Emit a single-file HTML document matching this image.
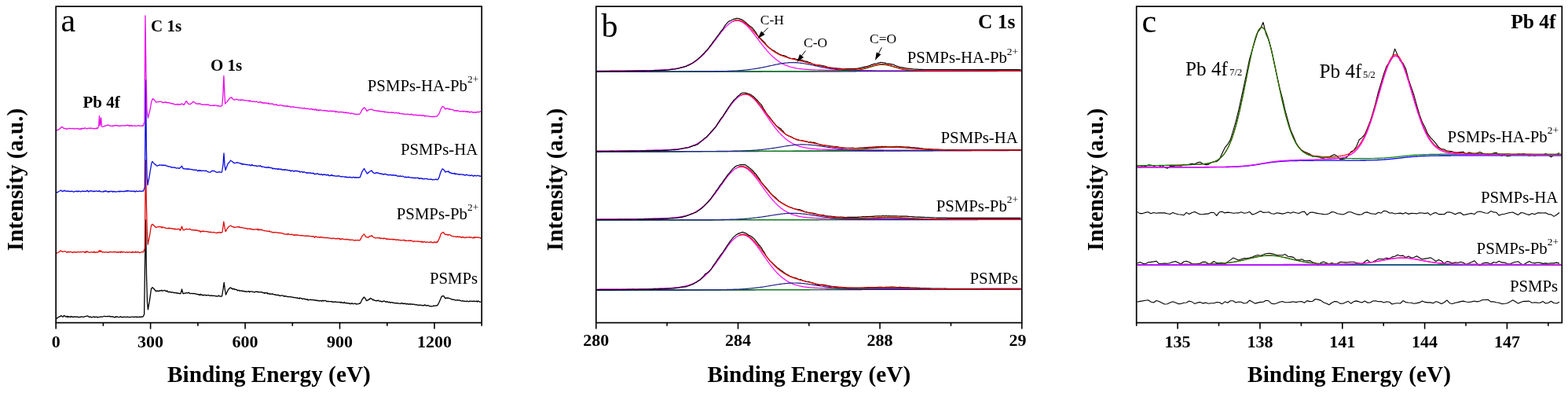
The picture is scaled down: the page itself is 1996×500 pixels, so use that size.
<!DOCTYPE html>
<html><head><meta charset="utf-8"><title>XPS spectra</title>
<style>
html,body{margin:0;padding:0;background:#fff;}
body{width:1996px;height:500px;overflow:hidden;}
svg{display:block;}
svg text{font-family:'Liberation Serif','Times New Roman',serif;fill:#000;}
</style></head><body>
<svg width="1996" height="500" viewBox="0 0 1996 500">
<rect width="1996" height="500" fill="#fff"/>
<g>
<path d="M71.8 404.8 L72.6 405 L73.5 403.9 L74.3 403.5 L75.2 403 L76 403 L76.9 402.2 L77.8 401.4 L78.8 402.4 L79.9 403.3 L81.4 401.4 L82.6 402.1 L83.8 402.9 L84.6 403.2 L85.5 402.1 L86.3 403.6 L87.2 402.7 L88 403.1 L88.9 403 L89.8 403.6 L90.6 402.4 L91.5 403 L92.3 403 L93.2 403.6 L94 403.2 L94.8 402.8 L95.6 403.2 L96.4 402.9 L97.2 403.2 L98 403.4 L98.8 402.9 L99.6 403.6 L100.4 403.6 L101.2 403.4 L102 403.6 L102.8 403 L103.6 403.2 L104.4 403 L105.2 403.2 L106 403.3 L106.9 403.3 L107.7 402.7 L108.6 402.6 L109.5 402.4 L110.4 402.1 L111.2 402 L112.1 402.1 L113.3 403.3 L114.1 403.3 L115 402.9 L115.8 403.4 L116.7 403.9 L117.5 403.5 L118.3 403.2 L119.2 403 L120 403 L120.9 403.8 L121.7 403.3 L122.5 403 L123.4 403.3 L124.2 404 L125.1 403.3 L125.9 403.4 L126.7 403.3 L127.6 403.1 L128.4 402.8 L129.3 403.1 L130.1 403.2 L130.9 402.9 L131.7 402.7 L132.5 402.4 L133.4 402.3 L134.2 402.6 L135.1 402.7 L136 402.7 L136.9 402.5 L137.7 402.7 L138.6 402.4 L139.5 402.2 L140.3 403 L141.2 402.8 L142.1 402.6 L143 403 L143.8 402.9 L144.7 403.4 L145.6 403.6 L146.5 403.9 L147.3 402.7 L148.2 403.3 L149 402.8 L149.8 403.1 L150.7 403.4 L151.5 403.6 L152.3 403.4 L153.1 402.6 L153.9 403.2 L154.7 403.6 L155.6 403.4 L156.4 403.6 L157.2 403.2 L158 403.2 L158.8 403.4 L159.7 403.4 L160.5 403.4 L161.3 403.3 L162.1 403.1 L162.9 403.4 L163.7 403.3 L164.6 403.7 L165.4 403.7 L166.2 403.3 L167 403.4 L167.8 403.2 L168.7 403.1 L169.5 403.4 L170.3 403.3 L171.1 403.1 L171.9 403.3 L172.8 403 L173.6 403.5 L174.4 403.1 L175.2 403.7 L176.1 403.4 L176.9 403.4 L177.7 402.8 L178.5 403.3 L179.3 403.5 L180.2 402.9 L181 403.1 L181.8 403.2 L182.7 401.6 L183.6 400 L184.6 330 L185.5 280 L186.5 350 L187.5 385 L188.4 393.8 L189.4 387.9 L190.5 382 L191.5 374.8 L192.5 367.5 L194 365.8 L195 366.6 L196 367.5 L196.8 368.5 L197.7 369.5 L198.5 370.5 L199.3 370.4 L200.1 369.9 L201 370.4 L201.8 370.5 L202.6 369.8 L203.4 370.2 L204.2 369.5 L205.1 369.9 L205.9 369.3 L206.7 370.2 L207.5 369.9 L208.4 369.6 L209.2 369.3 L210 369.5 L210.9 370.2 L211.7 370.8 L212.6 369.7 L213.4 371.1 L214.3 371.5 L215.1 371.3 L216 371.5 L216.8 371.2 L217.6 372 L218.5 371.8 L219.3 371.8 L220.1 371.7 L220.9 372.4 L221.8 372.6 L222.6 372.2 L223.4 372.7 L224.2 372.3 L225.1 373.1 L225.9 372.9 L226.7 373 L227.5 373.1 L228.4 373.6 L229.2 373.6 L230 373.5 L231.5 368 L233 373.5 L233.8 373.5 L234.7 373.2 L235.5 373 L236.3 373 L237.2 372.7 L238 372.5 L238.8 372.9 L239.6 372.6 L240.5 372 L241.3 373.3 L242.1 373.8 L242.9 373.3 L243.7 373.3 L244.5 373.4 L245.4 373.5 L246.2 373.6 L247 373.4 L247.8 373.7 L248.6 373.6 L249.5 374.2 L250.3 374.1 L251.1 374.5 L251.9 374.4 L252.7 374.9 L253.5 374.7 L254.4 375.5 L255.2 374.2 L256 375 L256.8 374.8 L257.7 375.4 L258.5 376.1 L259.3 375.2 L260.2 375.3 L261 375.3 L261.8 375.9 L262.7 375.4 L263.5 375.8 L264.3 375.6 L265.2 375.3 L266 375.9 L266.8 376 L267.7 376.4 L268.5 376 L269.3 375.9 L270.2 376.3 L271 376.2 L271.8 376.3 L272.6 376.4 L273.5 376.3 L274.3 376.8 L275.1 376.5 L275.9 377.1 L276.8 376.9 L277.6 376.8 L278.4 376 L279.2 376.8 L280 376.8 L280.9 377 L281.7 377.1 L282.5 376.8 L284 368 L285.2 359.5 L286.3 368 L287.5 375 L288.5 372.8 L289.5 370.7 L290.5 368.5 L291.3 367.7 L292.2 366.8 L293 366 L293.9 366.2 L294.7 367 L295.6 366.9 L296.4 368.1 L297.3 367.3 L298.1 367.5 L299 368.5 L299.9 368.1 L300.8 368.6 L301.6 368.7 L302.5 369.9 L303.4 369.3 L304.2 369.2 L305.1 370.2 L306 370 L306.8 369.9 L307.7 369.7 L308.5 370.5 L309.3 370.5 L310.2 370.2 L311 370.9 L311.8 370.5 L312.7 371.1 L313.5 370.8 L314.3 371.2 L315.2 370.8 L316 370.8 L316.8 370.4 L317.6 371.8 L318.4 370.8 L319.2 370.9 L320 370.8 L320.8 371 L321.6 371.2 L322.4 371.3 L323.2 371.5 L324 371.9 L324.8 371.3 L325.6 371 L326.4 371 L327.2 371.3 L328 371 L328.8 371.9 L329.6 371.5 L330.4 371.6 L331.2 371.7 L332 371.8 L332.8 371.4 L333.6 371.8 L334.4 372.4 L335.2 372.6 L336 372.3 L336.8 373.2 L337.6 372.3 L338.4 372.8 L339.2 372.9 L340 372.2 L340.8 374 L341.6 373.5 L342.4 373.2 L343.2 374.4 L344 374 L344.8 374.1 L345.6 373.9 L346.4 374.3 L347.2 373.8 L348 374.5 L348.8 374.9 L349.6 374.6 L350.4 374.9 L351.2 375.4 L352 375.2 L352.8 375.3 L353.6 375.5 L354.4 375.2 L355.2 375.9 L356 376.3 L356.8 376.1 L357.6 376.3 L358.4 375.8 L359.2 375.9 L360 375.9 L360.8 376.9 L361.6 376.5 L362.4 377.2 L363.2 376.6 L364 377 L364.8 377 L365.6 377.3 L366.4 377.7 L367.2 377.5 L368 377.6 L368.8 377.7 L369.6 377.9 L370.4 377.5 L371.2 378.1 L372 378.1 L372.8 378.2 L373.6 378.6 L374.4 378.3 L375.2 378.6 L376 378.6 L376.8 379 L377.6 379.2 L378.4 378.7 L379.2 379.4 L380 379.3 L380.8 380.1 L381.6 379 L382.4 379.3 L383.2 379.4 L384.1 379.8 L384.9 380.5 L385.7 380.1 L386.5 379.9 L387.3 380.5 L388.1 380.2 L388.9 380.9 L389.7 380.7 L390.5 381.2 L391.3 380.6 L392.1 382 L393 381.3 L393.8 381.4 L394.6 381.3 L395.4 381.1 L396.2 381.5 L397 381.3 L397.9 381.6 L398.7 381.5 L399.5 381.9 L400.4 381.6 L401.2 382.2 L402 382.4 L402.9 381.9 L403.7 382.6 L404.5 382.2 L405.3 382.8 L406.2 382.6 L407 382.9 L407.8 382.3 L408.7 382.6 L409.5 383.3 L410.3 382.6 L411.2 382.2 L412 383 L412.8 382.4 L413.6 382.3 L414.4 382.5 L415.3 383.1 L416.1 383.8 L416.9 383.2 L417.7 383.6 L418.5 383.5 L419.3 383.6 L420.1 383.6 L421 383.7 L421.8 383.9 L422.6 383.4 L423.4 384.3 L424.2 384.3 L425 384 L425.9 384.4 L426.7 383.9 L427.5 384 L428.3 384.3 L429.1 384.4 L430 384.4 L430.8 384.4 L431.6 384.4 L432.4 384.5 L433.3 385.1 L434.1 384.2 L434.9 385.1 L435.7 384.9 L436.6 385.3 L437.4 385.3 L438.2 384.3 L439 385.5 L439.9 385.5 L440.7 385.5 L441.5 385.4 L442.3 385.9 L443.2 385.6 L444 385.8 L444.8 386.5 L445.7 386.2 L446.5 386.8 L447.4 385.8 L448.2 385.6 L449.1 386.5 L449.9 386.6 L450.8 386.4 L451.6 386 L452.5 386.4 L453.3 386.9 L454.2 386.7 L455 386.8 L455.9 386.6 L456.8 386.3 L457.7 385.9 L458.6 386 L459.8 383.5 L461 381 L462.2 379.5 L463.4 378 L464.3 379 L465.2 379.8 L466.1 382.1 L467 382.6 L467.9 381.9 L468.7 381.8 L469.6 380.7 L470.5 380.9 L471.3 379.4 L472.2 379.6 L473.1 380.4 L474 380.6 L474.8 381.9 L475.7 381.2 L476.6 382.2 L477.4 382.3 L478.2 382.5 L479 382.9 L479.8 382.4 L480.6 382.7 L481.4 382 L482.3 382.6 L483.1 383.1 L483.9 383.4 L484.7 383 L485.5 383.9 L486.3 383.9 L487.1 383.4 L487.9 383.5 L488.7 382.8 L489.5 383.1 L490.3 383.5 L491.1 384.3 L491.9 384.1 L492.7 383.4 L493.5 384.1 L494.3 384.9 L495.1 384.3 L495.9 384.2 L496.7 385.3 L497.5 384.7 L498.3 384.6 L499.1 385 L499.9 385 L500.7 384.9 L501.5 385.6 L502.3 385.7 L503.1 385.4 L503.9 385.8 L504.7 385.5 L505.5 386 L506.3 385.6 L507.1 385.9 L507.9 386.1 L508.7 386.1 L509.5 386.5 L510.3 386.1 L511.1 385.4 L511.9 385.7 L512.7 386.6 L513.5 386.1 L514.3 386.4 L515.1 386 L515.9 386.7 L516.7 386.3 L517.5 387 L518.3 386.4 L519.1 386.6 L519.9 387.1 L520.7 387 L521.5 386.6 L522.3 387.3 L523.1 386.7 L523.9 386.8 L524.7 387.4 L525.5 387 L526.3 387.1 L527.2 387.3 L528 387.1 L528.8 387.9 L529.6 387.9 L530.4 387.7 L531.2 387.8 L532 388 L532.8 388.6 L533.6 388.3 L534.4 387.9 L535.2 388.2 L536 388.5 L536.8 388.3 L537.6 388.3 L538.4 389.1 L539.2 388.4 L540 388.4 L540.8 387.9 L541.6 388.2 L542.4 388.9 L543.2 388.6 L544 389 L544.8 388.5 L545.6 388.7 L546.4 389.3 L547.2 389.6 L548 389.4 L548.8 389.6 L549.6 389.9 L550.4 389.7 L551.2 389.4 L552.1 388.9 L553.1 389.1 L554 389.2 L554.9 388.7 L555.9 388.9 L556.8 388.6 L557.6 387.1 L558.4 385.7 L559.2 384.2 L560.1 381.9 L561.1 379.7 L562 377.4 L563 376.9 L564 376.4 L564.8 376.7 L565.6 377.8 L566.4 379.1 L567.2 379.8 L568 378.9 L568.8 379.2 L569.6 379.5 L570.4 378.8 L571.2 379.3 L572 379.7 L572.8 379.7 L573.6 380.2 L574.4 380.6 L575.2 381 L576 381.2 L576.8 381 L577.6 381.3 L578.4 381.2 L579.2 381.7 L580 382.2 L580.8 381.8 L581.6 381.9 L582.4 381.5 L583.2 382.2 L584.1 381.8 L584.9 381.9 L585.7 382.5 L586.5 382.5 L587.3 382.9 L588.1 383.1 L588.9 382.5 L589.7 382.8 L590.5 383.5 L591.3 383 L592.1 383.4 L592.9 383.3 L593.7 383.5 L594.5 382.9 L595.3 383.4 L596.1 383.7 L597 383.8 L597.8 383 L598.6 383.2 L599.4 383.4 L600.2 383.2 L601 383.2 L601.8 383.6 L602.6 383.3 L603.4 382.8 L604.2 383.6 L605 383.4 L605.8 383.3 L606.6 383 L607.5 384 L608.3 382.9 L609.1 383.1 L609.9 383.6 L610.7 384.2 L611.5 384.2 L612.3 383.8" fill="none" stroke="#000000" stroke-width="1.3" stroke-linejoin="round" />
<path d="M71.5 322.4 L72.5 321.9 L73.5 321.5 L74.5 321 L75.3 320.4 L76.1 320.1 L76.9 318.9 L77.7 319.2 L78.8 319.9 L80 320.5 L81 320 L82 319.5 L83 319.9 L84 320.4 L85 320.8 L85.8 321.4 L86.6 320.2 L87.4 320.5 L88.2 321 L89 320.4 L89.8 320.4 L90.6 320.5 L91.5 321 L92.3 321.6 L93.1 320.8 L93.9 320.4 L94.7 321 L95.5 320.6 L96.3 320.8 L97.1 321.2 L97.9 320.5 L98.7 320.8 L99.5 320.5 L100.3 320.7 L101.1 320.9 L101.9 320.5 L102.7 320.7 L103.5 320.7 L104.4 320.6 L105.2 320.4 L106 320.3 L106.8 320.7 L107.6 320.7 L108.4 321.6 L109.2 319.9 L110 320.8 L111 319.8 L112 320.8 L112.8 320.8 L113.6 320.9 L114.4 321.3 L115.2 321 L116.1 320.5 L116.9 320.8 L117.7 321 L118.5 320.7 L119.3 321.1 L120.1 320.1 L120.9 321.4 L121.8 321.3 L122.6 320.7 L123.4 321 L124.2 320.8 L125 320.8 L126.5 318.5 L127.3 320.5 L128.3 318.9 L129.5 320.5 L131 320.8 L131.8 320.5 L132.6 320.8 L133.4 321.2 L134.2 320.7 L135 320.7 L135.8 320.8 L136.6 321 L137.4 321.2 L138.2 320.6 L139 321 L139.9 320.9 L140.7 320.1 L141.5 320.7 L142.3 320.8 L143.1 320.8 L143.9 320.9 L144.7 320.1 L145.5 320.8 L146.3 320.6 L147.1 320.3 L147.9 321 L148.7 321.1 L149.5 320.6 L150.3 321.1 L151.1 320.7 L151.9 320.8 L152.7 320.4 L153.5 321.4 L154.3 319.9 L155.1 320.8 L155.9 321 L156.8 320.1 L157.6 320.7 L158.4 320.8 L159.2 321.1 L160 321.2 L160.8 320.7 L161.6 320.3 L162.4 321.3 L163.2 321.2 L164 320.6 L164.8 320.9 L165.6 320.9 L166.4 321 L167.2 320.9 L168 321.3 L168.8 320.2 L169.6 321.2 L170.4 320.9 L171.2 320.7 L172 321.2 L172.8 320 L173.6 321.2 L174.5 320.9 L175.3 320.4 L176.1 321 L176.9 320.7 L177.7 321.7 L178.5 321.4 L179.3 321 L180.1 320.5 L180.9 320.6 L181.7 320.7 L182.5 320.8 L183.4 318.4 L184.3 316 L185.4 204 L186.4 260 L187.3 295 L188.2 311 L189.3 305.5 L190.5 300 L191.5 293.5 L192.5 287 L194 285.2 L195 286.1 L196 287 L196.8 287.8 L197.7 288.7 L198.5 289.5 L199.3 289.1 L200.1 288.8 L200.9 288.7 L201.7 288.6 L202.5 288.5 L203.3 288.5 L204.2 288.6 L205.1 288.6 L205.9 290 L206.8 288.7 L207.6 289 L208.4 289.7 L209.3 289.6 L210.2 290 L211 290 L211.8 290.4 L212.7 290.6 L213.5 290.6 L214.3 290.1 L215.2 290.9 L216 290 L216.8 290.7 L217.7 290.6 L218.5 290.5 L219.3 291.2 L220.2 291 L221 291.2 L221.8 291.6 L222.6 290.9 L223.5 291.8 L224.3 291.7 L225.1 291.7 L225.9 291.2 L226.7 291.7 L227.5 291.4 L228.4 291.3 L229.2 293.3 L230 292.2 L231.5 288 L233 292.5 L233.9 292.6 L234.8 292.6 L235.7 291.6 L236.6 291.7 L237.5 291.2 L238.3 291.6 L239.2 291.7 L240.1 291.6 L240.9 291.6 L241.8 291.1 L242.6 292.2 L243.4 292.3 L244.3 292.6 L245.2 292.3 L246 292.5 L246.8 293.2 L247.7 292.6 L248.5 292.4 L249.3 293.3 L250.2 293 L251 292.8 L251.8 293.4 L252.7 293.8 L253.5 293.7 L254.3 293.9 L255.2 295.3 L256 294 L256.8 294.4 L257.7 294.7 L258.5 293.6 L259.3 294.5 L260.2 294.7 L261 294.4 L261.8 294.3 L262.7 294.8 L263.5 294.6 L264.3 294.6 L265.2 295.3 L266 295 L266.8 295.6 L267.7 295.3 L268.5 295.1 L269.3 295.6 L270.2 295.8 L271 295.8 L271.8 295.2 L272.7 295.7 L273.5 296 L274.3 296.2 L275.2 296.4 L276 296.2 L276.9 296.4 L277.8 295.6 L278.6 295.7 L279.5 295.4 L280.4 296.4 L281.2 295.7 L282.1 295.8 L283 295.5 L284 288 L284.8 282 L285.8 288 L287 294.5 L287.8 293.7 L288.6 292 L289.4 290.5 L290.2 289.6 L291 288.5 L291.8 288 L292.7 287.5 L293.5 287 L294.4 287.4 L295.3 288.4 L296.2 288.6 L297.2 288.3 L298.1 289.3 L299 289.5 L300 289.2 L301 288.8 L302 288.5 L302.8 289 L303.6 288.5 L304.4 289.1 L305.2 288.7 L306 289.5 L306.8 289.7 L307.7 289.6 L308.5 289.4 L309.3 289.8 L310.2 290.2 L311 290.1 L311.8 290.5 L312.7 290.7 L313.5 290.3 L314.3 290.6 L315.2 291.6 L316 291 L316.8 291.1 L317.6 290.9 L318.4 291.3 L319.2 290.9 L320 291.8 L320.8 291.6 L321.6 291.9 L322.4 292 L323.2 291.9 L324 292.1 L324.8 291.9 L325.6 291.7 L326.4 291.7 L327.2 292 L328 291.3 L328.8 292.9 L329.6 291.8 L330.4 292.4 L331.2 292.1 L332 292.6 L332.8 292 L333.6 292.9 L334.4 292.9 L335.2 293.1 L336 293.5 L336.8 293.3 L337.6 293.7 L338.4 293.9 L339.2 293.8 L340 294 L340.8 294.4 L341.6 294.4 L342.4 294.5 L343.2 293.8 L344 294.8 L344.8 295.1 L345.6 295 L346.4 295.3 L347.2 296 L348 295.5 L348.8 295.6 L349.6 296 L350.4 295.5 L351.2 295.7 L352 295.9 L352.8 295.8 L353.6 296.3 L354.4 296.1 L355.2 296.5 L356 296.1 L356.8 296.2 L357.6 296.6 L358.4 296.6 L359.2 296.9 L360 297 L360.8 297.2 L361.6 297.8 L362.4 298 L363.2 297.9 L364 297.8 L364.8 297.8 L365.6 298.5 L366.4 297.5 L367.2 297.4 L368 298.3 L368.8 298.3 L369.6 298.3 L370.4 298.5 L371.2 297.9 L372 298.2 L372.8 299.1 L373.6 299.1 L374.4 298.6 L375.2 299.6 L376 298.6 L376.8 298.9 L377.6 299.3 L378.4 298.8 L379.2 299.1 L380 299.4 L380.8 299.4 L381.6 299.4 L382.4 299.9 L383.2 299.9 L384.1 299.4 L384.9 299.6 L385.7 300 L386.5 299.9 L387.3 299.8 L388.1 300.2 L388.9 300.5 L389.7 300 L390.5 300.6 L391.3 299.8 L392.1 299.9 L393 300.7 L393.8 300.3 L394.6 300.3 L395.4 300.6 L396.2 300.8 L397 300.6 L397.9 301.1 L398.7 300.5 L399.5 301 L400.4 302.3 L401.2 301.3 L402 300.6 L402.9 301.6 L403.7 301.7 L404.5 302 L405.3 301.7 L406.2 301.5 L407 302.3 L407.8 302.1 L408.7 301.3 L409.5 302.2 L410.3 302 L411.2 302.5 L412 302.2 L412.8 302.1 L413.6 302.6 L414.4 302.5 L415.3 302.7 L416.1 302.5 L416.9 302.4 L417.7 302.7 L418.5 302.9 L419.3 302.9 L420.1 303.4 L421 303.1 L421.8 303.2 L422.6 303.8 L423.4 303.1 L424.2 303.4 L425 303 L425.9 303.3 L426.7 303.9 L427.5 303.5 L428.3 303.5 L429.1 304.1 L430 303.3 L430.8 303.2 L431.6 303.9 L432.4 303.4 L433.3 304.8 L434.1 304.4 L434.9 303.6 L435.7 304.1 L436.6 304 L437.4 304.4 L438.2 304.3 L439 304.7 L439.9 305 L440.7 304.4 L441.5 304.2 L442.3 304.9 L443.2 304.7 L444 304.8 L444.8 305.3 L445.7 304.9 L446.5 305.3 L447.4 305.2 L448.2 305.1 L449.1 305.1 L449.9 305.5 L450.8 306.2 L451.6 305.7 L452.5 305.4 L453.3 305.8 L454.2 305.7 L455 305.7 L456.1 305.3 L457.1 305.8 L458.2 305.7 L459 304.1 L459.8 302.6 L460.6 301 L461.5 299.9 L462.5 298.9 L463.4 297.8 L464.2 299 L465 300.2 L465.8 301.4 L467 301.7 L468.2 302 L469 302.1 L469.8 301.1 L470.6 300.4 L471.4 300.6 L472.2 300.6 L473 299.6 L474.2 300.7 L475.4 301.8 L476.2 302.2 L477.1 302.4 L477.9 302.9 L478.7 302.8 L479.6 302.6 L480.4 302.4 L481.2 302.6 L482.1 302.7 L482.9 303.1 L483.8 302.6 L484.6 303.6 L485.4 303.2 L486.3 303.1 L487.1 303.4 L487.9 303.8 L488.7 302.8 L489.5 303.3 L490.3 303.5 L491.1 304.1 L491.9 303.7 L492.7 304.5 L493.5 303.9 L494.3 304.3 L495.1 304 L495.9 304.7 L496.7 304.3 L497.5 304.6 L498.3 304.3 L499.1 304.2 L499.9 304.6 L500.7 305.1 L501.5 304.5 L502.3 304.4 L503.1 305 L503.9 305 L504.7 305.4 L505.5 304.8 L506.3 305 L507.1 305.4 L507.9 305.2 L508.7 305.5 L509.5 305.9 L510.3 305.5 L511.1 305.6 L511.9 305.9 L512.7 305.7 L513.5 305.4 L514.3 305.5 L515.1 305.5 L515.9 306.6 L516.7 306 L517.5 306.3 L518.3 306.4 L519.1 306.2 L519.9 305.9 L520.7 306.6 L521.5 306.2 L522.3 305.7 L523.1 306.5 L523.9 306.2 L524.7 306.6 L525.5 306.9 L526.3 307.6 L527.2 306.7 L528 306.9 L528.8 307.2 L529.6 307.2 L530.4 307.1 L531.2 306.9 L532 307 L532.8 307.3 L533.6 307.1 L534.4 307.3 L535.2 307.6 L536 307.2 L536.8 308.1 L537.6 307.2 L538.4 308.4 L539.2 307.6 L540 307.5 L540.8 307.5 L541.6 308.2 L542.4 308.4 L543.2 307.8 L544 308.2 L544.8 308.1 L545.6 308.1 L546.4 308.3 L547.2 308.5 L548 307.6 L548.8 307.6 L549.6 308.5 L550.4 308.4 L551.2 308.5 L552.1 308.7 L553.1 307.8 L554 308 L554.9 308.8 L555.9 307.8 L556.8 308.2 L557.6 306.6 L558.4 305 L559.2 303.4 L560.4 300.2 L561.6 297 L562.5 296.5 L563.5 295.9 L564.4 295.4 L565.4 296.8 L566.4 298.2 L567.2 298.5 L568 298.2 L568.8 298.5 L569.6 298.3 L570.4 299.3 L571.2 298.3 L572 298.7 L572.8 298.9 L573.6 299.4 L574.7 300.2 L575.7 300.3 L576.8 300.6 L577.6 300.9 L578.4 300.8 L579.2 300.9 L580 301.1 L580.8 301.6 L581.6 301.2 L582.4 300.7 L583.2 301.7 L584 301.4 L584.9 301.1 L585.7 301.5 L586.5 301.3 L587.3 302.5 L588.1 301.7 L588.9 301.2 L589.7 302.1 L590.5 301.8 L591.3 302.2 L592.1 302.7 L592.9 302.2 L593.7 301.6 L594.5 302 L595.3 301.8 L596.1 301.9 L597 302 L597.8 301.5 L598.6 302.3 L599.4 301.9 L600.2 301.9 L601 302.5 L601.8 302.9 L602.6 302 L603.4 302.8 L604.2 301.5 L605 302.4 L605.8 302 L606.6 302.2 L607.5 301.9 L608.3 302 L609.1 302.1 L609.9 302.1 L610.7 302.3 L611.5 303 L612.3 302.2" fill="none" stroke="#e00a0a" stroke-width="1.3" stroke-linejoin="round" />
<path d="M71.5 245.3 L72.5 244.8 L73.5 244.3 L74.5 243.8 L75.5 243.2 L76.4 242.7 L77.4 242.1 L78.6 242.9 L79.8 243.7 L80.8 242.9 L81.9 242.1 L82.8 243.1 L83.7 243 L84.5 243.2 L85.4 243.5 L86.2 242.9 L87 243.4 L87.8 243.4 L88.6 243.5 L89.5 243.3 L90.3 243.5 L91.1 243.4 L91.9 243.1 L92.7 243.9 L93.5 243.9 L94.3 244.2 L95.1 243.6 L95.9 243.4 L96.8 243.4 L97.6 243 L98.4 243.9 L99.2 243.2 L100 243.6 L100.8 243.2 L101.7 243.5 L102.5 244 L103.3 243.6 L104.2 243.1 L105 243.2 L105.8 243.6 L106.7 243.3 L107.5 243.1 L108.3 243.3 L109.2 243.6 L110 243.3 L111 242.2 L112 243.4 L112.8 244.1 L113.6 243 L114.4 243.2 L115.2 243.1 L116 242.6 L116.9 243.1 L117.7 243.1 L118.5 243.8 L119.3 243.4 L120.1 242.9 L120.9 243.7 L121.7 243.3 L122.5 242.8 L123.3 243.3 L124.1 243.3 L124.9 243.2 L125.7 243.5 L126.6 242.7 L127.4 243.4 L128.2 243.8 L129 243.8 L129.8 243.9 L130.6 243.9 L131.4 244 L132.2 243.1 L133 243.8 L133.8 242.9 L134.6 243.3 L135.4 242.9 L136.3 243.9 L137.1 244 L137.9 243.5 L138.7 244.2 L139.5 243.3 L140.3 243.6 L141.1 243.6 L141.9 243.2 L142.7 243.7 L143.5 244.2 L144.3 243.2 L145.1 243.9 L146 243.5 L146.8 244.2 L147.6 243.8 L148.4 243.8 L149.2 243.8 L150 243.6 L150.8 243.7 L151.7 243.1 L152.5 244 L153.3 243.1 L154.2 243.6 L155 243.7 L155.8 243.2 L156.7 243.5 L157.5 243.9 L158.3 243.4 L159.2 243.1 L160 243.4 L161 242.5 L162 243.4 L162.8 242.4 L163.6 243 L164.5 243.2 L165.3 243.2 L166.1 243 L166.9 243.5 L167.7 243.1 L168.6 243.3 L169.4 243.6 L170.2 243 L171 243.2 L171.8 244.1 L172.7 243.6 L173.5 242.8 L174.3 243.3 L175.1 243.5 L175.9 243.7 L176.8 243.3 L177.6 243.1 L178.4 243 L179.2 243.5 L180 243.3 L180.9 243 L181.7 243.1 L182.5 243.2 L183.4 240.6 L184.3 238 L185.5 102 L186.4 190 L187 222 L188 235.5 L188.8 231 L189.7 226.5 L190.5 222 L191.3 217 L192.2 212 L193 207 L194 205.5 L195 206.8 L196 208 L196.8 208.5 L197.6 209.5 L198.4 209.7 L199.2 210.7 L200 211.2 L201 210.7 L202 210.3 L203 209.8 L203.9 210.2 L204.8 210.1 L205.6 209.8 L206.5 210.6 L207.4 210 L208.2 210.5 L209.1 210.1 L210 210.5 L210.9 210.1 L211.7 211.1 L212.6 211.3 L213.4 211.4 L214.3 211.8 L215.1 211.7 L216 212.2 L216.8 212.1 L217.7 212.4 L218.5 213.3 L219.3 213 L220.2 212.7 L221 213 L221.9 213.4 L222.8 213.2 L223.6 213.4 L224.5 214.1 L225.4 213.8 L226.2 213.5 L227.1 214 L228 214.5 L228.9 213.7 L229.8 212.9 L230.6 212.5 L231.5 211.2 L233 214.5 L233.8 214.3 L234.6 214.9 L235.4 214.9 L236.2 214.7 L237 215.1 L237.8 215.1 L238.6 214.7 L239.4 215.4 L240.2 214.7 L241 215.2 L241.8 215.4 L242.7 215.5 L243.5 215.7 L244.3 215.5 L245.2 215.9 L246 216 L246.8 216.5 L247.7 216 L248.5 216.4 L249.3 216.4 L250.2 216.2 L251 216.8 L251.8 217.8 L252.7 216.9 L253.5 216.5 L254.3 217.5 L255.2 216.7 L256 217.3 L256.8 217.5 L257.7 217 L258.5 217.2 L259.3 217.2 L260.2 217.4 L261 217.5 L261.9 217.1 L262.8 217.4 L263.6 218 L264.5 218.6 L265.4 218.7 L266.2 219.2 L267.1 219.1 L268 219 L269 218.1 L270 217.2 L270.9 217.3 L271.7 217.7 L272.6 217.3 L273.4 218 L274.3 218.3 L275.1 219 L276 219.2 L276.8 219.4 L277.6 219 L278.4 218.9 L279.2 218.6 L280.1 219 L280.9 219.1 L281.7 219.2 L282.5 219 L283.9 210 L285 195 L286 210 L287 216.5 L288 213.8 L289 211.2 L290 208.5 L290.9 207.1 L291.8 206.9 L292.6 205.5 L293.5 204 L294.4 204.7 L295.3 205.2 L296.2 206 L297.1 206.9 L298 207.5 L298.8 207.3 L299.6 207.3 L300.4 207.2 L301.2 207.2 L302 206.5 L302.8 207.2 L303.6 207.1 L304.4 207.5 L305.2 207.6 L306 208 L306.8 207.9 L307.7 209 L308.5 208.3 L309.3 209.3 L310.2 208.6 L311 209 L311.8 209.4 L312.7 209.2 L313.5 209.5 L314.3 209.4 L315.2 209.5 L316 209.8 L316.8 209.8 L317.6 209.7 L318.4 210.6 L319.2 210.1 L320 210.8 L320.8 209.3 L321.6 210.4 L322.4 210.6 L323.2 210.4 L324 211 L324.8 210.9 L325.6 210.7 L326.4 211 L327.2 211.9 L328 211.1 L328.8 211.2 L329.6 211 L330.4 211.3 L331.2 210.9 L332 211.4 L332.8 211.5 L333.6 212.5 L334.4 212.2 L335.2 212.2 L336 212.5 L336.8 212.9 L337.6 212.6 L338.4 213.2 L339.2 213 L340 212.9 L340.8 213.5 L341.6 212.3 L342.4 213 L343.2 213.5 L344 213.2 L344.8 213.6 L345.6 213.6 L346.4 213.7 L347.2 215 L348 214.2 L348.8 214.5 L349.6 214.4 L350.4 215 L351.2 214.5 L352 215 L352.8 214.9 L353.6 215.5 L354.4 214.5 L355.2 215.4 L356 215.2 L356.8 214.9 L357.6 215.8 L358.4 215.2 L359.2 216.2 L360 215.9 L360.8 216 L361.6 215.9 L362.4 216.3 L363.2 215.4 L364 216.2 L364.8 216.3 L365.6 216.2 L366.4 216.6 L367.2 216.6 L368.1 216.9 L368.9 216.5 L369.7 217.5 L370.5 217.8 L371.3 217 L372.1 217.2 L372.9 217.4 L373.7 217.8 L374.5 218.2 L375.3 217.2 L376.1 217.5 L377 217.4 L377.8 217.5 L378.6 217.4 L379.4 218.2 L380.2 218.2 L381 217.9 L381.8 219 L382.6 218.9 L383.4 218.3 L384.2 218.4 L385 218.7 L385.8 219.5 L386.6 218.8 L387.4 218.7 L388.2 219.3 L389 219.6 L389.8 219.3 L390.6 220.3 L391.4 219.9 L392.2 220.1 L393 219.7 L393.8 220.1 L394.6 220.2 L395.4 219.6 L396.2 220.5 L397 220.7 L397.8 220.1 L398.6 220.8 L399.4 220.3 L400.2 221.7 L401 221.2 L401.8 221.4 L402.6 221.5 L403.4 220.8 L404.2 220.6 L405 221.4 L405.8 221.9 L406.6 221.7 L407.4 222 L408.2 222.2 L409 221.4 L409.8 222.1 L410.6 222.8 L411.4 222 L412.2 222.3 L413 221.7 L413.8 222.4 L414.6 222.4 L415.4 222.8 L416.2 222.4 L417 222.8 L417.8 222.1 L418.6 223.3 L419.4 223.6 L420.2 223.6 L421.1 222.7 L421.9 223.4 L422.7 222.4 L423.5 223.6 L424.3 223.6 L425.1 223.3 L425.9 223.9 L426.7 223.9 L427.5 224.2 L428.3 224 L429.1 224.1 L429.9 224.2 L430.7 223.5 L431.5 223.9 L432.3 224.2 L433.1 224.6 L433.9 224.5 L434.7 225.1 L435.5 224.4 L436.3 224.7 L437.1 224.9 L437.9 224.8 L438.7 225.1 L439.5 224.9 L440.3 225.6 L441.1 225.1 L441.9 225.7 L442.7 225.3 L443.5 225.9 L444.3 225.5 L445.1 225.1 L445.9 225.8 L446.8 225.5 L447.6 225.8 L448.4 226.2 L449.2 225.4 L450.1 225.4 L450.9 225.6 L451.7 226.1 L452.5 225.4 L453.4 226.1 L454.2 225.7 L455 226.2 L456.1 225.7 L457.1 225.8 L458.2 225.8 L459.1 223.3 L460.1 220.7 L461 218.2 L461.9 217 L462.8 215.7 L463.7 214.5 L464.5 216.2 L465.4 217.8 L466.4 219.4 L467.4 221 L468.2 220.5 L469 219.5 L469.8 218.9 L470.6 218.5 L471.4 217.7 L472.2 217.2 L473.1 217 L474 218.5 L474.9 219.5 L475.8 220.2 L476.9 220.4 L477.9 220.5 L479 219.6 L479.8 220 L480.6 220 L481.4 219.8 L482.2 220.4 L483.1 220.8 L483.9 221.1 L484.7 220.6 L485.5 221.1 L486.3 221.5 L487.1 221.4 L487.9 222.1 L488.7 221.7 L489.5 221.5 L490.3 221.5 L491.1 221.7 L491.9 221.7 L492.7 222.4 L493.5 222.5 L494.3 222.5 L495.1 222.8 L495.9 222.3 L496.7 222.7 L497.5 222.5 L498.3 222.7 L499.1 223.3 L499.9 222.9 L500.7 222.4 L501.5 223 L502.3 223 L503.1 223.3 L503.9 222.9 L504.7 223.2 L505.5 224 L506.3 224.3 L507.1 223.7 L507.9 224.3 L508.7 224.4 L509.5 223.7 L510.3 224.2 L511.1 224.3 L511.9 224.5 L512.7 224 L513.5 224.5 L514.3 225.1 L515.1 225.3 L515.9 225.6 L516.7 225 L517.5 225.8 L518.3 225.5 L519.1 225.4 L519.9 225 L520.7 225.8 L521.5 225.5 L522.3 225.9 L523.1 225.8 L523.9 226.3 L524.7 226 L525.5 225.9 L526.3 226.5 L527.2 226.3 L528 226.1 L528.8 226.8 L529.6 226.3 L530.4 226.3 L531.2 226.4 L532 226.2 L532.8 226.6 L533.6 227.5 L534.4 226.6 L535.2 227 L536 227.1 L536.8 226.8 L537.6 227 L538.4 227.9 L539.2 227.7 L540 227.3 L540.8 227.6 L541.6 227.4 L542.4 227.4 L543.2 227.5 L544 227.6 L544.8 228.1 L545.6 228.2 L546.4 228.3 L547.2 228.1 L548 227.8 L548.8 228.3 L549.6 228.1 L550.4 228.8 L551.2 228.6 L552.1 228.7 L553 228.7 L553.9 228.3 L554.9 227.7 L555.8 228.6 L556.7 228.7 L557.6 228.2 L558.4 226.6 L559.2 225 L560.8 219.4 L561.6 217.9 L562.4 216.3 L563.2 214.8 L564.8 215.8 L565.8 217.4 L566.8 219 L567.7 218.2 L568.6 218.4 L569.5 218.5 L570.4 217.8 L571.2 218 L572 219.6 L572.8 219.5 L573.6 220.2 L574.4 219.9 L575.2 220.9 L576 220.7 L576.8 220.5 L577.6 221.1 L578.5 220.3 L579.3 221.7 L580.1 220.9 L580.9 221.4 L581.7 221.3 L582.5 221.7 L583.3 221.7 L584.1 222.1 L584.9 221.6 L585.7 222.2 L586.5 221.9 L587.3 221.9 L588.1 222.1 L588.9 221.9 L589.7 222.1 L590.5 222.8 L591.3 222.5 L592.1 223 L592.9 222.9 L593.7 222.4 L594.5 222.2 L595.3 222.7 L596.1 223.2 L596.9 223.1 L597.7 222.9 L598.5 223.7 L599.3 223.4 L600.1 222.8 L600.9 223 L601.7 223.5 L602.5 224.2 L603.4 223.6 L604.2 223.1 L605 223.7 L605.8 223.7 L606.6 223.8 L607.4 223.4 L608.2 223.3 L609 223.6 L609.9 223.7 L610.7 224.1 L611.5 224.3 L612.3 223.6" fill="none" stroke="#0a0ae0" stroke-width="1.3" stroke-linejoin="round" />
<path d="M71.5 166.2 L72.5 165.7 L73.5 165.3 L74.5 164.8 L75.3 164.2 L76.2 163.8 L77 162.7 L77.8 162.5 L79 161.3 L80.5 162.8 L81.3 163.4 L82.2 163.4 L83 163.3 L83.8 164.2 L84.6 163.8 L85.5 164.1 L86.3 163.9 L87.2 163.2 L88 163.5 L88.8 163.7 L89.6 163.5 L90.4 163.7 L91.2 163.7 L92 163.2 L92.8 163.7 L93.6 163.4 L94.4 164.2 L95.2 163.9 L96 163.7 L96.8 163.4 L97.6 163.8 L98.4 163.8 L99.2 163.4 L100 163.8 L100.8 164.5 L101.6 163.9 L102.4 164.3 L103.2 163.3 L104 164.2 L104.8 163.1 L105.6 163.3 L106.4 163.7 L107.2 163.5 L108 162.6 L108.8 163 L109.6 163.6 L110.4 164 L111.2 163.6 L112 163.2 L112.8 163.1 L113.6 163.5 L114.4 162.9 L115.2 163.5 L116 162.8 L116.8 163.3 L117.6 163.3 L118.5 163.6 L119.3 163.3 L120.1 163.8 L120.9 163.4 L121.7 163.7 L122.5 163.7 L123.3 162.8 L124.1 163.5 L125.6 161 L126.5 147.5 L127.4 159.8 L128.6 149.9 L129.5 161 L130.4 161.3 L131.3 161 L132.2 160.7 L133.1 160.4 L133.9 160.2 L134.7 160 L135.6 159.5 L136.4 159.7 L137.2 158.9 L138 159.2 L138.9 159.6 L139.8 160.1 L140.6 160.3 L141.5 160.2 L142.3 160.1 L143.2 160.8 L144 160 L144.8 159.9 L145.7 159.6 L146.5 159.9 L147.4 159.4 L148.2 159.7 L149 160.2 L149.8 159.5 L150.6 159.8 L151.4 160.4 L152.2 160.1 L153 159.8 L153.8 160.2 L154.6 159.7 L155.4 160 L156.2 159.8 L157 159.5 L157.8 159.9 L158.6 160.1 L159.4 159.7 L160.2 159.8 L161 159.4 L161.8 159.7 L162.6 159 L163.4 159.7 L164.2 159.5 L165 160.6 L165.8 159.7 L166.6 159.4 L167.4 160.3 L168.2 159.9 L169 160 L169.8 160.1 L170.6 160.1 L171.4 159.9 L172.2 160.1 L173 160.4 L173.9 160.2 L174.8 159.9 L175.6 159.9 L176.4 159.6 L177.3 160 L178.2 160.2 L179 160.1 L179.8 160.1 L180.7 159.8 L181.6 160.4 L182.4 159.8 L184 155 L184.9 19.9 L185.9 90 L187 140 L188.4 150 L189.2 146.9 L190 143.7 L190.8 140.6 L191.8 135 L192.8 129.4 L194.4 125.4 L195.4 126.2 L196.4 127 L197.2 128.1 L198 129.1 L198.8 130.2 L199.9 129.9 L200.9 129.7 L202 129.4 L203.1 129.3 L204.1 129.4 L205.2 129.4 L206 129.6 L206.8 130.7 L207.6 130.4 L208.4 130.6 L209.2 129.9 L210 130.3 L210.8 129.9 L211.6 130.6 L212.4 130.2 L213.3 130.9 L214.3 130.4 L215.2 131 L216.1 130.9 L217.1 131.3 L218 131.4 L218.8 132.2 L219.6 131.7 L220.4 131.6 L221.2 132.5 L222 132.6 L222.8 132.8 L223.6 133.2 L224.4 133 L225.3 132.8 L226.3 132.3 L227.2 133.4 L228.1 132.9 L229.1 132.6 L230 133 L231.6 131.8 L232.4 132.4 L233.2 133 L234 133.6 L235 131.9 L236 130.3 L237 128.6 L237.8 129.2 L238.7 131 L239.6 131.7 L240.4 132.6 L241.5 132.4 L242.5 132.4 L243.6 131.8 L244.6 130.6 L245.6 129.4 L246.5 129.7 L247.4 130.1 L248.2 130.8 L249.1 131.3 L250 132.2 L250.8 132.1 L251.6 131.8 L252.4 132.1 L253.2 131.9 L254 132 L254.8 132 L255.9 132.6 L256.9 133.2 L258 133 L258.9 133.5 L259.8 133 L260.7 133.1 L261.6 132.8 L262.5 133.4 L263.4 133.5 L264.3 132.8 L265.2 133 L266 133.6 L266.8 134.2 L267.7 134.5 L268.6 134.1 L269.5 134.1 L270.4 134.3 L271.3 134.1 L272.2 134.5 L273.1 133.7 L274 134.2 L274.9 134.1 L275.8 134.5 L276.7 134.3 L277.7 135 L278.6 134.5 L279.5 135.2 L280.4 135.4 L281.2 135 L282 134.6 L282.8 134.2 L283.9 120 L284.9 96.4 L285.9 120 L286.6 132.2 L287.5 130.7 L288.3 130.1 L289.1 129.4 L290 128.2 L291.2 126.6 L292.4 125 L293.4 124.4 L294.4 123.8 L295.3 124.7 L296.3 125.7 L297.2 126.6 L298 127.3 L298.8 126.8 L299.6 126.9 L300.4 126.3 L301.2 126.2 L302 126.6 L302.8 127 L303.6 127.4 L304.8 127.1 L306 126.8 L306.8 127.7 L307.7 127 L308.5 127.1 L309.3 126.9 L310.2 127.5 L311 128 L311.8 127.5 L312.7 127.7 L313.5 127.8 L314.3 128 L315.2 128.1 L316 128.4 L316.8 128 L317.6 129.1 L318.4 128 L319.2 128.4 L320 129 L320.8 129.3 L321.6 129 L322.4 129 L323.2 129.2 L324 129.2 L324.8 129.7 L325.6 129.3 L326.4 129.2 L327.2 129.5 L328 129.8 L328.8 130.3 L329.6 130.5 L330.4 129.9 L331.2 129.6 L332 130.2 L332.8 129.8 L333.6 131.2 L334.4 130.4 L335.2 130.8 L336 131.5 L336.8 130.7 L337.6 131 L338.4 131 L339.2 130.9 L340 131.7 L340.8 131.9 L341.6 131 L342.4 132.1 L343.2 131.8 L344 132.1 L344.8 132.2 L345.6 131.8 L346.4 132.3 L347.2 132.1 L348 132.6 L348.8 133.4 L349.6 133.6 L350.4 133 L351.2 132.7 L352 133.6 L352.8 133.3 L353.6 134.1 L354.4 134.2 L355.2 134.3 L356 133.7 L356.8 133.6 L357.6 133.8 L358.4 134.1 L359.2 134 L360 134.8 L360.8 134.8 L361.6 134.6 L362.4 134.6 L363.2 135.1 L364 135 L364.8 135.6 L365.6 134.5 L366.4 135.4 L367.2 135.3 L368 135.2 L368.8 135.5 L369.6 135.7 L370.4 136.5 L371.2 135.9 L372 135.8 L372.8 135.7 L373.6 136.5 L374.4 136 L375.2 136.4 L376 136.7 L376.8 136.6 L377.6 136.6 L378.4 136.7 L379.2 137.2 L380 137 L380.8 137.1 L381.6 137.3 L382.4 137.4 L383.2 137.3 L384.1 137.6 L384.9 137.5 L385.7 138.1 L386.5 137.9 L387.3 137.2 L388.1 137.9 L388.9 138.4 L389.7 138.1 L390.5 138.1 L391.3 138.7 L392.1 138 L393 138.5 L393.8 138.8 L394.6 139 L395.4 138.4 L396.2 138.9 L397 138.5 L397.9 139.6 L398.7 138.9 L399.5 139.2 L400.4 140.1 L401.2 139.2 L402 138.7 L402.9 140.5 L403.7 140 L404.5 139.8 L405.3 140.7 L406.2 139.8 L407 140.4 L407.8 140 L408.7 140 L409.5 140.4 L410.3 140.6 L411.2 140.8 L412 140.4 L412.8 140.9 L413.6 140.4 L414.4 140.6 L415.3 141.4 L416.1 141 L416.9 140.9 L417.7 141.4 L418.5 141.5 L419.3 141.5 L420.1 141 L421 141.1 L421.8 141.6 L422.6 141.8 L423.4 141 L424.2 141.4 L425 141.5 L425.9 142 L426.7 141.4 L427.5 142.8 L428.3 141.9 L429.1 142 L430 142.3 L430.8 143 L431.6 142.5 L432.4 142.7 L433.3 142.4 L434.1 142.8 L434.9 142.3 L435.7 142.8 L436.6 142.9 L437.4 142.7 L438.2 143.5 L439 143.4 L439.9 142.7 L440.7 143.7 L441.5 143.2 L442.3 143.8 L443.2 143.4 L444 143.8 L444.8 143.8 L445.7 144.2 L446.5 144.9 L447.4 143.8 L448.2 144.3 L449.1 144.4 L449.9 145 L450.8 144.7 L451.6 145.1 L452.5 145.5 L453.3 145.4 L454.2 145.1 L455 145.4 L456.2 145.4 L457.4 145.4 L458.2 144.6 L459 143.8 L460 141.6 L461 139.4 L462.2 138.2 L463.4 136.9 L464.2 137.4 L465 137.8 L466 139.6 L467 141.4 L468 140.6 L469 139.8 L469.9 139.5 L470.8 139.3 L471.7 139.3 L472.6 139 L473.7 139.2 L474.7 139.9 L475.8 140.4 L476.6 140.7 L477.4 140.5 L478.2 140.6 L479 141 L479.8 141.3 L480.6 140.6 L481.5 140.9 L482.3 141.8 L483.1 141.4 L483.9 141.2 L484.7 141.7 L485.5 142.3 L486.3 141.7 L487.1 142 L487.9 141.8 L488.7 142.1 L489.5 142.8 L490.3 142.1 L491.1 142.6 L491.9 142.9 L492.7 142.8 L493.5 142.6 L494.3 143 L495.1 143 L495.9 143.3 L496.7 143.2 L497.5 143.2 L498.3 142.7 L499.1 143.6 L499.9 143.4 L500.7 142.8 L501.5 143.6 L502.3 143.8 L503.1 143.8 L503.9 143.8 L504.7 143.1 L505.5 143.8 L506.3 143.8 L507.1 144.1 L507.9 143.5 L508.7 144.5 L509.5 144.6 L510.3 144.7 L511.1 144.6 L511.9 144.6 L512.7 145.1 L513.5 145 L514.3 144.8 L515.1 145.1 L515.9 145.3 L516.7 145.6 L517.5 145.4 L518.3 145 L519.1 145.4 L519.9 145.3 L520.7 145.6 L521.5 145.7 L522.3 146 L523.1 145.1 L523.9 145.6 L524.7 145.5 L525.5 146.3 L526.3 146.3 L527.2 146.2 L528 146.5 L528.8 146 L529.6 146.5 L530.4 146.4 L531.2 146.5 L532 146.5 L532.8 146.9 L533.6 147 L534.4 146.2 L535.2 146.8 L536 146.7 L536.8 147 L537.6 147.3 L538.4 146.6 L539.2 146.9 L540 147.2 L540.8 148 L541.6 147.2 L542.4 147.4 L543.2 147.7 L544 147.7 L544.8 147.9 L545.6 147.9 L546.4 148 L547.2 148.1 L548.1 148.3 L549.1 148.4 L550 148.5 L550.9 148.6 L551.9 148.1 L552.8 148.6 L553.6 148.4 L554.4 148.2 L555.2 148.2 L556 147.9 L556.8 147.4 L557.6 146.3 L558.4 145.3 L559.2 144.2 L560.2 141.4 L561.2 138.6 L562.2 137 L563.2 135.4 L564.8 135.8 L565.8 137.4 L566.8 139 L567.8 138.4 L568.8 137.8 L569.6 138 L570.4 138.3 L571.2 138.5 L572 139.3 L572.8 138.6 L573.6 139.1 L574.4 139.4 L575.2 139.3 L576 139.7 L576.8 139.8 L577.6 140 L578.4 141.2 L579.2 140.6 L580 140.7 L580.8 141.3 L581.6 140.5 L582.4 141 L583.2 140.8 L584 141.2 L584.8 141.7 L585.7 141.9 L586.5 141.6 L587.3 141.6 L588.1 141.5 L588.9 141.7 L589.7 142.1 L590.5 141.2 L591.3 141.8 L592.1 141.8 L592.9 141.6 L593.7 142.4 L594.5 141.7 L595.3 142.5 L596.1 141.9 L596.9 142 L597.7 143 L598.5 142.9 L599.3 142.3 L600.1 142.1 L600.9 142.4 L601.7 143.1 L602.5 142.9 L603.3 143 L604.1 142.6 L604.9 143.1 L605.8 143.3 L606.6 142.3 L607.4 142.6 L608.2 142.3 L609 142.9 L609.8 142.5 L610.7 142.1 L611.5 141.7 L612.3 142.2" fill="none" stroke="#e80ae8" stroke-width="1.3" stroke-linejoin="round" />
</g>
<rect x="71.2" y="8.2" width="542" height="402.4" fill="none" stroke="#000" stroke-width="1.7"/>
<line x1="71.2" y1="410.6" x2="71.2" y2="418.6" stroke="#000" stroke-width="1.6"/>
<line x1="191.6" y1="410.6" x2="191.6" y2="418.6" stroke="#000" stroke-width="1.6"/>
<line x1="312.1" y1="410.6" x2="312.1" y2="418.6" stroke="#000" stroke-width="1.6"/>
<line x1="432.5" y1="410.6" x2="432.5" y2="418.6" stroke="#000" stroke-width="1.6"/>
<line x1="553" y1="410.6" x2="553" y2="418.6" stroke="#000" stroke-width="1.6"/>
<line x1="131.4" y1="410.6" x2="131.4" y2="414.8" stroke="#000" stroke-width="1.6"/>
<line x1="251.9" y1="410.6" x2="251.9" y2="414.8" stroke="#000" stroke-width="1.6"/>
<line x1="372.3" y1="410.6" x2="372.3" y2="414.8" stroke="#000" stroke-width="1.6"/>
<line x1="492.8" y1="410.6" x2="492.8" y2="414.8" stroke="#000" stroke-width="1.6"/>
<line x1="613.2" y1="410.6" x2="613.2" y2="414.8" stroke="#000" stroke-width="1.6"/>
<text x="71.2" y="441.6" font-size="22" font-weight="bold" text-anchor="middle" >0</text>
<text x="191.6" y="441.6" font-size="22" font-weight="bold" text-anchor="middle" >300</text>
<text x="312.1" y="441.6" font-size="22" font-weight="bold" text-anchor="middle" >600</text>
<text x="432.5" y="441.6" font-size="22" font-weight="bold" text-anchor="middle" >900</text>
<text x="553" y="441.6" font-size="22" font-weight="bold" text-anchor="middle" >1200</text>
<text x="77.5" y="40" font-size="42" font-weight="normal" text-anchor="start" >a</text>
<text x="192" y="39.7" font-size="21" font-weight="bold" text-anchor="start" >C 1s</text>
<text x="268" y="90.1" font-size="21" font-weight="bold" text-anchor="start" >O 1s</text>
<text x="105.5" y="136.9" font-size="21" font-weight="bold" text-anchor="start" >Pb 4f</text>
<text x="609.2" y="115.5" font-size="20.8" font-weight="normal" text-anchor="end" >PSMPs-HA-Pb<tspan font-size="13.4" dy="-10.3">2+</tspan></text>
<text x="608.2" y="196.5" font-size="20.8" font-weight="normal" text-anchor="end" >PSMPs-HA</text>
<text x="609.2" y="278.6" font-size="20.8" font-weight="normal" text-anchor="end" >PSMPs-Pb<tspan font-size="13.4" dy="-10.3">2+</tspan></text>
<text x="608.2" y="361.2" font-size="20.8" font-weight="normal" text-anchor="end" >PSMPs</text>
<text x="342.4" y="485.7" font-size="29.3" font-weight="bold" text-anchor="middle" >Binding Energy (eV)</text>
<text x="0" y="0" font-size="29" font-weight="bold" text-anchor="middle" transform="translate(28.5 228.5) rotate(-90)">Intensity (a.u.)</text>
<path d="M759.5 90.4 L760.5 90.4 L761.5 90.4 L762.5 90.3 L763.5 90.3 L764.5 90.3 L765.5 90.3 L766.5 90.3 L767.5 90.3 L768.5 90.3 L769.5 90.3 L770.5 90.3 L771.5 90.3 L772.5 90.3 L773.5 90.3 L774.5 90.3 L775.5 90.3 L776.5 90.2 L777.5 90.2 L778.5 90.2 L779.5 90.2 L780.5 90.2 L781.5 90.2 L782.5 90.2 L783.5 90.2 L784.5 90.2 L785.5 90.2 L786.5 90.2 L787.5 90.2 L788.5 90.1 L789.5 90.1 L790.5 90.1 L791.5 90.1 L792.5 90.1 L793.5 90.1 L794.5 90.1 L795.5 90.1 L796.5 90.1 L797.5 90.1 L798.5 90 L799.5 90 L800.5 90 L801.5 90 L802.5 90 L803.5 90 L804.5 90 L805.5 90 L806.5 89.9 L807.5 89.9 L808.5 89.9 L809.5 89.9 L810.5 89.9 L811.5 89.9 L812.5 89.9 L813.5 89.8 L814.5 89.8 L815.5 89.8 L816.5 89.8 L817.5 89.8 L818.5 89.8 L819.5 89.8 L820.5 89.7 L821.5 89.7 L822.5 89.7 L823.5 89.7 L824.5 89.7 L825.5 89.6 L826.5 89.6 L827.5 89.6 L828.5 89.6 L829.5 89.5 L830.5 89.5 L831.5 89.5 L832.5 89.5 L833.5 89.4 L834.5 89.4 L835.5 89.4 L836.5 89.3 L837.5 89.3 L838.5 89.3 L839.5 89.2 L840.5 89.2 L841.5 89.1 L842.5 89.1 L843.5 89 L844.5 89 L845.5 88.9 L846.5 88.9 L847.5 88.8 L848.5 88.7 L849.5 88.7 L850.5 88.6 L851.5 88.5 L852.5 88.4 L853.5 88.3 L854.5 88.2 L855.5 88.1 L856.5 88 L857.5 87.9 L858.5 87.7 L859.5 87.6 L860.5 87.4 L861.5 87.3 L862.5 87.1 L863.5 86.9 L864.5 86.7 L865.5 86.5 L866.5 86.2 L867.5 86 L868.5 85.7 L869.5 85.4 L870.5 85.1 L871.5 84.8 L872.5 84.4 L873.5 84.1 L874.5 83.7 L875.5 83.3 L876.5 82.9 L877.5 82.4 L878.5 81.9 L879.5 81.4 L880.5 80.9 L881.5 80.3 L882.5 79.7 L883.5 79.1 L884.5 78.4 L885.5 77.7 L886.5 77 L887.5 76.2 L888.5 75.5 L889.5 74.6 L890.5 73.8 L891.5 72.9 L892.5 72 L893.5 71 L894.5 70.1 L895.5 69 L896.5 68 L897.5 66.9 L898.5 65.8 L899.5 64.7 L900.5 63.5 L901.5 62.4 L902.5 61.1 L903.5 59.9 L904.5 58.7 L905.5 57.4 L906.5 56.1 L907.5 54.8 L908.5 53.5 L909.5 52.2 L910.5 50.8 L911.5 49.5 L912.5 48.2 L913.5 46.9 L914.5 45.5 L915.5 44.2 L916.5 42.9 L917.5 41.7 L918.5 40.4 L919.5 39.2 L920.5 38 L921.5 36.8 L922.5 35.7 L923.5 34.6 L924.5 33.6 L925.5 32.6 L926.5 31.7 L927.5 30.8 L928.5 30 L929.5 29.3 L930.5 28.6 L931.5 28 L932.5 27.5 L933.5 27.1 L934.5 26.7 L935.5 26.5 L936.5 26.3 L937.5 26.2 L938.5 26.2 L939.5 26.3 L940.5 26.5 L941.5 26.7 L942.5 27.1 L943.5 27.5 L944.5 28 L945.5 28.6 L946.5 29.2 L947.5 30 L948.5 30.8 L949.5 31.6 L950.5 32.6 L951.5 33.5 L952.5 34.6 L953.5 35.6 L954.5 36.8 L955.5 37.9 L956.5 39.1 L957.5 40.3 L958.5 41.6 L959.5 42.9 L960.5 44.1 L961.5 45.5 L962.5 46.8 L963.5 48.1 L964.5 49.4 L965.5 50.7 L966.5 52.1 L967.5 53.4 L968.5 54.7 L969.5 56 L970.5 57.3 L971.5 58.5 L972.5 59.8 L973.5 61 L974.5 62.2 L975.5 63.4 L976.5 64.6 L977.5 65.7 L978.5 66.8 L979.5 67.9 L980.5 68.9 L981.5 69.9 L982.5 70.9 L983.5 71.8 L984.5 72.8 L985.5 73.6 L986.5 74.5 L987.5 75.3 L988.5 76.1 L989.5 76.8 L990.5 77.5 L991.5 78.2 L992.5 78.9 L993.5 79.5 L994.5 80.1 L995.5 80.7 L996.5 81.2 L997.5 81.7 L998.5 82.2 L999.5 82.6 L1000.5 83.1 L1001.5 83.5 L1002.5 83.9 L1003.5 84.2 L1004.5 84.6 L1005.5 84.9 L1006.5 85.2 L1007.5 85.5 L1008.5 85.7 L1009.5 86 L1010.5 86.2 L1011.5 86.4 L1012.5 86.6 L1013.5 86.8 L1014.5 87 L1015.5 87.2 L1016.5 87.3 L1017.5 87.5 L1018.5 87.6 L1019.5 87.7 L1020.5 87.8 L1021.5 87.9 L1022.5 88 L1023.5 88.1 L1024.5 88.2 L1025.5 88.3 L1026.5 88.4 L1027.5 88.4 L1028.5 88.5 L1029.5 88.6 L1030.5 88.6 L1031.5 88.7 L1032.5 88.7 L1033.5 88.8 L1034.5 88.8 L1035.5 88.9 L1036.5 88.9 L1037.5 88.9 L1038.5 89 L1039.5 89 L1040.5 89 L1041.5 89.1 L1042.5 89.1 L1043.5 89.1 L1044.5 89.1 L1045.5 89.2 L1046.5 89.2 L1047.5 89.2 L1048.5 89.2 L1049.5 89.2 L1050.5 89.3 L1051.5 89.3 L1052.5 89.3 L1053.5 89.3 L1054.5 89.3 L1055.5 89.3 L1056.5 89.4 L1057.5 89.4 L1058.5 89.4 L1059.5 89.4 L1060.5 89.4 L1061.5 89.4 L1062.5 89.4 L1063.5 89.4 L1064.5 89.5 L1065.5 89.5 L1066.5 89.5 L1067.5 89.5 L1068.5 89.5 L1069.5 89.5 L1070.5 89.5 L1071.5 89.5 L1072.5 89.5 L1073.5 89.5 L1074.5 89.6 L1075.5 89.6 L1076.5 89.6 L1077.5 89.6 L1078.5 89.6 L1079.5 89.6 L1080.5 89.6 L1081.5 89.6 L1082.5 89.6 L1083.5 89.6 L1084.5 89.6 L1085.5 89.6 L1086.5 89.6 L1087.5 89.6 L1088.5 89.7 L1089.5 89.7 L1090.5 89.7 L1091.5 89.7 L1092.5 89.7 L1093.5 89.7 L1094.5 89.7 L1095.5 89.7 L1096.5 89.7 L1097.5 89.7 L1098.5 89.7 L1099.5 89.7 L1100.5 89.7 L1101.5 89.7 L1102.5 89.7 L1103.5 89.7 L1104.5 89.7 L1105.5 89.7 L1106.5 89.7 L1107.5 89.7 L1108.5 89.7 L1109.5 89.7 L1110.5 89.8 L1111.5 89.8 L1112.5 89.8 L1113.5 89.8 L1114.5 89.8 L1115.5 89.8 L1116.5 89.8 L1117.5 89.8 L1118.5 89.8 L1119.5 89.8 L1120.5 89.8 L1121.5 89.8 L1122.5 89.8 L1123.5 89.8 L1124.5 89.8 L1125.5 89.8 L1126.5 89.8 L1127.5 89.8 L1128.5 89.8 L1129.5 89.8 L1130.5 89.8 L1131.5 89.8 L1132.5 89.8 L1133.5 89.8 L1134.5 89.8 L1135.5 89.8 L1136.5 89.8 L1137.5 89.8 L1138.5 89.8 L1139.5 89.8 L1140.5 89.8 L1141.5 89.8 L1142.5 89.8 L1143.5 89.8 L1144.5 89.8 L1145.5 89.8 L1146.5 89.8 L1147.5 89.8 L1148.5 89.8 L1149.5 89.8 L1150.5 89.8 L1151.5 89.8 L1152.5 89.8 L1153.5 89.8 L1154.5 89.8 L1155.5 89.8 L1156.5 89.8 L1157.5 89.8 L1158.5 89.8 L1159.5 89.8 L1160.5 89.8 L1161.5 89.9 L1162.5 89.9 L1163.5 89.9 L1164.5 89.9 L1165.5 89.9 L1166.5 89.9 L1167.5 89.9 L1168.5 89.9 L1169.5 89.9 L1170.5 89.9 L1171.5 89.9 L1172.5 89.9 L1173.5 89.9 L1174.5 89.9 L1175.5 89.9 L1176.5 89.9 L1177.5 89.9 L1178.5 89.9 L1179.5 89.9 L1180.5 89.9 L1181.5 89.9 L1182.5 89.9 L1183.5 89.9 L1184.5 89.9 L1185.5 89.9 L1186.5 89.9 L1187.5 89.9 L1188.5 89.9 L1189.5 89.9 L1190.5 89.9 L1191.5 89.9 L1192.5 89.9 L1193.5 89.9 L1194.5 89.9 L1195.5 89.9 L1196.5 89.9 L1197.5 89.9 L1198.5 89.9 L1199.5 89.9 L1200.5 89.9 L1201.5 89.9 L1202.5 89.9 L1203.5 89.9 L1204.5 89.9 L1205.5 89.9 L1206.5 89.9 L1207.5 89.9 L1208.5 89.9 L1209.5 89.9 L1210.5 89.9 L1211.5 89.9 L1212.5 89.9 L1213.5 89.9 L1214.5 89.9 L1215.5 89.9 L1216.5 89.9 L1217.5 89.9 L1218.5 89.9 L1219.5 89.9 L1220.5 89.9 L1221.5 89.9 L1222.5 89.9 L1223.5 89.9 L1224.5 89.9 L1225.5 89.9 L1226.5 89.9 L1227.5 89.9 L1228.5 89.9 L1229.5 89.9 L1230.5 89.9 L1231.5 89.8 L1232.5 89.8 L1233.5 89.8 L1234.5 89.8 L1235.5 89.8 L1236.5 89.8 L1237.5 89.8 L1238.5 89.8 L1239.5 89.8 L1240.5 89.8 L1241.5 89.8 L1242.5 89.8 L1243.5 89.8 L1244.5 89.8 L1245.5 89.8 L1246.5 89.8 L1247.5 89.8 L1248.5 89.8 L1249.5 89.8 L1250.5 89.8 L1251.5 89.8 L1252.5 89.8 L1253.5 89.8 L1254.5 89.8 L1255.5 89.8 L1256.5 89.8 L1257.5 89.8 L1258.5 89.8 L1259.5 89.8 L1260.5 89.8 L1261.5 89.8 L1262.5 89.8 L1263.5 89.8 L1264.5 89.8 L1265.5 89.8 L1266.5 89.8 L1267.5 89.8 L1268.5 89.8 L1269.5 89.8 L1270.5 89.8 L1271.5 89.8 L1272.5 89.8 L1273.5 89.8 L1274.5 89.8 L1275.5 89.8 L1276.5 89.8 L1277.5 89.8 L1278.5 89.8 L1279.5 89.8 L1280.5 89.8 L1281.5 89.8 L1282.5 89.8 L1283.5 89.8 L1284.5 89.8 L1285.5 89.8 L1286.5 89.8 L1287.5 89.8 L1288.5 89.8 L1289.5 89.8 L1290.5 89.8 L1291.5 89.8 L1292.5 89.8 L1293.5 89.8 L1294.5 89.8 L1295.5 89.8 L1296.5 89.8 L1297.5 89.8 L1298.5 89.8 L1299.5 89.8" fill="none" stroke="#ff00ff" stroke-width="1.2" stroke-linejoin="round" />
<path d="M759.5 91.3 L760.5 91.3 L761.5 91.3 L762.5 91.3 L763.5 91.3 L764.5 91.3 L765.5 91.3 L766.5 91.3 L767.5 91.3 L768.5 91.3 L769.5 91.3 L770.5 91.3 L771.5 91.3 L772.5 91.3 L773.5 91.3 L774.5 91.3 L775.5 91.3 L776.5 91.3 L777.5 91.3 L778.5 91.3 L779.5 91.3 L780.5 91.3 L781.5 91.3 L782.5 91.3 L783.5 91.3 L784.5 91.3 L785.5 91.3 L786.5 91.3 L787.5 91.3 L788.5 91.3 L789.5 91.2 L790.5 91.2 L791.5 91.2 L792.5 91.2 L793.5 91.2 L794.5 91.2 L795.5 91.2 L796.5 91.2 L797.5 91.2 L798.5 91.2 L799.5 91.2 L800.5 91.2 L801.5 91.2 L802.5 91.2 L803.5 91.2 L804.5 91.2 L805.5 91.2 L806.5 91.2 L807.5 91.2 L808.5 91.2 L809.5 91.2 L810.5 91.2 L811.5 91.2 L812.5 91.2 L813.5 91.2 L814.5 91.2 L815.5 91.2 L816.5 91.2 L817.5 91.2 L818.5 91.2 L819.5 91.2 L820.5 91.2 L821.5 91.2 L822.5 91.2 L823.5 91.2 L824.5 91.2 L825.5 91.2 L826.5 91.2 L827.5 91.2 L828.5 91.2 L829.5 91.2 L830.5 91.2 L831.5 91.2 L832.5 91.2 L833.5 91.2 L834.5 91.2 L835.5 91.2 L836.5 91.2 L837.5 91.2 L838.5 91.2 L839.5 91.2 L840.5 91.2 L841.5 91.2 L842.5 91.2 L843.5 91.2 L844.5 91.2 L845.5 91.2 L846.5 91.2 L847.5 91.2 L848.5 91.2 L849.5 91.2 L850.5 91.1 L851.5 91.1 L852.5 91.1 L853.5 91.1 L854.5 91.1 L855.5 91.1 L856.5 91.1 L857.5 91.1 L858.5 91.1 L859.5 91.1 L860.5 91.1 L861.5 91.1 L862.5 91.1 L863.5 91.1 L864.5 91.1 L865.5 91.1 L866.5 91.1 L867.5 91.1 L868.5 91.1 L869.5 91.1 L870.5 91.1 L871.5 91.1 L872.5 91.1 L873.5 91.1 L874.5 91.1 L875.5 91.1 L876.5 91.1 L877.5 91.1 L878.5 91.1 L879.5 91.1 L880.5 91.1 L881.5 91.1 L882.5 91.1 L883.5 91.1 L884.5 91.1 L885.5 91.1 L886.5 91.1 L887.5 91.1 L888.5 91.1 L889.5 91.1 L890.5 91.1 L891.5 91.1 L892.5 91.1 L893.5 91.1 L894.5 91.1 L895.5 91.1 L896.5 91.1 L897.5 91.1 L898.5 91.1 L899.5 91.1 L900.5 91.1 L901.5 91.1 L902.5 91.1 L903.5 91.1 L904.5 91.1 L905.5 91.1 L906.5 91.1 L907.5 91.1 L908.5 91.1 L909.5 91 L910.5 91 L911.5 91 L912.5 91 L913.5 91 L914.5 91 L915.5 91 L916.5 91 L917.5 91 L918.5 91 L919.5 91 L920.5 91 L921.5 91 L922.5 91 L923.5 91 L924.5 91 L925.5 91 L926.5 91 L927.5 91 L928.5 91 L929.5 91 L930.5 91 L931.5 91 L932.5 91 L933.5 91 L934.5 91 L935.5 91 L936.5 91 L937.5 91 L938.5 91 L939.5 91 L940.5 91 L941.5 91 L942.5 91 L943.5 91 L944.5 91 L945.5 91 L946.5 91 L947.5 91 L948.5 91 L949.5 91 L950.5 91 L951.5 91 L952.5 91 L953.5 91 L954.5 91 L955.5 91 L956.5 91 L957.5 91 L958.5 91 L959.5 91 L960.5 91 L961.5 91 L962.5 91 L963.5 91 L964.5 91 L965.5 91 L966.5 91 L967.5 91 L968.5 91 L969.5 91 L970.5 90.9 L971.5 90.9 L972.5 90.9 L973.5 90.9 L974.5 90.9 L975.5 90.9 L976.5 90.9 L977.5 90.9 L978.5 90.9 L979.5 90.9 L980.5 90.9 L981.5 90.9 L982.5 90.9 L983.5 90.9 L984.5 90.9 L985.5 90.9 L986.5 90.9 L987.5 90.9 L988.5 90.9 L989.5 90.9 L990.5 90.9 L991.5 90.9 L992.5 90.9 L993.5 90.9 L994.5 90.9 L995.5 90.9 L996.5 90.9 L997.5 90.9 L998.5 90.9 L999.5 90.9 L1000.5 90.9 L1001.5 90.9 L1002.5 90.9 L1003.5 90.9 L1004.5 90.9 L1005.5 90.9 L1006.5 90.9 L1007.5 90.9 L1008.5 90.9 L1009.5 90.9 L1010.5 90.9 L1011.5 90.9 L1012.5 90.9 L1013.5 90.9 L1014.5 90.9 L1015.5 90.9 L1016.5 90.9 L1017.5 90.9 L1018.5 90.9 L1019.5 90.9 L1020.5 90.9 L1021.5 90.9 L1022.5 90.9 L1023.5 90.9 L1024.5 90.9 L1025.5 90.9 L1026.5 90.9 L1027.5 90.9 L1028.5 90.9 L1029.5 90.8 L1030.5 90.8 L1031.5 90.8 L1032.5 90.8 L1033.5 90.8 L1034.5 90.8 L1035.5 90.8 L1036.5 90.8 L1037.5 90.8 L1038.5 90.8 L1039.5 90.8 L1040.5 90.8 L1041.5 90.8 L1042.5 90.8 L1043.5 90.8 L1044.5 90.8 L1045.5 90.8 L1046.5 90.8 L1047.5 90.8 L1048.5 90.8 L1049.5 90.8 L1050.5 90.8 L1051.5 90.8 L1052.5 90.8 L1053.5 90.8 L1054.5 90.8 L1055.5 90.8 L1056.5 90.8 L1057.5 90.8 L1058.5 90.8 L1059.5 90.8 L1060.5 90.8 L1061.5 90.8 L1062.5 90.8 L1063.5 90.8 L1064.5 90.8 L1065.5 90.8 L1066.5 90.8 L1067.5 90.8 L1068.5 90.8 L1069.5 90.8 L1070.5 90.8 L1071.5 90.8 L1072.5 90.8 L1073.5 90.8 L1074.5 90.8 L1075.5 90.8 L1076.5 90.8 L1077.5 90.8 L1078.5 90.8 L1079.5 90.8 L1080.5 90.8 L1081.5 90.8 L1082.5 90.8 L1083.5 90.8 L1084.5 90.8 L1085.5 90.8 L1086.5 90.8 L1087.5 90.8 L1088.5 90.8 L1089.5 90.8 L1090.5 90.7 L1091.5 90.7 L1092.5 90.7 L1093.5 90.7 L1094.5 90.7 L1095.5 90.7 L1096.5 90.7 L1097.5 90.7 L1098.5 90.7 L1099.5 90.7 L1100.5 90.7 L1101.5 90.7 L1102.5 90.7 L1103.5 90.7 L1104.5 90.7 L1105.5 90.7 L1106.5 90.7 L1107.5 90.7 L1108.5 90.7 L1109.5 90.7 L1110.5 90.7 L1111.5 90.7 L1112.5 90.7 L1113.5 90.7 L1114.5 90.7 L1115.5 90.7 L1116.5 90.7 L1117.5 90.7 L1118.5 90.7 L1119.5 90.7 L1120.5 90.7 L1121.5 90.7 L1122.5 90.7 L1123.5 90.7 L1124.5 90.7 L1125.5 90.7 L1126.5 90.7 L1127.5 90.7 L1128.5 90.7 L1129.5 90.7 L1130.5 90.7 L1131.5 90.7 L1132.5 90.7 L1133.5 90.7 L1134.5 90.7 L1135.5 90.7 L1136.5 90.7 L1137.5 90.7 L1138.5 90.7 L1139.5 90.7 L1140.5 90.7 L1141.5 90.7 L1142.5 90.7 L1143.5 90.7 L1144.5 90.7 L1145.5 90.7 L1146.5 90.7 L1147.5 90.7 L1148.5 90.7 L1149.5 90.7 L1150.5 90.6 L1151.5 90.6 L1152.5 90.6 L1153.5 90.6 L1154.5 90.6 L1155.5 90.6 L1156.5 90.6 L1157.5 90.6 L1158.5 90.6 L1159.5 90.6 L1160.5 90.6 L1161.5 90.6 L1162.5 90.6 L1163.5 90.6 L1164.5 90.6 L1165.5 90.6 L1166.5 90.6 L1167.5 90.6 L1168.5 90.6 L1169.5 90.6 L1170.5 90.6 L1171.5 90.6 L1172.5 90.6 L1173.5 90.6 L1174.5 90.6 L1175.5 90.6 L1176.5 90.6 L1177.5 90.6 L1178.5 90.6 L1179.5 90.6 L1180.5 90.6 L1181.5 90.6 L1182.5 90.6 L1183.5 90.6 L1184.5 90.6 L1185.5 90.6 L1186.5 90.6 L1187.5 90.6 L1188.5 90.6 L1189.5 90.6 L1190.5 90.6 L1191.5 90.6 L1192.5 90.6 L1193.5 90.6 L1194.5 90.6 L1195.5 90.6 L1196.5 90.6 L1197.5 90.6 L1198.5 90.6 L1199.5 90.6 L1200.5 90.6 L1201.5 90.6 L1202.5 90.6 L1203.5 90.6 L1204.5 90.6 L1205.5 90.6 L1206.5 90.6 L1207.5 90.6 L1208.5 90.6 L1209.5 90.6 L1210.5 90.5 L1211.5 90.5 L1212.5 90.5 L1213.5 90.5 L1214.5 90.5 L1215.5 90.5 L1216.5 90.5 L1217.5 90.5 L1218.5 90.5 L1219.5 90.5 L1220.5 90.5 L1221.5 90.5 L1222.5 90.5 L1223.5 90.5 L1224.5 90.5 L1225.5 90.5 L1226.5 90.5 L1227.5 90.5 L1228.5 90.5 L1229.5 90.5 L1230.5 90.5 L1231.5 90.5 L1232.5 90.5 L1233.5 90.5 L1234.5 90.5 L1235.5 90.5 L1236.5 90.5 L1237.5 90.5 L1238.5 90.5 L1239.5 90.5 L1240.5 90.5 L1241.5 90.5 L1242.5 90.5 L1243.5 90.5 L1244.5 90.5 L1245.5 90.5 L1246.5 90.5 L1247.5 90.5 L1248.5 90.5 L1249.5 90.5 L1250.5 90.5 L1251.5 90.5 L1252.5 90.5 L1253.5 90.5 L1254.5 90.5 L1255.5 90.5 L1256.5 90.5 L1257.5 90.5 L1258.5 90.5 L1259.5 90.5 L1260.5 90.5 L1261.5 90.5 L1262.5 90.5 L1263.5 90.5 L1264.5 90.5 L1265.5 90.5 L1266.5 90.5 L1267.5 90.5 L1268.5 90.5 L1269.5 90.5 L1270.5 90.4 L1271.5 90.4 L1272.5 90.4 L1273.5 90.4 L1274.5 90.4 L1275.5 90.4 L1276.5 90.4 L1277.5 90.4 L1278.5 90.4 L1279.5 90.4 L1280.5 90.4 L1281.5 90.4 L1282.5 90.4 L1283.5 90.4 L1284.5 90.4 L1285.5 90.4 L1286.5 90.4 L1287.5 90.4 L1288.5 90.4 L1289.5 90.4 L1290.5 90.4 L1291.5 90.4 L1292.5 90.4 L1293.5 90.4 L1294.5 90.4 L1295.5 90.4 L1296.5 90.4 L1297.5 90.4 L1298.5 90.4 L1299.5 90.4" fill="none" stroke="#22228a" stroke-width="1.3" stroke-linejoin="round" />
<path d="M759.5 91.3 L760.5 91.3 L761.5 91.3 L762.5 91.3 L763.5 91.3 L764.5 91.3 L765.5 91.3 L766.5 91.3 L767.5 91.3 L768.5 91.3 L769.5 91.3 L770.5 91.3 L771.5 91.3 L772.5 91.3 L773.5 91.3 L774.5 91.3 L775.5 91.3 L776.5 91.3 L777.5 91.3 L778.5 91.3 L779.5 91.3 L780.5 91.3 L781.5 91.3 L782.5 91.3 L783.5 91.3 L784.5 91.3 L785.5 91.3 L786.5 91.2 L787.5 91.2 L788.5 91.2 L789.5 91.2 L790.5 91.2 L791.5 91.2 L792.5 91.2 L793.5 91.2 L794.5 91.2 L795.5 91.2 L796.5 91.2 L797.5 91.2 L798.5 91.2 L799.5 91.2 L800.5 91.2 L801.5 91.2 L802.5 91.2 L803.5 91.2 L804.5 91.2 L805.5 91.2 L806.5 91.2 L807.5 91.2 L808.5 91.2 L809.5 91.2 L810.5 91.2 L811.5 91.2 L812.5 91.2 L813.5 91.2 L814.5 91.2 L815.5 91.2 L816.5 91.2 L817.5 91.2 L818.5 91.2 L819.5 91.2 L820.5 91.2 L821.5 91.2 L822.5 91.2 L823.5 91.2 L824.5 91.2 L825.5 91.2 L826.5 91.2 L827.5 91.2 L828.5 91.2 L829.5 91.2 L830.5 91.2 L831.5 91.2 L832.5 91.2 L833.5 91.2 L834.5 91.2 L835.5 91.2 L836.5 91.2 L837.5 91.2 L838.5 91.2 L839.5 91.2 L840.5 91.2 L841.5 91.2 L842.5 91.2 L843.5 91.2 L844.5 91.2 L845.5 91.1 L846.5 91.1 L847.5 91.1 L848.5 91.1 L849.5 91.1 L850.5 91.1 L851.5 91.1 L852.5 91.1 L853.5 91.1 L854.5 91.1 L855.5 91.1 L856.5 91.1 L857.5 91.1 L858.5 91.1 L859.5 91.1 L860.5 91.1 L861.5 91.1 L862.5 91.1 L863.5 91.1 L864.5 91.1 L865.5 91.1 L866.5 91.1 L867.5 91.1 L868.5 91.1 L869.5 91.1 L870.5 91.1 L871.5 91.1 L872.5 91.1 L873.5 91.1 L874.5 91.1 L875.5 91.1 L876.5 91.1 L877.5 91.1 L878.5 91.1 L879.5 91.1 L880.5 91.1 L881.5 91.1 L882.5 91.1 L883.5 91.1 L884.5 91.1 L885.5 91.1 L886.5 91.1 L887.5 91.1 L888.5 91.1 L889.5 91.1 L890.5 91.1 L891.5 91.1 L892.5 91.1 L893.5 91.1 L894.5 91.1 L895.5 91.1 L896.5 91.1 L897.5 91.1 L898.5 91.1 L899.5 91.1 L900.5 91.1 L901.5 91.1 L902.5 91 L903.5 91 L904.5 91 L905.5 91 L906.5 91 L907.5 91 L908.5 91 L909.5 91 L910.5 91 L911.5 91 L912.5 91 L913.5 91 L914.5 91 L915.5 91 L916.5 91 L917.5 91 L918.5 91 L919.5 91 L920.5 91 L921.5 91 L922.5 91 L923.5 91 L924.5 91 L925.5 91 L926.5 91 L927.5 91 L928.5 91 L929.5 91 L930.5 91 L931.5 91 L932.5 91 L933.5 91 L934.5 91 L935.5 91 L936.5 91 L937.5 91 L938.5 91 L939.5 91 L940.5 91 L941.5 91 L942.5 91 L943.5 91 L944.5 91 L945.5 91 L946.5 91 L947.5 91 L948.5 91 L949.5 91 L950.5 91 L951.5 91 L952.5 91 L953.5 91 L954.5 91 L955.5 91 L956.5 91 L957.5 90.9 L958.5 90.9 L959.5 90.9 L960.5 90.9 L961.5 90.9 L962.5 90.9 L963.5 90.9 L964.5 90.9 L965.5 90.9 L966.5 90.9 L967.5 90.9 L968.5 90.9 L969.5 90.9 L970.5 90.9 L971.5 90.9 L972.5 90.9 L973.5 90.9 L974.5 90.9 L975.5 90.9 L976.5 90.9 L977.5 90.9 L978.5 90.9 L979.5 90.9 L980.5 90.9 L981.5 90.9 L982.5 90.9 L983.5 90.9 L984.5 90.9 L985.5 90.9 L986.5 90.9 L987.5 90.9 L988.5 90.9 L989.5 90.9 L990.5 90.9 L991.5 90.9 L992.5 90.9 L993.5 90.9 L994.5 90.9 L995.5 90.9 L996.5 90.9 L997.5 90.9 L998.5 90.9 L999.5 90.9 L1000.5 90.9 L1001.5 90.9 L1002.5 90.9 L1003.5 90.9 L1004.5 90.8 L1005.5 90.8 L1006.5 90.8 L1007.5 90.8 L1008.5 90.8 L1009.5 90.8 L1010.5 90.8 L1011.5 90.8 L1012.5 90.8 L1013.5 90.8 L1014.5 90.8 L1015.5 90.8 L1016.5 90.8 L1017.5 90.8 L1018.5 90.8 L1019.5 90.8 L1020.5 90.8 L1021.5 90.8 L1022.5 90.8 L1023.5 90.8 L1024.5 90.8 L1025.5 90.8 L1026.5 90.8 L1027.5 90.8 L1028.5 90.8 L1029.5 90.8 L1030.5 90.8 L1031.5 90.8 L1032.5 90.8 L1033.5 90.8 L1034.5 90.8 L1035.5 90.8 L1036.5 90.8 L1037.5 90.8 L1038.5 90.8 L1039.5 90.8 L1040.5 90.7 L1041.5 90.7 L1042.5 90.7 L1043.5 90.7 L1044.5 90.7 L1045.5 90.7 L1046.5 90.7 L1047.5 90.7 L1048.5 90.7 L1049.5 90.7 L1050.5 90.7 L1051.5 90.7 L1052.5 90.7 L1053.5 90.7 L1054.5 90.7 L1055.5 90.7 L1056.5 90.7 L1057.5 90.7 L1058.5 90.7 L1059.5 90.7 L1060.5 90.7 L1061.5 90.6 L1062.5 90.6 L1063.5 90.6 L1064.5 90.6 L1065.5 90.6 L1066.5 90.6 L1067.5 90.6 L1068.5 90.6 L1069.5 90.6 L1070.5 90.6 L1071.5 90.5 L1072.5 90.5 L1073.5 90.5 L1074.5 90.5 L1075.5 90.5 L1076.5 90.4 L1077.5 90.4 L1078.5 90.4 L1079.5 90.3 L1080.5 90.3 L1081.5 90.2 L1082.5 90.2 L1083.5 90.1 L1084.5 90.1 L1085.5 90 L1086.5 89.9 L1087.5 89.8 L1088.5 89.7 L1089.5 89.6 L1090.5 89.5 L1091.5 89.3 L1092.5 89.2 L1093.5 89 L1094.5 88.8 L1095.5 88.7 L1096.5 88.5 L1097.5 88.3 L1098.5 88 L1099.5 87.8 L1100.5 87.5 L1101.5 87.3 L1102.5 87 L1103.5 86.7 L1104.5 86.4 L1105.5 86.1 L1106.5 85.8 L1107.5 85.5 L1108.5 85.2 L1109.5 84.9 L1110.5 84.6 L1111.5 84.3 L1112.5 84 L1113.5 83.8 L1114.5 83.5 L1115.5 83.3 L1116.5 83 L1117.5 82.8 L1118.5 82.7 L1119.5 82.5 L1120.5 82.4 L1121.5 82.3 L1122.5 82.3 L1123.5 82.3 L1124.5 82.3 L1125.5 82.4 L1126.5 82.5 L1127.5 82.6 L1128.5 82.8 L1129.5 82.9 L1130.5 83.2 L1131.5 83.4 L1132.5 83.6 L1133.5 83.9 L1134.5 84.2 L1135.5 84.5 L1136.5 84.8 L1137.5 85.1 L1138.5 85.4 L1139.5 85.7 L1140.5 86 L1141.5 86.3 L1142.5 86.5 L1143.5 86.8 L1144.5 87.1 L1145.5 87.4 L1146.5 87.6 L1147.5 87.9 L1148.5 88.1 L1149.5 88.3 L1150.5 88.5 L1151.5 88.7 L1152.5 88.9 L1153.5 89 L1154.5 89.2 L1155.5 89.3 L1156.5 89.4 L1157.5 89.5 L1158.5 89.6 L1159.5 89.7 L1160.5 89.8 L1161.5 89.9 L1162.5 90 L1163.5 90 L1164.5 90.1 L1165.5 90.1 L1166.5 90.2 L1167.5 90.2 L1168.5 90.2 L1169.5 90.3 L1170.5 90.3 L1171.5 90.3 L1172.5 90.3 L1173.5 90.3 L1174.5 90.4 L1175.5 90.4 L1176.5 90.4 L1177.5 90.4 L1178.5 90.4 L1179.5 90.4 L1180.5 90.4 L1181.5 90.4 L1182.5 90.4 L1183.5 90.4 L1184.5 90.4 L1185.5 90.4 L1186.5 90.4 L1187.5 90.4 L1188.5 90.5 L1189.5 90.5 L1190.5 90.5 L1191.5 90.5 L1192.5 90.5 L1193.5 90.5 L1194.5 90.5 L1195.5 90.5 L1196.5 90.5 L1197.5 90.5 L1198.5 90.5 L1199.5 90.5 L1200.5 90.5 L1201.5 90.5 L1202.5 90.5 L1203.5 90.5 L1204.5 90.5 L1205.5 90.5 L1206.5 90.5 L1207.5 90.5 L1208.5 90.5 L1209.5 90.5 L1210.5 90.5 L1211.5 90.5 L1212.5 90.5 L1213.5 90.5 L1214.5 90.5 L1215.5 90.5 L1216.5 90.5 L1217.5 90.5 L1218.5 90.5 L1219.5 90.5 L1220.5 90.5 L1221.5 90.5 L1222.5 90.5 L1223.5 90.5 L1224.5 90.5 L1225.5 90.5 L1226.5 90.5 L1227.5 90.5 L1228.5 90.5 L1229.5 90.5 L1230.5 90.5 L1231.5 90.5 L1232.5 90.5 L1233.5 90.5 L1234.5 90.5 L1235.5 90.5 L1236.5 90.5 L1237.5 90.5 L1238.5 90.5 L1239.5 90.5 L1240.5 90.5 L1241.5 90.5 L1242.5 90.5 L1243.5 90.5 L1244.5 90.5 L1245.5 90.5 L1246.5 90.4 L1247.5 90.4 L1248.5 90.4 L1249.5 90.4 L1250.5 90.4 L1251.5 90.4 L1252.5 90.4 L1253.5 90.4 L1254.5 90.4 L1255.5 90.4 L1256.5 90.4 L1257.5 90.4 L1258.5 90.4 L1259.5 90.4 L1260.5 90.4 L1261.5 90.4 L1262.5 90.4 L1263.5 90.4 L1264.5 90.4 L1265.5 90.4 L1266.5 90.4 L1267.5 90.4 L1268.5 90.4 L1269.5 90.4 L1270.5 90.4 L1271.5 90.4 L1272.5 90.4 L1273.5 90.4 L1274.5 90.4 L1275.5 90.4 L1276.5 90.4 L1277.5 90.4 L1278.5 90.4 L1279.5 90.4 L1280.5 90.4 L1281.5 90.4 L1282.5 90.4 L1283.5 90.4 L1284.5 90.4 L1285.5 90.4 L1286.5 90.4 L1287.5 90.4 L1288.5 90.4 L1289.5 90.4 L1290.5 90.4 L1291.5 90.4 L1292.5 90.4 L1293.5 90.4 L1294.5 90.4 L1295.5 90.4 L1296.5 90.4 L1297.5 90.4 L1298.5 90.4 L1299.5 90.4" fill="none" stroke="#008000" stroke-width="1.2" stroke-linejoin="round" />
<path d="M759.5 91.3 L760.5 91.3 L761.5 91.2 L762.5 91.2 L763.5 91.2 L764.5 91.2 L765.5 91.2 L766.5 91.2 L767.5 91.2 L768.5 91.2 L769.5 91.2 L770.5 91.2 L771.5 91.2 L772.5 91.2 L773.5 91.2 L774.5 91.2 L775.5 91.2 L776.5 91.2 L777.5 91.2 L778.5 91.2 L779.5 91.2 L780.5 91.2 L781.5 91.2 L782.5 91.2 L783.5 91.2 L784.5 91.2 L785.5 91.2 L786.5 91.2 L787.5 91.2 L788.5 91.2 L789.5 91.2 L790.5 91.2 L791.5 91.2 L792.5 91.2 L793.5 91.2 L794.5 91.2 L795.5 91.2 L796.5 91.2 L797.5 91.2 L798.5 91.2 L799.5 91.2 L800.5 91.2 L801.5 91.2 L802.5 91.2 L803.5 91.2 L804.5 91.2 L805.5 91.2 L806.5 91.2 L807.5 91.2 L808.5 91.1 L809.5 91.1 L810.5 91.1 L811.5 91.1 L812.5 91.1 L813.5 91.1 L814.5 91.1 L815.5 91.1 L816.5 91.1 L817.5 91.1 L818.5 91.1 L819.5 91.1 L820.5 91.1 L821.5 91.1 L822.5 91.1 L823.5 91.1 L824.5 91.1 L825.5 91.1 L826.5 91.1 L827.5 91.1 L828.5 91.1 L829.5 91.1 L830.5 91.1 L831.5 91.1 L832.5 91.1 L833.5 91.1 L834.5 91.1 L835.5 91.1 L836.5 91.1 L837.5 91.1 L838.5 91.1 L839.5 91.1 L840.5 91.1 L841.5 91.1 L842.5 91.1 L843.5 91.1 L844.5 91.1 L845.5 91.1 L846.5 91 L847.5 91 L848.5 91 L849.5 91 L850.5 91 L851.5 91 L852.5 91 L853.5 91 L854.5 91 L855.5 91 L856.5 91 L857.5 91 L858.5 91 L859.5 91 L860.5 91 L861.5 91 L862.5 91 L863.5 91 L864.5 91 L865.5 91 L866.5 91 L867.5 91 L868.5 91 L869.5 91 L870.5 91 L871.5 91 L872.5 91 L873.5 91 L874.5 91 L875.5 91 L876.5 90.9 L877.5 90.9 L878.5 90.9 L879.5 90.9 L880.5 90.9 L881.5 90.9 L882.5 90.9 L883.5 90.9 L884.5 90.9 L885.5 90.9 L886.5 90.9 L887.5 90.9 L888.5 90.9 L889.5 90.9 L890.5 90.9 L891.5 90.9 L892.5 90.9 L893.5 90.9 L894.5 90.9 L895.5 90.9 L896.5 90.9 L897.5 90.8 L898.5 90.8 L899.5 90.8 L900.5 90.8 L901.5 90.8 L902.5 90.8 L903.5 90.8 L904.5 90.8 L905.5 90.8 L906.5 90.8 L907.5 90.8 L908.5 90.8 L909.5 90.7 L910.5 90.7 L911.5 90.7 L912.5 90.7 L913.5 90.7 L914.5 90.7 L915.5 90.7 L916.5 90.6 L917.5 90.6 L918.5 90.6 L919.5 90.6 L920.5 90.6 L921.5 90.6 L922.5 90.5 L923.5 90.5 L924.5 90.5 L925.5 90.5 L926.5 90.4 L927.5 90.4 L928.5 90.4 L929.5 90.3 L930.5 90.3 L931.5 90.2 L932.5 90.2 L933.5 90.2 L934.5 90.1 L935.5 90.1 L936.5 90 L937.5 90 L938.5 89.9 L939.5 89.8 L940.5 89.8 L941.5 89.7 L942.5 89.6 L943.5 89.6 L944.5 89.5 L945.5 89.4 L946.5 89.3 L947.5 89.2 L948.5 89.1 L949.5 89 L950.5 88.9 L951.5 88.8 L952.5 88.7 L953.5 88.6 L954.5 88.4 L955.5 88.3 L956.5 88.2 L957.5 88 L958.5 87.9 L959.5 87.7 L960.5 87.6 L961.5 87.4 L962.5 87.3 L963.5 87.1 L964.5 86.9 L965.5 86.8 L966.5 86.6 L967.5 86.4 L968.5 86.2 L969.5 86 L970.5 85.8 L971.5 85.6 L972.5 85.4 L973.5 85.2 L974.5 85 L975.5 84.8 L976.5 84.6 L977.5 84.3 L978.5 84.1 L979.5 83.9 L980.5 83.7 L981.5 83.5 L982.5 83.3 L983.5 83 L984.5 82.8 L985.5 82.6 L986.5 82.4 L987.5 82.2 L988.5 82 L989.5 81.8 L990.5 81.6 L991.5 81.4 L992.5 81.2 L993.5 81.1 L994.5 80.9 L995.5 80.7 L996.5 80.6 L997.5 80.4 L998.5 80.3 L999.5 80.2 L1000.5 80.1 L1001.5 80 L1002.5 79.9 L1003.5 79.8 L1004.5 79.7 L1005.5 79.7 L1006.5 79.6 L1007.5 79.6 L1008.5 79.6 L1009.5 79.6 L1010.5 79.6 L1011.5 79.6 L1012.5 79.7 L1013.5 79.7 L1014.5 79.8 L1015.5 79.8 L1016.5 79.9 L1017.5 80 L1018.5 80.1 L1019.5 80.3 L1020.5 80.4 L1021.5 80.5 L1022.5 80.7 L1023.5 80.8 L1024.5 81 L1025.5 81.2 L1026.5 81.4 L1027.5 81.5 L1028.5 81.7 L1029.5 81.9 L1030.5 82.1 L1031.5 82.3 L1032.5 82.5 L1033.5 82.7 L1034.5 83 L1035.5 83.2 L1036.5 83.4 L1037.5 83.6 L1038.5 83.8 L1039.5 84 L1040.5 84.2 L1041.5 84.4 L1042.5 84.7 L1043.5 84.9 L1044.5 85.1 L1045.5 85.3 L1046.5 85.5 L1047.5 85.7 L1048.5 85.9 L1049.5 86.1 L1050.5 86.2 L1051.5 86.4 L1052.5 86.6 L1053.5 86.8 L1054.5 87 L1055.5 87.1 L1056.5 87.3 L1057.5 87.4 L1058.5 87.6 L1059.5 87.7 L1060.5 87.9 L1061.5 88 L1062.5 88.1 L1063.5 88.3 L1064.5 88.4 L1065.5 88.5 L1066.5 88.6 L1067.5 88.7 L1068.5 88.8 L1069.5 88.9 L1070.5 89 L1071.5 89.1 L1072.5 89.2 L1073.5 89.3 L1074.5 89.3 L1075.5 89.4 L1076.5 89.5 L1077.5 89.5 L1078.5 89.6 L1079.5 89.7 L1080.5 89.7 L1081.5 89.8 L1082.5 89.8 L1083.5 89.9 L1084.5 89.9 L1085.5 90 L1086.5 90 L1087.5 90 L1088.5 90.1 L1089.5 90.1 L1090.5 90.1 L1091.5 90.1 L1092.5 90.2 L1093.5 90.2 L1094.5 90.2 L1095.5 90.2 L1096.5 90.3 L1097.5 90.3 L1098.5 90.3 L1099.5 90.3 L1100.5 90.3 L1101.5 90.3 L1102.5 90.4 L1103.5 90.4 L1104.5 90.4 L1105.5 90.4 L1106.5 90.4 L1107.5 90.4 L1108.5 90.4 L1109.5 90.4 L1110.5 90.4 L1111.5 90.4 L1112.5 90.4 L1113.5 90.4 L1114.5 90.4 L1115.5 90.5 L1116.5 90.5 L1117.5 90.5 L1118.5 90.5 L1119.5 90.5 L1120.5 90.5 L1121.5 90.5 L1122.5 90.5 L1123.5 90.5 L1124.5 90.5 L1125.5 90.5 L1126.5 90.5 L1127.5 90.5 L1128.5 90.5 L1129.5 90.5 L1130.5 90.5 L1131.5 90.5 L1132.5 90.5 L1133.5 90.5 L1134.5 90.5 L1135.5 90.5 L1136.5 90.5 L1137.5 90.5 L1138.5 90.5 L1139.5 90.5 L1140.5 90.5 L1141.5 90.5 L1142.5 90.5 L1143.5 90.5 L1144.5 90.5 L1145.5 90.5 L1146.5 90.5 L1147.5 90.5 L1148.5 90.5 L1149.5 90.5 L1150.5 90.5 L1151.5 90.5 L1152.5 90.5 L1153.5 90.5 L1154.5 90.5 L1155.5 90.5 L1156.5 90.5 L1157.5 90.5 L1158.5 90.5 L1159.5 90.5 L1160.5 90.5 L1161.5 90.5 L1162.5 90.5 L1163.5 90.5 L1164.5 90.5 L1165.5 90.5 L1166.5 90.5 L1167.5 90.5 L1168.5 90.5 L1169.5 90.5 L1170.5 90.5 L1171.5 90.5 L1172.5 90.5 L1173.5 90.5 L1174.5 90.5 L1175.5 90.5 L1176.5 90.5 L1177.5 90.5 L1178.5 90.5 L1179.5 90.5 L1180.5 90.5 L1181.5 90.5 L1182.5 90.5 L1183.5 90.5 L1184.5 90.5 L1185.5 90.5 L1186.5 90.5 L1187.5 90.5 L1188.5 90.5 L1189.5 90.5 L1190.5 90.5 L1191.5 90.5 L1192.5 90.5 L1193.5 90.5 L1194.5 90.5 L1195.5 90.5 L1196.5 90.5 L1197.5 90.5 L1198.5 90.5 L1199.5 90.5 L1200.5 90.5 L1201.5 90.5 L1202.5 90.5 L1203.5 90.5 L1204.5 90.5 L1205.5 90.5 L1206.5 90.5 L1207.5 90.5 L1208.5 90.5 L1209.5 90.5 L1210.5 90.5 L1211.5 90.5 L1212.5 90.5 L1213.5 90.5 L1214.5 90.5 L1215.5 90.5 L1216.5 90.5 L1217.5 90.5 L1218.5 90.5 L1219.5 90.5 L1220.5 90.5 L1221.5 90.5 L1222.5 90.5 L1223.5 90.5 L1224.5 90.5 L1225.5 90.5 L1226.5 90.5 L1227.5 90.5 L1228.5 90.5 L1229.5 90.5 L1230.5 90.5 L1231.5 90.5 L1232.5 90.5 L1233.5 90.5 L1234.5 90.5 L1235.5 90.5 L1236.5 90.4 L1237.5 90.4 L1238.5 90.4 L1239.5 90.4 L1240.5 90.4 L1241.5 90.4 L1242.5 90.4 L1243.5 90.4 L1244.5 90.4 L1245.5 90.4 L1246.5 90.4 L1247.5 90.4 L1248.5 90.4 L1249.5 90.4 L1250.5 90.4 L1251.5 90.4 L1252.5 90.4 L1253.5 90.4 L1254.5 90.4 L1255.5 90.4 L1256.5 90.4 L1257.5 90.4 L1258.5 90.4 L1259.5 90.4 L1260.5 90.4 L1261.5 90.4 L1262.5 90.4 L1263.5 90.4 L1264.5 90.4 L1265.5 90.4 L1266.5 90.4 L1267.5 90.4 L1268.5 90.4 L1269.5 90.4 L1270.5 90.4 L1271.5 90.4 L1272.5 90.4 L1273.5 90.4 L1274.5 90.4 L1275.5 90.4 L1276.5 90.4 L1277.5 90.4 L1278.5 90.4 L1279.5 90.4 L1280.5 90.4 L1281.5 90.4 L1282.5 90.4 L1283.5 90.4 L1284.5 90.4 L1285.5 90.4 L1286.5 90.4 L1287.5 90.4 L1288.5 90.4 L1289.5 90.4 L1290.5 90.4 L1291.5 90.4 L1292.5 90.4 L1293.5 90.4 L1294.5 90.4 L1295.5 90.4 L1296.5 90.4 L1297.5 90.4 L1298.5 90.4 L1299.5 90.4" fill="none" stroke="#22228a" stroke-width="1.2" stroke-linejoin="round" />
<path d="M759.5 90.4 L760.5 90.4 L761.5 90.4 L762.5 90.3 L763.5 90.3 L764.5 90.3 L765.5 90.3 L766.5 90.3 L767.5 90.3 L768.5 90.3 L769.5 90.3 L770.5 90.3 L771.5 90.3 L772.5 90.3 L773.5 90.3 L774.5 90.3 L775.5 90.3 L776.5 90.2 L777.5 90.2 L778.5 90.2 L779.5 90.2 L780.5 90.2 L781.5 90.2 L782.5 90.2 L783.5 90.2 L784.5 90.2 L785.5 90.2 L786.5 90.2 L787.5 90.2 L788.5 90.1 L789.5 90.1 L790.5 90.1 L791.5 90.1 L792.5 90.1 L793.5 90.1 L794.5 90.1 L795.5 90.1 L796.5 90.1 L797.5 90.1 L798.5 90 L799.5 90 L800.5 90 L801.5 90 L802.5 90 L803.5 90 L804.5 90 L805.5 90 L806.5 89.9 L807.5 89.9 L808.5 89.9 L809.5 89.9 L810.5 89.9 L811.5 89.9 L812.5 89.9 L813.5 89.8 L814.5 89.8 L815.5 89.8 L816.5 89.8 L817.5 89.8 L818.5 89.8 L819.5 89.8 L820.5 89.7 L821.5 89.7 L822.5 89.7 L823.5 89.7 L824.5 89.7 L825.5 89.6 L826.5 89.6 L827.5 89.6 L828.5 89.6 L829.5 89.5 L830.5 89.5 L831.5 89.5 L832.5 89.5 L833.5 89.4 L834.5 89.4 L835.5 89.4 L836.5 89.3 L837.5 89.3 L838.5 89.3 L839.5 89.2 L840.5 89.2 L841.5 89.1 L842.5 89.1 L843.5 89 L844.5 89 L845.5 88.9 L846.5 88.9 L847.5 88.8 L848.5 88.7 L849.5 88.7 L850.5 88.6 L851.5 88.5 L852.5 88.4 L853.5 88.3 L854.5 88.2 L855.5 88.1 L856.5 88 L857.5 87.9 L858.5 87.7 L859.5 87.6 L860.5 87.4 L861.5 87.3 L862.5 87.1 L863.5 86.9 L864.5 86.7 L865.5 86.5 L866.5 86.2 L867.5 86 L868.5 85.7 L869.5 85.4 L870.5 85.1 L871.5 84.8 L872.5 84.4 L873.5 84.1 L874.5 83.7 L875.5 83.3 L876.5 82.9 L877.5 82.4 L878.5 81.9 L879.5 81.4 L880.5 80.9 L881.5 80.3 L882.5 79.7 L883.5 79.1 L884.5 78.4 L885.5 77.7 L886.5 77 L887.5 76.2 L888.5 75.5 L889.5 74.6 L890.5 73.8 L891.5 72.9 L892.5 72 L893.5 71 L894.5 70.1 L895.5 69 L896.5 68 L897.5 66.9 L898.5 65.8 L899.5 64.7 L900.5 63.5 L901.5 62.4 L902.5 61.1 L903.5 59.9 L904.5 58.7 L905.5 57.4 L906.5 56.1 L907.5 54.8 L908.5 53.5 L909.5 52.2 L910.5 50.8 L911.5 49.5 L912.5 48.2 L913.5 46.9 L914.5 45.5 L915.5 44.2 L916.5 42.9 L917.5 41.7" fill="none" stroke="#ff00ff" stroke-width="1.2" stroke-linejoin="round" />
<path d="M759.5 90.8 L760.5 90.8 L761.5 90.8 L762.5 90.8 L763.5 90.8 L764.5 90.8 L765.5 90.8 L766.5 90.8 L767.5 90.8 L768.5 90.7 L769.5 90.7 L770.5 90.7 L771.5 90.7 L772.5 90.7 L773.5 90.7 L774.5 90.7 L775.5 90.7 L776.5 90.7 L777.5 90.6 L778.5 90.6 L779.5 90.6 L780.5 90.6 L781.5 90.6 L782.5 90.6 L783.5 90.6 L784.5 90.6 L785.5 90.6 L786.5 90.6 L787.5 90.6 L788.5 90.6 L789.5 90.6 L790.5 90.6 L791.5 90.5 L792.5 90.5 L793.5 90.5 L794.5 90.5 L795.5 90.5 L796.5 90.4 L797.5 90.5 L798.5 90.4 L799.5 90.4 L800.5 90.4 L801.5 90.4 L802.5 90.4 L803.5 90.4 L804.5 90.4 L805.5 90.4 L806.5 90.4 L807.5 90.4 L808.5 90.3 L809.5 90.3 L810.5 90.3 L811.5 90.2 L812.5 90.2 L813.5 90.2 L814.5 90.2 L815.5 90.2 L816.5 90.2 L817.5 90.2 L818.5 90.2 L819.5 90.2 L820.5 90.1 L821.5 90.1 L822.5 90.1 L823.5 90 L824.5 90 L825.5 90 L826.5 90 L827.5 90 L828.5 89.9 L829.5 89.9 L830.5 89.8 L831.5 89.8 L832.5 89.7 L833.5 89.7 L834.5 89.7 L835.5 89.7 L836.5 89.7 L837.5 89.7 L838.5 89.7 L839.5 89.6 L840.5 89.6 L841.5 89.5 L842.5 89.4 L843.5 89.4 L844.5 89.3 L845.5 89.3 L846.5 89.3 L847.5 89.2 L848.5 89.1 L849.5 89 L850.5 89 L851.5 88.8 L852.5 88.7 L853.5 88.6 L854.5 88.4 L855.5 88.4 L856.5 88.1 L857.5 88 L858.5 88 L859.5 87.9 L860.5 87.6 L861.5 87.5 L862.5 87.3 L863.5 87.1 L864.5 86.7 L865.5 86.3 L866.5 85.9 L867.5 85.8 L868.5 85.7 L869.5 85.3 L870.5 85.2 L871.5 85 L872.5 84.6 L873.5 84.5 L874.5 83.8 L875.5 83 L876.5 82.9 L877.5 82.3 L878.5 81.9 L879.5 81.1 L880.5 80.8 L881.5 80.3 L882.5 79.8 L883.5 78.9 L884.5 77.9 L885.5 77.2 L886.5 76.8 L887.5 75.8 L888.5 74.9 L889.5 74.1 L890.5 73.3 L891.5 72.4 L892.5 71.3 L893.5 70.3 L894.5 69.4 L895.5 68.5 L896.5 67.5 L897.5 66.2 L898.5 65.2 L899.5 64.2 L900.5 63.2 L901.5 62 L902.5 60.6 L903.5 59 L904.5 58 L905.5 56.6 L906.5 55.1 L907.5 53.7 L908.5 52.3 L909.5 51.2 L910.5 50 L911.5 48.4 L912.5 47 L913.5 45.7 L914.5 44.5 L915.5 43.2 L916.5 41.7 L917.5 40.2 L918.5 39 L919.5 38 L920.5 36.6 L921.5 34.9 L922.5 33.2 L923.5 31.7 L924.5 30.6 L925.5 29.4 L926.5 28.3 L927.5 27.3 L928.5 26.9 L929.5 26.5 L930.5 26.2 L931.5 25.4 L932.5 25 L933.5 24.4 L934.5 24.3 L935.5 23.9 L936.5 23.9 L937.5 23.3 L938.5 23.4 L939.5 23.5 L940.5 23.6 L941.5 23.9 L942.5 24.5 L943.5 24.6 L944.5 25 L945.5 25.7 L946.5 26.5 L947.5 27.1 L948.5 27.9 L949.5 28.7 L950.5 29.6 L951.5 30.8 L952.5 31.6 L953.5 32.2 L954.5 33.3 L955.5 34 L956.5 34.4 L957.5 35.2 L958.5 36.6 L959.5 37.8 L960.5 39 L961.5 40.4 L962.5 41.9 L963.5 43.6 L964.5 45.4 L965.5 46.5 L966.5 47.5 L967.5 48.7 L968.5 49.3 L969.5 50.3 L970.5 51.5 L971.5 52.4 L972.5 53.3 L973.5 54.4 L974.5 55.7 L975.5 57.3 L976.5 58.2 L977.5 59.1 L978.5 60.2 L979.5 60.9 L980.5 61.8 L981.5 62.3 L982.5 63.2 L983.5 64 L984.5 64.2 L985.5 64.8 L986.5 65.4 L987.5 66.3 L988.5 67.1 L989.5 67.1 L990.5 67.9 L991.5 68.7 L992.5 69.1 L993.5 69.8 L994.5 69.9 L995.5 70.4 L996.5 70.6 L997.5 70.6 L998.5 70.8 L999.5 71.2 L1000.5 71.6 L1001.5 72.2 L1002.5 72.7 L1003.5 73.2 L1004.5 73.9 L1005.5 74.1 L1006.5 74.3 L1007.5 74.5 L1008.5 74.6 L1009.5 74.5 L1010.5 74.5 L1011.5 74.7 L1012.5 75 L1013.5 75.4 L1014.5 75.6 L1015.5 75.5 L1016.5 75.9 L1017.5 76.2 L1018.5 76 L1019.5 76.3 L1020.5 76.5 L1021.5 76.7 L1022.5 77.1 L1023.5 77.5 L1024.5 77.8 L1025.5 78.2 L1026.5 78.2 L1027.5 78.3 L1028.5 78.7 L1029.5 79.5 L1030.5 79.5 L1031.5 79.8 L1032.5 80.4 L1033.5 81 L1034.5 81.4 L1035.5 81.8 L1036.5 81.8 L1037.5 82.3 L1038.5 82.7 L1039.5 82.6 L1040.5 82.8 L1041.5 82.9 L1042.5 82.8 L1043.5 83.1 L1044.5 83.2 L1045.5 83.2 L1046.5 83.5 L1047.5 83.6 L1048.5 83.9 L1049.5 84.1 L1050.5 84.3 L1051.5 84.6 L1052.5 85.3 L1053.5 85.3 L1054.5 85.7 L1055.5 85.9 L1056.5 86.1 L1057.5 86.2 L1058.5 86.3 L1059.5 86.2 L1060.5 86.6 L1061.5 86.6 L1062.5 86.7 L1063.5 86.8 L1064.5 86.9 L1065.5 86.9 L1066.5 87 L1067.5 87.1 L1068.5 87.2 L1069.5 87.3 L1070.5 87.4 L1071.5 87.6 L1072.5 87.8 L1073.5 87.8 L1074.5 87.8 L1075.5 87.8 L1076.5 87.6 L1077.5 87.7 L1078.5 87.7 L1079.5 87.7 L1080.5 87.7 L1081.5 87.6 L1082.5 87.6 L1083.5 87.7 L1084.5 87.5 L1085.5 87.5 L1086.5 87.5 L1087.5 87.5 L1088.5 87.4 L1089.5 87.4 L1090.5 87.4 L1091.5 87.2 L1092.5 87.1 L1093.5 86.7 L1094.5 86.5 L1095.5 86.2 L1096.5 86 L1097.5 85.7 L1098.5 85.7 L1099.5 85.4 L1100.5 85.1 L1101.5 84.9 L1102.5 84.9 L1103.5 84.5 L1104.5 84.2 L1105.5 84 L1106.5 83.6 L1107.5 83.4 L1108.5 82.8 L1109.5 82.3 L1110.5 82.2 L1111.5 81.9 L1112.5 81.3 L1113.5 81.3 L1114.5 81.1 L1115.5 81 L1116.5 80.7 L1117.5 80.2 L1118.5 80.1 L1119.5 79.9 L1120.5 79.6 L1121.5 79.4 L1122.5 79.5 L1123.5 79.7 L1124.5 80 L1125.5 79.9 L1126.5 80.1 L1127.5 80.4 L1128.5 81 L1129.5 81.1 L1130.5 81.2 L1131.5 81.2 L1132.5 81.1 L1133.5 81.7 L1134.5 81.8 L1135.5 81.7 L1136.5 82 L1137.5 82.2 L1138.5 82.7 L1139.5 83.4 L1140.5 83.7 L1141.5 84.1 L1142.5 84.4 L1143.5 84.8 L1144.5 85.2 L1145.5 85.4 L1146.5 85.5 L1147.5 85.7 L1148.5 85.9 L1149.5 86.1 L1150.5 86.3 L1151.5 86.5 L1152.5 86.6 L1153.5 86.8 L1154.5 87 L1155.5 87.1 L1156.5 87.2 L1157.5 87.4 L1158.5 87.5 L1159.5 87.6 L1160.5 87.7 L1161.5 87.8 L1162.5 87.9 L1163.5 88 L1164.5 88.1 L1165.5 88.1 L1166.5 88.2 L1167.5 88.2 L1168.5 88.2 L1169.5 88.3 L1170.5 88.3 L1171.5 88.4 L1172.5 88.4 L1173.5 88.4 L1174.5 88.4 L1175.5 88.5 L1176.5 88.5 L1177.5 88.5 L1178.5 88.5 L1179.5 88.5 L1180.5 88.5 L1181.5 88.5 L1182.5 88.5 L1183.5 88.5 L1184.5 88.5 L1185.5 88.5 L1186.5 88.5 L1187.5 88.5 L1188.5 88.6 L1189.5 88.6 L1190.5 88.6 L1191.5 88.6 L1192.5 88.6 L1193.5 88.6 L1194.5 88.6 L1195.5 88.6 L1196.5 88.6 L1197.5 88.6 L1198.5 88.6 L1199.5 88.6 L1200.5 88.6 L1201.5 88.6 L1202.5 88.6 L1203.5 88.6 L1204.5 88.6 L1205.5 88.6 L1206.5 88.6 L1207.5 88.6 L1208.5 88.6 L1209.5 88.6 L1210.5 88.6 L1211.5 88.6 L1212.5 88.6 L1213.5 88.6 L1214.5 88.6 L1215.5 88.6 L1216.5 88.6 L1217.5 88.6 L1218.5 88.6 L1219.5 88.6 L1220.5 88.6 L1221.5 88.6 L1222.5 88.6 L1223.5 88.6 L1224.5 88.6 L1225.5 88.6 L1226.5 88.6 L1227.5 88.6 L1228.5 88.6 L1229.5 88.6 L1230.5 88.6 L1231.5 88.6 L1232.5 88.6 L1233.5 88.6 L1234.5 88.6 L1235.5 88.6 L1236.5 88.6 L1237.5 88.6 L1238.5 88.6 L1239.5 88.6 L1240.5 88.6 L1241.5 88.6 L1242.5 88.6 L1243.5 88.6 L1244.5 88.6 L1245.5 88.6 L1246.5 88.6 L1247.5 88.6 L1248.5 88.6 L1249.5 88.6 L1250.5 88.6 L1251.5 88.6 L1252.5 88.6 L1253.5 88.6 L1254.5 88.6 L1255.5 88.6 L1256.5 88.6 L1257.5 88.6 L1258.5 88.6 L1259.5 88.6 L1260.5 88.6 L1261.5 88.6 L1262.5 88.6 L1263.5 88.6 L1264.5 88.6 L1265.5 88.7 L1266.5 88.6 L1267.5 88.6 L1268.5 88.7 L1269.5 88.7 L1270.5 88.7 L1271.5 88.7 L1272.5 88.7 L1273.5 88.6 L1274.5 88.6 L1275.5 88.6 L1276.5 88.6 L1277.5 88.6 L1278.5 88.6 L1279.5 88.6 L1280.5 88.6 L1281.5 88.6 L1282.5 88.6 L1283.5 88.6 L1284.5 88.6 L1285.5 88.6 L1286.5 88.6 L1287.5 88.6 L1288.5 88.6 L1289.5 88.6 L1290.5 88.6 L1291.5 88.6 L1292.5 88.6 L1293.5 88.6 L1294.5 88.6 L1295.5 88.6 L1296.5 88.6 L1297.5 88.6 L1298.5 88.6 L1299.5 88.6" fill="none" stroke="#000000" stroke-width="1.2" stroke-linejoin="round" />
<path d="M933.5 26.7 L934.5 26.3 L935.5 26 L936.5 25.8 L937.5 25.7 L938.5 25.6 L939.5 25.6 L940.5 25.7 L941.5 25.9 L942.5 26.2 L943.5 26.5 L944.5 27 L945.5 27.5 L946.5 28 L947.5 28.7 L948.5 29.4 L949.5 30.1 L950.5 31 L951.5 31.8 L952.5 32.8 L953.5 33.7 L954.5 34.7 L955.5 35.7 L956.5 36.8 L957.5 37.9 L958.5 39 L959.5 40.1 L960.5 41.3 L961.5 42.4 L962.5 43.6 L963.5 44.7 L964.5 45.9 L965.5 47 L966.5 48.2 L967.5 49.3 L968.5 50.4 L969.5 51.5 L970.5 52.6 L971.5 53.7 L972.5 54.7 L973.5 55.7 L974.5 56.7 L975.5 57.7 L976.5 58.7 L977.5 59.6 L978.5 60.5 L979.5 61.3 L980.5 62.1 L981.5 62.9 L982.5 63.7 L983.5 64.4 L984.5 65.1 L985.5 65.8 L986.5 66.4 L987.5 67 L988.5 67.6 L989.5 68.2 L990.5 68.7 L991.5 69.2 L992.5 69.7 L993.5 70.1 L994.5 70.5 L995.5 70.9 L996.5 71.3 L997.5 71.7 L998.5 72 L999.5 72.4 L1000.5 72.7 L1001.5 73 L1002.5 73.3 L1003.5 73.6 L1004.5 73.9 L1005.5 74.1 L1006.5 74.4 L1007.5 74.6 L1008.5 74.9 L1009.5 75.1 L1010.5 75.4 L1011.5 75.6 L1012.5 75.9 L1013.5 76.1 L1014.5 76.3 L1015.5 76.6 L1016.5 76.8 L1017.5 77.1 L1018.5 77.3 L1019.5 77.6 L1020.5 77.8 L1021.5 78.1 L1022.5 78.3 L1023.5 78.6 L1024.5 78.8 L1025.5 79.1 L1026.5 79.3 L1027.5 79.6 L1028.5 79.8 L1029.5 80.1 L1030.5 80.3 L1031.5 80.6 L1032.5 80.8 L1033.5 81.1 L1034.5 81.4 L1035.5 81.6 L1036.5 81.9 L1037.5 82.1 L1038.5 82.4 L1039.5 82.6 L1040.5 82.9 L1041.5 83.1 L1042.5 83.3 L1043.5 83.6 L1044.5 83.8 L1045.5 84 L1046.5 84.2 L1047.5 84.5 L1048.5 84.7 L1049.5 84.9 L1050.5 85.1 L1051.5 85.3 L1052.5 85.5 L1053.5 85.7 L1054.5 85.8 L1055.5 86 L1056.5 86.2 L1057.5 86.4 L1058.5 86.5 L1059.5 86.7 L1060.5 86.8 L1061.5 87 L1062.5 87.1 L1063.5 87.3 L1064.5 87.4 L1065.5 87.5 L1066.5 87.6 L1067.5 87.7 L1068.5 87.8 L1069.5 87.9 L1070.5 88 L1071.5 88.1 L1072.5 88.2 L1073.5 88.3 L1074.5 88.3 L1075.5 88.4 L1076.5 88.4 L1077.5 88.5 L1078.5 88.5 L1079.5 88.6 L1080.5 88.6 L1081.5 88.6 L1082.5 88.6 L1083.5 88.6 L1084.5 88.6 L1085.5 88.5 L1086.5 88.5 L1087.5 88.5 L1088.5 88.4 L1089.5 88.3 L1090.5 88.2 L1091.5 88.1 L1092.5 88 L1093.5 87.9 L1094.5 87.8 L1095.5 87.6 L1096.5 87.4 L1097.5 87.3 L1098.5 87.1 L1099.5 86.8 L1100.5 86.6 L1101.5 86.4 L1102.5 86.1 L1103.5 85.9 L1104.5 85.6 L1105.5 85.3 L1106.5 85 L1107.5 84.7 L1108.5 84.5 L1109.5 84.2 L1110.5 83.9 L1111.5 83.6 L1112.5 83.3 L1113.5 83.1 L1114.5 82.8 L1115.5 82.6 L1116.5 82.4 L1117.5 82.2 L1118.5 82 L1119.5 81.9 L1120.5 81.8 L1121.5 81.7 L1122.5 81.7 L1123.5 81.7 L1124.5 81.7 L1125.5 81.8 L1126.5 81.9 L1127.5 82 L1128.5 82.2 L1129.5 82.4 L1130.5 82.6 L1131.5 82.8 L1132.5 83.1 L1133.5 83.4 L1134.5 83.6 L1135.5 83.9 L1136.5 84.2 L1137.5 84.5 L1138.5 84.9 L1139.5 85.2 L1140.5 85.5 L1141.5 85.8 L1142.5 86.1 L1143.5 86.3 L1144.5 86.6 L1145.5 86.9 L1146.5 87.1 L1147.5 87.4 L1148.5 87.6 L1149.5 87.8 L1150.5 88 L1151.5 88.2 L1152.5 88.4 L1153.5 88.6 L1154.5 88.7 L1155.5 88.9 L1156.5 89 L1157.5 89.1 L1158.5 89.2 L1159.5 89.3 L1160.5 89.4 L1161.5 89.5 L1162.5 89.6 L1163.5 89.6 L1164.5 89.7 L1165.5 89.7 L1166.5 89.8 L1167.5 89.8 L1168.5 89.9 L1169.5 89.9 L1170.5 89.9 L1171.5 89.9 L1172.5 90 L1173.5 90 L1174.5 90 L1175.5 90 L1176.5 90 L1177.5 90.1 L1178.5 90.1 L1179.5 90.1 L1180.5 90.1 L1181.5 90.1 L1182.5 90.1 L1183.5 90.1 L1184.5 90.1 L1185.5 90.1 L1186.5 90.1 L1187.5 90.1 L1188.5 90.1 L1189.5 90.1 L1190.5 90.2 L1191.5 90.2 L1192.5 90.2 L1193.5 90.2 L1194.5 90.2 L1195.5 90.2 L1196.5 90.2 L1197.5 90.2 L1198.5 90.2 L1199.5 90.2 L1200.5 90.2 L1201.5 90.2 L1202.5 90.2 L1203.5 90.2 L1204.5 90.2 L1205.5 90.2 L1206.5 90.2 L1207.5 90.2 L1208.5 90.2 L1209.5 90.2 L1210.5 90.2 L1211.5 90.2 L1212.5 90.2 L1213.5 90.2 L1214.5 90.2 L1215.5 90.2 L1216.5 90.2 L1217.5 90.2 L1218.5 90.2 L1219.5 90.2 L1220.5 90.2 L1221.5 90.2 L1222.5 90.2 L1223.5 90.2 L1224.5 90.2 L1225.5 90.2 L1226.5 90.2 L1227.5 90.2 L1228.5 90.2 L1229.5 90.2 L1230.5 90.2 L1231.5 90.2 L1232.5 90.2 L1233.5 90.2 L1234.5 90.2 L1235.5 90.2 L1236.5 90.2 L1237.5 90.2 L1238.5 90.2 L1239.5 90.2 L1240.5 90.2 L1241.5 90.2 L1242.5 90.2 L1243.5 90.2 L1244.5 90.2 L1245.5 90.3 L1246.5 90.3 L1247.5 90.3 L1248.5 90.3 L1249.5 90.3 L1250.5 90.3 L1251.5 90.3 L1252.5 90.3 L1253.5 90.3 L1254.5 90.3 L1255.5 90.3 L1256.5 90.3 L1257.5 90.3 L1258.5 90.3 L1259.5 90.3 L1260.5 90.3 L1261.5 90.3 L1262.5 90.3 L1263.5 90.3 L1264.5 90.3 L1265.5 90.3 L1266.5 90.3 L1267.5 90.3 L1268.5 90.3 L1269.5 90.3 L1270.5 90.3 L1271.5 90.3 L1272.5 90.3 L1273.5 90.3 L1274.5 90.3 L1275.5 90.2 L1276.5 90.2 L1277.5 90.2 L1278.5 90.2 L1279.5 90.2 L1280.5 90.2 L1281.5 90.2 L1282.5 90.2 L1283.5 90.2 L1284.5 90.2 L1285.5 90.2 L1286.5 90.2 L1287.5 90.2 L1288.5 90.2 L1289.5 90.2 L1290.5 90.2 L1291.5 90.2 L1292.5 90.2 L1293.5 90.2 L1294.5 90.2 L1295.5 90.2 L1296.5 90.2 L1297.5 90.2 L1298.5 90.2 L1299.5 90.2" fill="none" stroke="#ff0000" stroke-width="1.2" stroke-linejoin="round" />
<path d="M759.5 192.2 L760.5 192.2 L761.5 192.1 L762.5 192.1 L763.5 192.1 L764.5 192.1 L765.5 192.1 L766.5 192.1 L767.5 192.1 L768.5 192.1 L769.5 192.1 L770.5 192.1 L771.5 192.1 L772.5 192.1 L773.5 192 L774.5 192 L775.5 192 L776.5 192 L777.5 192 L778.5 192 L779.5 192 L780.5 192 L781.5 192 L782.5 192 L783.5 192 L784.5 191.9 L785.5 191.9 L786.5 191.9 L787.5 191.9 L788.5 191.9 L789.5 191.9 L790.5 191.9 L791.5 191.9 L792.5 191.9 L793.5 191.8 L794.5 191.8 L795.5 191.8 L796.5 191.8 L797.5 191.8 L798.5 191.8 L799.5 191.8 L800.5 191.8 L801.5 191.8 L802.5 191.7 L803.5 191.7 L804.5 191.7 L805.5 191.7 L806.5 191.7 L807.5 191.7 L808.5 191.7 L809.5 191.6 L810.5 191.6 L811.5 191.6 L812.5 191.6 L813.5 191.6 L814.5 191.6 L815.5 191.6 L816.5 191.5 L817.5 191.5 L818.5 191.5 L819.5 191.5 L820.5 191.5 L821.5 191.5 L822.5 191.4 L823.5 191.4 L824.5 191.4 L825.5 191.4 L826.5 191.4 L827.5 191.4 L828.5 191.3 L829.5 191.3 L830.5 191.3 L831.5 191.3 L832.5 191.2 L833.5 191.2 L834.5 191.2 L835.5 191.2 L836.5 191.1 L837.5 191.1 L838.5 191.1 L839.5 191.1 L840.5 191 L841.5 191 L842.5 191 L843.5 190.9 L844.5 190.9 L845.5 190.9 L846.5 190.8 L847.5 190.8 L848.5 190.7 L849.5 190.7 L850.5 190.6 L851.5 190.6 L852.5 190.5 L853.5 190.5 L854.5 190.4 L855.5 190.4 L856.5 190.3 L857.5 190.2 L858.5 190.1 L859.5 190 L860.5 190 L861.5 189.9 L862.5 189.8 L863.5 189.7 L864.5 189.5 L865.5 189.4 L866.5 189.3 L867.5 189.1 L868.5 189 L869.5 188.8 L870.5 188.6 L871.5 188.4 L872.5 188.2 L873.5 188 L874.5 187.8 L875.5 187.5 L876.5 187.3 L877.5 187 L878.5 186.7 L879.5 186.4 L880.5 186 L881.5 185.7 L882.5 185.3 L883.5 184.9 L884.5 184.4 L885.5 184 L886.5 183.5 L887.5 183 L888.5 182.4 L889.5 181.9 L890.5 181.3 L891.5 180.6 L892.5 179.9 L893.5 179.2 L894.5 178.5 L895.5 177.7 L896.5 176.9 L897.5 176.1 L898.5 175.2 L899.5 174.3 L900.5 173.4 L901.5 172.4 L902.5 171.4 L903.5 170.3 L904.5 169.2 L905.5 168.1 L906.5 166.9 L907.5 165.7 L908.5 164.5 L909.5 163.2 L910.5 162 L911.5 160.6 L912.5 159.3 L913.5 157.9 L914.5 156.5 L915.5 155.1 L916.5 153.7 L917.5 152.2 L918.5 150.8 L919.5 149.3 L920.5 147.8 L921.5 146.3 L922.5 144.9 L923.5 143.4 L924.5 141.9 L925.5 140.5 L926.5 139 L927.5 137.6 L928.5 136.2 L929.5 134.8 L930.5 133.5 L931.5 132.2 L932.5 130.9 L933.5 129.7 L934.5 128.5 L935.5 127.4 L936.5 126.4 L937.5 125.4 L938.5 124.5 L939.5 123.7 L940.5 122.9 L941.5 122.2 L942.5 121.6 L943.5 121.1 L944.5 120.7 L945.5 120.4 L946.5 120.2 L947.5 120 L948.5 120 L949.5 120.1 L950.5 120.2 L951.5 120.5 L952.5 120.8 L953.5 121.3 L954.5 121.8 L955.5 122.4 L956.5 123.1 L957.5 123.9 L958.5 124.8 L959.5 125.7 L960.5 126.7 L961.5 127.8 L962.5 128.9 L963.5 130.1 L964.5 131.3 L965.5 132.6 L966.5 133.9 L967.5 135.2 L968.5 136.6 L969.5 138 L970.5 139.4 L971.5 140.9 L972.5 142.3 L973.5 143.8 L974.5 145.3 L975.5 146.8 L976.5 148.2 L977.5 149.7 L978.5 151.2 L979.5 152.6 L980.5 154.1 L981.5 155.5 L982.5 156.9 L983.5 158.3 L984.5 159.6 L985.5 160.9 L986.5 162.2 L987.5 163.5 L988.5 164.7 L989.5 166 L990.5 167.1 L991.5 168.3 L992.5 169.4 L993.5 170.4 L994.5 171.5 L995.5 172.5 L996.5 173.4 L997.5 174.4 L998.5 175.3 L999.5 176.1 L1000.5 176.9 L1001.5 177.7 L1002.5 178.5 L1003.5 179.2 L1004.5 179.9 L1005.5 180.5 L1006.5 181.1 L1007.5 181.7 L1008.5 182.3 L1009.5 182.8 L1010.5 183.3 L1011.5 183.8 L1012.5 184.2 L1013.5 184.6 L1014.5 185 L1015.5 185.4 L1016.5 185.7 L1017.5 186.1 L1018.5 186.4 L1019.5 186.7 L1020.5 186.9 L1021.5 187.2 L1022.5 187.4 L1023.5 187.6 L1024.5 187.8 L1025.5 188 L1026.5 188.2 L1027.5 188.4 L1028.5 188.5 L1029.5 188.7 L1030.5 188.8 L1031.5 188.9 L1032.5 189.1 L1033.5 189.2 L1034.5 189.3 L1035.5 189.4 L1036.5 189.4 L1037.5 189.5 L1038.5 189.6 L1039.5 189.7 L1040.5 189.7 L1041.5 189.8 L1042.5 189.9 L1043.5 189.9 L1044.5 190 L1045.5 190 L1046.5 190 L1047.5 190.1 L1048.5 190.1 L1049.5 190.2 L1050.5 190.2 L1051.5 190.2 L1052.5 190.3 L1053.5 190.3 L1054.5 190.3 L1055.5 190.3 L1056.5 190.4 L1057.5 190.4 L1058.5 190.4 L1059.5 190.4 L1060.5 190.4 L1061.5 190.5 L1062.5 190.5 L1063.5 190.5 L1064.5 190.5 L1065.5 190.5 L1066.5 190.6 L1067.5 190.6 L1068.5 190.6 L1069.5 190.6 L1070.5 190.6 L1071.5 190.6 L1072.5 190.6 L1073.5 190.6 L1074.5 190.7 L1075.5 190.7 L1076.5 190.7 L1077.5 190.7 L1078.5 190.7 L1079.5 190.7 L1080.5 190.7 L1081.5 190.7 L1082.5 190.7 L1083.5 190.7 L1084.5 190.8 L1085.5 190.8 L1086.5 190.8 L1087.5 190.8 L1088.5 190.8 L1089.5 190.8 L1090.5 190.8 L1091.5 190.8 L1092.5 190.8 L1093.5 190.8 L1094.5 190.8 L1095.5 190.8 L1096.5 190.8 L1097.5 190.8 L1098.5 190.9 L1099.5 190.9 L1100.5 190.9 L1101.5 190.9 L1102.5 190.9 L1103.5 190.9 L1104.5 190.9 L1105.5 190.9 L1106.5 190.9 L1107.5 190.9 L1108.5 190.9 L1109.5 190.9 L1110.5 190.9 L1111.5 190.9 L1112.5 190.9 L1113.5 190.9 L1114.5 190.9 L1115.5 190.9 L1116.5 190.9 L1117.5 190.9 L1118.5 190.9 L1119.5 190.9 L1120.5 190.9 L1121.5 190.9 L1122.5 190.9 L1123.5 190.9 L1124.5 190.9 L1125.5 191 L1126.5 191 L1127.5 191 L1128.5 191 L1129.5 191 L1130.5 191 L1131.5 191 L1132.5 191 L1133.5 191 L1134.5 191 L1135.5 191 L1136.5 191 L1137.5 191 L1138.5 191 L1139.5 191 L1140.5 191 L1141.5 191 L1142.5 191 L1143.5 191 L1144.5 191 L1145.5 191 L1146.5 191 L1147.5 191 L1148.5 191 L1149.5 191 L1150.5 191 L1151.5 191 L1152.5 191 L1153.5 191 L1154.5 191 L1155.5 191 L1156.5 191 L1157.5 191 L1158.5 191 L1159.5 191 L1160.5 191 L1161.5 191 L1162.5 191 L1163.5 191 L1164.5 191 L1165.5 191 L1166.5 191 L1167.5 191 L1168.5 191 L1169.5 191 L1170.5 191 L1171.5 191 L1172.5 191 L1173.5 191 L1174.5 191 L1175.5 191 L1176.5 191 L1177.5 191 L1178.5 191 L1179.5 191 L1180.5 191 L1181.5 191 L1182.5 191 L1183.5 191 L1184.5 191 L1185.5 191 L1186.5 191 L1187.5 191 L1188.5 191 L1189.5 191 L1190.5 191 L1191.5 191 L1192.5 191 L1193.5 191 L1194.5 191 L1195.5 191 L1196.5 191 L1197.5 191 L1198.5 191 L1199.5 191 L1200.5 191 L1201.5 191 L1202.5 191 L1203.5 191 L1204.5 191 L1205.5 191 L1206.5 191 L1207.5 191 L1208.5 191 L1209.5 191 L1210.5 190.9 L1211.5 190.9 L1212.5 190.9 L1213.5 190.9 L1214.5 190.9 L1215.5 190.9 L1216.5 190.9 L1217.5 190.9 L1218.5 190.9 L1219.5 190.9 L1220.5 190.9 L1221.5 190.9 L1222.5 190.9 L1223.5 190.9 L1224.5 190.9 L1225.5 190.9 L1226.5 190.9 L1227.5 190.9 L1228.5 190.9 L1229.5 190.9 L1230.5 190.9 L1231.5 190.9 L1232.5 190.9 L1233.5 190.9 L1234.5 190.9 L1235.5 190.9 L1236.5 190.9 L1237.5 190.9 L1238.5 190.9 L1239.5 190.9 L1240.5 190.9 L1241.5 190.9 L1242.5 190.9 L1243.5 190.9 L1244.5 190.9 L1245.5 190.9 L1246.5 190.9 L1247.5 190.9 L1248.5 190.9 L1249.5 190.9 L1250.5 190.9 L1251.5 190.9 L1252.5 190.9 L1253.5 190.9 L1254.5 190.9 L1255.5 190.9 L1256.5 190.9 L1257.5 190.9 L1258.5 190.9 L1259.5 190.9 L1260.5 190.9 L1261.5 190.9 L1262.5 190.9 L1263.5 190.9 L1264.5 190.9 L1265.5 190.8 L1266.5 190.8 L1267.5 190.8 L1268.5 190.8 L1269.5 190.8 L1270.5 190.8 L1271.5 190.8 L1272.5 190.8 L1273.5 190.8 L1274.5 190.8 L1275.5 190.8 L1276.5 190.8 L1277.5 190.8 L1278.5 190.8 L1279.5 190.8 L1280.5 190.8 L1281.5 190.8 L1282.5 190.8 L1283.5 190.8 L1284.5 190.8 L1285.5 190.8 L1286.5 190.8 L1287.5 190.8 L1288.5 190.8 L1289.5 190.8 L1290.5 190.8 L1291.5 190.8 L1292.5 190.8 L1293.5 190.8 L1294.5 190.8 L1295.5 190.8 L1296.5 190.8 L1297.5 190.8 L1298.5 190.8 L1299.5 190.8" fill="none" stroke="#ff00ff" stroke-width="1.2" stroke-linejoin="round" />
<path d="M759.5 193.1 L760.5 193.1 L761.5 193.1 L762.5 193.1 L763.5 193.1 L764.5 193.1 L765.5 193.1 L766.5 193.1 L767.5 193.1 L768.5 193.1 L769.5 193.1 L770.5 193.1 L771.5 193.1 L772.5 193.1 L773.5 193.1 L774.5 193.1 L775.5 193 L776.5 193 L777.5 193 L778.5 193 L779.5 193 L780.5 193 L781.5 193 L782.5 193 L783.5 193 L784.5 193 L785.5 193 L786.5 193 L787.5 193 L788.5 193 L789.5 193 L790.5 193 L791.5 193 L792.5 193 L793.5 193 L794.5 193 L795.5 193 L796.5 193 L797.5 193 L798.5 193 L799.5 193 L800.5 193 L801.5 193 L802.5 193 L803.5 193 L804.5 193 L805.5 193 L806.5 193 L807.5 192.9 L808.5 192.9 L809.5 192.9 L810.5 192.9 L811.5 192.9 L812.5 192.9 L813.5 192.9 L814.5 192.9 L815.5 192.9 L816.5 192.9 L817.5 192.9 L818.5 192.9 L819.5 192.9 L820.5 192.9 L821.5 192.9 L822.5 192.9 L823.5 192.9 L824.5 192.9 L825.5 192.9 L826.5 192.9 L827.5 192.9 L828.5 192.9 L829.5 192.9 L830.5 192.9 L831.5 192.9 L832.5 192.9 L833.5 192.9 L834.5 192.9 L835.5 192.9 L836.5 192.9 L837.5 192.9 L838.5 192.9 L839.5 192.8 L840.5 192.8 L841.5 192.8 L842.5 192.8 L843.5 192.8 L844.5 192.8 L845.5 192.8 L846.5 192.8 L847.5 192.8 L848.5 192.8 L849.5 192.8 L850.5 192.8 L851.5 192.8 L852.5 192.8 L853.5 192.8 L854.5 192.8 L855.5 192.8 L856.5 192.8 L857.5 192.8 L858.5 192.8 L859.5 192.8 L860.5 192.8 L861.5 192.8 L862.5 192.8 L863.5 192.8 L864.5 192.8 L865.5 192.8 L866.5 192.8 L867.5 192.8 L868.5 192.8 L869.5 192.8 L870.5 192.8 L871.5 192.7 L872.5 192.7 L873.5 192.7 L874.5 192.7 L875.5 192.7 L876.5 192.7 L877.5 192.7 L878.5 192.7 L879.5 192.7 L880.5 192.7 L881.5 192.7 L882.5 192.7 L883.5 192.7 L884.5 192.7 L885.5 192.7 L886.5 192.7 L887.5 192.7 L888.5 192.7 L889.5 192.7 L890.5 192.7 L891.5 192.7 L892.5 192.7 L893.5 192.7 L894.5 192.7 L895.5 192.7 L896.5 192.7 L897.5 192.7 L898.5 192.7 L899.5 192.7 L900.5 192.7 L901.5 192.7 L902.5 192.6 L903.5 192.6 L904.5 192.6 L905.5 192.6 L906.5 192.6 L907.5 192.6 L908.5 192.6 L909.5 192.6 L910.5 192.6 L911.5 192.6 L912.5 192.6 L913.5 192.6 L914.5 192.6 L915.5 192.6 L916.5 192.6 L917.5 192.6 L918.5 192.6 L919.5 192.6 L920.5 192.6 L921.5 192.6 L922.5 192.6 L923.5 192.6 L924.5 192.6 L925.5 192.6 L926.5 192.6 L927.5 192.6 L928.5 192.6 L929.5 192.6 L930.5 192.6 L931.5 192.6 L932.5 192.6 L933.5 192.6 L934.5 192.5 L935.5 192.5 L936.5 192.5 L937.5 192.5 L938.5 192.5 L939.5 192.5 L940.5 192.5 L941.5 192.5 L942.5 192.5 L943.5 192.5 L944.5 192.5 L945.5 192.5 L946.5 192.5 L947.5 192.5 L948.5 192.5 L949.5 192.5 L950.5 192.5 L951.5 192.5 L952.5 192.5 L953.5 192.5 L954.5 192.5 L955.5 192.5 L956.5 192.5 L957.5 192.5 L958.5 192.5 L959.5 192.5 L960.5 192.5 L961.5 192.5 L962.5 192.5 L963.5 192.5 L964.5 192.5 L965.5 192.5 L966.5 192.4 L967.5 192.4 L968.5 192.4 L969.5 192.4 L970.5 192.4 L971.5 192.4 L972.5 192.4 L973.5 192.4 L974.5 192.4 L975.5 192.4 L976.5 192.4 L977.5 192.4 L978.5 192.4 L979.5 192.4 L980.5 192.4 L981.5 192.4 L982.5 192.4 L983.5 192.4 L984.5 192.4 L985.5 192.4 L986.5 192.4 L987.5 192.4 L988.5 192.4 L989.5 192.4 L990.5 192.4 L991.5 192.4 L992.5 192.4 L993.5 192.4 L994.5 192.4 L995.5 192.4 L996.5 192.4 L997.5 192.4 L998.5 192.3 L999.5 192.3 L1000.5 192.3 L1001.5 192.3 L1002.5 192.3 L1003.5 192.3 L1004.5 192.3 L1005.5 192.3 L1006.5 192.3 L1007.5 192.3 L1008.5 192.3 L1009.5 192.3 L1010.5 192.3 L1011.5 192.3 L1012.5 192.3 L1013.5 192.3 L1014.5 192.3 L1015.5 192.3 L1016.5 192.3 L1017.5 192.3 L1018.5 192.3 L1019.5 192.3 L1020.5 192.3 L1021.5 192.3 L1022.5 192.3 L1023.5 192.3 L1024.5 192.3 L1025.5 192.3 L1026.5 192.3 L1027.5 192.3 L1028.5 192.3 L1029.5 192.2 L1030.5 192.2 L1031.5 192.2 L1032.5 192.2 L1033.5 192.2 L1034.5 192.2 L1035.5 192.2 L1036.5 192.2 L1037.5 192.2 L1038.5 192.2 L1039.5 192.2 L1040.5 192.2 L1041.5 192.2 L1042.5 192.2 L1043.5 192.2 L1044.5 192.2 L1045.5 192.2 L1046.5 192.2 L1047.5 192.2 L1048.5 192.2 L1049.5 192.2 L1050.5 192.2 L1051.5 192.2 L1052.5 192.2 L1053.5 192.2 L1054.5 192.2 L1055.5 192.2 L1056.5 192.2 L1057.5 192.2 L1058.5 192.2 L1059.5 192.2 L1060.5 192.2 L1061.5 192.1 L1062.5 192.1 L1063.5 192.1 L1064.5 192.1 L1065.5 192.1 L1066.5 192.1 L1067.5 192.1 L1068.5 192.1 L1069.5 192.1 L1070.5 192.1 L1071.5 192.1 L1072.5 192.1 L1073.5 192.1 L1074.5 192.1 L1075.5 192.1 L1076.5 192.1 L1077.5 192.1 L1078.5 192.1 L1079.5 192.1 L1080.5 192.1 L1081.5 192.1 L1082.5 192.1 L1083.5 192.1 L1084.5 192.1 L1085.5 192.1 L1086.5 192.1 L1087.5 192.1 L1088.5 192.1 L1089.5 192.1 L1090.5 192.1 L1091.5 192.1 L1092.5 192.1 L1093.5 192 L1094.5 192 L1095.5 192 L1096.5 192 L1097.5 192 L1098.5 192 L1099.5 192 L1100.5 192 L1101.5 192 L1102.5 192 L1103.5 192 L1104.5 192 L1105.5 192 L1106.5 192 L1107.5 192 L1108.5 192 L1109.5 192 L1110.5 192 L1111.5 192 L1112.5 192 L1113.5 192 L1114.5 192 L1115.5 192 L1116.5 192 L1117.5 192 L1118.5 192 L1119.5 192 L1120.5 192 L1121.5 192 L1122.5 192 L1123.5 192 L1124.5 192 L1125.5 191.9 L1126.5 191.9 L1127.5 191.9 L1128.5 191.9 L1129.5 191.9 L1130.5 191.9 L1131.5 191.9 L1132.5 191.9 L1133.5 191.9 L1134.5 191.9 L1135.5 191.9 L1136.5 191.9 L1137.5 191.9 L1138.5 191.9 L1139.5 191.9 L1140.5 191.9 L1141.5 191.9 L1142.5 191.9 L1143.5 191.9 L1144.5 191.9 L1145.5 191.9 L1146.5 191.9 L1147.5 191.9 L1148.5 191.9 L1149.5 191.9 L1150.5 191.9 L1151.5 191.9 L1152.5 191.9 L1153.5 191.9 L1154.5 191.9 L1155.5 191.9 L1156.5 191.9 L1157.5 191.8 L1158.5 191.8 L1159.5 191.8 L1160.5 191.8 L1161.5 191.8 L1162.5 191.8 L1163.5 191.8 L1164.5 191.8 L1165.5 191.8 L1166.5 191.8 L1167.5 191.8 L1168.5 191.8 L1169.5 191.8 L1170.5 191.8 L1171.5 191.8 L1172.5 191.8 L1173.5 191.8 L1174.5 191.8 L1175.5 191.8 L1176.5 191.8 L1177.5 191.8 L1178.5 191.8 L1179.5 191.8 L1180.5 191.8 L1181.5 191.8 L1182.5 191.8 L1183.5 191.8 L1184.5 191.8 L1185.5 191.8 L1186.5 191.8 L1187.5 191.8 L1188.5 191.7 L1189.5 191.7 L1190.5 191.7 L1191.5 191.7 L1192.5 191.7 L1193.5 191.7 L1194.5 191.7 L1195.5 191.7 L1196.5 191.7 L1197.5 191.7 L1198.5 191.7 L1199.5 191.7 L1200.5 191.7 L1201.5 191.7 L1202.5 191.7 L1203.5 191.7 L1204.5 191.7 L1205.5 191.7 L1206.5 191.7 L1207.5 191.7 L1208.5 191.7 L1209.5 191.7 L1210.5 191.7 L1211.5 191.7 L1212.5 191.7 L1213.5 191.7 L1214.5 191.7 L1215.5 191.7 L1216.5 191.7 L1217.5 191.7 L1218.5 191.7 L1219.5 191.7 L1220.5 191.6 L1221.5 191.6 L1222.5 191.6 L1223.5 191.6 L1224.5 191.6 L1225.5 191.6 L1226.5 191.6 L1227.5 191.6 L1228.5 191.6 L1229.5 191.6 L1230.5 191.6 L1231.5 191.6 L1232.5 191.6 L1233.5 191.6 L1234.5 191.6 L1235.5 191.6 L1236.5 191.6 L1237.5 191.6 L1238.5 191.6 L1239.5 191.6 L1240.5 191.6 L1241.5 191.6 L1242.5 191.6 L1243.5 191.6 L1244.5 191.6 L1245.5 191.6 L1246.5 191.6 L1247.5 191.6 L1248.5 191.6 L1249.5 191.6 L1250.5 191.6 L1251.5 191.6 L1252.5 191.5 L1253.5 191.5 L1254.5 191.5 L1255.5 191.5 L1256.5 191.5 L1257.5 191.5 L1258.5 191.5 L1259.5 191.5 L1260.5 191.5 L1261.5 191.5 L1262.5 191.5 L1263.5 191.5 L1264.5 191.5 L1265.5 191.5 L1266.5 191.5 L1267.5 191.5 L1268.5 191.5 L1269.5 191.5 L1270.5 191.5 L1271.5 191.5 L1272.5 191.5 L1273.5 191.5 L1274.5 191.5 L1275.5 191.5 L1276.5 191.5 L1277.5 191.5 L1278.5 191.5 L1279.5 191.5 L1280.5 191.5 L1281.5 191.5 L1282.5 191.5 L1283.5 191.5 L1284.5 191.4 L1285.5 191.4 L1286.5 191.4 L1287.5 191.4 L1288.5 191.4 L1289.5 191.4 L1290.5 191.4 L1291.5 191.4 L1292.5 191.4 L1293.5 191.4 L1294.5 191.4 L1295.5 191.4 L1296.5 191.4 L1297.5 191.4 L1298.5 191.4 L1299.5 191.4" fill="none" stroke="#22228a" stroke-width="1.3" stroke-linejoin="round" />
<path d="M759.5 193.1 L760.5 193.1 L761.5 193.1 L762.5 193.1 L763.5 193.1 L764.5 193.1 L765.5 193.1 L766.5 193.1 L767.5 193.1 L768.5 193.1 L769.5 193.1 L770.5 193.1 L771.5 193.1 L772.5 193.1 L773.5 193 L774.5 193 L775.5 193 L776.5 193 L777.5 193 L778.5 193 L779.5 193 L780.5 193 L781.5 193 L782.5 193 L783.5 193 L784.5 193 L785.5 193 L786.5 193 L787.5 193 L788.5 193 L789.5 193 L790.5 193 L791.5 193 L792.5 193 L793.5 193 L794.5 193 L795.5 193 L796.5 193 L797.5 193 L798.5 193 L799.5 193 L800.5 193 L801.5 193 L802.5 193 L803.5 193 L804.5 192.9 L805.5 192.9 L806.5 192.9 L807.5 192.9 L808.5 192.9 L809.5 192.9 L810.5 192.9 L811.5 192.9 L812.5 192.9 L813.5 192.9 L814.5 192.9 L815.5 192.9 L816.5 192.9 L817.5 192.9 L818.5 192.9 L819.5 192.9 L820.5 192.9 L821.5 192.9 L822.5 192.9 L823.5 192.9 L824.5 192.9 L825.5 192.9 L826.5 192.9 L827.5 192.9 L828.5 192.9 L829.5 192.9 L830.5 192.9 L831.5 192.9 L832.5 192.9 L833.5 192.9 L834.5 192.9 L835.5 192.8 L836.5 192.8 L837.5 192.8 L838.5 192.8 L839.5 192.8 L840.5 192.8 L841.5 192.8 L842.5 192.8 L843.5 192.8 L844.5 192.8 L845.5 192.8 L846.5 192.8 L847.5 192.8 L848.5 192.8 L849.5 192.8 L850.5 192.8 L851.5 192.8 L852.5 192.8 L853.5 192.8 L854.5 192.8 L855.5 192.8 L856.5 192.8 L857.5 192.8 L858.5 192.8 L859.5 192.8 L860.5 192.8 L861.5 192.8 L862.5 192.8 L863.5 192.8 L864.5 192.8 L865.5 192.8 L866.5 192.7 L867.5 192.7 L868.5 192.7 L869.5 192.7 L870.5 192.7 L871.5 192.7 L872.5 192.7 L873.5 192.7 L874.5 192.7 L875.5 192.7 L876.5 192.7 L877.5 192.7 L878.5 192.7 L879.5 192.7 L880.5 192.7 L881.5 192.7 L882.5 192.7 L883.5 192.7 L884.5 192.7 L885.5 192.7 L886.5 192.7 L887.5 192.7 L888.5 192.7 L889.5 192.7 L890.5 192.7 L891.5 192.7 L892.5 192.7 L893.5 192.7 L894.5 192.7 L895.5 192.7 L896.5 192.6 L897.5 192.6 L898.5 192.6 L899.5 192.6 L900.5 192.6 L901.5 192.6 L902.5 192.6 L903.5 192.6 L904.5 192.6 L905.5 192.6 L906.5 192.6 L907.5 192.6 L908.5 192.6 L909.5 192.6 L910.5 192.6 L911.5 192.6 L912.5 192.6 L913.5 192.6 L914.5 192.6 L915.5 192.6 L916.5 192.6 L917.5 192.6 L918.5 192.6 L919.5 192.6 L920.5 192.6 L921.5 192.6 L922.5 192.6 L923.5 192.6 L924.5 192.6 L925.5 192.6 L926.5 192.5 L927.5 192.5 L928.5 192.5 L929.5 192.5 L930.5 192.5 L931.5 192.5 L932.5 192.5 L933.5 192.5 L934.5 192.5 L935.5 192.5 L936.5 192.5 L937.5 192.5 L938.5 192.5 L939.5 192.5 L940.5 192.5 L941.5 192.5 L942.5 192.5 L943.5 192.5 L944.5 192.5 L945.5 192.5 L946.5 192.5 L947.5 192.5 L948.5 192.5 L949.5 192.5 L950.5 192.5 L951.5 192.5 L952.5 192.5 L953.5 192.5 L954.5 192.5 L955.5 192.4 L956.5 192.4 L957.5 192.4 L958.5 192.4 L959.5 192.4 L960.5 192.4 L961.5 192.4 L962.5 192.4 L963.5 192.4 L964.5 192.4 L965.5 192.4 L966.5 192.4 L967.5 192.4 L968.5 192.4 L969.5 192.4 L970.5 192.4 L971.5 192.4 L972.5 192.4 L973.5 192.4 L974.5 192.4 L975.5 192.4 L976.5 192.4 L977.5 192.4 L978.5 192.4 L979.5 192.4 L980.5 192.4 L981.5 192.4 L982.5 192.4 L983.5 192.3 L984.5 192.3 L985.5 192.3 L986.5 192.3 L987.5 192.3 L988.5 192.3 L989.5 192.3 L990.5 192.3 L991.5 192.3 L992.5 192.3 L993.5 192.3 L994.5 192.3 L995.5 192.3 L996.5 192.3 L997.5 192.3 L998.5 192.3 L999.5 192.3 L1000.5 192.3 L1001.5 192.3 L1002.5 192.3 L1003.5 192.3 L1004.5 192.3 L1005.5 192.3 L1006.5 192.3 L1007.5 192.3 L1008.5 192.3 L1009.5 192.2 L1010.5 192.2 L1011.5 192.2 L1012.5 192.2 L1013.5 192.2 L1014.5 192.2 L1015.5 192.2 L1016.5 192.2 L1017.5 192.2 L1018.5 192.2 L1019.5 192.2 L1020.5 192.2 L1021.5 192.2 L1022.5 192.2 L1023.5 192.2 L1024.5 192.2 L1025.5 192.2 L1026.5 192.2 L1027.5 192.2 L1028.5 192.2 L1029.5 192.2 L1030.5 192.1 L1031.5 192.1 L1032.5 192.1 L1033.5 192.1 L1034.5 192.1 L1035.5 192.1 L1036.5 192.1 L1037.5 192.1 L1038.5 192.1 L1039.5 192.1 L1040.5 192.1 L1041.5 192.1 L1042.5 192.1 L1043.5 192.1 L1044.5 192 L1045.5 192 L1046.5 192 L1047.5 192 L1048.5 192 L1049.5 192 L1050.5 192 L1051.5 192 L1052.5 192 L1053.5 191.9 L1054.5 191.9 L1055.5 191.9 L1056.5 191.9 L1057.5 191.9 L1058.5 191.9 L1059.5 191.8 L1060.5 191.8 L1061.5 191.8 L1062.5 191.8 L1063.5 191.8 L1064.5 191.7 L1065.5 191.7 L1066.5 191.7 L1067.5 191.7 L1068.5 191.6 L1069.5 191.6 L1070.5 191.6 L1071.5 191.5 L1072.5 191.5 L1073.5 191.5 L1074.5 191.4 L1075.5 191.4 L1076.5 191.3 L1077.5 191.3 L1078.5 191.2 L1079.5 191.2 L1080.5 191.1 L1081.5 191.1 L1082.5 191 L1083.5 191 L1084.5 190.9 L1085.5 190.8 L1086.5 190.8 L1087.5 190.7 L1088.5 190.6 L1089.5 190.6 L1090.5 190.5 L1091.5 190.4 L1092.5 190.4 L1093.5 190.3 L1094.5 190.2 L1095.5 190.1 L1096.5 190 L1097.5 189.9 L1098.5 189.9 L1099.5 189.8 L1100.5 189.7 L1101.5 189.6 L1102.5 189.5 L1103.5 189.4 L1104.5 189.3 L1105.5 189.2 L1106.5 189.1 L1107.5 189 L1108.5 188.9 L1109.5 188.8 L1110.5 188.8 L1111.5 188.7 L1112.5 188.6 L1113.5 188.5 L1114.5 188.4 L1115.5 188.3 L1116.5 188.2 L1117.5 188.1 L1118.5 188.1 L1119.5 188 L1120.5 187.9 L1121.5 187.8 L1122.5 187.8 L1123.5 187.7 L1124.5 187.6 L1125.5 187.6 L1126.5 187.5 L1127.5 187.5 L1128.5 187.5 L1129.5 187.4 L1130.5 187.4 L1131.5 187.4 L1132.5 187.3 L1133.5 187.3 L1134.5 187.3 L1135.5 187.3 L1136.5 187.3 L1137.5 187.3 L1138.5 187.3 L1139.5 187.4 L1140.5 187.4 L1141.5 187.4 L1142.5 187.4 L1143.5 187.5 L1144.5 187.5 L1145.5 187.6 L1146.5 187.6 L1147.5 187.7 L1148.5 187.8 L1149.5 187.8 L1150.5 187.9 L1151.5 188 L1152.5 188 L1153.5 188.1 L1154.5 188.2 L1155.5 188.3 L1156.5 188.3 L1157.5 188.4 L1158.5 188.5 L1159.5 188.6 L1160.5 188.7 L1161.5 188.8 L1162.5 188.9 L1163.5 189 L1164.5 189 L1165.5 189.1 L1166.5 189.2 L1167.5 189.3 L1168.5 189.4 L1169.5 189.5 L1170.5 189.5 L1171.5 189.6 L1172.5 189.7 L1173.5 189.8 L1174.5 189.9 L1175.5 189.9 L1176.5 190 L1177.5 190.1 L1178.5 190.2 L1179.5 190.2 L1180.5 190.3 L1181.5 190.4 L1182.5 190.4 L1183.5 190.5 L1184.5 190.5 L1185.5 190.6 L1186.5 190.6 L1187.5 190.7 L1188.5 190.7 L1189.5 190.8 L1190.5 190.8 L1191.5 190.9 L1192.5 190.9 L1193.5 191 L1194.5 191 L1195.5 191 L1196.5 191.1 L1197.5 191.1 L1198.5 191.1 L1199.5 191.2 L1200.5 191.2 L1201.5 191.2 L1202.5 191.2 L1203.5 191.3 L1204.5 191.3 L1205.5 191.3 L1206.5 191.3 L1207.5 191.3 L1208.5 191.3 L1209.5 191.4 L1210.5 191.4 L1211.5 191.4 L1212.5 191.4 L1213.5 191.4 L1214.5 191.4 L1215.5 191.4 L1216.5 191.4 L1217.5 191.4 L1218.5 191.4 L1219.5 191.5 L1220.5 191.5 L1221.5 191.5 L1222.5 191.5 L1223.5 191.5 L1224.5 191.5 L1225.5 191.5 L1226.5 191.5 L1227.5 191.5 L1228.5 191.5 L1229.5 191.5 L1230.5 191.5 L1231.5 191.5 L1232.5 191.5 L1233.5 191.5 L1234.5 191.5 L1235.5 191.5 L1236.5 191.5 L1237.5 191.5 L1238.5 191.5 L1239.5 191.5 L1240.5 191.5 L1241.5 191.5 L1242.5 191.5 L1243.5 191.5 L1244.5 191.5 L1245.5 191.5 L1246.5 191.5 L1247.5 191.5 L1248.5 191.5 L1249.5 191.5 L1250.5 191.5 L1251.5 191.5 L1252.5 191.5 L1253.5 191.5 L1254.5 191.5 L1255.5 191.5 L1256.5 191.5 L1257.5 191.5 L1258.5 191.5 L1259.5 191.5 L1260.5 191.5 L1261.5 191.5 L1262.5 191.5 L1263.5 191.4 L1264.5 191.4 L1265.5 191.4 L1266.5 191.4 L1267.5 191.4 L1268.5 191.4 L1269.5 191.4 L1270.5 191.4 L1271.5 191.4 L1272.5 191.4 L1273.5 191.4 L1274.5 191.4 L1275.5 191.4 L1276.5 191.4 L1277.5 191.4 L1278.5 191.4 L1279.5 191.4 L1280.5 191.4 L1281.5 191.4 L1282.5 191.4 L1283.5 191.4 L1284.5 191.4 L1285.5 191.4 L1286.5 191.4 L1287.5 191.4 L1288.5 191.4 L1289.5 191.4 L1290.5 191.4 L1291.5 191.4 L1292.5 191.4 L1293.5 191.4 L1294.5 191.4 L1295.5 191.4 L1296.5 191.4 L1297.5 191.4 L1298.5 191.4 L1299.5 191.4" fill="none" stroke="#008000" stroke-width="1.2" stroke-linejoin="round" />
<path d="M759.5 193.1 L760.5 193.1 L761.5 193.1 L762.5 193.1 L763.5 193.1 L764.5 193.1 L765.5 193 L766.5 193 L767.5 193 L768.5 193 L769.5 193 L770.5 193 L771.5 193 L772.5 193 L773.5 193 L774.5 193 L775.5 193 L776.5 193 L777.5 193 L778.5 193 L779.5 193 L780.5 193 L781.5 193 L782.5 193 L783.5 193 L784.5 193 L785.5 193 L786.5 193 L787.5 193 L788.5 193 L789.5 193 L790.5 193 L791.5 193 L792.5 193 L793.5 193 L794.5 192.9 L795.5 192.9 L796.5 192.9 L797.5 192.9 L798.5 192.9 L799.5 192.9 L800.5 192.9 L801.5 192.9 L802.5 192.9 L803.5 192.9 L804.5 192.9 L805.5 192.9 L806.5 192.9 L807.5 192.9 L808.5 192.9 L809.5 192.9 L810.5 192.9 L811.5 192.9 L812.5 192.9 L813.5 192.9 L814.5 192.9 L815.5 192.9 L816.5 192.9 L817.5 192.9 L818.5 192.9 L819.5 192.9 L820.5 192.9 L821.5 192.9 L822.5 192.8 L823.5 192.8 L824.5 192.8 L825.5 192.8 L826.5 192.8 L827.5 192.8 L828.5 192.8 L829.5 192.8 L830.5 192.8 L831.5 192.8 L832.5 192.8 L833.5 192.8 L834.5 192.8 L835.5 192.8 L836.5 192.8 L837.5 192.8 L838.5 192.8 L839.5 192.8 L840.5 192.8 L841.5 192.8 L842.5 192.8 L843.5 192.8 L844.5 192.8 L845.5 192.8 L846.5 192.8 L847.5 192.8 L848.5 192.8 L849.5 192.7 L850.5 192.7 L851.5 192.7 L852.5 192.7 L853.5 192.7 L854.5 192.7 L855.5 192.7 L856.5 192.7 L857.5 192.7 L858.5 192.7 L859.5 192.7 L860.5 192.7 L861.5 192.7 L862.5 192.7 L863.5 192.7 L864.5 192.7 L865.5 192.7 L866.5 192.7 L867.5 192.7 L868.5 192.7 L869.5 192.7 L870.5 192.7 L871.5 192.7 L872.5 192.7 L873.5 192.6 L874.5 192.6 L875.5 192.6 L876.5 192.6 L877.5 192.6 L878.5 192.6 L879.5 192.6 L880.5 192.6 L881.5 192.6 L882.5 192.6 L883.5 192.6 L884.5 192.6 L885.5 192.6 L886.5 192.6 L887.5 192.6 L888.5 192.6 L889.5 192.6 L890.5 192.6 L891.5 192.6 L892.5 192.6 L893.5 192.6 L894.5 192.5 L895.5 192.5 L896.5 192.5 L897.5 192.5 L898.5 192.5 L899.5 192.5 L900.5 192.5 L901.5 192.5 L902.5 192.5 L903.5 192.5 L904.5 192.5 L905.5 192.5 L906.5 192.5 L907.5 192.5 L908.5 192.5 L909.5 192.5 L910.5 192.5 L911.5 192.5 L912.5 192.4 L913.5 192.4 L914.5 192.4 L915.5 192.4 L916.5 192.4 L917.5 192.4 L918.5 192.4 L919.5 192.4 L920.5 192.4 L921.5 192.4 L922.5 192.4 L923.5 192.3 L924.5 192.3 L925.5 192.3 L926.5 192.3 L927.5 192.3 L928.5 192.3 L929.5 192.3 L930.5 192.3 L931.5 192.2 L932.5 192.2 L933.5 192.2 L934.5 192.2 L935.5 192.2 L936.5 192.2 L937.5 192.1 L938.5 192.1 L939.5 192.1 L940.5 192.1 L941.5 192 L942.5 192 L943.5 192 L944.5 191.9 L945.5 191.9 L946.5 191.9 L947.5 191.8 L948.5 191.8 L949.5 191.8 L950.5 191.7 L951.5 191.7 L952.5 191.6 L953.5 191.6 L954.5 191.5 L955.5 191.5 L956.5 191.4 L957.5 191.4 L958.5 191.3 L959.5 191.2 L960.5 191.1 L961.5 191.1 L962.5 191 L963.5 190.9 L964.5 190.8 L965.5 190.7 L966.5 190.7 L967.5 190.6 L968.5 190.5 L969.5 190.4 L970.5 190.3 L971.5 190.1 L972.5 190 L973.5 189.9 L974.5 189.8 L975.5 189.7 L976.5 189.5 L977.5 189.4 L978.5 189.3 L979.5 189.1 L980.5 189 L981.5 188.9 L982.5 188.7 L983.5 188.6 L984.5 188.4 L985.5 188.3 L986.5 188.1 L987.5 188 L988.5 187.8 L989.5 187.6 L990.5 187.5 L991.5 187.3 L992.5 187.1 L993.5 187 L994.5 186.8 L995.5 186.7 L996.5 186.5 L997.5 186.3 L998.5 186.2 L999.5 186 L1000.5 185.9 L1001.5 185.7 L1002.5 185.6 L1003.5 185.4 L1004.5 185.3 L1005.5 185.1 L1006.5 185 L1007.5 184.9 L1008.5 184.7 L1009.5 184.6 L1010.5 184.5 L1011.5 184.4 L1012.5 184.3 L1013.5 184.2 L1014.5 184.2 L1015.5 184.1 L1016.5 184 L1017.5 184 L1018.5 183.9 L1019.5 183.9 L1020.5 183.9 L1021.5 183.9 L1022.5 183.9 L1023.5 183.9 L1024.5 183.9 L1025.5 183.9 L1026.5 184 L1027.5 184 L1028.5 184.1 L1029.5 184.1 L1030.5 184.2 L1031.5 184.3 L1032.5 184.4 L1033.5 184.5 L1034.5 184.6 L1035.5 184.7 L1036.5 184.8 L1037.5 184.9 L1038.5 185 L1039.5 185.2 L1040.5 185.3 L1041.5 185.4 L1042.5 185.6 L1043.5 185.7 L1044.5 185.9 L1045.5 186 L1046.5 186.2 L1047.5 186.3 L1048.5 186.5 L1049.5 186.6 L1050.5 186.8 L1051.5 187 L1052.5 187.1 L1053.5 187.3 L1054.5 187.4 L1055.5 187.6 L1056.5 187.7 L1057.5 187.9 L1058.5 188 L1059.5 188.2 L1060.5 188.3 L1061.5 188.5 L1062.5 188.6 L1063.5 188.7 L1064.5 188.9 L1065.5 189 L1066.5 189.1 L1067.5 189.3 L1068.5 189.4 L1069.5 189.5 L1070.5 189.6 L1071.5 189.7 L1072.5 189.8 L1073.5 189.9 L1074.5 190 L1075.5 190.1 L1076.5 190.2 L1077.5 190.3 L1078.5 190.4 L1079.5 190.5 L1080.5 190.6 L1081.5 190.6 L1082.5 190.7 L1083.5 190.8 L1084.5 190.8 L1085.5 190.9 L1086.5 190.9 L1087.5 191 L1088.5 191.1 L1089.5 191.1 L1090.5 191.1 L1091.5 191.2 L1092.5 191.2 L1093.5 191.3 L1094.5 191.3 L1095.5 191.3 L1096.5 191.4 L1097.5 191.4 L1098.5 191.4 L1099.5 191.5 L1100.5 191.5 L1101.5 191.5 L1102.5 191.5 L1103.5 191.6 L1104.5 191.6 L1105.5 191.6 L1106.5 191.6 L1107.5 191.6 L1108.5 191.6 L1109.5 191.6 L1110.5 191.7 L1111.5 191.7 L1112.5 191.7 L1113.5 191.7 L1114.5 191.7 L1115.5 191.7 L1116.5 191.7 L1117.5 191.7 L1118.5 191.7 L1119.5 191.7 L1120.5 191.7 L1121.5 191.7 L1122.5 191.7 L1123.5 191.7 L1124.5 191.7 L1125.5 191.7 L1126.5 191.7 L1127.5 191.7 L1128.5 191.8 L1129.5 191.8 L1130.5 191.8 L1131.5 191.8 L1132.5 191.8 L1133.5 191.8 L1134.5 191.8 L1135.5 191.8 L1136.5 191.8 L1137.5 191.8 L1138.5 191.8 L1139.5 191.8 L1140.5 191.8 L1141.5 191.8 L1142.5 191.8 L1143.5 191.8 L1144.5 191.8 L1145.5 191.8 L1146.5 191.8 L1147.5 191.7 L1148.5 191.7 L1149.5 191.7 L1150.5 191.7 L1151.5 191.7 L1152.5 191.7 L1153.5 191.7 L1154.5 191.7 L1155.5 191.7 L1156.5 191.7 L1157.5 191.7 L1158.5 191.7 L1159.5 191.7 L1160.5 191.7 L1161.5 191.7 L1162.5 191.7 L1163.5 191.7 L1164.5 191.7 L1165.5 191.7 L1166.5 191.7 L1167.5 191.7 L1168.5 191.7 L1169.5 191.7 L1170.5 191.7 L1171.5 191.7 L1172.5 191.7 L1173.5 191.7 L1174.5 191.7 L1175.5 191.7 L1176.5 191.7 L1177.5 191.7 L1178.5 191.7 L1179.5 191.7 L1180.5 191.7 L1181.5 191.7 L1182.5 191.7 L1183.5 191.7 L1184.5 191.7 L1185.5 191.7 L1186.5 191.7 L1187.5 191.7 L1188.5 191.7 L1189.5 191.7 L1190.5 191.7 L1191.5 191.7 L1192.5 191.7 L1193.5 191.7 L1194.5 191.7 L1195.5 191.7 L1196.5 191.7 L1197.5 191.7 L1198.5 191.7 L1199.5 191.6 L1200.5 191.6 L1201.5 191.6 L1202.5 191.6 L1203.5 191.6 L1204.5 191.6 L1205.5 191.6 L1206.5 191.6 L1207.5 191.6 L1208.5 191.6 L1209.5 191.6 L1210.5 191.6 L1211.5 191.6 L1212.5 191.6 L1213.5 191.6 L1214.5 191.6 L1215.5 191.6 L1216.5 191.6 L1217.5 191.6 L1218.5 191.6 L1219.5 191.6 L1220.5 191.6 L1221.5 191.6 L1222.5 191.6 L1223.5 191.6 L1224.5 191.6 L1225.5 191.6 L1226.5 191.6 L1227.5 191.6 L1228.5 191.6 L1229.5 191.6 L1230.5 191.6 L1231.5 191.6 L1232.5 191.6 L1233.5 191.6 L1234.5 191.6 L1235.5 191.6 L1236.5 191.6 L1237.5 191.5 L1238.5 191.5 L1239.5 191.5 L1240.5 191.5 L1241.5 191.5 L1242.5 191.5 L1243.5 191.5 L1244.5 191.5 L1245.5 191.5 L1246.5 191.5 L1247.5 191.5 L1248.5 191.5 L1249.5 191.5 L1250.5 191.5 L1251.5 191.5 L1252.5 191.5 L1253.5 191.5 L1254.5 191.5 L1255.5 191.5 L1256.5 191.5 L1257.5 191.5 L1258.5 191.5 L1259.5 191.5 L1260.5 191.5 L1261.5 191.5 L1262.5 191.5 L1263.5 191.5 L1264.5 191.5 L1265.5 191.5 L1266.5 191.5 L1267.5 191.5 L1268.5 191.5 L1269.5 191.5 L1270.5 191.5 L1271.5 191.5 L1272.5 191.5 L1273.5 191.4 L1274.5 191.4 L1275.5 191.4 L1276.5 191.4 L1277.5 191.4 L1278.5 191.4 L1279.5 191.4 L1280.5 191.4 L1281.5 191.4 L1282.5 191.4 L1283.5 191.4 L1284.5 191.4 L1285.5 191.4 L1286.5 191.4 L1287.5 191.4 L1288.5 191.4 L1289.5 191.4 L1290.5 191.4 L1291.5 191.4 L1292.5 191.4 L1293.5 191.4 L1294.5 191.4 L1295.5 191.4 L1296.5 191.4 L1297.5 191.4 L1298.5 191.4 L1299.5 191.4" fill="none" stroke="#22228a" stroke-width="1.2" stroke-linejoin="round" />
<path d="M759.5 192.2 L760.5 192.2 L761.5 192.1 L762.5 192.1 L763.5 192.1 L764.5 192.1 L765.5 192.1 L766.5 192.1 L767.5 192.1 L768.5 192.1 L769.5 192.1 L770.5 192.1 L771.5 192.1 L772.5 192.1 L773.5 192 L774.5 192 L775.5 192 L776.5 192 L777.5 192 L778.5 192 L779.5 192 L780.5 192 L781.5 192 L782.5 192 L783.5 192 L784.5 191.9 L785.5 191.9 L786.5 191.9 L787.5 191.9 L788.5 191.9 L789.5 191.9 L790.5 191.9 L791.5 191.9 L792.5 191.9 L793.5 191.8 L794.5 191.8 L795.5 191.8 L796.5 191.8 L797.5 191.8 L798.5 191.8 L799.5 191.8 L800.5 191.8 L801.5 191.8 L802.5 191.7 L803.5 191.7 L804.5 191.7 L805.5 191.7 L806.5 191.7 L807.5 191.7 L808.5 191.7 L809.5 191.6 L810.5 191.6 L811.5 191.6 L812.5 191.6 L813.5 191.6 L814.5 191.6 L815.5 191.6 L816.5 191.5 L817.5 191.5 L818.5 191.5 L819.5 191.5 L820.5 191.5 L821.5 191.5 L822.5 191.4 L823.5 191.4 L824.5 191.4 L825.5 191.4 L826.5 191.4 L827.5 191.4 L828.5 191.3 L829.5 191.3 L830.5 191.3 L831.5 191.3 L832.5 191.2 L833.5 191.2 L834.5 191.2 L835.5 191.2 L836.5 191.1 L837.5 191.1 L838.5 191.1 L839.5 191.1 L840.5 191 L841.5 191 L842.5 191 L843.5 190.9 L844.5 190.9 L845.5 190.9 L846.5 190.8 L847.5 190.8 L848.5 190.7 L849.5 190.7 L850.5 190.6 L851.5 190.6 L852.5 190.5 L853.5 190.5 L854.5 190.4 L855.5 190.4 L856.5 190.3 L857.5 190.2 L858.5 190.1 L859.5 190 L860.5 190 L861.5 189.9 L862.5 189.8 L863.5 189.7 L864.5 189.5 L865.5 189.4 L866.5 189.3 L867.5 189.1 L868.5 189 L869.5 188.8 L870.5 188.6 L871.5 188.4 L872.5 188.2 L873.5 188 L874.5 187.8 L875.5 187.5 L876.5 187.3 L877.5 187 L878.5 186.7 L879.5 186.4 L880.5 186 L881.5 185.7 L882.5 185.3 L883.5 184.9 L884.5 184.4 L885.5 184 L886.5 183.5 L887.5 183 L888.5 182.4 L889.5 181.9 L890.5 181.3 L891.5 180.6 L892.5 179.9 L893.5 179.2 L894.5 178.5 L895.5 177.7 L896.5 176.9 L897.5 176.1 L898.5 175.2 L899.5 174.3 L900.5 173.4 L901.5 172.4 L902.5 171.4 L903.5 170.3 L904.5 169.2 L905.5 168.1 L906.5 166.9 L907.5 165.7 L908.5 164.5 L909.5 163.2 L910.5 162 L911.5 160.6 L912.5 159.3 L913.5 157.9 L914.5 156.5 L915.5 155.1 L916.5 153.7 L917.5 152.2 L918.5 150.8 L919.5 149.3 L920.5 147.8 L921.5 146.3 L922.5 144.9 L923.5 143.4 L924.5 141.9 L925.5 140.5 L926.5 139 L927.5 137.6" fill="none" stroke="#ff00ff" stroke-width="1.2" stroke-linejoin="round" />
<path d="M759.5 192.6 L760.5 192.6 L761.5 192.6 L762.5 192.6 L763.5 192.6 L764.5 192.6 L765.5 192.6 L766.5 192.5 L767.5 192.5 L768.5 192.5 L769.5 192.5 L770.5 192.5 L771.5 192.5 L772.5 192.5 L773.5 192.5 L774.5 192.5 L775.5 192.5 L776.5 192.4 L777.5 192.4 L778.5 192.4 L779.5 192.4 L780.5 192.4 L781.5 192.4 L782.5 192.4 L783.5 192.5 L784.5 192.5 L785.5 192.5 L786.5 192.5 L787.5 192.5 L788.5 192.4 L789.5 192.4 L790.5 192.4 L791.5 192.3 L792.5 192.3 L793.5 192.3 L794.5 192.3 L795.5 192.3 L796.5 192.3 L797.5 192.3 L798.5 192.2 L799.5 192.2 L800.5 192.2 L801.5 192.2 L802.5 192.2 L803.5 192.1 L804.5 192.1 L805.5 192.1 L806.5 192.1 L807.5 192.1 L808.5 192.1 L809.5 192 L810.5 192 L811.5 192 L812.5 192 L813.5 192 L814.5 192 L815.5 191.9 L816.5 191.9 L817.5 191.9 L818.5 191.9 L819.5 191.9 L820.5 191.8 L821.5 191.8 L822.5 191.8 L823.5 191.8 L824.5 191.8 L825.5 191.8 L826.5 191.8 L827.5 191.8 L828.5 191.7 L829.5 191.7 L830.5 191.7 L831.5 191.6 L832.5 191.6 L833.5 191.6 L834.5 191.6 L835.5 191.6 L836.5 191.5 L837.5 191.6 L838.5 191.6 L839.5 191.6 L840.5 191.5 L841.5 191.5 L842.5 191.5 L843.5 191.4 L844.5 191.3 L845.5 191.3 L846.5 191.2 L847.5 191.3 L848.5 191.2 L849.5 191.1 L850.5 191.1 L851.5 191 L852.5 190.9 L853.5 190.9 L854.5 190.8 L855.5 190.7 L856.5 190.7 L857.5 190.7 L858.5 190.6 L859.5 190.6 L860.5 190.4 L861.5 190.3 L862.5 190.3 L863.5 190.2 L864.5 189.8 L865.5 189.7 L866.5 189.5 L867.5 189.4 L868.5 189.1 L869.5 188.8 L870.5 188.5 L871.5 188.5 L872.5 188.4 L873.5 188.2 L874.5 188 L875.5 188 L876.5 187.7 L877.5 187.3 L878.5 186.9 L879.5 186.4 L880.5 186.3 L881.5 185.7 L882.5 185.2 L883.5 185.2 L884.5 185.1 L885.5 184.6 L886.5 184.3 L887.5 183.9 L888.5 183.4 L889.5 182.4 L890.5 181.5 L891.5 180.7 L892.5 179.7 L893.5 178.9 L894.5 178.1 L895.5 177.1 L896.5 176.4 L897.5 175.5 L898.5 175.1 L899.5 174.4 L900.5 173.1 L901.5 171.9 L902.5 170.9 L903.5 169.7 L904.5 168.7 L905.5 167.2 L906.5 166.5 L907.5 165.4 L908.5 164.2 L909.5 163.2 L910.5 162.3 L911.5 160.9 L912.5 159.2 L913.5 157.4 L914.5 156.1 L915.5 154.4 L916.5 152.7 L917.5 151.5 L918.5 149.9 L919.5 148.9 L920.5 147.7 L921.5 145.7 L922.5 144.3 L923.5 142.9 L924.5 141.1 L925.5 139.6 L926.5 138.1 L927.5 136.3 L928.5 135.1 L929.5 133.7 L930.5 132.2 L931.5 130.9 L932.5 129.6 L933.5 128 L934.5 127.2 L935.5 126.2 L936.5 125.4 L937.5 124.3 L938.5 123 L939.5 122.2 L940.5 121.6 L941.5 120.6 L942.5 119.7 L943.5 118.8 L944.5 118.5 L945.5 118.2 L946.5 118 L947.5 118 L948.5 118.1 L949.5 118.4 L950.5 118.8 L951.5 118.9 L952.5 119.4 L953.5 119.6 L954.5 119.9 L955.5 120.6 L956.5 121 L957.5 121.8 L958.5 122.4 L959.5 123.3 L960.5 124.1 L961.5 125.2 L962.5 126.2 L963.5 127.3 L964.5 128 L965.5 129.6 L966.5 130.4 L967.5 131.6 L968.5 132.6 L969.5 133.7 L970.5 135.6 L971.5 137.6 L972.5 139 L973.5 140.6 L974.5 142.3 L975.5 144 L976.5 145.3 L977.5 146.6 L978.5 147.6 L979.5 149 L980.5 150.2 L981.5 151.5 L982.5 152.8 L983.5 154.2 L984.5 155.4 L985.5 156.6 L986.5 157.8 L987.5 159.2 L988.5 160.2 L989.5 161 L990.5 161.9 L991.5 162.1 L992.5 163 L993.5 163.5 L994.5 164.5 L995.5 165.8 L996.5 166.6 L997.5 167.7 L998.5 169.5 L999.5 170.2 L1000.5 171.1 L1001.5 171.9 L1002.5 172 L1003.5 172.7 L1004.5 173.1 L1005.5 173.3 L1006.5 173.7 L1007.5 174.3 L1008.5 174.6 L1009.5 175.4 L1010.5 175.9 L1011.5 176.5 L1012.5 176.8 L1013.5 177.6 L1014.5 177.7 L1015.5 178.1 L1016.5 178.2 L1017.5 178.5 L1018.5 178.6 L1019.5 178.7 L1020.5 178.8 L1021.5 179.2 L1022.5 179.1 L1023.5 179.4 L1024.5 179.8 L1025.5 180 L1026.5 179.9 L1027.5 180.1 L1028.5 180.8 L1029.5 181.1 L1030.5 181 L1031.5 180.7 L1032.5 180.8 L1033.5 181.3 L1034.5 181.3 L1035.5 181.1 L1036.5 181.5 L1037.5 181.7 L1038.5 182.2 L1039.5 182.3 L1040.5 182.8 L1041.5 183.2 L1042.5 183.6 L1043.5 183.6 L1044.5 184.2 L1045.5 184.4 L1046.5 184.9 L1047.5 184.8 L1048.5 184.7 L1049.5 184.8 L1050.5 185 L1051.5 185.1 L1052.5 185.3 L1053.5 185.3 L1054.5 185.3 L1055.5 185.9 L1056.5 185.9 L1057.5 186 L1058.5 186.2 L1059.5 186.2 L1060.5 186.3 L1061.5 186.5 L1062.5 186.4 L1063.5 186.5 L1064.5 186.7 L1065.5 186.8 L1066.5 186.9 L1067.5 187.2 L1068.5 187.4 L1069.5 187.5 L1070.5 187.7 L1071.5 187.9 L1072.5 187.9 L1073.5 188 L1074.5 188 L1075.5 188.1 L1076.5 188.3 L1077.5 188.3 L1078.5 188.4 L1079.5 188.4 L1080.5 188.3 L1081.5 188.3 L1082.5 188.3 L1083.5 188.3 L1084.5 188.3 L1085.5 188.2 L1086.5 188.3 L1087.5 188.6 L1088.5 188.5 L1089.5 188.5 L1090.5 188.5 L1091.5 188.4 L1092.5 188.4 L1093.5 188.3 L1094.5 188.1 L1095.5 188.1 L1096.5 188.1 L1097.5 188 L1098.5 188 L1099.5 187.9 L1100.5 187.9 L1101.5 187.7 L1102.5 187.7 L1103.5 187.6 L1104.5 187.5 L1105.5 187.4 L1106.5 187.4 L1107.5 187.4 L1108.5 187.4 L1109.5 187.3 L1110.5 187.2 L1111.5 187.2 L1112.5 187.1 L1113.5 187 L1114.5 186.8 L1115.5 186.9 L1116.5 186.9 L1117.5 186.8 L1118.5 186.6 L1119.5 186.8 L1120.5 186.8 L1121.5 186.6 L1122.5 186.4 L1123.5 186.4 L1124.5 186.6 L1125.5 186.6 L1126.5 186.4 L1127.5 186.4 L1128.5 186.5 L1129.5 186.5 L1130.5 186.5 L1131.5 186.5 L1132.5 186.5 L1133.5 186.6 L1134.5 186.7 L1135.5 186.6 L1136.5 186.6 L1137.5 186.6 L1138.5 186.4 L1139.5 186.5 L1140.5 186.3 L1141.5 186.4 L1142.5 186.5 L1143.5 186.5 L1144.5 186.4 L1145.5 186.6 L1146.5 186.5 L1147.5 186.8 L1148.5 186.8 L1149.5 186.8 L1150.5 187 L1151.5 187 L1152.5 187 L1153.5 187 L1154.5 187 L1155.5 187.1 L1156.5 187.2 L1157.5 187.2 L1158.5 187.4 L1159.5 187.5 L1160.5 187.7 L1161.5 187.9 L1162.5 187.8 L1163.5 187.9 L1164.5 187.9 L1165.5 188.1 L1166.5 188 L1167.5 188.1 L1168.5 188.1 L1169.5 188.3 L1170.5 188.5 L1171.5 188.7 L1172.5 188.8 L1173.5 188.9 L1174.5 189.1 L1175.5 189.3 L1176.5 189.4 L1177.5 189.3 L1178.5 189.4 L1179.5 189.5 L1180.5 189.6 L1181.5 189.6 L1182.5 189.7 L1183.5 189.7 L1184.5 189.8 L1185.5 189.9 L1186.5 189.9 L1187.5 190 L1188.5 190 L1189.5 190 L1190.5 190 L1191.5 190 L1192.5 190.1 L1193.5 190.2 L1194.5 190.2 L1195.5 190.2 L1196.5 190.3 L1197.5 190.4 L1198.5 190.4 L1199.5 190.4 L1200.5 190.5 L1201.5 190.5 L1202.5 190.5 L1203.5 190.5 L1204.5 190.5 L1205.5 190.5 L1206.5 190.6 L1207.5 190.6 L1208.5 190.6 L1209.5 190.6 L1210.5 190.7 L1211.5 190.7 L1212.5 190.7 L1213.5 190.7 L1214.5 190.7 L1215.5 190.7 L1216.5 190.8 L1217.5 190.8 L1218.5 190.8 L1219.5 190.8 L1220.5 190.8 L1221.5 190.8 L1222.5 190.8 L1223.5 190.8 L1224.5 190.8 L1225.5 190.8 L1226.5 190.8 L1227.5 190.8 L1228.5 190.8 L1229.5 190.8 L1230.5 190.8 L1231.5 190.8 L1232.5 190.8 L1233.5 190.8 L1234.5 190.8 L1235.5 190.8 L1236.5 190.8 L1237.5 190.8 L1238.5 190.8 L1239.5 190.8 L1240.5 190.8 L1241.5 190.9 L1242.5 190.9 L1243.5 190.9 L1244.5 190.9 L1245.5 190.9 L1246.5 190.9 L1247.5 190.9 L1248.5 190.8 L1249.5 190.8 L1250.5 190.8 L1251.5 190.8 L1252.5 190.8 L1253.5 190.8 L1254.5 190.8 L1255.5 190.8 L1256.5 190.8 L1257.5 190.8 L1258.5 190.8 L1259.5 190.8 L1260.5 190.9 L1261.5 190.9 L1262.5 190.8 L1263.5 190.8 L1264.5 190.8 L1265.5 190.8 L1266.5 190.8 L1267.5 190.8 L1268.5 190.8 L1269.5 190.8 L1270.5 190.8 L1271.5 190.8 L1272.5 190.8 L1273.5 190.8 L1274.5 190.8 L1275.5 190.8 L1276.5 190.8 L1277.5 190.8 L1278.5 190.8 L1279.5 190.8 L1280.5 190.8 L1281.5 190.8 L1282.5 190.8 L1283.5 190.8 L1284.5 190.8 L1285.5 190.8 L1286.5 190.8 L1287.5 190.8 L1288.5 190.8 L1289.5 190.8 L1290.5 190.8 L1291.5 190.8 L1292.5 190.8 L1293.5 190.8 L1294.5 190.8 L1295.5 190.8 L1296.5 190.8 L1297.5 190.8 L1298.5 190.8 L1299.5 190.8" fill="none" stroke="#000000" stroke-width="1.2" stroke-linejoin="round" />
<path d="M943.5 121.1 L944.5 120.6 L945.5 120.3 L946.5 120 L947.5 119.8 L948.5 119.8 L949.5 119.8 L950.5 119.9 L951.5 120.1 L952.5 120.4 L953.5 120.8 L954.5 121.3 L955.5 121.9 L956.5 122.5 L957.5 123.3 L958.5 124.1 L959.5 124.9 L960.5 125.9 L961.5 126.9 L962.5 127.9 L963.5 129 L964.5 130.1 L965.5 131.3 L966.5 132.6 L967.5 133.8 L968.5 135.1 L969.5 136.4 L970.5 137.7 L971.5 139.1 L972.5 140.4 L973.5 141.8 L974.5 143.1 L975.5 144.5 L976.5 145.8 L977.5 147.2 L978.5 148.5 L979.5 149.8 L980.5 151.1 L981.5 152.4 L982.5 153.7 L983.5 154.9 L984.5 156.1 L985.5 157.3 L986.5 158.4 L987.5 159.5 L988.5 160.6 L989.5 161.7 L990.5 162.7 L991.5 163.7 L992.5 164.6 L993.5 165.5 L994.5 166.4 L995.5 167.2 L996.5 168 L997.5 168.8 L998.5 169.5 L999.5 170.2 L1000.5 170.9 L1001.5 171.5 L1002.5 172.1 L1003.5 172.7 L1004.5 173.2 L1005.5 173.8 L1006.5 174.2 L1007.5 174.7 L1008.5 175.1 L1009.5 175.5 L1010.5 175.9 L1011.5 176.3 L1012.5 176.7 L1013.5 177 L1014.5 177.3 L1015.5 177.6 L1016.5 177.9 L1017.5 178.2 L1018.5 178.5 L1019.5 178.7 L1020.5 179 L1021.5 179.2 L1022.5 179.4 L1023.5 179.7 L1024.5 179.9 L1025.5 180.1 L1026.5 180.3 L1027.5 180.5 L1028.5 180.7 L1029.5 180.9 L1030.5 181.2 L1031.5 181.4 L1032.5 181.6 L1033.5 181.8 L1034.5 182 L1035.5 182.2 L1036.5 182.4 L1037.5 182.6 L1038.5 182.8 L1039.5 183 L1040.5 183.2 L1041.5 183.4 L1042.5 183.6 L1043.5 183.8 L1044.5 184 L1045.5 184.2 L1046.5 184.4 L1047.5 184.5 L1048.5 184.7 L1049.5 184.9 L1050.5 185.1 L1051.5 185.3 L1052.5 185.5 L1053.5 185.7 L1054.5 185.8 L1055.5 186 L1056.5 186.2 L1057.5 186.3 L1058.5 186.5 L1059.5 186.6 L1060.5 186.8 L1061.5 186.9 L1062.5 187.1 L1063.5 187.2 L1064.5 187.4 L1065.5 187.5 L1066.5 187.6 L1067.5 187.7 L1068.5 187.8 L1069.5 187.9 L1070.5 188 L1071.5 188.1 L1072.5 188.2 L1073.5 188.3 L1074.5 188.4 L1075.5 188.5 L1076.5 188.5 L1077.5 188.6 L1078.5 188.6 L1079.5 188.7 L1080.5 188.7 L1081.5 188.8 L1082.5 188.8 L1083.5 188.8 L1084.5 188.8 L1085.5 188.9 L1086.5 188.9 L1087.5 188.9 L1088.5 188.9 L1089.5 188.9 L1090.5 188.8 L1091.5 188.8 L1092.5 188.8 L1093.5 188.8 L1094.5 188.7 L1095.5 188.7 L1096.5 188.7 L1097.5 188.6 L1098.5 188.6 L1099.5 188.5 L1100.5 188.5 L1101.5 188.4 L1102.5 188.4 L1103.5 188.3 L1104.5 188.2 L1105.5 188.2 L1106.5 188.1 L1107.5 188 L1108.5 188 L1109.5 187.9 L1110.5 187.8 L1111.5 187.8 L1112.5 187.7 L1113.5 187.6 L1114.5 187.5 L1115.5 187.5 L1116.5 187.4 L1117.5 187.3 L1118.5 187.3 L1119.5 187.2 L1120.5 187.2 L1121.5 187.1 L1122.5 187 L1123.5 187 L1124.5 186.9 L1125.5 186.9 L1126.5 186.9 L1127.5 186.8 L1128.5 186.8 L1129.5 186.8 L1130.5 186.7 L1131.5 186.7 L1132.5 186.7 L1133.5 186.7 L1134.5 186.7 L1135.5 186.7 L1136.5 186.7 L1137.5 186.7 L1138.5 186.8 L1139.5 186.8 L1140.5 186.8 L1141.5 186.9 L1142.5 186.9 L1143.5 186.9 L1144.5 187 L1145.5 187 L1146.5 187.1 L1147.5 187.2 L1148.5 187.2 L1149.5 187.3 L1150.5 187.4 L1151.5 187.5 L1152.5 187.5 L1153.5 187.6 L1154.5 187.7 L1155.5 187.8 L1156.5 187.9 L1157.5 188 L1158.5 188.1 L1159.5 188.1 L1160.5 188.2 L1161.5 188.3 L1162.5 188.4 L1163.5 188.5 L1164.5 188.6 L1165.5 188.7 L1166.5 188.8 L1167.5 188.9 L1168.5 189 L1169.5 189 L1170.5 189.1 L1171.5 189.2 L1172.5 189.3 L1173.5 189.4 L1174.5 189.5 L1175.5 189.5 L1176.5 189.6 L1177.5 189.7 L1178.5 189.8 L1179.5 189.8 L1180.5 189.9 L1181.5 190 L1182.5 190 L1183.5 190.1 L1184.5 190.2 L1185.5 190.2 L1186.5 190.3 L1187.5 190.3 L1188.5 190.4 L1189.5 190.4 L1190.5 190.5 L1191.5 190.5 L1192.5 190.6 L1193.5 190.6 L1194.5 190.7 L1195.5 190.7 L1196.5 190.7 L1197.5 190.8 L1198.5 190.8 L1199.5 190.8 L1200.5 190.9 L1201.5 190.9 L1202.5 190.9 L1203.5 190.9 L1204.5 191 L1205.5 191 L1206.5 191 L1207.5 191 L1208.5 191 L1209.5 191.1 L1210.5 191.1 L1211.5 191.1 L1212.5 191.1 L1213.5 191.1 L1214.5 191.1 L1215.5 191.1 L1216.5 191.2 L1217.5 191.2 L1218.5 191.2 L1219.5 191.2 L1220.5 191.2 L1221.5 191.2 L1222.5 191.2 L1223.5 191.2 L1224.5 191.2 L1225.5 191.2 L1226.5 191.2 L1227.5 191.2 L1228.5 191.2 L1229.5 191.2 L1230.5 191.2 L1231.5 191.2 L1232.5 191.2 L1233.5 191.2 L1234.5 191.2 L1235.5 191.3 L1236.5 191.3 L1237.5 191.3 L1238.5 191.3 L1239.5 191.3 L1240.5 191.3 L1241.5 191.3 L1242.5 191.3 L1243.5 191.3 L1244.5 191.3 L1245.5 191.3 L1246.5 191.3 L1247.5 191.3 L1248.5 191.3 L1249.5 191.3 L1250.5 191.3 L1251.5 191.3 L1252.5 191.3 L1253.5 191.3 L1254.5 191.3 L1255.5 191.3 L1256.5 191.3 L1257.5 191.3 L1258.5 191.3 L1259.5 191.3 L1260.5 191.3 L1261.5 191.3 L1262.5 191.3 L1263.5 191.3 L1264.5 191.3 L1265.5 191.3 L1266.5 191.2 L1267.5 191.2 L1268.5 191.2 L1269.5 191.2 L1270.5 191.2 L1271.5 191.2 L1272.5 191.2 L1273.5 191.2 L1274.5 191.2 L1275.5 191.2 L1276.5 191.2 L1277.5 191.2 L1278.5 191.2 L1279.5 191.2 L1280.5 191.2 L1281.5 191.2 L1282.5 191.2 L1283.5 191.2 L1284.5 191.2 L1285.5 191.2 L1286.5 191.2 L1287.5 191.2 L1288.5 191.2 L1289.5 191.2 L1290.5 191.2 L1291.5 191.2 L1292.5 191.2 L1293.5 191.2 L1294.5 191.2 L1295.5 191.2 L1296.5 191.2 L1297.5 191.2 L1298.5 191.2 L1299.5 191.2" fill="none" stroke="#ff0000" stroke-width="1.2" stroke-linejoin="round" />
<path d="M759.5 279 L760.5 279 L761.5 279 L762.5 279 L763.5 279 L764.5 279 L765.5 278.9 L766.5 278.9 L767.5 278.9 L768.5 278.9 L769.5 278.9 L770.5 278.9 L771.5 278.9 L772.5 278.9 L773.5 278.9 L774.5 278.9 L775.5 278.9 L776.5 278.9 L777.5 278.9 L778.5 278.9 L779.5 278.9 L780.5 278.9 L781.5 278.8 L782.5 278.8 L783.5 278.8 L784.5 278.8 L785.5 278.8 L786.5 278.8 L787.5 278.8 L788.5 278.8 L789.5 278.8 L790.5 278.8 L791.5 278.8 L792.5 278.8 L793.5 278.7 L794.5 278.7 L795.5 278.7 L796.5 278.7 L797.5 278.7 L798.5 278.7 L799.5 278.7 L800.5 278.7 L801.5 278.7 L802.5 278.7 L803.5 278.7 L804.5 278.6 L805.5 278.6 L806.5 278.6 L807.5 278.6 L808.5 278.6 L809.5 278.6 L810.5 278.6 L811.5 278.6 L812.5 278.6 L813.5 278.5 L814.5 278.5 L815.5 278.5 L816.5 278.5 L817.5 278.5 L818.5 278.5 L819.5 278.5 L820.5 278.4 L821.5 278.4 L822.5 278.4 L823.5 278.4 L824.5 278.4 L825.5 278.4 L826.5 278.3 L827.5 278.3 L828.5 278.3 L829.5 278.3 L830.5 278.3 L831.5 278.2 L832.5 278.2 L833.5 278.2 L834.5 278.2 L835.5 278.2 L836.5 278.1 L837.5 278.1 L838.5 278.1 L839.5 278 L840.5 278 L841.5 278 L842.5 277.9 L843.5 277.9 L844.5 277.9 L845.5 277.8 L846.5 277.8 L847.5 277.8 L848.5 277.7 L849.5 277.7 L850.5 277.6 L851.5 277.5 L852.5 277.5 L853.5 277.4 L854.5 277.3 L855.5 277.3 L856.5 277.2 L857.5 277.1 L858.5 277 L859.5 276.9 L860.5 276.8 L861.5 276.7 L862.5 276.6 L863.5 276.4 L864.5 276.3 L865.5 276.2 L866.5 276 L867.5 275.8 L868.5 275.6 L869.5 275.4 L870.5 275.2 L871.5 275 L872.5 274.7 L873.5 274.5 L874.5 274.2 L875.5 273.9 L876.5 273.6 L877.5 273.3 L878.5 272.9 L879.5 272.5 L880.5 272.1 L881.5 271.7 L882.5 271.2 L883.5 270.8 L884.5 270.2 L885.5 269.7 L886.5 269.1 L887.5 268.5 L888.5 267.9 L889.5 267.3 L890.5 266.6 L891.5 265.8 L892.5 265.1 L893.5 264.3 L894.5 263.5 L895.5 262.6 L896.5 261.7 L897.5 260.8 L898.5 259.8 L899.5 258.8 L900.5 257.8 L901.5 256.7 L902.5 255.6 L903.5 254.5 L904.5 253.3 L905.5 252.1 L906.5 250.9 L907.5 249.7 L908.5 248.4 L909.5 247.1 L910.5 245.8 L911.5 244.4 L912.5 243.1 L913.5 241.7 L914.5 240.3 L915.5 238.9 L916.5 237.5 L917.5 236.1 L918.5 234.7 L919.5 233.3 L920.5 232 L921.5 230.6 L922.5 229.2 L923.5 227.9 L924.5 226.6 L925.5 225.3 L926.5 224.1 L927.5 222.9 L928.5 221.7 L929.5 220.6 L930.5 219.5 L931.5 218.5 L932.5 217.6 L933.5 216.7 L934.5 215.9 L935.5 215.1 L936.5 214.5 L937.5 213.9 L938.5 213.4 L939.5 213 L940.5 212.6 L941.5 212.4 L942.5 212.3 L943.5 212.2 L944.5 212.3 L945.5 212.4 L946.5 212.6 L947.5 213 L948.5 213.4 L949.5 213.9 L950.5 214.4 L951.5 215.1 L952.5 215.8 L953.5 216.7 L954.5 217.5 L955.5 218.5 L956.5 219.5 L957.5 220.5 L958.5 221.7 L959.5 222.8 L960.5 224 L961.5 225.3 L962.5 226.6 L963.5 227.9 L964.5 229.2 L965.5 230.5 L966.5 231.9 L967.5 233.3 L968.5 234.7 L969.5 236.1 L970.5 237.5 L971.5 238.9 L972.5 240.3 L973.5 241.6 L974.5 243 L975.5 244.4 L976.5 245.7 L977.5 247 L978.5 248.3 L979.5 249.6 L980.5 250.8 L981.5 252.1 L982.5 253.2 L983.5 254.4 L984.5 255.5 L985.5 256.6 L986.5 257.7 L987.5 258.7 L988.5 259.7 L989.5 260.7 L990.5 261.6 L991.5 262.5 L992.5 263.4 L993.5 264.2 L994.5 265 L995.5 265.7 L996.5 266.5 L997.5 267.2 L998.5 267.8 L999.5 268.4 L1000.5 269 L1001.5 269.6 L1002.5 270.1 L1003.5 270.6 L1004.5 271.1 L1005.5 271.6 L1006.5 272 L1007.5 272.4 L1008.5 272.8 L1009.5 273.1 L1010.5 273.5 L1011.5 273.8 L1012.5 274.1 L1013.5 274.4 L1014.5 274.6 L1015.5 274.9 L1016.5 275.1 L1017.5 275.3 L1018.5 275.5 L1019.5 275.7 L1020.5 275.8 L1021.5 276 L1022.5 276.2 L1023.5 276.3 L1024.5 276.4 L1025.5 276.5 L1026.5 276.7 L1027.5 276.8 L1028.5 276.9 L1029.5 276.9 L1030.5 277 L1031.5 277.1 L1032.5 277.2 L1033.5 277.2 L1034.5 277.3 L1035.5 277.4 L1036.5 277.4 L1037.5 277.5 L1038.5 277.5 L1039.5 277.6 L1040.5 277.6 L1041.5 277.7 L1042.5 277.7 L1043.5 277.7 L1044.5 277.8 L1045.5 277.8 L1046.5 277.8 L1047.5 277.9 L1048.5 277.9 L1049.5 277.9 L1050.5 277.9 L1051.5 278 L1052.5 278 L1053.5 278 L1054.5 278 L1055.5 278 L1056.5 278.1 L1057.5 278.1 L1058.5 278.1 L1059.5 278.1 L1060.5 278.1 L1061.5 278.1 L1062.5 278.2 L1063.5 278.2 L1064.5 278.2 L1065.5 278.2 L1066.5 278.2 L1067.5 278.2 L1068.5 278.2 L1069.5 278.3 L1070.5 278.3 L1071.5 278.3 L1072.5 278.3 L1073.5 278.3 L1074.5 278.3 L1075.5 278.3 L1076.5 278.3 L1077.5 278.3 L1078.5 278.3 L1079.5 278.4 L1080.5 278.4 L1081.5 278.4 L1082.5 278.4 L1083.5 278.4 L1084.5 278.4 L1085.5 278.4 L1086.5 278.4 L1087.5 278.4 L1088.5 278.4 L1089.5 278.4 L1090.5 278.5 L1091.5 278.5 L1092.5 278.5 L1093.5 278.5 L1094.5 278.5 L1095.5 278.5 L1096.5 278.5 L1097.5 278.5 L1098.5 278.5 L1099.5 278.5 L1100.5 278.5 L1101.5 278.5 L1102.5 278.5 L1103.5 278.5 L1104.5 278.5 L1105.5 278.5 L1106.5 278.6 L1107.5 278.6 L1108.5 278.6 L1109.5 278.6 L1110.5 278.6 L1111.5 278.6 L1112.5 278.6 L1113.5 278.6 L1114.5 278.6 L1115.5 278.6 L1116.5 278.6 L1117.5 278.6 L1118.5 278.6 L1119.5 278.6 L1120.5 278.6 L1121.5 278.6 L1122.5 278.6 L1123.5 278.6 L1124.5 278.6 L1125.5 278.6 L1126.5 278.6 L1127.5 278.6 L1128.5 278.6 L1129.5 278.6 L1130.5 278.7 L1131.5 278.7 L1132.5 278.7 L1133.5 278.7 L1134.5 278.7 L1135.5 278.7 L1136.5 278.7 L1137.5 278.7 L1138.5 278.7 L1139.5 278.7 L1140.5 278.7 L1141.5 278.7 L1142.5 278.7 L1143.5 278.7 L1144.5 278.7 L1145.5 278.7 L1146.5 278.7 L1147.5 278.7 L1148.5 278.7 L1149.5 278.7 L1150.5 278.7 L1151.5 278.7 L1152.5 278.7 L1153.5 278.7 L1154.5 278.7 L1155.5 278.7 L1156.5 278.7 L1157.5 278.7 L1158.5 278.7 L1159.5 278.7 L1160.5 278.7 L1161.5 278.7 L1162.5 278.7 L1163.5 278.7 L1164.5 278.7 L1165.5 278.7 L1166.5 278.7 L1167.5 278.7 L1168.5 278.7 L1169.5 278.7 L1170.5 278.7 L1171.5 278.7 L1172.5 278.7 L1173.5 278.7 L1174.5 278.7 L1175.5 278.7 L1176.5 278.8 L1177.5 278.8 L1178.5 278.8 L1179.5 278.8 L1180.5 278.8 L1181.5 278.8 L1182.5 278.8 L1183.5 278.8 L1184.5 278.8 L1185.5 278.8 L1186.5 278.8 L1187.5 278.8 L1188.5 278.8 L1189.5 278.8 L1190.5 278.8 L1191.5 278.8 L1192.5 278.8 L1193.5 278.8 L1194.5 278.8 L1195.5 278.8 L1196.5 278.8 L1197.5 278.8 L1198.5 278.8 L1199.5 278.8 L1200.5 278.8 L1201.5 278.8 L1202.5 278.8 L1203.5 278.8 L1204.5 278.8 L1205.5 278.8 L1206.5 278.8 L1207.5 278.8 L1208.5 278.8 L1209.5 278.8 L1210.5 278.8 L1211.5 278.8 L1212.5 278.8 L1213.5 278.8 L1214.5 278.8 L1215.5 278.8 L1216.5 278.8 L1217.5 278.8 L1218.5 278.8 L1219.5 278.8 L1220.5 278.8 L1221.5 278.8 L1222.5 278.8 L1223.5 278.8 L1224.5 278.8 L1225.5 278.8 L1226.5 278.8 L1227.5 278.8 L1228.5 278.8 L1229.5 278.8 L1230.5 278.8 L1231.5 278.8 L1232.5 278.8 L1233.5 278.8 L1234.5 278.8 L1235.5 278.8 L1236.5 278.8 L1237.5 278.8 L1238.5 278.8 L1239.5 278.8 L1240.5 278.8 L1241.5 278.8 L1242.5 278.8 L1243.5 278.8 L1244.5 278.8 L1245.5 278.8 L1246.5 278.8 L1247.5 278.8 L1248.5 278.8 L1249.5 278.8 L1250.5 278.8 L1251.5 278.8 L1252.5 278.8 L1253.5 278.8 L1254.5 278.8 L1255.5 278.8 L1256.5 278.8 L1257.5 278.8 L1258.5 278.8 L1259.5 278.8 L1260.5 278.8 L1261.5 278.8 L1262.5 278.8 L1263.5 278.8 L1264.5 278.8 L1265.5 278.8 L1266.5 278.8 L1267.5 278.8 L1268.5 278.8 L1269.5 278.8 L1270.5 278.8 L1271.5 278.8 L1272.5 278.8 L1273.5 278.8 L1274.5 278.8 L1275.5 278.8 L1276.5 278.8 L1277.5 278.8 L1278.5 278.8 L1279.5 278.8 L1280.5 278.8 L1281.5 278.8 L1282.5 278.8 L1283.5 278.8 L1284.5 278.8 L1285.5 278.8 L1286.5 278.8 L1287.5 278.8 L1288.5 278.8 L1289.5 278.8 L1290.5 278.8 L1291.5 278.8 L1292.5 278.8 L1293.5 278.8 L1294.5 278.8 L1295.5 278.8 L1296.5 278.8 L1297.5 278.8 L1298.5 278.8 L1299.5 278.8" fill="none" stroke="#ff00ff" stroke-width="1.2" stroke-linejoin="round" />
<path d="M759.5 279.9 L760.5 279.9 L761.5 279.9 L762.5 279.9 L763.5 279.9 L764.5 279.9 L765.5 279.9 L766.5 279.9 L767.5 279.9 L768.5 279.9 L769.5 279.9 L770.5 279.9 L771.5 279.9 L772.5 279.9 L773.5 279.9 L774.5 279.9 L775.5 279.9 L776.5 279.9 L777.5 279.9 L778.5 279.9 L779.5 279.9 L780.5 279.9 L781.5 279.9 L782.5 279.9 L783.5 279.9 L784.5 279.9 L785.5 279.9 L786.5 279.9 L787.5 279.9 L788.5 279.9 L789.5 279.9 L790.5 279.9 L791.5 279.9 L792.5 279.9 L793.5 279.9 L794.5 279.9 L795.5 279.9 L796.5 279.9 L797.5 279.9 L798.5 279.9 L799.5 279.9 L800.5 279.9 L801.5 279.9 L802.5 279.9 L803.5 279.9 L804.5 279.9 L805.5 279.9 L806.5 279.9 L807.5 279.9 L808.5 279.9 L809.5 279.9 L810.5 279.9 L811.5 279.9 L812.5 279.9 L813.5 279.8 L814.5 279.8 L815.5 279.8 L816.5 279.8 L817.5 279.8 L818.5 279.8 L819.5 279.8 L820.5 279.8 L821.5 279.8 L822.5 279.8 L823.5 279.8 L824.5 279.8 L825.5 279.8 L826.5 279.8 L827.5 279.8 L828.5 279.8 L829.5 279.8 L830.5 279.8 L831.5 279.8 L832.5 279.8 L833.5 279.8 L834.5 279.8 L835.5 279.8 L836.5 279.8 L837.5 279.8 L838.5 279.8 L839.5 279.8 L840.5 279.8 L841.5 279.8 L842.5 279.8 L843.5 279.8 L844.5 279.8 L845.5 279.8 L846.5 279.8 L847.5 279.8 L848.5 279.8 L849.5 279.8 L850.5 279.8 L851.5 279.8 L852.5 279.8 L853.5 279.8 L854.5 279.8 L855.5 279.8 L856.5 279.8 L857.5 279.8 L858.5 279.8 L859.5 279.8 L860.5 279.8 L861.5 279.8 L862.5 279.8 L863.5 279.8 L864.5 279.8 L865.5 279.8 L866.5 279.8 L867.5 279.8 L868.5 279.8 L869.5 279.8 L870.5 279.8 L871.5 279.8 L872.5 279.8 L873.5 279.8 L874.5 279.8 L875.5 279.8 L876.5 279.8 L877.5 279.8 L878.5 279.8 L879.5 279.8 L880.5 279.8 L881.5 279.8 L882.5 279.8 L883.5 279.8 L884.5 279.8 L885.5 279.8 L886.5 279.8 L887.5 279.8 L888.5 279.8 L889.5 279.8 L890.5 279.8 L891.5 279.8 L892.5 279.8 L893.5 279.8 L894.5 279.8 L895.5 279.8 L896.5 279.8 L897.5 279.8 L898.5 279.8 L899.5 279.8 L900.5 279.8 L901.5 279.8 L902.5 279.8 L903.5 279.8 L904.5 279.8 L905.5 279.8 L906.5 279.8 L907.5 279.8 L908.5 279.8 L909.5 279.8 L910.5 279.8 L911.5 279.8 L912.5 279.8 L913.5 279.8 L914.5 279.8 L915.5 279.8 L916.5 279.8 L917.5 279.8 L918.5 279.8 L919.5 279.8 L920.5 279.8 L921.5 279.8 L922.5 279.7 L923.5 279.7 L924.5 279.7 L925.5 279.7 L926.5 279.7 L927.5 279.7 L928.5 279.7 L929.5 279.7 L930.5 279.7 L931.5 279.7 L932.5 279.7 L933.5 279.7 L934.5 279.7 L935.5 279.7 L936.5 279.7 L937.5 279.7 L938.5 279.7 L939.5 279.7 L940.5 279.7 L941.5 279.7 L942.5 279.7 L943.5 279.7 L944.5 279.7 L945.5 279.7 L946.5 279.7 L947.5 279.7 L948.5 279.7 L949.5 279.7 L950.5 279.7 L951.5 279.7 L952.5 279.7 L953.5 279.7 L954.5 279.7 L955.5 279.7 L956.5 279.7 L957.5 279.7 L958.5 279.7 L959.5 279.7 L960.5 279.7 L961.5 279.7 L962.5 279.7 L963.5 279.7 L964.5 279.7 L965.5 279.7 L966.5 279.7 L967.5 279.7 L968.5 279.7 L969.5 279.7 L970.5 279.7 L971.5 279.7 L972.5 279.7 L973.5 279.7 L974.5 279.7 L975.5 279.7 L976.5 279.7 L977.5 279.7 L978.5 279.7 L979.5 279.7 L980.5 279.7 L981.5 279.7 L982.5 279.7 L983.5 279.7 L984.5 279.7 L985.5 279.7 L986.5 279.7 L987.5 279.7 L988.5 279.7 L989.5 279.7 L990.5 279.7 L991.5 279.7 L992.5 279.7 L993.5 279.7 L994.5 279.7 L995.5 279.7 L996.5 279.7 L997.5 279.7 L998.5 279.7 L999.5 279.7 L1000.5 279.7 L1001.5 279.7 L1002.5 279.7 L1003.5 279.7 L1004.5 279.7 L1005.5 279.7 L1006.5 279.7 L1007.5 279.7 L1008.5 279.7 L1009.5 279.7 L1010.5 279.7 L1011.5 279.7 L1012.5 279.7 L1013.5 279.7 L1014.5 279.7 L1015.5 279.7 L1016.5 279.7 L1017.5 279.7 L1018.5 279.7 L1019.5 279.7 L1020.5 279.7 L1021.5 279.7 L1022.5 279.7 L1023.5 279.7 L1024.5 279.7 L1025.5 279.7 L1026.5 279.7 L1027.5 279.7 L1028.5 279.7 L1029.5 279.6 L1030.5 279.6 L1031.5 279.6 L1032.5 279.6 L1033.5 279.6 L1034.5 279.6 L1035.5 279.6 L1036.5 279.6 L1037.5 279.6 L1038.5 279.6 L1039.5 279.6 L1040.5 279.6 L1041.5 279.6 L1042.5 279.6 L1043.5 279.6 L1044.5 279.6 L1045.5 279.6 L1046.5 279.6 L1047.5 279.6 L1048.5 279.6 L1049.5 279.6 L1050.5 279.6 L1051.5 279.6 L1052.5 279.6 L1053.5 279.6 L1054.5 279.6 L1055.5 279.6 L1056.5 279.6 L1057.5 279.6 L1058.5 279.6 L1059.5 279.6 L1060.5 279.6 L1061.5 279.6 L1062.5 279.6 L1063.5 279.6 L1064.5 279.6 L1065.5 279.6 L1066.5 279.6 L1067.5 279.6 L1068.5 279.6 L1069.5 279.6 L1070.5 279.6 L1071.5 279.6 L1072.5 279.6 L1073.5 279.6 L1074.5 279.6 L1075.5 279.6 L1076.5 279.6 L1077.5 279.6 L1078.5 279.6 L1079.5 279.6 L1080.5 279.6 L1081.5 279.6 L1082.5 279.6 L1083.5 279.6 L1084.5 279.6 L1085.5 279.6 L1086.5 279.6 L1087.5 279.6 L1088.5 279.6 L1089.5 279.6 L1090.5 279.6 L1091.5 279.6 L1092.5 279.6 L1093.5 279.6 L1094.5 279.6 L1095.5 279.6 L1096.5 279.6 L1097.5 279.6 L1098.5 279.6 L1099.5 279.6 L1100.5 279.6 L1101.5 279.6 L1102.5 279.6 L1103.5 279.6 L1104.5 279.6 L1105.5 279.6 L1106.5 279.6 L1107.5 279.6 L1108.5 279.6 L1109.5 279.6 L1110.5 279.6 L1111.5 279.6 L1112.5 279.6 L1113.5 279.6 L1114.5 279.6 L1115.5 279.6 L1116.5 279.6 L1117.5 279.6 L1118.5 279.6 L1119.5 279.6 L1120.5 279.6 L1121.5 279.6 L1122.5 279.6 L1123.5 279.6 L1124.5 279.6 L1125.5 279.6 L1126.5 279.6 L1127.5 279.6 L1128.5 279.6 L1129.5 279.6 L1130.5 279.6 L1131.5 279.6 L1132.5 279.6 L1133.5 279.6 L1134.5 279.6 L1135.5 279.6 L1136.5 279.6 L1137.5 279.5 L1138.5 279.5 L1139.5 279.5 L1140.5 279.5 L1141.5 279.5 L1142.5 279.5 L1143.5 279.5 L1144.5 279.5 L1145.5 279.5 L1146.5 279.5 L1147.5 279.5 L1148.5 279.5 L1149.5 279.5 L1150.5 279.5 L1151.5 279.5 L1152.5 279.5 L1153.5 279.5 L1154.5 279.5 L1155.5 279.5 L1156.5 279.5 L1157.5 279.5 L1158.5 279.5 L1159.5 279.5 L1160.5 279.5 L1161.5 279.5 L1162.5 279.5 L1163.5 279.5 L1164.5 279.5 L1165.5 279.5 L1166.5 279.5 L1167.5 279.5 L1168.5 279.5 L1169.5 279.5 L1170.5 279.5 L1171.5 279.5 L1172.5 279.5 L1173.5 279.5 L1174.5 279.5 L1175.5 279.5 L1176.5 279.5 L1177.5 279.5 L1178.5 279.5 L1179.5 279.5 L1180.5 279.5 L1181.5 279.5 L1182.5 279.5 L1183.5 279.5 L1184.5 279.5 L1185.5 279.5 L1186.5 279.5 L1187.5 279.5 L1188.5 279.5 L1189.5 279.5 L1190.5 279.5 L1191.5 279.5 L1192.5 279.5 L1193.5 279.5 L1194.5 279.5 L1195.5 279.5 L1196.5 279.5 L1197.5 279.5 L1198.5 279.5 L1199.5 279.5 L1200.5 279.5 L1201.5 279.5 L1202.5 279.5 L1203.5 279.5 L1204.5 279.5 L1205.5 279.5 L1206.5 279.5 L1207.5 279.5 L1208.5 279.5 L1209.5 279.5 L1210.5 279.5 L1211.5 279.5 L1212.5 279.5 L1213.5 279.5 L1214.5 279.5 L1215.5 279.5 L1216.5 279.5 L1217.5 279.5 L1218.5 279.5 L1219.5 279.5 L1220.5 279.5 L1221.5 279.5 L1222.5 279.5 L1223.5 279.5 L1224.5 279.5 L1225.5 279.5 L1226.5 279.5 L1227.5 279.5 L1228.5 279.5 L1229.5 279.5 L1230.5 279.5 L1231.5 279.5 L1232.5 279.5 L1233.5 279.5 L1234.5 279.5 L1235.5 279.5 L1236.5 279.5 L1237.5 279.5 L1238.5 279.5 L1239.5 279.5 L1240.5 279.5 L1241.5 279.5 L1242.5 279.5 L1243.5 279.5 L1244.5 279.5 L1245.5 279.4 L1246.5 279.4 L1247.5 279.4 L1248.5 279.4 L1249.5 279.4 L1250.5 279.4 L1251.5 279.4 L1252.5 279.4 L1253.5 279.4 L1254.5 279.4 L1255.5 279.4 L1256.5 279.4 L1257.5 279.4 L1258.5 279.4 L1259.5 279.4 L1260.5 279.4 L1261.5 279.4 L1262.5 279.4 L1263.5 279.4 L1264.5 279.4 L1265.5 279.4 L1266.5 279.4 L1267.5 279.4 L1268.5 279.4 L1269.5 279.4 L1270.5 279.4 L1271.5 279.4 L1272.5 279.4 L1273.5 279.4 L1274.5 279.4 L1275.5 279.4 L1276.5 279.4 L1277.5 279.4 L1278.5 279.4 L1279.5 279.4 L1280.5 279.4 L1281.5 279.4 L1282.5 279.4 L1283.5 279.4 L1284.5 279.4 L1285.5 279.4 L1286.5 279.4 L1287.5 279.4 L1288.5 279.4 L1289.5 279.4 L1290.5 279.4 L1291.5 279.4 L1292.5 279.4 L1293.5 279.4 L1294.5 279.4 L1295.5 279.4 L1296.5 279.4 L1297.5 279.4 L1298.5 279.4 L1299.5 279.4" fill="none" stroke="#22228a" stroke-width="1.3" stroke-linejoin="round" />
<path d="M759.5 279.9 L760.5 279.9 L761.5 279.9 L762.5 279.9 L763.5 279.9 L764.5 279.9 L765.5 279.9 L766.5 279.9 L767.5 279.9 L768.5 279.9 L769.5 279.9 L770.5 279.9 L771.5 279.9 L772.5 279.9 L773.5 279.9 L774.5 279.9 L775.5 279.9 L776.5 279.9 L777.5 279.9 L778.5 279.9 L779.5 279.9 L780.5 279.9 L781.5 279.9 L782.5 279.9 L783.5 279.9 L784.5 279.9 L785.5 279.9 L786.5 279.9 L787.5 279.9 L788.5 279.9 L789.5 279.9 L790.5 279.9 L791.5 279.9 L792.5 279.9 L793.5 279.9 L794.5 279.9 L795.5 279.9 L796.5 279.9 L797.5 279.9 L798.5 279.9 L799.5 279.9 L800.5 279.9 L801.5 279.9 L802.5 279.9 L803.5 279.9 L804.5 279.9 L805.5 279.9 L806.5 279.9 L807.5 279.8 L808.5 279.8 L809.5 279.8 L810.5 279.8 L811.5 279.8 L812.5 279.8 L813.5 279.8 L814.5 279.8 L815.5 279.8 L816.5 279.8 L817.5 279.8 L818.5 279.8 L819.5 279.8 L820.5 279.8 L821.5 279.8 L822.5 279.8 L823.5 279.8 L824.5 279.8 L825.5 279.8 L826.5 279.8 L827.5 279.8 L828.5 279.8 L829.5 279.8 L830.5 279.8 L831.5 279.8 L832.5 279.8 L833.5 279.8 L834.5 279.8 L835.5 279.8 L836.5 279.8 L837.5 279.8 L838.5 279.8 L839.5 279.8 L840.5 279.8 L841.5 279.8 L842.5 279.8 L843.5 279.8 L844.5 279.8 L845.5 279.8 L846.5 279.8 L847.5 279.8 L848.5 279.8 L849.5 279.8 L850.5 279.8 L851.5 279.8 L852.5 279.8 L853.5 279.8 L854.5 279.8 L855.5 279.8 L856.5 279.8 L857.5 279.8 L858.5 279.8 L859.5 279.8 L860.5 279.8 L861.5 279.8 L862.5 279.8 L863.5 279.8 L864.5 279.8 L865.5 279.8 L866.5 279.8 L867.5 279.8 L868.5 279.8 L869.5 279.8 L870.5 279.8 L871.5 279.8 L872.5 279.8 L873.5 279.8 L874.5 279.8 L875.5 279.8 L876.5 279.8 L877.5 279.8 L878.5 279.8 L879.5 279.8 L880.5 279.8 L881.5 279.8 L882.5 279.8 L883.5 279.8 L884.5 279.8 L885.5 279.8 L886.5 279.8 L887.5 279.8 L888.5 279.8 L889.5 279.8 L890.5 279.8 L891.5 279.8 L892.5 279.8 L893.5 279.8 L894.5 279.8 L895.5 279.8 L896.5 279.8 L897.5 279.8 L898.5 279.8 L899.5 279.8 L900.5 279.8 L901.5 279.8 L902.5 279.8 L903.5 279.8 L904.5 279.8 L905.5 279.8 L906.5 279.8 L907.5 279.8 L908.5 279.8 L909.5 279.7 L910.5 279.7 L911.5 279.7 L912.5 279.7 L913.5 279.7 L914.5 279.7 L915.5 279.7 L916.5 279.7 L917.5 279.7 L918.5 279.7 L919.5 279.7 L920.5 279.7 L921.5 279.7 L922.5 279.7 L923.5 279.7 L924.5 279.7 L925.5 279.7 L926.5 279.7 L927.5 279.7 L928.5 279.7 L929.5 279.7 L930.5 279.7 L931.5 279.7 L932.5 279.7 L933.5 279.7 L934.5 279.7 L935.5 279.7 L936.5 279.7 L937.5 279.7 L938.5 279.7 L939.5 279.7 L940.5 279.7 L941.5 279.7 L942.5 279.7 L943.5 279.7 L944.5 279.7 L945.5 279.7 L946.5 279.7 L947.5 279.7 L948.5 279.7 L949.5 279.7 L950.5 279.7 L951.5 279.7 L952.5 279.7 L953.5 279.7 L954.5 279.7 L955.5 279.7 L956.5 279.7 L957.5 279.7 L958.5 279.7 L959.5 279.7 L960.5 279.7 L961.5 279.7 L962.5 279.7 L963.5 279.7 L964.5 279.7 L965.5 279.7 L966.5 279.7 L967.5 279.7 L968.5 279.7 L969.5 279.7 L970.5 279.7 L971.5 279.7 L972.5 279.7 L973.5 279.7 L974.5 279.7 L975.5 279.7 L976.5 279.7 L977.5 279.7 L978.5 279.7 L979.5 279.7 L980.5 279.7 L981.5 279.7 L982.5 279.7 L983.5 279.7 L984.5 279.7 L985.5 279.7 L986.5 279.7 L987.5 279.7 L988.5 279.7 L989.5 279.7 L990.5 279.7 L991.5 279.7 L992.5 279.7 L993.5 279.7 L994.5 279.7 L995.5 279.7 L996.5 279.6 L997.5 279.6 L998.5 279.6 L999.5 279.6 L1000.5 279.6 L1001.5 279.6 L1002.5 279.6 L1003.5 279.6 L1004.5 279.6 L1005.5 279.6 L1006.5 279.6 L1007.5 279.6 L1008.5 279.6 L1009.5 279.6 L1010.5 279.6 L1011.5 279.6 L1012.5 279.6 L1013.5 279.6 L1014.5 279.6 L1015.5 279.6 L1016.5 279.6 L1017.5 279.6 L1018.5 279.6 L1019.5 279.6 L1020.5 279.6 L1021.5 279.6 L1022.5 279.6 L1023.5 279.6 L1024.5 279.6 L1025.5 279.6 L1026.5 279.6 L1027.5 279.6 L1028.5 279.6 L1029.5 279.6 L1030.5 279.6 L1031.5 279.6 L1032.5 279.6 L1033.5 279.6 L1034.5 279.6 L1035.5 279.6 L1036.5 279.6 L1037.5 279.6 L1038.5 279.6 L1039.5 279.6 L1040.5 279.6 L1041.5 279.6 L1042.5 279.6 L1043.5 279.5 L1044.5 279.5 L1045.5 279.5 L1046.5 279.5 L1047.5 279.5 L1048.5 279.5 L1049.5 279.5 L1050.5 279.5 L1051.5 279.5 L1052.5 279.5 L1053.5 279.5 L1054.5 279.5 L1055.5 279.5 L1056.5 279.5 L1057.5 279.4 L1058.5 279.4 L1059.5 279.4 L1060.5 279.4 L1061.5 279.4 L1062.5 279.4 L1063.5 279.4 L1064.5 279.4 L1065.5 279.3 L1066.5 279.3 L1067.5 279.3 L1068.5 279.3 L1069.5 279.3 L1070.5 279.3 L1071.5 279.2 L1072.5 279.2 L1073.5 279.2 L1074.5 279.2 L1075.5 279.1 L1076.5 279.1 L1077.5 279.1 L1078.5 279.1 L1079.5 279 L1080.5 279 L1081.5 279 L1082.5 278.9 L1083.5 278.9 L1084.5 278.9 L1085.5 278.8 L1086.5 278.8 L1087.5 278.8 L1088.5 278.7 L1089.5 278.7 L1090.5 278.6 L1091.5 278.6 L1092.5 278.5 L1093.5 278.5 L1094.5 278.5 L1095.5 278.4 L1096.5 278.4 L1097.5 278.3 L1098.5 278.3 L1099.5 278.2 L1100.5 278.2 L1101.5 278.1 L1102.5 278.1 L1103.5 278 L1104.5 278 L1105.5 277.9 L1106.5 277.9 L1107.5 277.8 L1108.5 277.8 L1109.5 277.7 L1110.5 277.7 L1111.5 277.6 L1112.5 277.6 L1113.5 277.5 L1114.5 277.5 L1115.5 277.4 L1116.5 277.4 L1117.5 277.4 L1118.5 277.3 L1119.5 277.3 L1120.5 277.3 L1121.5 277.2 L1122.5 277.2 L1123.5 277.2 L1124.5 277.1 L1125.5 277.1 L1126.5 277.1 L1127.5 277.1 L1128.5 277.1 L1129.5 277.1 L1130.5 277.1 L1131.5 277.1 L1132.5 277.1 L1133.5 277.1 L1134.5 277.1 L1135.5 277.1 L1136.5 277.1 L1137.5 277.1 L1138.5 277.1 L1139.5 277.1 L1140.5 277.2 L1141.5 277.2 L1142.5 277.2 L1143.5 277.2 L1144.5 277.3 L1145.5 277.3 L1146.5 277.3 L1147.5 277.4 L1148.5 277.4 L1149.5 277.5 L1150.5 277.5 L1151.5 277.5 L1152.5 277.6 L1153.5 277.6 L1154.5 277.7 L1155.5 277.7 L1156.5 277.8 L1157.5 277.8 L1158.5 277.9 L1159.5 277.9 L1160.5 278 L1161.5 278 L1162.5 278.1 L1163.5 278.1 L1164.5 278.2 L1165.5 278.2 L1166.5 278.2 L1167.5 278.3 L1168.5 278.3 L1169.5 278.4 L1170.5 278.4 L1171.5 278.5 L1172.5 278.5 L1173.5 278.6 L1174.5 278.6 L1175.5 278.6 L1176.5 278.7 L1177.5 278.7 L1178.5 278.7 L1179.5 278.8 L1180.5 278.8 L1181.5 278.8 L1182.5 278.9 L1183.5 278.9 L1184.5 278.9 L1185.5 279 L1186.5 279 L1187.5 279 L1188.5 279 L1189.5 279.1 L1190.5 279.1 L1191.5 279.1 L1192.5 279.1 L1193.5 279.1 L1194.5 279.2 L1195.5 279.2 L1196.5 279.2 L1197.5 279.2 L1198.5 279.2 L1199.5 279.2 L1200.5 279.2 L1201.5 279.3 L1202.5 279.3 L1203.5 279.3 L1204.5 279.3 L1205.5 279.3 L1206.5 279.3 L1207.5 279.3 L1208.5 279.3 L1209.5 279.3 L1210.5 279.3 L1211.5 279.3 L1212.5 279.3 L1213.5 279.4 L1214.5 279.4 L1215.5 279.4 L1216.5 279.4 L1217.5 279.4 L1218.5 279.4 L1219.5 279.4 L1220.5 279.4 L1221.5 279.4 L1222.5 279.4 L1223.5 279.4 L1224.5 279.4 L1225.5 279.4 L1226.5 279.4 L1227.5 279.4 L1228.5 279.4 L1229.5 279.4 L1230.5 279.4 L1231.5 279.4 L1232.5 279.4 L1233.5 279.4 L1234.5 279.4 L1235.5 279.4 L1236.5 279.4 L1237.5 279.4 L1238.5 279.4 L1239.5 279.4 L1240.5 279.4 L1241.5 279.4 L1242.5 279.4 L1243.5 279.4 L1244.5 279.4 L1245.5 279.4 L1246.5 279.4 L1247.5 279.4 L1248.5 279.4 L1249.5 279.4 L1250.5 279.4 L1251.5 279.4 L1252.5 279.4 L1253.5 279.4 L1254.5 279.4 L1255.5 279.4 L1256.5 279.4 L1257.5 279.4 L1258.5 279.4 L1259.5 279.4 L1260.5 279.4 L1261.5 279.4 L1262.5 279.4 L1263.5 279.4 L1264.5 279.4 L1265.5 279.4 L1266.5 279.4 L1267.5 279.4 L1268.5 279.4 L1269.5 279.4 L1270.5 279.4 L1271.5 279.4 L1272.5 279.4 L1273.5 279.4 L1274.5 279.4 L1275.5 279.4 L1276.5 279.4 L1277.5 279.4 L1278.5 279.4 L1279.5 279.4 L1280.5 279.4 L1281.5 279.4 L1282.5 279.4 L1283.5 279.4 L1284.5 279.4 L1285.5 279.4 L1286.5 279.4 L1287.5 279.4 L1288.5 279.4 L1289.5 279.4 L1290.5 279.4 L1291.5 279.4 L1292.5 279.4 L1293.5 279.4 L1294.5 279.4 L1295.5 279.4 L1296.5 279.4 L1297.5 279.4 L1298.5 279.4 L1299.5 279.4" fill="none" stroke="#008000" stroke-width="1.2" stroke-linejoin="round" />
<path d="M759.5 279.9 L760.5 279.9 L761.5 279.9 L762.5 279.9 L763.5 279.9 L764.5 279.9 L765.5 279.9 L766.5 279.9 L767.5 279.9 L768.5 279.9 L769.5 279.9 L770.5 279.9 L771.5 279.9 L772.5 279.8 L773.5 279.8 L774.5 279.8 L775.5 279.8 L776.5 279.8 L777.5 279.8 L778.5 279.8 L779.5 279.8 L780.5 279.8 L781.5 279.8 L782.5 279.8 L783.5 279.8 L784.5 279.8 L785.5 279.8 L786.5 279.8 L787.5 279.8 L788.5 279.8 L789.5 279.8 L790.5 279.8 L791.5 279.8 L792.5 279.8 L793.5 279.8 L794.5 279.8 L795.5 279.8 L796.5 279.8 L797.5 279.8 L798.5 279.8 L799.5 279.8 L800.5 279.8 L801.5 279.8 L802.5 279.8 L803.5 279.8 L804.5 279.8 L805.5 279.8 L806.5 279.8 L807.5 279.8 L808.5 279.8 L809.5 279.8 L810.5 279.8 L811.5 279.8 L812.5 279.8 L813.5 279.8 L814.5 279.8 L815.5 279.8 L816.5 279.8 L817.5 279.8 L818.5 279.8 L819.5 279.8 L820.5 279.8 L821.5 279.8 L822.5 279.8 L823.5 279.8 L824.5 279.8 L825.5 279.8 L826.5 279.8 L827.5 279.8 L828.5 279.8 L829.5 279.8 L830.5 279.8 L831.5 279.8 L832.5 279.8 L833.5 279.8 L834.5 279.8 L835.5 279.8 L836.5 279.8 L837.5 279.8 L838.5 279.8 L839.5 279.8 L840.5 279.8 L841.5 279.7 L842.5 279.7 L843.5 279.7 L844.5 279.7 L845.5 279.7 L846.5 279.7 L847.5 279.7 L848.5 279.7 L849.5 279.7 L850.5 279.7 L851.5 279.7 L852.5 279.7 L853.5 279.7 L854.5 279.7 L855.5 279.7 L856.5 279.7 L857.5 279.7 L858.5 279.7 L859.5 279.7 L860.5 279.7 L861.5 279.7 L862.5 279.7 L863.5 279.7 L864.5 279.7 L865.5 279.7 L866.5 279.7 L867.5 279.7 L868.5 279.7 L869.5 279.7 L870.5 279.7 L871.5 279.7 L872.5 279.7 L873.5 279.7 L874.5 279.7 L875.5 279.7 L876.5 279.7 L877.5 279.7 L878.5 279.7 L879.5 279.7 L880.5 279.7 L881.5 279.7 L882.5 279.7 L883.5 279.7 L884.5 279.7 L885.5 279.6 L886.5 279.6 L887.5 279.6 L888.5 279.6 L889.5 279.6 L890.5 279.6 L891.5 279.6 L892.5 279.6 L893.5 279.6 L894.5 279.6 L895.5 279.6 L896.5 279.6 L897.5 279.6 L898.5 279.6 L899.5 279.6 L900.5 279.6 L901.5 279.6 L902.5 279.6 L903.5 279.6 L904.5 279.6 L905.5 279.6 L906.5 279.6 L907.5 279.5 L908.5 279.5 L909.5 279.5 L910.5 279.5 L911.5 279.5 L912.5 279.5 L913.5 279.5 L914.5 279.5 L915.5 279.5 L916.5 279.5 L917.5 279.5 L918.5 279.4 L919.5 279.4 L920.5 279.4 L921.5 279.4 L922.5 279.4 L923.5 279.4 L924.5 279.3 L925.5 279.3 L926.5 279.3 L927.5 279.3 L928.5 279.3 L929.5 279.2 L930.5 279.2 L931.5 279.2 L932.5 279.1 L933.5 279.1 L934.5 279.1 L935.5 279 L936.5 279 L937.5 279 L938.5 278.9 L939.5 278.9 L940.5 278.8 L941.5 278.8 L942.5 278.7 L943.5 278.7 L944.5 278.6 L945.5 278.5 L946.5 278.5 L947.5 278.4 L948.5 278.3 L949.5 278.3 L950.5 278.2 L951.5 278.1 L952.5 278 L953.5 277.9 L954.5 277.8 L955.5 277.7 L956.5 277.6 L957.5 277.5 L958.5 277.4 L959.5 277.3 L960.5 277.2 L961.5 277.1 L962.5 277 L963.5 276.8 L964.5 276.7 L965.5 276.6 L966.5 276.4 L967.5 276.3 L968.5 276.2 L969.5 276 L970.5 275.9 L971.5 275.7 L972.5 275.6 L973.5 275.4 L974.5 275.3 L975.5 275.1 L976.5 275 L977.5 274.8 L978.5 274.6 L979.5 274.5 L980.5 274.3 L981.5 274.1 L982.5 274 L983.5 273.8 L984.5 273.7 L985.5 273.5 L986.5 273.4 L987.5 273.2 L988.5 273.1 L989.5 272.9 L990.5 272.8 L991.5 272.6 L992.5 272.5 L993.5 272.4 L994.5 272.2 L995.5 272.1 L996.5 272 L997.5 271.9 L998.5 271.8 L999.5 271.7 L1000.5 271.6 L1001.5 271.5 L1002.5 271.5 L1003.5 271.4 L1004.5 271.4 L1005.5 271.3 L1006.5 271.3 L1007.5 271.3 L1008.5 271.3 L1009.5 271.3 L1010.5 271.3 L1011.5 271.3 L1012.5 271.3 L1013.5 271.4 L1014.5 271.4 L1015.5 271.5 L1016.5 271.5 L1017.5 271.6 L1018.5 271.7 L1019.5 271.8 L1020.5 271.9 L1021.5 272 L1022.5 272.1 L1023.5 272.2 L1024.5 272.3 L1025.5 272.5 L1026.5 272.6 L1027.5 272.7 L1028.5 272.9 L1029.5 273 L1030.5 273.2 L1031.5 273.3 L1032.5 273.5 L1033.5 273.6 L1034.5 273.8 L1035.5 273.9 L1036.5 274.1 L1037.5 274.3 L1038.5 274.4 L1039.5 274.6 L1040.5 274.7 L1041.5 274.9 L1042.5 275.1 L1043.5 275.2 L1044.5 275.4 L1045.5 275.5 L1046.5 275.7 L1047.5 275.8 L1048.5 276 L1049.5 276.1 L1050.5 276.2 L1051.5 276.4 L1052.5 276.5 L1053.5 276.6 L1054.5 276.8 L1055.5 276.9 L1056.5 277 L1057.5 277.1 L1058.5 277.2 L1059.5 277.3 L1060.5 277.4 L1061.5 277.5 L1062.5 277.6 L1063.5 277.7 L1064.5 277.8 L1065.5 277.9 L1066.5 278 L1067.5 278.1 L1068.5 278.2 L1069.5 278.2 L1070.5 278.3 L1071.5 278.4 L1072.5 278.4 L1073.5 278.5 L1074.5 278.5 L1075.5 278.6 L1076.5 278.6 L1077.5 278.7 L1078.5 278.7 L1079.5 278.8 L1080.5 278.8 L1081.5 278.9 L1082.5 278.9 L1083.5 278.9 L1084.5 279 L1085.5 279 L1086.5 279 L1087.5 279.1 L1088.5 279.1 L1089.5 279.1 L1090.5 279.1 L1091.5 279.1 L1092.5 279.2 L1093.5 279.2 L1094.5 279.2 L1095.5 279.2 L1096.5 279.2 L1097.5 279.2 L1098.5 279.3 L1099.5 279.3 L1100.5 279.3 L1101.5 279.3 L1102.5 279.3 L1103.5 279.3 L1104.5 279.3 L1105.5 279.3 L1106.5 279.3 L1107.5 279.3 L1108.5 279.3 L1109.5 279.4 L1110.5 279.4 L1111.5 279.4 L1112.5 279.4 L1113.5 279.4 L1114.5 279.4 L1115.5 279.4 L1116.5 279.4 L1117.5 279.4 L1118.5 279.4 L1119.5 279.4 L1120.5 279.4 L1121.5 279.4 L1122.5 279.4 L1123.5 279.4 L1124.5 279.4 L1125.5 279.4 L1126.5 279.4 L1127.5 279.4 L1128.5 279.4 L1129.5 279.4 L1130.5 279.4 L1131.5 279.4 L1132.5 279.4 L1133.5 279.4 L1134.5 279.4 L1135.5 279.4 L1136.5 279.4 L1137.5 279.4 L1138.5 279.4 L1139.5 279.4 L1140.5 279.4 L1141.5 279.4 L1142.5 279.4 L1143.5 279.4 L1144.5 279.4 L1145.5 279.4 L1146.5 279.4 L1147.5 279.4 L1148.5 279.4 L1149.5 279.4 L1150.5 279.4 L1151.5 279.4 L1152.5 279.4 L1153.5 279.4 L1154.5 279.4 L1155.5 279.4 L1156.5 279.4 L1157.5 279.4 L1158.5 279.4 L1159.5 279.4 L1160.5 279.4 L1161.5 279.4 L1162.5 279.4 L1163.5 279.4 L1164.5 279.4 L1165.5 279.4 L1166.5 279.4 L1167.5 279.4 L1168.5 279.4 L1169.5 279.4 L1170.5 279.4 L1171.5 279.4 L1172.5 279.4 L1173.5 279.4 L1174.5 279.4 L1175.5 279.4 L1176.5 279.4 L1177.5 279.4 L1178.5 279.4 L1179.5 279.4 L1180.5 279.4 L1181.5 279.4 L1182.5 279.4 L1183.5 279.4 L1184.5 279.4 L1185.5 279.4 L1186.5 279.4 L1187.5 279.4 L1188.5 279.4 L1189.5 279.4 L1190.5 279.4 L1191.5 279.4 L1192.5 279.4 L1193.5 279.4 L1194.5 279.4 L1195.5 279.4 L1196.5 279.4 L1197.5 279.4 L1198.5 279.4 L1199.5 279.4 L1200.5 279.4 L1201.5 279.4 L1202.5 279.4 L1203.5 279.4 L1204.5 279.4 L1205.5 279.4 L1206.5 279.4 L1207.5 279.4 L1208.5 279.4 L1209.5 279.4 L1210.5 279.4 L1211.5 279.4 L1212.5 279.4 L1213.5 279.4 L1214.5 279.4 L1215.5 279.4 L1216.5 279.4 L1217.5 279.4 L1218.5 279.4 L1219.5 279.4 L1220.5 279.4 L1221.5 279.4 L1222.5 279.4 L1223.5 279.4 L1224.5 279.4 L1225.5 279.4 L1226.5 279.4 L1227.5 279.4 L1228.5 279.4 L1229.5 279.4 L1230.5 279.4 L1231.5 279.4 L1232.5 279.4 L1233.5 279.4 L1234.5 279.4 L1235.5 279.4 L1236.5 279.4 L1237.5 279.4 L1238.5 279.4 L1239.5 279.4 L1240.5 279.4 L1241.5 279.4 L1242.5 279.4 L1243.5 279.4 L1244.5 279.4 L1245.5 279.4 L1246.5 279.4 L1247.5 279.4 L1248.5 279.4 L1249.5 279.4 L1250.5 279.4 L1251.5 279.4 L1252.5 279.4 L1253.5 279.4 L1254.5 279.4 L1255.5 279.4 L1256.5 279.4 L1257.5 279.4 L1258.5 279.4 L1259.5 279.4 L1260.5 279.4 L1261.5 279.4 L1262.5 279.4 L1263.5 279.4 L1264.5 279.4 L1265.5 279.4 L1266.5 279.4 L1267.5 279.4 L1268.5 279.4 L1269.5 279.4 L1270.5 279.4 L1271.5 279.4 L1272.5 279.4 L1273.5 279.4 L1274.5 279.4 L1275.5 279.4 L1276.5 279.4 L1277.5 279.4 L1278.5 279.4 L1279.5 279.4 L1280.5 279.4 L1281.5 279.4 L1282.5 279.4 L1283.5 279.4 L1284.5 279.4 L1285.5 279.4 L1286.5 279.4 L1287.5 279.4 L1288.5 279.4 L1289.5 279.4 L1290.5 279.4 L1291.5 279.4 L1292.5 279.4 L1293.5 279.4 L1294.5 279.4 L1295.5 279.4 L1296.5 279.4 L1297.5 279.4 L1298.5 279.4 L1299.5 279.4" fill="none" stroke="#22228a" stroke-width="1.2" stroke-linejoin="round" />
<path d="M759.5 279 L760.5 279 L761.5 279 L762.5 279 L763.5 279 L764.5 279 L765.5 278.9 L766.5 278.9 L767.5 278.9 L768.5 278.9 L769.5 278.9 L770.5 278.9 L771.5 278.9 L772.5 278.9 L773.5 278.9 L774.5 278.9 L775.5 278.9 L776.5 278.9 L777.5 278.9 L778.5 278.9 L779.5 278.9 L780.5 278.9 L781.5 278.8 L782.5 278.8 L783.5 278.8 L784.5 278.8 L785.5 278.8 L786.5 278.8 L787.5 278.8 L788.5 278.8 L789.5 278.8 L790.5 278.8 L791.5 278.8 L792.5 278.8 L793.5 278.7 L794.5 278.7 L795.5 278.7 L796.5 278.7 L797.5 278.7 L798.5 278.7 L799.5 278.7 L800.5 278.7 L801.5 278.7 L802.5 278.7 L803.5 278.7 L804.5 278.6 L805.5 278.6 L806.5 278.6 L807.5 278.6 L808.5 278.6 L809.5 278.6 L810.5 278.6 L811.5 278.6 L812.5 278.6 L813.5 278.5 L814.5 278.5 L815.5 278.5 L816.5 278.5 L817.5 278.5 L818.5 278.5 L819.5 278.5 L820.5 278.4 L821.5 278.4 L822.5 278.4 L823.5 278.4 L824.5 278.4 L825.5 278.4 L826.5 278.3 L827.5 278.3 L828.5 278.3 L829.5 278.3 L830.5 278.3 L831.5 278.2 L832.5 278.2 L833.5 278.2 L834.5 278.2 L835.5 278.2 L836.5 278.1 L837.5 278.1 L838.5 278.1 L839.5 278 L840.5 278 L841.5 278 L842.5 277.9 L843.5 277.9 L844.5 277.9 L845.5 277.8 L846.5 277.8 L847.5 277.8 L848.5 277.7 L849.5 277.7 L850.5 277.6 L851.5 277.5 L852.5 277.5 L853.5 277.4 L854.5 277.3 L855.5 277.3 L856.5 277.2 L857.5 277.1 L858.5 277 L859.5 276.9 L860.5 276.8 L861.5 276.7 L862.5 276.6 L863.5 276.4 L864.5 276.3 L865.5 276.2 L866.5 276 L867.5 275.8 L868.5 275.6 L869.5 275.4 L870.5 275.2 L871.5 275 L872.5 274.7 L873.5 274.5 L874.5 274.2 L875.5 273.9 L876.5 273.6 L877.5 273.3 L878.5 272.9 L879.5 272.5 L880.5 272.1 L881.5 271.7 L882.5 271.2 L883.5 270.8 L884.5 270.2 L885.5 269.7 L886.5 269.1 L887.5 268.5 L888.5 267.9 L889.5 267.3 L890.5 266.6 L891.5 265.8 L892.5 265.1 L893.5 264.3 L894.5 263.5 L895.5 262.6 L896.5 261.7 L897.5 260.8 L898.5 259.8 L899.5 258.8 L900.5 257.8 L901.5 256.7 L902.5 255.6 L903.5 254.5 L904.5 253.3 L905.5 252.1 L906.5 250.9 L907.5 249.7 L908.5 248.4 L909.5 247.1 L910.5 245.8 L911.5 244.4 L912.5 243.1 L913.5 241.7 L914.5 240.3 L915.5 238.9 L916.5 237.5 L917.5 236.1 L918.5 234.7 L919.5 233.3 L920.5 232 L921.5 230.6 L922.5 229.2" fill="none" stroke="#ff00ff" stroke-width="1.2" stroke-linejoin="round" />
<path d="M759.5 279.4 L760.5 279.4 L761.5 279.4 L762.5 279.4 L763.5 279.4 L764.5 279.3 L765.5 279.3 L766.5 279.4 L767.5 279.4 L768.5 279.4 L769.5 279.4 L770.5 279.4 L771.5 279.4 L772.5 279.3 L773.5 279.3 L774.5 279.3 L775.5 279.3 L776.5 279.3 L777.5 279.3 L778.5 279.3 L779.5 279.3 L780.5 279.3 L781.5 279.3 L782.5 279.3 L783.5 279.3 L784.5 279.3 L785.5 279.3 L786.5 279.3 L787.5 279.2 L788.5 279.2 L789.5 279.2 L790.5 279.2 L791.5 279.2 L792.5 279.2 L793.5 279.2 L794.5 279.2 L795.5 279.2 L796.5 279.2 L797.5 279.1 L798.5 279.1 L799.5 279.1 L800.5 279.1 L801.5 279.1 L802.5 279.1 L803.5 279.1 L804.5 279.1 L805.5 279 L806.5 279 L807.5 279 L808.5 279 L809.5 279 L810.5 279 L811.5 278.9 L812.5 278.9 L813.5 278.9 L814.5 278.9 L815.5 278.9 L816.5 278.8 L817.5 278.9 L818.5 278.9 L819.5 278.9 L820.5 278.9 L821.5 278.9 L822.5 278.9 L823.5 278.8 L824.5 278.8 L825.5 278.7 L826.5 278.7 L827.5 278.7 L828.5 278.7 L829.5 278.7 L830.5 278.6 L831.5 278.6 L832.5 278.7 L833.5 278.6 L834.5 278.6 L835.5 278.6 L836.5 278.5 L837.5 278.5 L838.5 278.5 L839.5 278.4 L840.5 278.4 L841.5 278.3 L842.5 278.4 L843.5 278.3 L844.5 278.2 L845.5 278.2 L846.5 278.2 L847.5 278.2 L848.5 278.1 L849.5 277.9 L850.5 277.9 L851.5 277.8 L852.5 277.8 L853.5 277.6 L854.5 277.6 L855.5 277.6 L856.5 277.6 L857.5 277.6 L858.5 277.5 L859.5 277.5 L860.5 277.3 L861.5 277.2 L862.5 277.1 L863.5 276.9 L864.5 276.8 L865.5 276.6 L866.5 276.4 L867.5 276.4 L868.5 276.3 L869.5 275.9 L870.5 275.7 L871.5 275.3 L872.5 275.1 L873.5 274.9 L874.5 274.3 L875.5 273.9 L876.5 273.7 L877.5 273.3 L878.5 272.8 L879.5 272.4 L880.5 272.1 L881.5 271.8 L882.5 271.4 L883.5 271 L884.5 270.5 L885.5 270.3 L886.5 269.7 L887.5 269 L888.5 268.2 L889.5 267.6 L890.5 266.7 L891.5 266.4 L892.5 265.5 L893.5 264.7 L894.5 263.5 L895.5 262.8 L896.5 261.8 L897.5 260.6 L898.5 259.6 L899.5 258.5 L900.5 257.7 L901.5 256.8 L902.5 255.4 L903.5 254.5 L904.5 253.4 L905.5 251.9 L906.5 250.4 L907.5 248.8 L908.5 247.4 L909.5 246.3 L910.5 244.8 L911.5 243 L912.5 241.9 L913.5 240.6 L914.5 239.1 L915.5 237.6 L916.5 235.9 L917.5 234.5 L918.5 233.7 L919.5 232.3 L920.5 230.6 L921.5 229 L922.5 227.8 L923.5 226.6 L924.5 225.1 L925.5 223.7 L926.5 222.3 L927.5 221 L928.5 220.2 L929.5 218.8 L930.5 217.4 L931.5 216.5 L932.5 215.1 L933.5 214.1 L934.5 213.5 L935.5 212.3 L936.5 211.6 L937.5 211.2 L938.5 210.6 L939.5 210.5 L940.5 210.2 L941.5 209.8 L942.5 209.7 L943.5 209.6 L944.5 209.5 L945.5 209.6 L946.5 209.5 L947.5 209.7 L948.5 209.7 L949.5 210.3 L950.5 211 L951.5 211.7 L952.5 212.4 L953.5 213.1 L954.5 213.9 L955.5 214.8 L956.5 215.7 L957.5 216.5 L958.5 217.5 L959.5 218.5 L960.5 220.1 L961.5 220.6 L962.5 221.8 L963.5 223.4 L964.5 224.8 L965.5 226 L966.5 227.4 L967.5 228.8 L968.5 231 L969.5 232.4 L970.5 233.5 L971.5 234.5 L972.5 235.8 L973.5 236.8 L974.5 238.1 L975.5 238.9 L976.5 240.3 L977.5 241.6 L978.5 242.7 L979.5 244.1 L980.5 245.5 L981.5 246.3 L982.5 247.3 L983.5 248.4 L984.5 249.2 L985.5 250.3 L986.5 250.8 L987.5 251.7 L988.5 252.6 L989.5 253.9 L990.5 254.5 L991.5 255.7 L992.5 256.4 L993.5 256.9 L994.5 257.9 L995.5 258.3 L996.5 258.7 L997.5 259.5 L998.5 259.9 L999.5 260.5 L1000.5 261.2 L1001.5 261.6 L1002.5 262.2 L1003.5 262.7 L1004.5 263 L1005.5 263.5 L1006.5 263.9 L1007.5 264.1 L1008.5 264.5 L1009.5 265.1 L1010.5 265.4 L1011.5 265.6 L1012.5 265.9 L1013.5 266 L1014.5 266.4 L1015.5 266.4 L1016.5 266.7 L1017.5 266.5 L1018.5 266.7 L1019.5 267.2 L1020.5 267.6 L1021.5 268 L1022.5 268.6 L1023.5 268.8 L1024.5 269.6 L1025.5 269.8 L1026.5 269.6 L1027.5 270.3 L1028.5 270.4 L1029.5 270.3 L1030.5 270.9 L1031.5 270.8 L1032.5 271 L1033.5 271.2 L1034.5 271 L1035.5 271.4 L1036.5 271.9 L1037.5 271.7 L1038.5 272.1 L1039.5 272.3 L1040.5 272.9 L1041.5 273.3 L1042.5 273.2 L1043.5 273.3 L1044.5 273.4 L1045.5 273.5 L1046.5 273.8 L1047.5 273.6 L1048.5 273.7 L1049.5 274.1 L1050.5 274.3 L1051.5 274.5 L1052.5 274.8 L1053.5 274.9 L1054.5 275 L1055.5 275.1 L1056.5 275.2 L1057.5 275.2 L1058.5 275.3 L1059.5 275.4 L1060.5 275.5 L1061.5 275.6 L1062.5 275.8 L1063.5 275.8 L1064.5 276 L1065.5 276.1 L1066.5 276.2 L1067.5 276.2 L1068.5 276.3 L1069.5 276.2 L1070.5 276.1 L1071.5 276.2 L1072.5 276.3 L1073.5 276.3 L1074.5 276.4 L1075.5 276.5 L1076.5 276.5 L1077.5 276.5 L1078.5 276.4 L1079.5 276.4 L1080.5 276.4 L1081.5 276.3 L1082.5 276.3 L1083.5 276.3 L1084.5 276.4 L1085.5 276.4 L1086.5 276.4 L1087.5 276.4 L1088.5 276.4 L1089.5 276.4 L1090.5 276.3 L1091.5 276.3 L1092.5 276.2 L1093.5 276.1 L1094.5 276 L1095.5 276 L1096.5 275.9 L1097.5 275.9 L1098.5 275.7 L1099.5 275.7 L1100.5 275.8 L1101.5 275.7 L1102.5 275.6 L1103.5 275.6 L1104.5 275.6 L1105.5 275.5 L1106.5 275.5 L1107.5 275.4 L1108.5 275.5 L1109.5 275.4 L1110.5 275.4 L1111.5 275.3 L1112.5 275.2 L1113.5 275.1 L1114.5 275 L1115.5 274.9 L1116.5 275 L1117.5 274.9 L1118.5 274.9 L1119.5 274.9 L1120.5 275 L1121.5 274.9 L1122.5 274.8 L1123.5 274.7 L1124.5 274.7 L1125.5 274.8 L1126.5 274.8 L1127.5 274.7 L1128.5 274.7 L1129.5 274.8 L1130.5 274.8 L1131.5 274.7 L1132.5 274.9 L1133.5 274.9 L1134.5 274.8 L1135.5 274.9 L1136.5 274.9 L1137.5 274.9 L1138.5 274.9 L1139.5 274.8 L1140.5 274.9 L1141.5 274.9 L1142.5 275 L1143.5 275 L1144.5 275 L1145.5 275.1 L1146.5 275.1 L1147.5 275 L1148.5 275.1 L1149.5 275.1 L1150.5 275.1 L1151.5 275.2 L1152.5 275.2 L1153.5 275.2 L1154.5 275.2 L1155.5 275.3 L1156.5 275.4 L1157.5 275.5 L1158.5 275.5 L1159.5 275.5 L1160.5 275.6 L1161.5 275.7 L1162.5 275.8 L1163.5 275.9 L1164.5 275.9 L1165.5 276 L1166.5 276 L1167.5 276.1 L1168.5 276.1 L1169.5 276.1 L1170.5 276.2 L1171.5 276.2 L1172.5 276.4 L1173.5 276.4 L1174.5 276.4 L1175.5 276.4 L1176.5 276.4 L1177.5 276.5 L1178.5 276.5 L1179.5 276.5 L1180.5 276.6 L1181.5 276.7 L1182.5 276.7 L1183.5 276.7 L1184.5 276.8 L1185.5 276.8 L1186.5 276.8 L1187.5 276.9 L1188.5 276.9 L1189.5 277 L1190.5 277 L1191.5 277 L1192.5 277.1 L1193.5 277.1 L1194.5 277.1 L1195.5 277.1 L1196.5 277.1 L1197.5 277.1 L1198.5 277.1 L1199.5 277.1 L1200.5 277.2 L1201.5 277.2 L1202.5 277.2 L1203.5 277.2 L1204.5 277.2 L1205.5 277.3 L1206.5 277.3 L1207.5 277.3 L1208.5 277.3 L1209.5 277.3 L1210.5 277.3 L1211.5 277.3 L1212.5 277.3 L1213.5 277.3 L1214.5 277.3 L1215.5 277.3 L1216.5 277.3 L1217.5 277.3 L1218.5 277.3 L1219.5 277.3 L1220.5 277.3 L1221.5 277.3 L1222.5 277.3 L1223.5 277.3 L1224.5 277.3 L1225.5 277.3 L1226.5 277.4 L1227.5 277.4 L1228.5 277.4 L1229.5 277.4 L1230.5 277.4 L1231.5 277.4 L1232.5 277.4 L1233.5 277.4 L1234.5 277.4 L1235.5 277.4 L1236.5 277.4 L1237.5 277.4 L1238.5 277.4 L1239.5 277.4 L1240.5 277.4 L1241.5 277.4 L1242.5 277.4 L1243.5 277.4 L1244.5 277.4 L1245.5 277.4 L1246.5 277.4 L1247.5 277.4 L1248.5 277.4 L1249.5 277.4 L1250.5 277.4 L1251.5 277.4 L1252.5 277.4 L1253.5 277.4 L1254.5 277.4 L1255.5 277.4 L1256.5 277.4 L1257.5 277.4 L1258.5 277.4 L1259.5 277.4 L1260.5 277.4 L1261.5 277.4 L1262.5 277.4 L1263.5 277.4 L1264.5 277.4 L1265.5 277.4 L1266.5 277.4 L1267.5 277.4 L1268.5 277.4 L1269.5 277.4 L1270.5 277.4 L1271.5 277.4 L1272.5 277.4 L1273.5 277.4 L1274.5 277.4 L1275.5 277.4 L1276.5 277.4 L1277.5 277.4 L1278.5 277.4 L1279.5 277.4 L1280.5 277.4 L1281.5 277.4 L1282.5 277.4 L1283.5 277.4 L1284.5 277.4 L1285.5 277.4 L1286.5 277.4 L1287.5 277.4 L1288.5 277.4 L1289.5 277.4 L1290.5 277.4 L1291.5 277.4 L1292.5 277.4 L1293.5 277.4 L1294.5 277.4 L1295.5 277.4 L1296.5 277.4 L1297.5 277.4 L1298.5 277.4 L1299.5 277.4" fill="none" stroke="#000000" stroke-width="1.2" stroke-linejoin="round" />
<path d="M939.5 212.6 L940.5 212.2 L941.5 211.9 L942.5 211.7 L943.5 211.6 L944.5 211.6 L945.5 211.7 L946.5 211.9 L947.5 212.1 L948.5 212.5 L949.5 212.9 L950.5 213.4 L951.5 214 L952.5 214.6 L953.5 215.3 L954.5 216.1 L955.5 217 L956.5 217.9 L957.5 218.8 L958.5 219.9 L959.5 220.9 L960.5 222 L961.5 223.1 L962.5 224.3 L963.5 225.5 L964.5 226.7 L965.5 227.9 L966.5 229.1 L967.5 230.4 L968.5 231.6 L969.5 232.9 L970.5 234.1 L971.5 235.4 L972.5 236.6 L973.5 237.8 L974.5 239.1 L975.5 240.3 L976.5 241.4 L977.5 242.6 L978.5 243.7 L979.5 244.8 L980.5 245.9 L981.5 247 L982.5 248 L983.5 249 L984.5 250 L985.5 250.9 L986.5 251.8 L987.5 252.7 L988.5 253.6 L989.5 254.4 L990.5 255.2 L991.5 255.9 L992.5 256.6 L993.5 257.3 L994.5 258 L995.5 258.6 L996.5 259.3 L997.5 259.8 L998.5 260.4 L999.5 260.9 L1000.5 261.4 L1001.5 261.9 L1002.5 262.4 L1003.5 262.9 L1004.5 263.3 L1005.5 263.7 L1006.5 264.1 L1007.5 264.5 L1008.5 264.8 L1009.5 265.2 L1010.5 265.5 L1011.5 265.9 L1012.5 266.2 L1013.5 266.5 L1014.5 266.8 L1015.5 267.1 L1016.5 267.4 L1017.5 267.7 L1018.5 268 L1019.5 268.2 L1020.5 268.5 L1021.5 268.8 L1022.5 269 L1023.5 269.3 L1024.5 269.5 L1025.5 269.8 L1026.5 270 L1027.5 270.3 L1028.5 270.5 L1029.5 270.8 L1030.5 271 L1031.5 271.2 L1032.5 271.4 L1033.5 271.7 L1034.5 271.9 L1035.5 272.1 L1036.5 272.3 L1037.5 272.5 L1038.5 272.7 L1039.5 272.9 L1040.5 273.1 L1041.5 273.3 L1042.5 273.5 L1043.5 273.7 L1044.5 273.9 L1045.5 274.1 L1046.5 274.2 L1047.5 274.4 L1048.5 274.6 L1049.5 274.8 L1050.5 274.9 L1051.5 275.1 L1052.5 275.2 L1053.5 275.4 L1054.5 275.5 L1055.5 275.6 L1056.5 275.8 L1057.5 275.9 L1058.5 276 L1059.5 276.1 L1060.5 276.2 L1061.5 276.3 L1062.5 276.4 L1063.5 276.5 L1064.5 276.6 L1065.5 276.7 L1066.5 276.8 L1067.5 276.9 L1068.5 277 L1069.5 277 L1070.5 277.1 L1071.5 277.1 L1072.5 277.2 L1073.5 277.3 L1074.5 277.3 L1075.5 277.3 L1076.5 277.4 L1077.5 277.4 L1078.5 277.4 L1079.5 277.5 L1080.5 277.5 L1081.5 277.5 L1082.5 277.5 L1083.5 277.5 L1084.5 277.5 L1085.5 277.5 L1086.5 277.5 L1087.5 277.5 L1088.5 277.5 L1089.5 277.5 L1090.5 277.5 L1091.5 277.5 L1092.5 277.5 L1093.5 277.5 L1094.5 277.5 L1095.5 277.4 L1096.5 277.4 L1097.5 277.4 L1098.5 277.4 L1099.5 277.3 L1100.5 277.3 L1101.5 277.3 L1102.5 277.2 L1103.5 277.2 L1104.5 277.2 L1105.5 277.1 L1106.5 277.1 L1107.5 277.1 L1108.5 277 L1109.5 277 L1110.5 277 L1111.5 276.9 L1112.5 276.9 L1113.5 276.8 L1114.5 276.8 L1115.5 276.8 L1116.5 276.8 L1117.5 276.7 L1118.5 276.7 L1119.5 276.7 L1120.5 276.6 L1121.5 276.6 L1122.5 276.6 L1123.5 276.6 L1124.5 276.6 L1125.5 276.5 L1126.5 276.5 L1127.5 276.5 L1128.5 276.5 L1129.5 276.5 L1130.5 276.5 L1131.5 276.5 L1132.5 276.5 L1133.5 276.5 L1134.5 276.5 L1135.5 276.6 L1136.5 276.6 L1137.5 276.6 L1138.5 276.6 L1139.5 276.6 L1140.5 276.7 L1141.5 276.7 L1142.5 276.7 L1143.5 276.8 L1144.5 276.8 L1145.5 276.8 L1146.5 276.9 L1147.5 276.9 L1148.5 277 L1149.5 277 L1150.5 277.1 L1151.5 277.1 L1152.5 277.2 L1153.5 277.2 L1154.5 277.3 L1155.5 277.3 L1156.5 277.4 L1157.5 277.4 L1158.5 277.5 L1159.5 277.5 L1160.5 277.6 L1161.5 277.6 L1162.5 277.7 L1163.5 277.7 L1164.5 277.8 L1165.5 277.8 L1166.5 277.9 L1167.5 277.9 L1168.5 278 L1169.5 278 L1170.5 278.1 L1171.5 278.1 L1172.5 278.2 L1173.5 278.2 L1174.5 278.3 L1175.5 278.3 L1176.5 278.3 L1177.5 278.4 L1178.5 278.4 L1179.5 278.4 L1180.5 278.5 L1181.5 278.5 L1182.5 278.6 L1183.5 278.6 L1184.5 278.6 L1185.5 278.6 L1186.5 278.7 L1187.5 278.7 L1188.5 278.7 L1189.5 278.8 L1190.5 278.8 L1191.5 278.8 L1192.5 278.8 L1193.5 278.8 L1194.5 278.9 L1195.5 278.9 L1196.5 278.9 L1197.5 278.9 L1198.5 278.9 L1199.5 279 L1200.5 279 L1201.5 279 L1202.5 279 L1203.5 279 L1204.5 279 L1205.5 279 L1206.5 279 L1207.5 279.1 L1208.5 279.1 L1209.5 279.1 L1210.5 279.1 L1211.5 279.1 L1212.5 279.1 L1213.5 279.1 L1214.5 279.1 L1215.5 279.1 L1216.5 279.1 L1217.5 279.1 L1218.5 279.1 L1219.5 279.1 L1220.5 279.1 L1221.5 279.2 L1222.5 279.2 L1223.5 279.2 L1224.5 279.2 L1225.5 279.2 L1226.5 279.2 L1227.5 279.2 L1228.5 279.2 L1229.5 279.2 L1230.5 279.2 L1231.5 279.2 L1232.5 279.2 L1233.5 279.2 L1234.5 279.2 L1235.5 279.2 L1236.5 279.2 L1237.5 279.2 L1238.5 279.2 L1239.5 279.2 L1240.5 279.2 L1241.5 279.2 L1242.5 279.2 L1243.5 279.2 L1244.5 279.2 L1245.5 279.2 L1246.5 279.2 L1247.5 279.2 L1248.5 279.2 L1249.5 279.2 L1250.5 279.2 L1251.5 279.2 L1252.5 279.2 L1253.5 279.2 L1254.5 279.2 L1255.5 279.2 L1256.5 279.2 L1257.5 279.2 L1258.5 279.2 L1259.5 279.2 L1260.5 279.2 L1261.5 279.2 L1262.5 279.2 L1263.5 279.2 L1264.5 279.2 L1265.5 279.2 L1266.5 279.2 L1267.5 279.2 L1268.5 279.2 L1269.5 279.2 L1270.5 279.2 L1271.5 279.2 L1272.5 279.2 L1273.5 279.2 L1274.5 279.2 L1275.5 279.2 L1276.5 279.2 L1277.5 279.2 L1278.5 279.2 L1279.5 279.2 L1280.5 279.2 L1281.5 279.2 L1282.5 279.2 L1283.5 279.2 L1284.5 279.2 L1285.5 279.2 L1286.5 279.2 L1287.5 279.2 L1288.5 279.2 L1289.5 279.2 L1290.5 279.2 L1291.5 279.2 L1292.5 279.2 L1293.5 279.2 L1294.5 279.2 L1295.5 279.2 L1296.5 279.2 L1297.5 279.2 L1298.5 279.2 L1299.5 279.2" fill="none" stroke="#ff0000" stroke-width="1.2" stroke-linejoin="round" />
<path d="M759.5 368.3 L760.5 368.3 L761.5 368.3 L762.5 368.3 L763.5 368.2 L764.5 368.2 L765.5 368.2 L766.5 368.2 L767.5 368.2 L768.5 368.2 L769.5 368.2 L770.5 368.2 L771.5 368.2 L772.5 368.2 L773.5 368.2 L774.5 368.2 L775.5 368.2 L776.5 368.1 L777.5 368.1 L778.5 368.1 L779.5 368.1 L780.5 368.1 L781.5 368.1 L782.5 368.1 L783.5 368.1 L784.5 368.1 L785.5 368.1 L786.5 368.1 L787.5 368.1 L788.5 368 L789.5 368 L790.5 368 L791.5 368 L792.5 368 L793.5 368 L794.5 368 L795.5 368 L796.5 368 L797.5 368 L798.5 367.9 L799.5 367.9 L800.5 367.9 L801.5 367.9 L802.5 367.9 L803.5 367.9 L804.5 367.9 L805.5 367.9 L806.5 367.8 L807.5 367.8 L808.5 367.8 L809.5 367.8 L810.5 367.8 L811.5 367.8 L812.5 367.8 L813.5 367.8 L814.5 367.7 L815.5 367.7 L816.5 367.7 L817.5 367.7 L818.5 367.7 L819.5 367.7 L820.5 367.6 L821.5 367.6 L822.5 367.6 L823.5 367.6 L824.5 367.6 L825.5 367.6 L826.5 367.5 L827.5 367.5 L828.5 367.5 L829.5 367.5 L830.5 367.5 L831.5 367.4 L832.5 367.4 L833.5 367.4 L834.5 367.4 L835.5 367.3 L836.5 367.3 L837.5 367.3 L838.5 367.3 L839.5 367.2 L840.5 367.2 L841.5 367.2 L842.5 367.1 L843.5 367.1 L844.5 367.1 L845.5 367 L846.5 367 L847.5 366.9 L848.5 366.9 L849.5 366.8 L850.5 366.8 L851.5 366.7 L852.5 366.7 L853.5 366.6 L854.5 366.6 L855.5 366.5 L856.5 366.4 L857.5 366.3 L858.5 366.2 L859.5 366.1 L860.5 366 L861.5 365.9 L862.5 365.8 L863.5 365.7 L864.5 365.6 L865.5 365.4 L866.5 365.3 L867.5 365.1 L868.5 364.9 L869.5 364.7 L870.5 364.5 L871.5 364.3 L872.5 364.1 L873.5 363.9 L874.5 363.6 L875.5 363.3 L876.5 363 L877.5 362.7 L878.5 362.4 L879.5 362 L880.5 361.6 L881.5 361.2 L882.5 360.8 L883.5 360.3 L884.5 359.8 L885.5 359.3 L886.5 358.8 L887.5 358.2 L888.5 357.6 L889.5 357 L890.5 356.3 L891.5 355.6 L892.5 354.8 L893.5 354.1 L894.5 353.3 L895.5 352.4 L896.5 351.6 L897.5 350.6 L898.5 349.7 L899.5 348.7 L900.5 347.7 L901.5 346.6 L902.5 345.5 L903.5 344.4 L904.5 343.3 L905.5 342.1 L906.5 340.8 L907.5 339.6 L908.5 338.3 L909.5 337 L910.5 335.7 L911.5 334.3 L912.5 332.9 L913.5 331.5 L914.5 330.1 L915.5 328.7 L916.5 327.2 L917.5 325.8 L918.5 324.3 L919.5 322.9 L920.5 321.4 L921.5 320 L922.5 318.6 L923.5 317.1 L924.5 315.8 L925.5 314.4 L926.5 313 L927.5 311.7 L928.5 310.5 L929.5 309.2 L930.5 308 L931.5 306.9 L932.5 305.8 L933.5 304.8 L934.5 303.9 L935.5 303 L936.5 302.2 L937.5 301.4 L938.5 300.8 L939.5 300.2 L940.5 299.8 L941.5 299.4 L942.5 299.1 L943.5 298.9 L944.5 298.8 L945.5 298.8 L946.5 298.9 L947.5 299.1 L948.5 299.4 L949.5 299.7 L950.5 300.2 L951.5 300.8 L952.5 301.4 L953.5 302.1 L954.5 302.9 L955.5 303.8 L956.5 304.8 L957.5 305.8 L958.5 306.8 L959.5 308 L960.5 309.1 L961.5 310.4 L962.5 311.6 L963.5 313 L964.5 314.3 L965.5 315.7 L966.5 317.1 L967.5 318.5 L968.5 319.9 L969.5 321.3 L970.5 322.8 L971.5 324.2 L972.5 325.7 L973.5 327.1 L974.5 328.5 L975.5 330 L976.5 331.4 L977.5 332.8 L978.5 334.1 L979.5 335.5 L980.5 336.8 L981.5 338.1 L982.5 339.4 L983.5 340.7 L984.5 341.9 L985.5 343.1 L986.5 344.2 L987.5 345.4 L988.5 346.4 L989.5 347.5 L990.5 348.5 L991.5 349.5 L992.5 350.4 L993.5 351.3 L994.5 352.2 L995.5 353 L996.5 353.8 L997.5 354.6 L998.5 355.3 L999.5 356 L1000.5 356.7 L1001.5 357.3 L1002.5 357.9 L1003.5 358.5 L1004.5 359 L1005.5 359.6 L1006.5 360 L1007.5 360.5 L1008.5 360.9 L1009.5 361.3 L1010.5 361.7 L1011.5 362.1 L1012.5 362.4 L1013.5 362.7 L1014.5 363 L1015.5 363.3 L1016.5 363.5 L1017.5 363.8 L1018.5 364 L1019.5 364.2 L1020.5 364.4 L1021.5 364.6 L1022.5 364.8 L1023.5 364.9 L1024.5 365.1 L1025.5 365.2 L1026.5 365.3 L1027.5 365.5 L1028.5 365.6 L1029.5 365.7 L1030.5 365.8 L1031.5 365.9 L1032.5 365.9 L1033.5 366 L1034.5 366.1 L1035.5 366.2 L1036.5 366.2 L1037.5 366.3 L1038.5 366.3 L1039.5 366.4 L1040.5 366.4 L1041.5 366.5 L1042.5 366.5 L1043.5 366.6 L1044.5 366.6 L1045.5 366.6 L1046.5 366.7 L1047.5 366.7 L1048.5 366.7 L1049.5 366.7 L1050.5 366.8 L1051.5 366.8 L1052.5 366.8 L1053.5 366.8 L1054.5 366.9 L1055.5 366.9 L1056.5 366.9 L1057.5 366.9 L1058.5 366.9 L1059.5 367 L1060.5 367 L1061.5 367 L1062.5 367 L1063.5 367 L1064.5 367 L1065.5 367 L1066.5 367.1 L1067.5 367.1 L1068.5 367.1 L1069.5 367.1 L1070.5 367.1 L1071.5 367.1 L1072.5 367.1 L1073.5 367.1 L1074.5 367.2 L1075.5 367.2 L1076.5 367.2 L1077.5 367.2 L1078.5 367.2 L1079.5 367.2 L1080.5 367.2 L1081.5 367.2 L1082.5 367.2 L1083.5 367.2 L1084.5 367.2 L1085.5 367.2 L1086.5 367.3 L1087.5 367.3 L1088.5 367.3 L1089.5 367.3 L1090.5 367.3 L1091.5 367.3 L1092.5 367.3 L1093.5 367.3 L1094.5 367.3 L1095.5 367.3 L1096.5 367.3 L1097.5 367.3 L1098.5 367.3 L1099.5 367.3 L1100.5 367.3 L1101.5 367.3 L1102.5 367.4 L1103.5 367.4 L1104.5 367.4 L1105.5 367.4 L1106.5 367.4 L1107.5 367.4 L1108.5 367.4 L1109.5 367.4 L1110.5 367.4 L1111.5 367.4 L1112.5 367.4 L1113.5 367.4 L1114.5 367.4 L1115.5 367.4 L1116.5 367.4 L1117.5 367.4 L1118.5 367.4 L1119.5 367.4 L1120.5 367.4 L1121.5 367.4 L1122.5 367.4 L1123.5 367.4 L1124.5 367.4 L1125.5 367.4 L1126.5 367.4 L1127.5 367.4 L1128.5 367.4 L1129.5 367.4 L1130.5 367.4 L1131.5 367.5 L1132.5 367.5 L1133.5 367.5 L1134.5 367.5 L1135.5 367.5 L1136.5 367.5 L1137.5 367.5 L1138.5 367.5 L1139.5 367.5 L1140.5 367.5 L1141.5 367.5 L1142.5 367.5 L1143.5 367.5 L1144.5 367.5 L1145.5 367.5 L1146.5 367.5 L1147.5 367.5 L1148.5 367.5 L1149.5 367.5 L1150.5 367.5 L1151.5 367.5 L1152.5 367.5 L1153.5 367.5 L1154.5 367.5 L1155.5 367.5 L1156.5 367.5 L1157.5 367.5 L1158.5 367.5 L1159.5 367.5 L1160.5 367.5 L1161.5 367.5 L1162.5 367.5 L1163.5 367.5 L1164.5 367.5 L1165.5 367.5 L1166.5 367.5 L1167.5 367.5 L1168.5 367.5 L1169.5 367.5 L1170.5 367.5 L1171.5 367.5 L1172.5 367.5 L1173.5 367.5 L1174.5 367.5 L1175.5 367.5 L1176.5 367.5 L1177.5 367.5 L1178.5 367.5 L1179.5 367.5 L1180.5 367.5 L1181.5 367.5 L1182.5 367.5 L1183.5 367.5 L1184.5 367.5 L1185.5 367.5 L1186.5 367.5 L1187.5 367.5 L1188.5 367.5 L1189.5 367.5 L1190.5 367.5 L1191.5 367.5 L1192.5 367.5 L1193.5 367.5 L1194.5 367.5 L1195.5 367.5 L1196.5 367.5 L1197.5 367.5 L1198.5 367.5 L1199.5 367.5 L1200.5 367.5 L1201.5 367.5 L1202.5 367.5 L1203.5 367.5 L1204.5 367.5 L1205.5 367.5 L1206.5 367.5 L1207.5 367.5 L1208.5 367.5 L1209.5 367.5 L1210.5 367.5 L1211.5 367.5 L1212.5 367.5 L1213.5 367.5 L1214.5 367.5 L1215.5 367.5 L1216.5 367.5 L1217.5 367.5 L1218.5 367.5 L1219.5 367.5 L1220.5 367.5 L1221.5 367.5 L1222.5 367.5 L1223.5 367.5 L1224.5 367.5 L1225.5 367.5 L1226.5 367.5 L1227.5 367.5 L1228.5 367.5 L1229.5 367.5 L1230.5 367.5 L1231.5 367.5 L1232.5 367.5 L1233.5 367.5 L1234.5 367.5 L1235.5 367.5 L1236.5 367.5 L1237.5 367.5 L1238.5 367.5 L1239.5 367.5 L1240.5 367.5 L1241.5 367.5 L1242.5 367.5 L1243.5 367.5 L1244.5 367.5 L1245.5 367.5 L1246.5 367.5 L1247.5 367.5 L1248.5 367.5 L1249.5 367.4 L1250.5 367.4 L1251.5 367.4 L1252.5 367.4 L1253.5 367.4 L1254.5 367.4 L1255.5 367.4 L1256.5 367.4 L1257.5 367.4 L1258.5 367.4 L1259.5 367.4 L1260.5 367.4 L1261.5 367.4 L1262.5 367.4 L1263.5 367.4 L1264.5 367.4 L1265.5 367.4 L1266.5 367.4 L1267.5 367.4 L1268.5 367.4 L1269.5 367.4 L1270.5 367.4 L1271.5 367.4 L1272.5 367.4 L1273.5 367.4 L1274.5 367.4 L1275.5 367.4 L1276.5 367.4 L1277.5 367.4 L1278.5 367.4 L1279.5 367.4 L1280.5 367.4 L1281.5 367.4 L1282.5 367.4 L1283.5 367.4 L1284.5 367.4 L1285.5 367.4 L1286.5 367.4 L1287.5 367.4 L1288.5 367.4 L1289.5 367.4 L1290.5 367.4 L1291.5 367.4 L1292.5 367.4 L1293.5 367.4 L1294.5 367.4 L1295.5 367.4 L1296.5 367.4 L1297.5 367.4 L1298.5 367.4 L1299.5 367.4" fill="none" stroke="#ff00ff" stroke-width="1.2" stroke-linejoin="round" />
<path d="M759.5 369.2 L760.5 369.2 L761.5 369.2 L762.5 369.2 L763.5 369.2 L764.5 369.2 L765.5 369.2 L766.5 369.2 L767.5 369.2 L768.5 369.2 L769.5 369.2 L770.5 369.2 L771.5 369.2 L772.5 369.2 L773.5 369.2 L774.5 369.2 L775.5 369.2 L776.5 369.2 L777.5 369.2 L778.5 369.2 L779.5 369.2 L780.5 369.2 L781.5 369.2 L782.5 369.1 L783.5 369.1 L784.5 369.1 L785.5 369.1 L786.5 369.1 L787.5 369.1 L788.5 369.1 L789.5 369.1 L790.5 369.1 L791.5 369.1 L792.5 369.1 L793.5 369.1 L794.5 369.1 L795.5 369.1 L796.5 369.1 L797.5 369.1 L798.5 369.1 L799.5 369.1 L800.5 369.1 L801.5 369.1 L802.5 369.1 L803.5 369.1 L804.5 369.1 L805.5 369.1 L806.5 369.1 L807.5 369.1 L808.5 369.1 L809.5 369.1 L810.5 369.1 L811.5 369.1 L812.5 369.1 L813.5 369.1 L814.5 369.1 L815.5 369.1 L816.5 369.1 L817.5 369.1 L818.5 369.1 L819.5 369.1 L820.5 369.1 L821.5 369.1 L822.5 369.1 L823.5 369.1 L824.5 369.1 L825.5 369.1 L826.5 369.1 L827.5 369 L828.5 369 L829.5 369 L830.5 369 L831.5 369 L832.5 369 L833.5 369 L834.5 369 L835.5 369 L836.5 369 L837.5 369 L838.5 369 L839.5 369 L840.5 369 L841.5 369 L842.5 369 L843.5 369 L844.5 369 L845.5 369 L846.5 369 L847.5 369 L848.5 369 L849.5 369 L850.5 369 L851.5 369 L852.5 369 L853.5 369 L854.5 369 L855.5 369 L856.5 369 L857.5 369 L858.5 369 L859.5 369 L860.5 369 L861.5 369 L862.5 369 L863.5 369 L864.5 369 L865.5 369 L866.5 369 L867.5 369 L868.5 369 L869.5 369 L870.5 369 L871.5 369 L872.5 368.9 L873.5 368.9 L874.5 368.9 L875.5 368.9 L876.5 368.9 L877.5 368.9 L878.5 368.9 L879.5 368.9 L880.5 368.9 L881.5 368.9 L882.5 368.9 L883.5 368.9 L884.5 368.9 L885.5 368.9 L886.5 368.9 L887.5 368.9 L888.5 368.9 L889.5 368.9 L890.5 368.9 L891.5 368.9 L892.5 368.9 L893.5 368.9 L894.5 368.9 L895.5 368.9 L896.5 368.9 L897.5 368.9 L898.5 368.9 L899.5 368.9 L900.5 368.9 L901.5 368.9 L902.5 368.9 L903.5 368.9 L904.5 368.9 L905.5 368.9 L906.5 368.9 L907.5 368.9 L908.5 368.9 L909.5 368.9 L910.5 368.9 L911.5 368.9 L912.5 368.9 L913.5 368.9 L914.5 368.9 L915.5 368.9 L916.5 368.9 L917.5 368.8 L918.5 368.8 L919.5 368.8 L920.5 368.8 L921.5 368.8 L922.5 368.8 L923.5 368.8 L924.5 368.8 L925.5 368.8 L926.5 368.8 L927.5 368.8 L928.5 368.8 L929.5 368.8 L930.5 368.8 L931.5 368.8 L932.5 368.8 L933.5 368.8 L934.5 368.8 L935.5 368.8 L936.5 368.8 L937.5 368.8 L938.5 368.8 L939.5 368.8 L940.5 368.8 L941.5 368.8 L942.5 368.8 L943.5 368.8 L944.5 368.8 L945.5 368.8 L946.5 368.8 L947.5 368.8 L948.5 368.8 L949.5 368.8 L950.5 368.8 L951.5 368.8 L952.5 368.8 L953.5 368.8 L954.5 368.8 L955.5 368.8 L956.5 368.8 L957.5 368.8 L958.5 368.8 L959.5 368.8 L960.5 368.8 L961.5 368.8 L962.5 368.7 L963.5 368.7 L964.5 368.7 L965.5 368.7 L966.5 368.7 L967.5 368.7 L968.5 368.7 L969.5 368.7 L970.5 368.7 L971.5 368.7 L972.5 368.7 L973.5 368.7 L974.5 368.7 L975.5 368.7 L976.5 368.7 L977.5 368.7 L978.5 368.7 L979.5 368.7 L980.5 368.7 L981.5 368.7 L982.5 368.7 L983.5 368.7 L984.5 368.7 L985.5 368.7 L986.5 368.7 L987.5 368.7 L988.5 368.7 L989.5 368.7 L990.5 368.7 L991.5 368.7 L992.5 368.7 L993.5 368.7 L994.5 368.7 L995.5 368.7 L996.5 368.7 L997.5 368.7 L998.5 368.7 L999.5 368.7 L1000.5 368.7 L1001.5 368.7 L1002.5 368.7 L1003.5 368.7 L1004.5 368.7 L1005.5 368.7 L1006.5 368.7 L1007.5 368.6 L1008.5 368.6 L1009.5 368.6 L1010.5 368.6 L1011.5 368.6 L1012.5 368.6 L1013.5 368.6 L1014.5 368.6 L1015.5 368.6 L1016.5 368.6 L1017.5 368.6 L1018.5 368.6 L1019.5 368.6 L1020.5 368.6 L1021.5 368.6 L1022.5 368.6 L1023.5 368.6 L1024.5 368.6 L1025.5 368.6 L1026.5 368.6 L1027.5 368.6 L1028.5 368.6 L1029.5 368.6 L1030.5 368.6 L1031.5 368.6 L1032.5 368.6 L1033.5 368.6 L1034.5 368.6 L1035.5 368.6 L1036.5 368.6 L1037.5 368.6 L1038.5 368.6 L1039.5 368.6 L1040.5 368.6 L1041.5 368.6 L1042.5 368.6 L1043.5 368.6 L1044.5 368.6 L1045.5 368.6 L1046.5 368.6 L1047.5 368.6 L1048.5 368.6 L1049.5 368.6 L1050.5 368.6 L1051.5 368.6 L1052.5 368.5 L1053.5 368.5 L1054.5 368.5 L1055.5 368.5 L1056.5 368.5 L1057.5 368.5 L1058.5 368.5 L1059.5 368.5 L1060.5 368.5 L1061.5 368.5 L1062.5 368.5 L1063.5 368.5 L1064.5 368.5 L1065.5 368.5 L1066.5 368.5 L1067.5 368.5 L1068.5 368.5 L1069.5 368.5 L1070.5 368.5 L1071.5 368.5 L1072.5 368.5 L1073.5 368.5 L1074.5 368.5 L1075.5 368.5 L1076.5 368.5 L1077.5 368.5 L1078.5 368.5 L1079.5 368.5 L1080.5 368.5 L1081.5 368.5 L1082.5 368.5 L1083.5 368.5 L1084.5 368.5 L1085.5 368.5 L1086.5 368.5 L1087.5 368.5 L1088.5 368.5 L1089.5 368.5 L1090.5 368.5 L1091.5 368.5 L1092.5 368.5 L1093.5 368.5 L1094.5 368.5 L1095.5 368.5 L1096.5 368.5 L1097.5 368.4 L1098.5 368.4 L1099.5 368.4 L1100.5 368.4 L1101.5 368.4 L1102.5 368.4 L1103.5 368.4 L1104.5 368.4 L1105.5 368.4 L1106.5 368.4 L1107.5 368.4 L1108.5 368.4 L1109.5 368.4 L1110.5 368.4 L1111.5 368.4 L1112.5 368.4 L1113.5 368.4 L1114.5 368.4 L1115.5 368.4 L1116.5 368.4 L1117.5 368.4 L1118.5 368.4 L1119.5 368.4 L1120.5 368.4 L1121.5 368.4 L1122.5 368.4 L1123.5 368.4 L1124.5 368.4 L1125.5 368.4 L1126.5 368.4 L1127.5 368.4 L1128.5 368.4 L1129.5 368.4 L1130.5 368.4 L1131.5 368.4 L1132.5 368.4 L1133.5 368.4 L1134.5 368.4 L1135.5 368.4 L1136.5 368.4 L1137.5 368.4 L1138.5 368.4 L1139.5 368.4 L1140.5 368.4 L1141.5 368.4 L1142.5 368.3 L1143.5 368.3 L1144.5 368.3 L1145.5 368.3 L1146.5 368.3 L1147.5 368.3 L1148.5 368.3 L1149.5 368.3 L1150.5 368.3 L1151.5 368.3 L1152.5 368.3 L1153.5 368.3 L1154.5 368.3 L1155.5 368.3 L1156.5 368.3 L1157.5 368.3 L1158.5 368.3 L1159.5 368.3 L1160.5 368.3 L1161.5 368.3 L1162.5 368.3 L1163.5 368.3 L1164.5 368.3 L1165.5 368.3 L1166.5 368.3 L1167.5 368.3 L1168.5 368.3 L1169.5 368.3 L1170.5 368.3 L1171.5 368.3 L1172.5 368.3 L1173.5 368.3 L1174.5 368.3 L1175.5 368.3 L1176.5 368.3 L1177.5 368.3 L1178.5 368.3 L1179.5 368.3 L1180.5 368.3 L1181.5 368.3 L1182.5 368.3 L1183.5 368.3 L1184.5 368.3 L1185.5 368.3 L1186.5 368.3 L1187.5 368.2 L1188.5 368.2 L1189.5 368.2 L1190.5 368.2 L1191.5 368.2 L1192.5 368.2 L1193.5 368.2 L1194.5 368.2 L1195.5 368.2 L1196.5 368.2 L1197.5 368.2 L1198.5 368.2 L1199.5 368.2 L1200.5 368.2 L1201.5 368.2 L1202.5 368.2 L1203.5 368.2 L1204.5 368.2 L1205.5 368.2 L1206.5 368.2 L1207.5 368.2 L1208.5 368.2 L1209.5 368.2 L1210.5 368.2 L1211.5 368.2 L1212.5 368.2 L1213.5 368.2 L1214.5 368.2 L1215.5 368.2 L1216.5 368.2 L1217.5 368.2 L1218.5 368.2 L1219.5 368.2 L1220.5 368.2 L1221.5 368.2 L1222.5 368.2 L1223.5 368.2 L1224.5 368.2 L1225.5 368.2 L1226.5 368.2 L1227.5 368.2 L1228.5 368.2 L1229.5 368.2 L1230.5 368.2 L1231.5 368.2 L1232.5 368.1 L1233.5 368.1 L1234.5 368.1 L1235.5 368.1 L1236.5 368.1 L1237.5 368.1 L1238.5 368.1 L1239.5 368.1 L1240.5 368.1 L1241.5 368.1 L1242.5 368.1 L1243.5 368.1 L1244.5 368.1 L1245.5 368.1 L1246.5 368.1 L1247.5 368.1 L1248.5 368.1 L1249.5 368.1 L1250.5 368.1 L1251.5 368.1 L1252.5 368.1 L1253.5 368.1 L1254.5 368.1 L1255.5 368.1 L1256.5 368.1 L1257.5 368.1 L1258.5 368.1 L1259.5 368.1 L1260.5 368.1 L1261.5 368.1 L1262.5 368.1 L1263.5 368.1 L1264.5 368.1 L1265.5 368.1 L1266.5 368.1 L1267.5 368.1 L1268.5 368.1 L1269.5 368.1 L1270.5 368.1 L1271.5 368.1 L1272.5 368.1 L1273.5 368.1 L1274.5 368.1 L1275.5 368.1 L1276.5 368.1 L1277.5 368 L1278.5 368 L1279.5 368 L1280.5 368 L1281.5 368 L1282.5 368 L1283.5 368 L1284.5 368 L1285.5 368 L1286.5 368 L1287.5 368 L1288.5 368 L1289.5 368 L1290.5 368 L1291.5 368 L1292.5 368 L1293.5 368 L1294.5 368 L1295.5 368 L1296.5 368 L1297.5 368 L1298.5 368 L1299.5 368" fill="none" stroke="#22228a" stroke-width="1.3" stroke-linejoin="round" />
<path d="M759.5 369.2 L760.5 369.2 L761.5 369.2 L762.5 369.2 L763.5 369.2 L764.5 369.2 L765.5 369.2 L766.5 369.2 L767.5 369.2 L768.5 369.2 L769.5 369.2 L770.5 369.2 L771.5 369.2 L772.5 369.2 L773.5 369.2 L774.5 369.2 L775.5 369.2 L776.5 369.2 L777.5 369.2 L778.5 369.2 L779.5 369.2 L780.5 369.1 L781.5 369.1 L782.5 369.1 L783.5 369.1 L784.5 369.1 L785.5 369.1 L786.5 369.1 L787.5 369.1 L788.5 369.1 L789.5 369.1 L790.5 369.1 L791.5 369.1 L792.5 369.1 L793.5 369.1 L794.5 369.1 L795.5 369.1 L796.5 369.1 L797.5 369.1 L798.5 369.1 L799.5 369.1 L800.5 369.1 L801.5 369.1 L802.5 369.1 L803.5 369.1 L804.5 369.1 L805.5 369.1 L806.5 369.1 L807.5 369.1 L808.5 369.1 L809.5 369.1 L810.5 369.1 L811.5 369.1 L812.5 369.1 L813.5 369.1 L814.5 369.1 L815.5 369.1 L816.5 369.1 L817.5 369.1 L818.5 369.1 L819.5 369.1 L820.5 369.1 L821.5 369.1 L822.5 369.1 L823.5 369.1 L824.5 369.1 L825.5 369 L826.5 369 L827.5 369 L828.5 369 L829.5 369 L830.5 369 L831.5 369 L832.5 369 L833.5 369 L834.5 369 L835.5 369 L836.5 369 L837.5 369 L838.5 369 L839.5 369 L840.5 369 L841.5 369 L842.5 369 L843.5 369 L844.5 369 L845.5 369 L846.5 369 L847.5 369 L848.5 369 L849.5 369 L850.5 369 L851.5 369 L852.5 369 L853.5 369 L854.5 369 L855.5 369 L856.5 369 L857.5 369 L858.5 369 L859.5 369 L860.5 369 L861.5 369 L862.5 369 L863.5 369 L864.5 369 L865.5 369 L866.5 369 L867.5 369 L868.5 369 L869.5 368.9 L870.5 368.9 L871.5 368.9 L872.5 368.9 L873.5 368.9 L874.5 368.9 L875.5 368.9 L876.5 368.9 L877.5 368.9 L878.5 368.9 L879.5 368.9 L880.5 368.9 L881.5 368.9 L882.5 368.9 L883.5 368.9 L884.5 368.9 L885.5 368.9 L886.5 368.9 L887.5 368.9 L888.5 368.9 L889.5 368.9 L890.5 368.9 L891.5 368.9 L892.5 368.9 L893.5 368.9 L894.5 368.9 L895.5 368.9 L896.5 368.9 L897.5 368.9 L898.5 368.9 L899.5 368.9 L900.5 368.9 L901.5 368.9 L902.5 368.9 L903.5 368.9 L904.5 368.9 L905.5 368.9 L906.5 368.9 L907.5 368.9 L908.5 368.9 L909.5 368.9 L910.5 368.9 L911.5 368.9 L912.5 368.9 L913.5 368.8 L914.5 368.8 L915.5 368.8 L916.5 368.8 L917.5 368.8 L918.5 368.8 L919.5 368.8 L920.5 368.8 L921.5 368.8 L922.5 368.8 L923.5 368.8 L924.5 368.8 L925.5 368.8 L926.5 368.8 L927.5 368.8 L928.5 368.8 L929.5 368.8 L930.5 368.8 L931.5 368.8 L932.5 368.8 L933.5 368.8 L934.5 368.8 L935.5 368.8 L936.5 368.8 L937.5 368.8 L938.5 368.8 L939.5 368.8 L940.5 368.8 L941.5 368.8 L942.5 368.8 L943.5 368.8 L944.5 368.8 L945.5 368.8 L946.5 368.8 L947.5 368.8 L948.5 368.8 L949.5 368.8 L950.5 368.8 L951.5 368.8 L952.5 368.8 L953.5 368.8 L954.5 368.8 L955.5 368.7 L956.5 368.7 L957.5 368.7 L958.5 368.7 L959.5 368.7 L960.5 368.7 L961.5 368.7 L962.5 368.7 L963.5 368.7 L964.5 368.7 L965.5 368.7 L966.5 368.7 L967.5 368.7 L968.5 368.7 L969.5 368.7 L970.5 368.7 L971.5 368.7 L972.5 368.7 L973.5 368.7 L974.5 368.7 L975.5 368.7 L976.5 368.7 L977.5 368.7 L978.5 368.7 L979.5 368.7 L980.5 368.7 L981.5 368.7 L982.5 368.7 L983.5 368.7 L984.5 368.7 L985.5 368.7 L986.5 368.7 L987.5 368.7 L988.5 368.7 L989.5 368.7 L990.5 368.7 L991.5 368.7 L992.5 368.7 L993.5 368.7 L994.5 368.7 L995.5 368.7 L996.5 368.6 L997.5 368.6 L998.5 368.6 L999.5 368.6 L1000.5 368.6 L1001.5 368.6 L1002.5 368.6 L1003.5 368.6 L1004.5 368.6 L1005.5 368.6 L1006.5 368.6 L1007.5 368.6 L1008.5 368.6 L1009.5 368.6 L1010.5 368.6 L1011.5 368.6 L1012.5 368.6 L1013.5 368.6 L1014.5 368.6 L1015.5 368.6 L1016.5 368.6 L1017.5 368.6 L1018.5 368.6 L1019.5 368.6 L1020.5 368.6 L1021.5 368.6 L1022.5 368.6 L1023.5 368.6 L1024.5 368.6 L1025.5 368.6 L1026.5 368.6 L1027.5 368.6 L1028.5 368.6 L1029.5 368.6 L1030.5 368.6 L1031.5 368.5 L1032.5 368.5 L1033.5 368.5 L1034.5 368.5 L1035.5 368.5 L1036.5 368.5 L1037.5 368.5 L1038.5 368.5 L1039.5 368.5 L1040.5 368.5 L1041.5 368.5 L1042.5 368.5 L1043.5 368.5 L1044.5 368.5 L1045.5 368.5 L1046.5 368.5 L1047.5 368.5 L1048.5 368.5 L1049.5 368.5 L1050.5 368.5 L1051.5 368.4 L1052.5 368.4 L1053.5 368.4 L1054.5 368.4 L1055.5 368.4 L1056.5 368.4 L1057.5 368.4 L1058.5 368.4 L1059.5 368.4 L1060.5 368.4 L1061.5 368.4 L1062.5 368.3 L1063.5 368.3 L1064.5 368.3 L1065.5 368.3 L1066.5 368.3 L1067.5 368.3 L1068.5 368.3 L1069.5 368.2 L1070.5 368.2 L1071.5 368.2 L1072.5 368.2 L1073.5 368.2 L1074.5 368.1 L1075.5 368.1 L1076.5 368.1 L1077.5 368.1 L1078.5 368.1 L1079.5 368 L1080.5 368 L1081.5 368 L1082.5 367.9 L1083.5 367.9 L1084.5 367.9 L1085.5 367.9 L1086.5 367.8 L1087.5 367.8 L1088.5 367.8 L1089.5 367.7 L1090.5 367.7 L1091.5 367.7 L1092.5 367.6 L1093.5 367.6 L1094.5 367.5 L1095.5 367.5 L1096.5 367.5 L1097.5 367.4 L1098.5 367.4 L1099.5 367.3 L1100.5 367.3 L1101.5 367.3 L1102.5 367.2 L1103.5 367.2 L1104.5 367.1 L1105.5 367.1 L1106.5 367.1 L1107.5 367 L1108.5 367 L1109.5 366.9 L1110.5 366.9 L1111.5 366.9 L1112.5 366.8 L1113.5 366.8 L1114.5 366.7 L1115.5 366.7 L1116.5 366.7 L1117.5 366.6 L1118.5 366.6 L1119.5 366.6 L1120.5 366.6 L1121.5 366.5 L1122.5 366.5 L1123.5 366.5 L1124.5 366.5 L1125.5 366.4 L1126.5 366.4 L1127.5 366.4 L1128.5 366.4 L1129.5 366.4 L1130.5 366.4 L1131.5 366.4 L1132.5 366.4 L1133.5 366.4 L1134.5 366.4 L1135.5 366.4 L1136.5 366.4 L1137.5 366.4 L1138.5 366.4 L1139.5 366.4 L1140.5 366.4 L1141.5 366.5 L1142.5 366.5 L1143.5 366.5 L1144.5 366.5 L1145.5 366.6 L1146.5 366.6 L1147.5 366.6 L1148.5 366.6 L1149.5 366.7 L1150.5 366.7 L1151.5 366.7 L1152.5 366.8 L1153.5 366.8 L1154.5 366.8 L1155.5 366.9 L1156.5 366.9 L1157.5 366.9 L1158.5 367 L1159.5 367 L1160.5 367.1 L1161.5 367.1 L1162.5 367.1 L1163.5 367.2 L1164.5 367.2 L1165.5 367.2 L1166.5 367.3 L1167.5 367.3 L1168.5 367.3 L1169.5 367.4 L1170.5 367.4 L1171.5 367.4 L1172.5 367.5 L1173.5 367.5 L1174.5 367.5 L1175.5 367.6 L1176.5 367.6 L1177.5 367.6 L1178.5 367.7 L1179.5 367.7 L1180.5 367.7 L1181.5 367.7 L1182.5 367.8 L1183.5 367.8 L1184.5 367.8 L1185.5 367.8 L1186.5 367.8 L1187.5 367.9 L1188.5 367.9 L1189.5 367.9 L1190.5 367.9 L1191.5 367.9 L1192.5 367.9 L1193.5 367.9 L1194.5 368 L1195.5 368 L1196.5 368 L1197.5 368 L1198.5 368 L1199.5 368 L1200.5 368 L1201.5 368 L1202.5 368 L1203.5 368 L1204.5 368.1 L1205.5 368.1 L1206.5 368.1 L1207.5 368.1 L1208.5 368.1 L1209.5 368.1 L1210.5 368.1 L1211.5 368.1 L1212.5 368.1 L1213.5 368.1 L1214.5 368.1 L1215.5 368.1 L1216.5 368.1 L1217.5 368.1 L1218.5 368.1 L1219.5 368.1 L1220.5 368.1 L1221.5 368.1 L1222.5 368.1 L1223.5 368.1 L1224.5 368.1 L1225.5 368.1 L1226.5 368.1 L1227.5 368.1 L1228.5 368.1 L1229.5 368.1 L1230.5 368.1 L1231.5 368.1 L1232.5 368.1 L1233.5 368.1 L1234.5 368.1 L1235.5 368.1 L1236.5 368.1 L1237.5 368.1 L1238.5 368.1 L1239.5 368.1 L1240.5 368.1 L1241.5 368.1 L1242.5 368.1 L1243.5 368.1 L1244.5 368.1 L1245.5 368.1 L1246.5 368.1 L1247.5 368.1 L1248.5 368.1 L1249.5 368.1 L1250.5 368.1 L1251.5 368.1 L1252.5 368.1 L1253.5 368.1 L1254.5 368.1 L1255.5 368.1 L1256.5 368.1 L1257.5 368.1 L1258.5 368.1 L1259.5 368.1 L1260.5 368.1 L1261.5 368.1 L1262.5 368.1 L1263.5 368.1 L1264.5 368.1 L1265.5 368 L1266.5 368 L1267.5 368 L1268.5 368 L1269.5 368 L1270.5 368 L1271.5 368 L1272.5 368 L1273.5 368 L1274.5 368 L1275.5 368 L1276.5 368 L1277.5 368 L1278.5 368 L1279.5 368 L1280.5 368 L1281.5 368 L1282.5 368 L1283.5 368 L1284.5 368 L1285.5 368 L1286.5 368 L1287.5 368 L1288.5 368 L1289.5 368 L1290.5 368 L1291.5 368 L1292.5 368 L1293.5 368 L1294.5 368 L1295.5 368 L1296.5 368 L1297.5 368 L1298.5 368 L1299.5 368" fill="none" stroke="#008000" stroke-width="1.2" stroke-linejoin="round" />
<path d="M759.5 369.2 L760.5 369.2 L761.5 369.2 L762.5 369.2 L763.5 369.2 L764.5 369.2 L765.5 369.2 L766.5 369.1 L767.5 369.1 L768.5 369.1 L769.5 369.1 L770.5 369.1 L771.5 369.1 L772.5 369.1 L773.5 369.1 L774.5 369.1 L775.5 369.1 L776.5 369.1 L777.5 369.1 L778.5 369.1 L779.5 369.1 L780.5 369.1 L781.5 369.1 L782.5 369.1 L783.5 369.1 L784.5 369.1 L785.5 369.1 L786.5 369.1 L787.5 369.1 L788.5 369.1 L789.5 369.1 L790.5 369.1 L791.5 369.1 L792.5 369.1 L793.5 369.1 L794.5 369.1 L795.5 369.1 L796.5 369.1 L797.5 369.1 L798.5 369.1 L799.5 369.1 L800.5 369.1 L801.5 369.1 L802.5 369.1 L803.5 369.1 L804.5 369 L805.5 369 L806.5 369 L807.5 369 L808.5 369 L809.5 369 L810.5 369 L811.5 369 L812.5 369 L813.5 369 L814.5 369 L815.5 369 L816.5 369 L817.5 369 L818.5 369 L819.5 369 L820.5 369 L821.5 369 L822.5 369 L823.5 369 L824.5 369 L825.5 369 L826.5 369 L827.5 369 L828.5 369 L829.5 369 L830.5 369 L831.5 369 L832.5 369 L833.5 369 L834.5 369 L835.5 369 L836.5 369 L837.5 369 L838.5 369 L839.5 368.9 L840.5 368.9 L841.5 368.9 L842.5 368.9 L843.5 368.9 L844.5 368.9 L845.5 368.9 L846.5 368.9 L847.5 368.9 L848.5 368.9 L849.5 368.9 L850.5 368.9 L851.5 368.9 L852.5 368.9 L853.5 368.9 L854.5 368.9 L855.5 368.9 L856.5 368.9 L857.5 368.9 L858.5 368.9 L859.5 368.9 L860.5 368.9 L861.5 368.9 L862.5 368.9 L863.5 368.9 L864.5 368.9 L865.5 368.9 L866.5 368.9 L867.5 368.9 L868.5 368.9 L869.5 368.9 L870.5 368.8 L871.5 368.8 L872.5 368.8 L873.5 368.8 L874.5 368.8 L875.5 368.8 L876.5 368.8 L877.5 368.8 L878.5 368.8 L879.5 368.8 L880.5 368.8 L881.5 368.8 L882.5 368.8 L883.5 368.8 L884.5 368.8 L885.5 368.8 L886.5 368.8 L887.5 368.8 L888.5 368.8 L889.5 368.8 L890.5 368.8 L891.5 368.8 L892.5 368.8 L893.5 368.8 L894.5 368.7 L895.5 368.7 L896.5 368.7 L897.5 368.7 L898.5 368.7 L899.5 368.7 L900.5 368.7 L901.5 368.7 L902.5 368.7 L903.5 368.7 L904.5 368.7 L905.5 368.7 L906.5 368.7 L907.5 368.7 L908.5 368.7 L909.5 368.6 L910.5 368.6 L911.5 368.6 L912.5 368.6 L913.5 368.6 L914.5 368.6 L915.5 368.6 L916.5 368.6 L917.5 368.6 L918.5 368.5 L919.5 368.5 L920.5 368.5 L921.5 368.5 L922.5 368.5 L923.5 368.5 L924.5 368.5 L925.5 368.4 L926.5 368.4 L927.5 368.4 L928.5 368.4 L929.5 368.3 L930.5 368.3 L931.5 368.3 L932.5 368.3 L933.5 368.2 L934.5 368.2 L935.5 368.2 L936.5 368.1 L937.5 368.1 L938.5 368 L939.5 368 L940.5 368 L941.5 367.9 L942.5 367.9 L943.5 367.8 L944.5 367.8 L945.5 367.7 L946.5 367.6 L947.5 367.6 L948.5 367.5 L949.5 367.4 L950.5 367.4 L951.5 367.3 L952.5 367.2 L953.5 367.1 L954.5 367 L955.5 366.9 L956.5 366.8 L957.5 366.7 L958.5 366.6 L959.5 366.5 L960.5 366.4 L961.5 366.3 L962.5 366.2 L963.5 366.1 L964.5 365.9 L965.5 365.8 L966.5 365.7 L967.5 365.5 L968.5 365.4 L969.5 365.3 L970.5 365.1 L971.5 365 L972.5 364.8 L973.5 364.7 L974.5 364.5 L975.5 364.3 L976.5 364.2 L977.5 364 L978.5 363.9 L979.5 363.7 L980.5 363.5 L981.5 363.4 L982.5 363.2 L983.5 363 L984.5 362.9 L985.5 362.7 L986.5 362.5 L987.5 362.4 L988.5 362.2 L989.5 362 L990.5 361.9 L991.5 361.7 L992.5 361.6 L993.5 361.4 L994.5 361.3 L995.5 361.2 L996.5 361 L997.5 360.9 L998.5 360.8 L999.5 360.7 L1000.5 360.6 L1001.5 360.5 L1002.5 360.4 L1003.5 360.3 L1004.5 360.3 L1005.5 360.2 L1006.5 360.2 L1007.5 360.1 L1008.5 360.1 L1009.5 360.1 L1010.5 360 L1011.5 360 L1012.5 360 L1013.5 360.1 L1014.5 360.1 L1015.5 360.1 L1016.5 360.2 L1017.5 360.2 L1018.5 360.3 L1019.5 360.4 L1020.5 360.5 L1021.5 360.5 L1022.5 360.6 L1023.5 360.7 L1024.5 360.9 L1025.5 361 L1026.5 361.1 L1027.5 361.2 L1028.5 361.4 L1029.5 361.5 L1030.5 361.7 L1031.5 361.8 L1032.5 362 L1033.5 362.1 L1034.5 362.3 L1035.5 362.4 L1036.5 362.6 L1037.5 362.7 L1038.5 362.9 L1039.5 363.1 L1040.5 363.2 L1041.5 363.4 L1042.5 363.6 L1043.5 363.7 L1044.5 363.9 L1045.5 364 L1046.5 364.2 L1047.5 364.3 L1048.5 364.5 L1049.5 364.6 L1050.5 364.8 L1051.5 364.9 L1052.5 365.1 L1053.5 365.2 L1054.5 365.3 L1055.5 365.5 L1056.5 365.6 L1057.5 365.7 L1058.5 365.8 L1059.5 366 L1060.5 366.1 L1061.5 366.2 L1062.5 366.3 L1063.5 366.4 L1064.5 366.5 L1065.5 366.6 L1066.5 366.7 L1067.5 366.8 L1068.5 366.9 L1069.5 366.9 L1070.5 367 L1071.5 367.1 L1072.5 367.2 L1073.5 367.2 L1074.5 367.3 L1075.5 367.3 L1076.5 367.4 L1077.5 367.5 L1078.5 367.5 L1079.5 367.6 L1080.5 367.6 L1081.5 367.6 L1082.5 367.7 L1083.5 367.7 L1084.5 367.8 L1085.5 367.8 L1086.5 367.8 L1087.5 367.9 L1088.5 367.9 L1089.5 367.9 L1090.5 367.9 L1091.5 368 L1092.5 368 L1093.5 368 L1094.5 368 L1095.5 368 L1096.5 368.1 L1097.5 368.1 L1098.5 368.1 L1099.5 368.1 L1100.5 368.1 L1101.5 368.1 L1102.5 368.1 L1103.5 368.1 L1104.5 368.1 L1105.5 368.2 L1106.5 368.2 L1107.5 368.2 L1108.5 368.2 L1109.5 368.2 L1110.5 368.2 L1111.5 368.2 L1112.5 368.2 L1113.5 368.2 L1114.5 368.2 L1115.5 368.2 L1116.5 368.2 L1117.5 368.2 L1118.5 368.2 L1119.5 368.2 L1120.5 368.2 L1121.5 368.2 L1122.5 368.2 L1123.5 368.2 L1124.5 368.2 L1125.5 368.2 L1126.5 368.2 L1127.5 368.2 L1128.5 368.2 L1129.5 368.2 L1130.5 368.2 L1131.5 368.2 L1132.5 368.2 L1133.5 368.2 L1134.5 368.2 L1135.5 368.2 L1136.5 368.2 L1137.5 368.2 L1138.5 368.2 L1139.5 368.2 L1140.5 368.2 L1141.5 368.2 L1142.5 368.2 L1143.5 368.2 L1144.5 368.2 L1145.5 368.2 L1146.5 368.2 L1147.5 368.2 L1148.5 368.2 L1149.5 368.2 L1150.5 368.2 L1151.5 368.2 L1152.5 368.2 L1153.5 368.2 L1154.5 368.2 L1155.5 368.2 L1156.5 368.2 L1157.5 368.2 L1158.5 368.2 L1159.5 368.2 L1160.5 368.2 L1161.5 368.2 L1162.5 368.2 L1163.5 368.2 L1164.5 368.2 L1165.5 368.2 L1166.5 368.2 L1167.5 368.2 L1168.5 368.2 L1169.5 368.2 L1170.5 368.2 L1171.5 368.2 L1172.5 368.2 L1173.5 368.2 L1174.5 368.2 L1175.5 368.2 L1176.5 368.2 L1177.5 368.2 L1178.5 368.2 L1179.5 368.2 L1180.5 368.2 L1181.5 368.2 L1182.5 368.2 L1183.5 368.2 L1184.5 368.2 L1185.5 368.2 L1186.5 368.2 L1187.5 368.2 L1188.5 368.2 L1189.5 368.2 L1190.5 368.2 L1191.5 368.2 L1192.5 368.2 L1193.5 368.2 L1194.5 368.2 L1195.5 368.2 L1196.5 368.2 L1197.5 368.2 L1198.5 368.2 L1199.5 368.2 L1200.5 368.2 L1201.5 368.2 L1202.5 368.2 L1203.5 368.2 L1204.5 368.2 L1205.5 368.2 L1206.5 368.2 L1207.5 368.1 L1208.5 368.1 L1209.5 368.1 L1210.5 368.1 L1211.5 368.1 L1212.5 368.1 L1213.5 368.1 L1214.5 368.1 L1215.5 368.1 L1216.5 368.1 L1217.5 368.1 L1218.5 368.1 L1219.5 368.1 L1220.5 368.1 L1221.5 368.1 L1222.5 368.1 L1223.5 368.1 L1224.5 368.1 L1225.5 368.1 L1226.5 368.1 L1227.5 368.1 L1228.5 368.1 L1229.5 368.1 L1230.5 368.1 L1231.5 368.1 L1232.5 368.1 L1233.5 368.1 L1234.5 368.1 L1235.5 368.1 L1236.5 368.1 L1237.5 368.1 L1238.5 368.1 L1239.5 368.1 L1240.5 368.1 L1241.5 368.1 L1242.5 368.1 L1243.5 368.1 L1244.5 368.1 L1245.5 368.1 L1246.5 368.1 L1247.5 368.1 L1248.5 368.1 L1249.5 368.1 L1250.5 368.1 L1251.5 368.1 L1252.5 368.1 L1253.5 368.1 L1254.5 368.1 L1255.5 368.1 L1256.5 368.1 L1257.5 368.1 L1258.5 368.1 L1259.5 368.1 L1260.5 368.1 L1261.5 368 L1262.5 368 L1263.5 368 L1264.5 368 L1265.5 368 L1266.5 368 L1267.5 368 L1268.5 368 L1269.5 368 L1270.5 368 L1271.5 368 L1272.5 368 L1273.5 368 L1274.5 368 L1275.5 368 L1276.5 368 L1277.5 368 L1278.5 368 L1279.5 368 L1280.5 368 L1281.5 368 L1282.5 368 L1283.5 368 L1284.5 368 L1285.5 368 L1286.5 368 L1287.5 368 L1288.5 368 L1289.5 368 L1290.5 368 L1291.5 368 L1292.5 368 L1293.5 368 L1294.5 368 L1295.5 368 L1296.5 368 L1297.5 368 L1298.5 368 L1299.5 368" fill="none" stroke="#22228a" stroke-width="1.2" stroke-linejoin="round" />
<path d="M759.5 368.3 L760.5 368.3 L761.5 368.3 L762.5 368.3 L763.5 368.2 L764.5 368.2 L765.5 368.2 L766.5 368.2 L767.5 368.2 L768.5 368.2 L769.5 368.2 L770.5 368.2 L771.5 368.2 L772.5 368.2 L773.5 368.2 L774.5 368.2 L775.5 368.2 L776.5 368.1 L777.5 368.1 L778.5 368.1 L779.5 368.1 L780.5 368.1 L781.5 368.1 L782.5 368.1 L783.5 368.1 L784.5 368.1 L785.5 368.1 L786.5 368.1 L787.5 368.1 L788.5 368 L789.5 368 L790.5 368 L791.5 368 L792.5 368 L793.5 368 L794.5 368 L795.5 368 L796.5 368 L797.5 368 L798.5 367.9 L799.5 367.9 L800.5 367.9 L801.5 367.9 L802.5 367.9 L803.5 367.9 L804.5 367.9 L805.5 367.9 L806.5 367.8 L807.5 367.8 L808.5 367.8 L809.5 367.8 L810.5 367.8 L811.5 367.8 L812.5 367.8 L813.5 367.8 L814.5 367.7 L815.5 367.7 L816.5 367.7 L817.5 367.7 L818.5 367.7 L819.5 367.7 L820.5 367.6 L821.5 367.6 L822.5 367.6 L823.5 367.6 L824.5 367.6 L825.5 367.6 L826.5 367.5 L827.5 367.5 L828.5 367.5 L829.5 367.5 L830.5 367.5 L831.5 367.4 L832.5 367.4 L833.5 367.4 L834.5 367.4 L835.5 367.3 L836.5 367.3 L837.5 367.3 L838.5 367.3 L839.5 367.2 L840.5 367.2 L841.5 367.2 L842.5 367.1 L843.5 367.1 L844.5 367.1 L845.5 367 L846.5 367 L847.5 366.9 L848.5 366.9 L849.5 366.8 L850.5 366.8 L851.5 366.7 L852.5 366.7 L853.5 366.6 L854.5 366.6 L855.5 366.5 L856.5 366.4 L857.5 366.3 L858.5 366.2 L859.5 366.1 L860.5 366 L861.5 365.9 L862.5 365.8 L863.5 365.7 L864.5 365.6 L865.5 365.4 L866.5 365.3 L867.5 365.1 L868.5 364.9 L869.5 364.7 L870.5 364.5 L871.5 364.3 L872.5 364.1 L873.5 363.9 L874.5 363.6 L875.5 363.3 L876.5 363 L877.5 362.7 L878.5 362.4 L879.5 362 L880.5 361.6 L881.5 361.2 L882.5 360.8 L883.5 360.3 L884.5 359.8 L885.5 359.3 L886.5 358.8 L887.5 358.2 L888.5 357.6 L889.5 357 L890.5 356.3 L891.5 355.6 L892.5 354.8 L893.5 354.1 L894.5 353.3 L895.5 352.4 L896.5 351.6 L897.5 350.6 L898.5 349.7 L899.5 348.7 L900.5 347.7 L901.5 346.6 L902.5 345.5 L903.5 344.4 L904.5 343.3 L905.5 342.1 L906.5 340.8 L907.5 339.6 L908.5 338.3 L909.5 337 L910.5 335.7 L911.5 334.3 L912.5 332.9 L913.5 331.5 L914.5 330.1 L915.5 328.7 L916.5 327.2 L917.5 325.8 L918.5 324.3 L919.5 322.9 L920.5 321.4 L921.5 320 L922.5 318.6 L923.5 317.1 L924.5 315.8" fill="none" stroke="#ff00ff" stroke-width="1.2" stroke-linejoin="round" />
<path d="M759.5 368.7 L760.5 368.7 L761.5 368.7 L762.5 368.7 L763.5 368.7 L764.5 368.7 L765.5 368.7 L766.5 368.7 L767.5 368.7 L768.5 368.7 L769.5 368.6 L770.5 368.6 L771.5 368.6 L772.5 368.6 L773.5 368.6 L774.5 368.6 L775.5 368.6 L776.5 368.6 L777.5 368.6 L778.5 368.6 L779.5 368.5 L780.5 368.6 L781.5 368.6 L782.5 368.5 L783.5 368.5 L784.5 368.5 L785.5 368.5 L786.5 368.5 L787.5 368.5 L788.5 368.5 L789.5 368.5 L790.5 368.5 L791.5 368.5 L792.5 368.5 L793.5 368.4 L794.5 368.4 L795.5 368.5 L796.5 368.4 L797.5 368.4 L798.5 368.4 L799.5 368.4 L800.5 368.4 L801.5 368.3 L802.5 368.3 L803.5 368.3 L804.5 368.2 L805.5 368.2 L806.5 368.2 L807.5 368.3 L808.5 368.3 L809.5 368.3 L810.5 368.3 L811.5 368.3 L812.5 368.2 L813.5 368.2 L814.5 368.1 L815.5 368.1 L816.5 368.1 L817.5 368.1 L818.5 368.1 L819.5 368.1 L820.5 368.1 L821.5 368.1 L822.5 368.1 L823.5 368 L824.5 367.9 L825.5 368 L826.5 367.9 L827.5 367.9 L828.5 367.9 L829.5 367.9 L830.5 367.8 L831.5 367.9 L832.5 367.8 L833.5 367.7 L834.5 367.7 L835.5 367.8 L836.5 367.8 L837.5 367.7 L838.5 367.7 L839.5 367.7 L840.5 367.7 L841.5 367.7 L842.5 367.6 L843.5 367.5 L844.5 367.5 L845.5 367.5 L846.5 367.4 L847.5 367.3 L848.5 367.2 L849.5 367.2 L850.5 367.2 L851.5 367.1 L852.5 367 L853.5 366.9 L854.5 366.9 L855.5 366.9 L856.5 366.9 L857.5 366.8 L858.5 366.7 L859.5 366.6 L860.5 366.5 L861.5 366.4 L862.5 366.1 L863.5 366 L864.5 365.8 L865.5 365.6 L866.5 365.5 L867.5 365.4 L868.5 365.2 L869.5 365.2 L870.5 365.1 L871.5 364.9 L872.5 364.9 L873.5 364.8 L874.5 364.5 L875.5 364 L876.5 363.7 L877.5 363.4 L878.5 363.1 L879.5 362.3 L880.5 362.1 L881.5 361.7 L882.5 361.4 L883.5 360.8 L884.5 360.2 L885.5 359.5 L886.5 359.3 L887.5 358.3 L888.5 357.6 L889.5 357 L890.5 356.5 L891.5 355.7 L892.5 354.7 L893.5 353.5 L894.5 352.6 L895.5 351.4 L896.5 350.3 L897.5 348.8 L898.5 348 L899.5 347.7 L900.5 347.1 L901.5 346.2 L902.5 345.7 L903.5 344.4 L904.5 343.5 L905.5 342 L906.5 340.5 L907.5 338.8 L908.5 337.3 L909.5 335.9 L910.5 334.5 L911.5 333.2 L912.5 331.5 L913.5 329.9 L914.5 328.7 L915.5 327.2 L916.5 325.5 L917.5 324.4 L918.5 323 L919.5 321.8 L920.5 320.5 L921.5 318.9 L922.5 317.4 L923.5 315.8 L924.5 314.3 L925.5 312.7 L926.5 311.4 L927.5 309.8 L928.5 308.3 L929.5 306.8 L930.5 305.9 L931.5 304.3 L932.5 303.3 L933.5 301.9 L934.5 301.1 L935.5 300.2 L936.5 299.4 L937.5 298.4 L938.5 298.1 L939.5 297.4 L940.5 296.9 L941.5 296.6 L942.5 296.3 L943.5 295.8 L944.5 295.7 L945.5 295.2 L946.5 295.7 L947.5 296.3 L948.5 296.3 L949.5 296.8 L950.5 297.6 L951.5 298 L952.5 299.1 L953.5 299.3 L954.5 299.7 L955.5 300.5 L956.5 300.8 L957.5 301.7 L958.5 302.4 L959.5 303.4 L960.5 304.4 L961.5 305.6 L962.5 306.9 L963.5 308.4 L964.5 309.3 L965.5 310.9 L966.5 312 L967.5 313.2 L968.5 314.4 L969.5 315.6 L970.5 317.6 L971.5 319.2 L972.5 320.6 L973.5 322.1 L974.5 324.3 L975.5 326 L976.5 327.4 L977.5 328.5 L978.5 329.8 L979.5 331.2 L980.5 332.4 L981.5 333.1 L982.5 333.8 L983.5 335 L984.5 335.9 L985.5 336.8 L986.5 337.8 L987.5 338.6 L988.5 339.5 L989.5 340.8 L990.5 341.1 L991.5 341.9 L992.5 342.8 L993.5 343.6 L994.5 344.1 L995.5 344.9 L996.5 345.4 L997.5 346.6 L998.5 347 L999.5 348 L1000.5 348.4 L1001.5 349.1 L1002.5 349.4 L1003.5 350 L1004.5 350.8 L1005.5 351.5 L1006.5 351.7 L1007.5 352.1 L1008.5 352.6 L1009.5 352.9 L1010.5 353.3 L1011.5 353.4 L1012.5 353.7 L1013.5 353.9 L1014.5 354.3 L1015.5 354.8 L1016.5 355.3 L1017.5 355.6 L1018.5 355.6 L1019.5 355.6 L1020.5 356.2 L1021.5 356.8 L1022.5 357.3 L1023.5 357.2 L1024.5 357.5 L1025.5 358.2 L1026.5 358.3 L1027.5 358.3 L1028.5 358.4 L1029.5 358.3 L1030.5 358.7 L1031.5 359.3 L1032.5 359.3 L1033.5 359.8 L1034.5 359.9 L1035.5 360.2 L1036.5 360.5 L1037.5 361.1 L1038.5 361.4 L1039.5 361.9 L1040.5 362.1 L1041.5 362.3 L1042.5 362.6 L1043.5 362.6 L1044.5 362.4 L1045.5 362.2 L1046.5 362.3 L1047.5 362.2 L1048.5 362.4 L1049.5 362.5 L1050.5 362.6 L1051.5 363 L1052.5 363.2 L1053.5 363.3 L1054.5 363.6 L1055.5 363.8 L1056.5 363.8 L1057.5 364.2 L1058.5 364.3 L1059.5 364.4 L1060.5 364.5 L1061.5 364.6 L1062.5 364.7 L1063.5 364.8 L1064.5 364.9 L1065.5 365 L1066.5 365.1 L1067.5 365.2 L1068.5 365.3 L1069.5 365.4 L1070.5 365.4 L1071.5 365.4 L1072.5 365.5 L1073.5 365.5 L1074.5 365.6 L1075.5 365.7 L1076.5 365.8 L1077.5 365.9 L1078.5 366 L1079.5 366 L1080.5 366.1 L1081.5 366.1 L1082.5 366.1 L1083.5 366.2 L1084.5 366.1 L1085.5 366.1 L1086.5 366.1 L1087.5 366.1 L1088.5 366.1 L1089.5 366.1 L1090.5 366.1 L1091.5 366.1 L1092.5 366.1 L1093.5 366.1 L1094.5 366.1 L1095.5 366.1 L1096.5 366.1 L1097.5 366 L1098.5 366 L1099.5 366 L1100.5 365.8 L1101.5 365.9 L1102.5 365.8 L1103.5 365.8 L1104.5 365.7 L1105.5 365.7 L1106.5 365.7 L1107.5 365.6 L1108.5 365.6 L1109.5 365.6 L1110.5 365.7 L1111.5 365.7 L1112.5 365.6 L1113.5 365.6 L1114.5 365.6 L1115.5 365.6 L1116.5 365.5 L1117.5 365.4 L1118.5 365.4 L1119.5 365.4 L1120.5 365.4 L1121.5 365.4 L1122.5 365.4 L1123.5 365.5 L1124.5 365.5 L1125.5 365.5 L1126.5 365.4 L1127.5 365.4 L1128.5 365.3 L1129.5 365.3 L1130.5 365.3 L1131.5 365.3 L1132.5 365.2 L1133.5 365.3 L1134.5 365.2 L1135.5 365.2 L1136.5 365.2 L1137.5 365.2 L1138.5 365.3 L1139.5 365.4 L1140.5 365.4 L1141.5 365.5 L1142.5 365.5 L1143.5 365.5 L1144.5 365.4 L1145.5 365.4 L1146.5 365.4 L1147.5 365.5 L1148.5 365.5 L1149.5 365.6 L1150.5 365.7 L1151.5 365.8 L1152.5 365.8 L1153.5 365.8 L1154.5 365.8 L1155.5 365.9 L1156.5 365.9 L1157.5 365.9 L1158.5 366 L1159.5 366.1 L1160.5 366.1 L1161.5 366.1 L1162.5 366.1 L1163.5 366.2 L1164.5 366.3 L1165.5 366.2 L1166.5 366.2 L1167.5 366.3 L1168.5 366.4 L1169.5 366.4 L1170.5 366.4 L1171.5 366.5 L1172.5 366.5 L1173.5 366.6 L1174.5 366.6 L1175.5 366.6 L1176.5 366.7 L1177.5 366.7 L1178.5 366.7 L1179.5 366.8 L1180.5 366.8 L1181.5 366.9 L1182.5 366.9 L1183.5 366.9 L1184.5 366.9 L1185.5 367 L1186.5 367 L1187.5 367 L1188.5 367 L1189.5 367.1 L1190.5 367.1 L1191.5 367.1 L1192.5 367.1 L1193.5 367.2 L1194.5 367.2 L1195.5 367.2 L1196.5 367.2 L1197.5 367.2 L1198.5 367.2 L1199.5 367.3 L1200.5 367.2 L1201.5 367.2 L1202.5 367.2 L1203.5 367.2 L1204.5 367.2 L1205.5 367.3 L1206.5 367.3 L1207.5 367.3 L1208.5 367.3 L1209.5 367.3 L1210.5 367.3 L1211.5 367.4 L1212.5 367.3 L1213.5 367.3 L1214.5 367.3 L1215.5 367.3 L1216.5 367.3 L1217.5 367.3 L1218.5 367.3 L1219.5 367.3 L1220.5 367.3 L1221.5 367.3 L1222.5 367.3 L1223.5 367.4 L1224.5 367.4 L1225.5 367.4 L1226.5 367.4 L1227.5 367.4 L1228.5 367.4 L1229.5 367.4 L1230.5 367.4 L1231.5 367.4 L1232.5 367.4 L1233.5 367.4 L1234.5 367.4 L1235.5 367.4 L1236.5 367.4 L1237.5 367.4 L1238.5 367.4 L1239.5 367.4 L1240.5 367.4 L1241.5 367.4 L1242.5 367.4 L1243.5 367.4 L1244.5 367.4 L1245.5 367.4 L1246.5 367.4 L1247.5 367.4 L1248.5 367.4 L1249.5 367.4 L1250.5 367.4 L1251.5 367.4 L1252.5 367.4 L1253.5 367.4 L1254.5 367.4 L1255.5 367.4 L1256.5 367.4 L1257.5 367.4 L1258.5 367.4 L1259.5 367.4 L1260.5 367.4 L1261.5 367.4 L1262.5 367.4 L1263.5 367.4 L1264.5 367.4 L1265.5 367.4 L1266.5 367.4 L1267.5 367.4 L1268.5 367.4 L1269.5 367.4 L1270.5 367.4 L1271.5 367.4 L1272.5 367.4 L1273.5 367.4 L1274.5 367.4 L1275.5 367.4 L1276.5 367.4 L1277.5 367.4 L1278.5 367.4 L1279.5 367.4 L1280.5 367.4 L1281.5 367.4 L1282.5 367.4 L1283.5 367.4 L1284.5 367.3 L1285.5 367.3 L1286.5 367.3 L1287.5 367.3 L1288.5 367.3 L1289.5 367.3 L1290.5 367.3 L1291.5 367.3 L1292.5 367.3 L1293.5 367.3 L1294.5 367.3 L1295.5 367.3 L1296.5 367.3 L1297.5 367.3 L1298.5 367.3 L1299.5 367.3" fill="none" stroke="#000000" stroke-width="1.2" stroke-linejoin="round" />
<path d="M940.5 299.4 L941.5 299 L942.5 298.6 L943.5 298.4 L944.5 298.3 L945.5 298.2 L946.5 298.2 L947.5 298.4 L948.5 298.6 L949.5 298.9 L950.5 299.3 L951.5 299.8 L952.5 300.3 L953.5 301 L954.5 301.7 L955.5 302.5 L956.5 303.3 L957.5 304.2 L958.5 305.2 L959.5 306.2 L960.5 307.3 L961.5 308.4 L962.5 309.6 L963.5 310.8 L964.5 312 L965.5 313.2 L966.5 314.5 L967.5 315.7 L968.5 317 L969.5 318.3 L970.5 319.6 L971.5 320.9 L972.5 322.2 L973.5 323.5 L974.5 324.8 L975.5 326.1 L976.5 327.3 L977.5 328.6 L978.5 329.8 L979.5 331 L980.5 332.1 L981.5 333.3 L982.5 334.4 L983.5 335.5 L984.5 336.5 L985.5 337.6 L986.5 338.5 L987.5 339.5 L988.5 340.4 L989.5 341.3 L990.5 342.2 L991.5 343 L992.5 343.8 L993.5 344.6 L994.5 345.3 L995.5 346 L996.5 346.7 L997.5 347.3 L998.5 348 L999.5 348.5 L1000.5 349.1 L1001.5 349.6 L1002.5 350.2 L1003.5 350.7 L1004.5 351.1 L1005.5 351.6 L1006.5 352 L1007.5 352.4 L1008.5 352.8 L1009.5 353.2 L1010.5 353.6 L1011.5 353.9 L1012.5 354.3 L1013.5 354.6 L1014.5 354.9 L1015.5 355.2 L1016.5 355.6 L1017.5 355.9 L1018.5 356.1 L1019.5 356.4 L1020.5 356.7 L1021.5 357 L1022.5 357.3 L1023.5 357.5 L1024.5 357.8 L1025.5 358 L1026.5 358.3 L1027.5 358.5 L1028.5 358.8 L1029.5 359 L1030.5 359.3 L1031.5 359.5 L1032.5 359.7 L1033.5 360 L1034.5 360.2 L1035.5 360.4 L1036.5 360.7 L1037.5 360.9 L1038.5 361.1 L1039.5 361.3 L1040.5 361.5 L1041.5 361.7 L1042.5 361.9 L1043.5 362.1 L1044.5 362.3 L1045.5 362.5 L1046.5 362.7 L1047.5 362.9 L1048.5 363.1 L1049.5 363.2 L1050.5 363.4 L1051.5 363.6 L1052.5 363.7 L1053.5 363.9 L1054.5 364 L1055.5 364.2 L1056.5 364.3 L1057.5 364.5 L1058.5 364.6 L1059.5 364.7 L1060.5 364.9 L1061.5 365 L1062.5 365.1 L1063.5 365.2 L1064.5 365.3 L1065.5 365.4 L1066.5 365.5 L1067.5 365.6 L1068.5 365.7 L1069.5 365.7 L1070.5 365.8 L1071.5 365.9 L1072.5 366 L1073.5 366 L1074.5 366.1 L1075.5 366.1 L1076.5 366.2 L1077.5 366.2 L1078.5 366.3 L1079.5 366.3 L1080.5 366.3 L1081.5 366.4 L1082.5 366.4 L1083.5 366.4 L1084.5 366.4 L1085.5 366.5 L1086.5 366.5 L1087.5 366.5 L1088.5 366.5 L1089.5 366.5 L1090.5 366.5 L1091.5 366.5 L1092.5 366.5 L1093.5 366.5 L1094.5 366.5 L1095.5 366.5 L1096.5 366.4 L1097.5 366.4 L1098.5 366.4 L1099.5 366.4 L1100.5 366.4 L1101.5 366.4 L1102.5 366.3 L1103.5 366.3 L1104.5 366.3 L1105.5 366.3 L1106.5 366.2 L1107.5 366.2 L1108.5 366.2 L1109.5 366.2 L1110.5 366.1 L1111.5 366.1 L1112.5 366.1 L1113.5 366.1 L1114.5 366 L1115.5 366 L1116.5 366 L1117.5 366 L1118.5 365.9 L1119.5 365.9 L1120.5 365.9 L1121.5 365.9 L1122.5 365.9 L1123.5 365.9 L1124.5 365.8 L1125.5 365.8 L1126.5 365.8 L1127.5 365.8 L1128.5 365.8 L1129.5 365.8 L1130.5 365.8 L1131.5 365.8 L1132.5 365.8 L1133.5 365.8 L1134.5 365.8 L1135.5 365.8 L1136.5 365.9 L1137.5 365.9 L1138.5 365.9 L1139.5 365.9 L1140.5 365.9 L1141.5 366 L1142.5 366 L1143.5 366 L1144.5 366 L1145.5 366.1 L1146.5 366.1 L1147.5 366.1 L1148.5 366.2 L1149.5 366.2 L1150.5 366.2 L1151.5 366.3 L1152.5 366.3 L1153.5 366.4 L1154.5 366.4 L1155.5 366.4 L1156.5 366.5 L1157.5 366.5 L1158.5 366.6 L1159.5 366.6 L1160.5 366.6 L1161.5 366.7 L1162.5 366.7 L1163.5 366.8 L1164.5 366.8 L1165.5 366.8 L1166.5 366.9 L1167.5 366.9 L1168.5 367 L1169.5 367 L1170.5 367 L1171.5 367.1 L1172.5 367.1 L1173.5 367.1 L1174.5 367.2 L1175.5 367.2 L1176.5 367.2 L1177.5 367.3 L1178.5 367.3 L1179.5 367.3 L1180.5 367.4 L1181.5 367.4 L1182.5 367.4 L1183.5 367.4 L1184.5 367.5 L1185.5 367.5 L1186.5 367.5 L1187.5 367.5 L1188.5 367.6 L1189.5 367.6 L1190.5 367.6 L1191.5 367.6 L1192.5 367.6 L1193.5 367.6 L1194.5 367.7 L1195.5 367.7 L1196.5 367.7 L1197.5 367.7 L1198.5 367.7 L1199.5 367.7 L1200.5 367.7 L1201.5 367.7 L1202.5 367.8 L1203.5 367.8 L1204.5 367.8 L1205.5 367.8 L1206.5 367.8 L1207.5 367.8 L1208.5 367.8 L1209.5 367.8 L1210.5 367.8 L1211.5 367.8 L1212.5 367.8 L1213.5 367.8 L1214.5 367.8 L1215.5 367.8 L1216.5 367.8 L1217.5 367.8 L1218.5 367.9 L1219.5 367.9 L1220.5 367.9 L1221.5 367.9 L1222.5 367.9 L1223.5 367.9 L1224.5 367.9 L1225.5 367.9 L1226.5 367.9 L1227.5 367.9 L1228.5 367.9 L1229.5 367.9 L1230.5 367.9 L1231.5 367.9 L1232.5 367.9 L1233.5 367.9 L1234.5 367.9 L1235.5 367.9 L1236.5 367.9 L1237.5 367.9 L1238.5 367.9 L1239.5 367.9 L1240.5 367.9 L1241.5 367.9 L1242.5 367.9 L1243.5 367.9 L1244.5 367.9 L1245.5 367.9 L1246.5 367.9 L1247.5 367.9 L1248.5 367.9 L1249.5 367.9 L1250.5 367.9 L1251.5 367.9 L1252.5 367.9 L1253.5 367.9 L1254.5 367.9 L1255.5 367.9 L1256.5 367.9 L1257.5 367.9 L1258.5 367.9 L1259.5 367.9 L1260.5 367.9 L1261.5 367.9 L1262.5 367.9 L1263.5 367.9 L1264.5 367.9 L1265.5 367.9 L1266.5 367.9 L1267.5 367.9 L1268.5 367.9 L1269.5 367.9 L1270.5 367.9 L1271.5 367.9 L1272.5 367.9 L1273.5 367.9 L1274.5 367.9 L1275.5 367.9 L1276.5 367.9 L1277.5 367.9 L1278.5 367.9 L1279.5 367.9 L1280.5 367.9 L1281.5 367.9 L1282.5 367.9 L1283.5 367.9 L1284.5 367.9 L1285.5 367.9 L1286.5 367.9 L1287.5 367.9 L1288.5 367.8 L1289.5 367.8 L1290.5 367.8 L1291.5 367.8 L1292.5 367.8 L1293.5 367.8 L1294.5 367.8 L1295.5 367.8 L1296.5 367.8 L1297.5 367.8 L1298.5 367.8 L1299.5 367.8" fill="none" stroke="#ff0000" stroke-width="1.2" stroke-linejoin="round" />
<rect x="758.8" y="8.2" width="542" height="402.4" fill="none" stroke="#000" stroke-width="1.7"/>
<line x1="758.8" y1="410.6" x2="758.8" y2="418.6" stroke="#000" stroke-width="1.6"/>
<line x1="939.5" y1="410.6" x2="939.5" y2="418.6" stroke="#000" stroke-width="1.6"/>
<line x1="1120.1" y1="410.6" x2="1120.1" y2="418.6" stroke="#000" stroke-width="1.6"/>
<line x1="849.1" y1="410.6" x2="849.1" y2="414.8" stroke="#000" stroke-width="1.6"/>
<line x1="1029.8" y1="410.6" x2="1029.8" y2="414.8" stroke="#000" stroke-width="1.6"/>
<line x1="1210.5" y1="410.6" x2="1210.5" y2="414.8" stroke="#000" stroke-width="1.6"/>
<text x="758.8" y="440.2" font-size="22" font-weight="bold" text-anchor="middle" >280</text>
<text x="939.5" y="440.2" font-size="22" font-weight="bold" text-anchor="middle" >284</text>
<text x="1120.1" y="440.2" font-size="22" font-weight="bold" text-anchor="middle" >288</text>
<line x1="1300.8" y1="410.6" x2="1300.8" y2="418.6" stroke="#000" stroke-width="1.6"/>
<text x="1284.6" y="440.2" font-size="22" font-weight="bold" text-anchor="start" >29</text>
<text x="765.5" y="47" font-size="42" font-weight="normal" text-anchor="start" >b</text>
<text x="1292.5" y="36" font-size="25.5" font-weight="bold" text-anchor="end" >C 1s</text>
<text x="967.8" y="31.3" font-size="17.5" font-weight="normal" text-anchor="start" >C-H</text>
<text x="1023" y="60.3" font-size="17.5" font-weight="normal" text-anchor="start" >C-O</text>
<text x="1107" y="55.3" font-size="17.5" font-weight="normal" text-anchor="start" >C=O</text>
<line x1="977.5" y1="35.5" x2="971.4" y2="41.8" stroke="#000" stroke-width="1"/>
<polygon points="964.5,49 969.1,39.6 973.7,44" fill="#000"/>
<line x1="1025.5" y1="64.5" x2="1020.5" y2="71" stroke="#000" stroke-width="1"/>
<polygon points="1014.5,79 1018,69.1 1023.1,73" fill="#000"/>
<line x1="1122.4" y1="60.3" x2="1118.5" y2="67.9" stroke="#000" stroke-width="1"/>
<polygon points="1114,76.8 1115.7,66.4 1121.4,69.3" fill="#000"/>
<text x="1296.1" y="80" font-size="20.8" font-weight="normal" text-anchor="end" >PSMPs-HA-Pb<tspan font-size="13.4" dy="-10.3">2+</tspan></text>
<text x="1295.8" y="182.2" font-size="20.8" font-weight="normal" text-anchor="end" >PSMPs-HA</text>
<text x="1296.1" y="268.5" font-size="20.8" font-weight="normal" text-anchor="end" >PSMPs-Pb<tspan font-size="13.4" dy="-10.3">2+</tspan></text>
<text x="1295.8" y="361.1" font-size="20.8" font-weight="normal" text-anchor="end" >PSMPs</text>
<text x="1029.8" y="485.7" font-size="29.3" font-weight="bold" text-anchor="middle" >Binding Energy (eV)</text>
<text x="0" y="0" font-size="29" font-weight="bold" text-anchor="middle" transform="translate(716.1 228.5) rotate(-90)">Intensity (a.u.)</text>
<path d="M1447.5 212.8 L1448.5 212.8 L1449.5 212.8 L1450.5 212.8 L1451.5 212.8 L1452.5 212.8 L1453.5 212.8 L1454.5 212.8 L1455.5 212.8 L1456.5 212.8 L1457.5 212.8 L1458.5 212.8 L1459.5 212.8 L1460.5 212.8 L1461.5 212.8 L1462.5 212.8 L1463.5 212.8 L1464.5 212.8 L1465.5 212.8 L1466.5 212.8 L1467.5 212.8 L1468.5 212.8 L1469.5 212.8 L1470.5 212.8 L1471.5 212.8 L1472.5 212.8 L1473.5 212.8 L1474.5 212.8 L1475.5 212.8 L1476.5 212.8 L1477.5 212.8 L1478.5 212.8 L1479.5 212.8 L1480.5 212.8 L1481.5 212.8 L1482.5 212.8 L1483.5 212.8 L1484.5 212.8 L1485.5 212.8 L1486.5 212.8 L1487.5 212.8 L1488.5 212.8 L1489.5 212.8 L1490.5 212.8 L1491.5 212.8 L1492.5 212.8 L1493.5 212.8 L1494.5 212.8 L1495.5 212.8 L1496.5 212.8 L1497.5 212.8 L1498.5 212.8 L1499.5 212.8 L1500.5 212.8 L1501.5 212.8 L1502.5 212.8 L1503.5 212.8 L1504.5 212.8 L1505.5 212.8 L1506.5 212.8 L1507.5 212.8 L1508.5 212.8 L1509.5 212.8 L1510.5 212.8 L1511.5 212.8 L1512.5 212.8 L1513.5 212.8 L1514.5 212.8 L1515.5 212.8 L1516.5 212.8 L1517.5 212.8 L1518.5 212.8 L1519.5 212.8 L1520.5 212.8 L1521.5 212.8 L1522.5 212.8 L1523.5 212.8 L1524.5 212.8 L1525.5 212.8 L1526.5 212.8 L1527.5 212.8 L1528.5 212.8 L1529.5 212.8 L1530.5 212.8 L1531.5 212.8 L1532.5 212.8 L1533.5 212.8 L1534.5 212.8 L1535.5 212.8 L1536.5 212.8 L1537.5 212.8 L1538.5 212.8 L1539.5 212.7 L1540.5 212.7 L1541.5 212.7 L1542.5 212.7 L1543.5 212.7 L1544.5 212.7 L1545.5 212.7 L1546.5 212.7 L1547.5 212.7 L1548.5 212.7 L1549.5 212.7 L1550.5 212.7 L1551.5 212.7 L1552.5 212.7 L1553.5 212.7 L1554.5 212.6 L1555.5 212.6 L1556.5 212.6 L1557.5 212.6 L1558.5 212.6 L1559.5 212.6 L1560.5 212.5 L1561.5 212.5 L1562.5 212.5 L1563.5 212.5 L1564.5 212.5 L1565.5 212.4 L1566.5 212.4 L1567.5 212.4 L1568.5 212.3 L1569.5 212.3 L1570.5 212.3 L1571.5 212.2 L1572.5 212.2 L1573.5 212.1 L1574.5 212.1 L1575.5 212 L1576.5 212 L1577.5 211.9 L1578.5 211.9 L1579.5 211.8 L1580.5 211.7 L1581.5 211.7 L1582.5 211.6 L1583.5 211.5 L1584.5 211.4 L1585.5 211.3 L1586.5 211.2 L1587.5 211.1 L1588.5 211 L1589.5 210.9 L1590.5 210.8 L1591.5 210.7 L1592.5 210.6 L1593.5 210.4 L1594.5 210.3 L1595.5 210.1 L1596.5 210 L1597.5 209.9 L1598.5 209.7 L1599.5 209.6 L1600.5 209.4 L1601.5 209.2 L1602.5 209.1 L1603.5 208.9 L1604.5 208.7 L1605.5 208.6 L1606.5 208.4 L1607.5 208.3 L1608.5 208.1 L1609.5 207.9 L1610.5 207.8 L1611.5 207.6 L1612.5 207.4 L1613.5 207.3 L1614.5 207.1 L1615.5 207 L1616.5 206.9 L1617.5 206.7 L1618.5 206.6 L1619.5 206.4 L1620.5 206.3 L1621.5 206.2 L1622.5 206.1 L1623.5 206 L1624.5 205.9 L1625.5 205.8 L1626.5 205.7 L1627.5 205.6 L1628.5 205.5 L1629.5 205.4 L1630.5 205.3 L1631.5 205.3 L1632.5 205.2 L1633.5 205.1 L1634.5 205.1 L1635.5 205 L1636.5 205 L1637.5 204.9 L1638.5 204.9 L1639.5 204.8 L1640.5 204.8 L1641.5 204.7 L1642.5 204.7 L1643.5 204.7 L1644.5 204.6 L1645.5 204.6 L1646.5 204.6 L1647.5 204.5 L1648.5 204.5 L1649.5 204.5 L1650.5 204.5 L1651.5 204.5 L1652.5 204.4 L1653.5 204.4 L1654.5 204.4 L1655.5 204.4 L1656.5 204.4 L1657.5 204.4 L1658.5 204.3 L1659.5 204.3 L1660.5 204.3 L1661.5 204.3 L1662.5 204.3 L1663.5 204.3 L1664.5 204.3 L1665.5 204.3 L1666.5 204.3 L1667.5 204.3 L1668.5 204.3 L1669.5 204.3 L1670.5 204.3 L1671.5 204.3 L1672.5 204.2 L1673.5 204.2 L1674.5 204.2 L1675.5 204.2 L1676.5 204.2 L1677.5 204.2 L1678.5 204.2 L1679.5 204.2 L1680.5 204.2 L1681.5 204.2 L1682.5 204.2 L1683.5 204.2 L1684.5 204.2 L1685.5 204.2 L1686.5 204.2 L1687.5 204.2 L1688.5 204.2 L1689.5 204.2 L1690.5 204.2 L1691.5 204.2 L1692.5 204.2 L1693.5 204.2 L1694.5 204.2 L1695.5 204.2 L1696.5 204.2 L1697.5 204.2 L1698.5 204.2 L1699.5 204.2 L1700.5 204.2 L1701.5 204.2 L1702.5 204.2 L1703.5 204.2 L1704.5 204.2 L1705.5 204.2 L1706.5 204.2 L1707.5 204.2 L1708.5 204.2 L1709.5 204.2 L1710.5 204.2 L1711.5 204.2 L1712.5 204.2 L1713.5 204.2 L1714.5 204.2 L1715.5 204.2 L1716.5 204.2 L1717.5 204.1 L1718.5 204.1 L1719.5 204.1 L1720.5 204.1 L1721.5 204.1 L1722.5 204.1 L1723.5 204.1 L1724.5 204.1 L1725.5 204.1 L1726.5 204.1 L1727.5 204.1 L1728.5 204.1 L1729.5 204.1 L1730.5 204.1 L1731.5 204.1 L1732.5 204 L1733.5 204 L1734.5 204 L1735.5 204 L1736.5 204 L1737.5 204 L1738.5 204 L1739.5 203.9 L1740.5 203.9 L1741.5 203.9 L1742.5 203.9 L1743.5 203.9 L1744.5 203.8 L1745.5 203.8 L1746.5 203.8 L1747.5 203.7 L1748.5 203.7 L1749.5 203.7 L1750.5 203.6 L1751.5 203.6 L1752.5 203.6 L1753.5 203.5 L1754.5 203.5 L1755.5 203.4 L1756.5 203.4 L1757.5 203.3 L1758.5 203.3 L1759.5 203.2 L1760.5 203.1 L1761.5 203.1 L1762.5 203 L1763.5 202.9 L1764.5 202.8 L1765.5 202.8 L1766.5 202.7 L1767.5 202.6 L1768.5 202.5 L1769.5 202.4 L1770.5 202.3 L1771.5 202.2 L1772.5 202.1 L1773.5 202 L1774.5 201.9 L1775.5 201.8 L1776.5 201.7 L1777.5 201.6 L1778.5 201.5 L1779.5 201.3 L1780.5 201.2 L1781.5 201.1 L1782.5 201 L1783.5 200.9 L1784.5 200.8 L1785.5 200.6 L1786.5 200.5 L1787.5 200.4 L1788.5 200.3 L1789.5 200.2 L1790.5 200.1 L1791.5 200 L1792.5 199.9 L1793.5 199.8 L1794.5 199.7 L1795.5 199.6 L1796.5 199.5 L1797.5 199.4 L1798.5 199.3 L1799.5 199.3 L1800.5 199.2 L1801.5 199.1 L1802.5 199 L1803.5 199 L1804.5 198.9 L1805.5 198.8 L1806.5 198.8 L1807.5 198.7 L1808.5 198.7 L1809.5 198.6 L1810.5 198.6 L1811.5 198.5 L1812.5 198.5 L1813.5 198.5 L1814.5 198.4 L1815.5 198.4 L1816.5 198.4 L1817.5 198.3 L1818.5 198.3 L1819.5 198.3 L1820.5 198.2 L1821.5 198.2 L1822.5 198.2 L1823.5 198.2 L1824.5 198.2 L1825.5 198.1 L1826.5 198.1 L1827.5 198.1 L1828.5 198.1 L1829.5 198.1 L1830.5 198.1 L1831.5 198.1 L1832.5 198 L1833.5 198 L1834.5 198 L1835.5 198 L1836.5 198 L1837.5 198 L1838.5 198 L1839.5 198 L1840.5 198 L1841.5 198 L1842.5 198 L1843.5 198 L1844.5 198 L1845.5 198 L1846.5 198 L1847.5 197.9 L1848.5 197.9 L1849.5 197.9 L1850.5 197.9 L1851.5 197.9 L1852.5 197.9 L1853.5 197.9 L1854.5 197.9 L1855.5 197.9 L1856.5 197.9 L1857.5 197.9 L1858.5 197.9 L1859.5 197.9 L1860.5 197.9 L1861.5 197.9 L1862.5 197.9 L1863.5 197.9 L1864.5 197.9 L1865.5 197.9 L1866.5 197.9 L1867.5 197.9 L1868.5 197.9 L1869.5 197.9 L1870.5 197.9 L1871.5 197.9 L1872.5 197.9 L1873.5 197.9 L1874.5 197.9 L1875.5 197.9 L1876.5 197.9 L1877.5 197.9 L1878.5 197.9 L1879.5 197.9 L1880.5 197.9 L1881.5 197.9 L1882.5 197.9 L1883.5 197.9 L1884.5 197.9 L1885.5 197.9 L1886.5 197.9 L1887.5 197.9 L1888.5 197.9 L1889.5 197.9 L1890.5 197.9 L1891.5 197.9 L1892.5 197.9 L1893.5 197.9 L1894.5 197.9 L1895.5 197.9 L1896.5 197.9 L1897.5 197.9 L1898.5 197.9 L1899.5 197.9 L1900.5 197.9 L1901.5 197.9 L1902.5 197.9 L1903.5 197.9 L1904.5 197.9 L1905.5 197.9 L1906.5 197.9 L1907.5 197.9 L1908.5 197.9 L1909.5 197.9 L1910.5 197.9 L1911.5 197.9 L1912.5 197.9 L1913.5 197.9 L1914.5 197.9 L1915.5 197.9 L1916.5 197.9 L1917.5 197.9 L1918.5 197.9 L1919.5 197.9 L1920.5 197.9 L1921.5 197.9 L1922.5 197.9 L1923.5 197.9 L1924.5 197.9 L1925.5 197.9 L1926.5 197.9 L1927.5 197.9 L1928.5 197.9 L1929.5 197.9 L1930.5 197.9 L1931.5 197.9 L1932.5 197.9 L1933.5 197.9 L1934.5 197.9 L1935.5 197.9 L1936.5 197.9 L1937.5 197.9 L1938.5 197.9 L1939.5 197.9 L1940.5 197.9 L1941.5 197.9 L1942.5 197.9 L1943.5 197.9 L1944.5 197.9 L1945.5 197.9 L1946.5 197.9 L1947.5 197.9 L1948.5 197.9 L1949.5 197.9 L1950.5 197.9 L1951.5 197.9 L1952.5 197.9 L1953.5 197.9 L1954.5 197.9 L1955.5 197.9 L1956.5 197.9 L1957.5 197.9 L1958.5 197.9 L1959.5 197.9 L1960.5 197.9 L1961.5 197.9 L1962.5 197.9 L1963.5 197.9 L1964.5 197.9 L1965.5 197.9 L1966.5 197.9 L1967.5 197.9 L1968.5 197.9 L1969.5 197.9 L1970.5 197.9 L1971.5 197.9 L1972.5 197.9 L1973.5 197.9 L1974.5 197.9 L1975.5 197.9 L1976.5 197.9 L1977.5 197.9 L1978.5 197.9 L1979.5 197.9 L1980.5 197.9 L1981.5 197.9 L1982.5 197.9 L1983.5 197.9 L1984.5 197.9 L1985.5 197.9 L1986.5 197.9 L1987.5 197.9" fill="none" stroke="#0000ff" stroke-width="1.3" stroke-linejoin="round" />
<path d="M1447.5 211.5 L1451 213 L1454.5 210.7 L1458 211.7 L1461.5 209.9 L1465 210.1 L1468.4 211 L1471.9 212.7 L1475.4 212.2 L1478.9 210.5 L1482.4 212.6 L1485.9 214.3 L1489.4 211.4 L1492.9 211.5 L1496.4 210.9 L1499.9 210.8 L1503.3 211.2 L1506.8 209.2 L1510.3 209.8 L1513.8 209.1 L1517.3 208.2 L1520.8 208.8 L1524.3 206.9 L1527.8 206.2 L1531.3 208.4 L1534.8 209.6 L1538.2 209.4 L1541.7 206.7 L1545.2 205.8 L1548.7 205.6 L1552.2 202.8 L1555.7 195.3 L1559.2 187.9 L1562.7 183.7 L1566.2 177.9 L1569.7 166.6 L1573.1 154.9 L1576.6 140.8 L1580.1 124.9 L1583.6 108.7 L1587.1 92.1 L1590.6 75.2 L1594.1 63.2 L1597.6 51.8 L1601.1 40.9 L1604.6 36.3 L1608 28.4 L1611.5 43 L1615 51 L1618.5 63.5 L1622 80.3 L1625.5 96.5 L1629 112.2 L1632.5 125.2 L1636 140.6 L1639.5 153.3 L1642.9 165.3 L1646.4 173.2 L1649.9 181.8 L1653.4 187.2 L1656.9 191 L1660.4 192.9 L1663.9 194.4 L1667.4 196 L1670.9 199 L1674.4 198.8 L1677.8 198.7 L1681.3 201 L1684.8 201.2 L1688.3 199.9 L1691.8 200 L1695.3 198.1 L1698.8 196.6 L1702.3 198.8 L1705.8 202.6 L1709.3 202.5 L1712.7 201.6 L1716.2 197.9 L1719.7 193.1 L1723.2 191.6 L1726.7 186.2 L1730.2 177.8 L1733.7 175.1 L1737.2 171.2 L1740.7 162.9 L1744.2 154.3 L1747.6 143.3 L1751.1 130.8 L1754.6 116.9 L1758.1 105.4 L1761.6 93.6 L1765.1 84.2 L1768.6 79.8 L1772.1 73.9 L1775.6 62.2 L1779.1 70.1 L1782.5 77.6 L1786 80.5 L1789.5 87.4 L1793 100.9 L1796.5 111.1 L1800 121.3 L1803.5 134.1 L1807 145.9 L1810.5 155.6 L1814 162 L1817.4 170.2 L1820.9 174.8 L1824.4 178.7 L1827.9 182.6 L1831.4 187.3 L1834.9 189.6 L1838.4 190 L1841.9 192.1 L1845.4 192.3 L1848.9 192.9 L1852.3 194 L1855.8 194.1 L1859.3 193.6 L1862.8 193.2 L1866.3 196.3 L1869.8 193.9 L1873.3 194.9 L1876.8 195.2 L1880.3 194.7 L1883.8 193.4 L1887.2 195 L1890.7 195.6 L1894.2 197.4 L1897.7 196.5 L1901.2 194.7 L1904.7 194.3 L1908.2 197 L1911.7 198.1 L1915.2 196.7 L1918.7 198.7 L1922.1 198.3 L1925.6 196.6 L1929.1 197.3 L1932.6 195.8 L1936.1 196.3 L1939.6 195.5 L1943.1 196.9 L1946.6 198.2 L1950.1 197.3 L1953.6 198.3 L1957 196.9 L1960.5 197.3 L1964 197.3 L1967.5 195.5 L1971 197.2 L1974.5 199.8 L1978 197.2 L1981.5 196.4 L1985 194.6" fill="none" stroke="#000000" stroke-width="1.1" stroke-linejoin="round" />
<path d="M1447.5 210.9 L1448.5 210.9 L1449.5 210.9 L1450.5 210.9 L1451.5 210.9 L1452.5 210.9 L1453.5 210.8 L1454.5 210.8 L1455.5 210.8 L1456.5 210.8 L1457.5 210.8 L1458.5 210.8 L1459.5 210.8 L1460.5 210.8 L1461.5 210.8 L1462.5 210.8 L1463.5 210.7 L1464.5 210.7 L1465.5 210.7 L1466.5 210.7 L1467.5 210.7 L1468.5 210.7 L1469.5 210.7 L1470.5 210.7 L1471.5 210.7 L1472.5 210.6 L1473.5 210.6 L1474.5 210.6 L1475.5 210.6 L1476.5 210.6 L1477.5 210.6 L1478.5 210.6 L1479.5 210.5 L1480.5 210.5 L1481.5 210.5 L1482.5 210.5 L1483.5 210.5 L1484.5 210.5 L1485.5 210.4 L1486.5 210.4 L1487.5 210.4 L1488.5 210.4 L1489.5 210.4 L1490.5 210.4 L1491.5 210.3 L1492.5 210.3 L1493.5 210.3 L1494.5 210.3 L1495.5 210.3 L1496.5 210.2 L1497.5 210.2 L1498.5 210.2 L1499.5 210.2 L1500.5 210.1 L1501.5 210.1 L1502.5 210.1 L1503.5 210.1 L1504.5 210 L1505.5 210 L1506.5 210 L1507.5 209.9 L1508.5 209.9 L1509.5 209.9 L1510.5 209.9 L1511.5 209.8 L1512.5 209.8 L1513.5 209.7 L1514.5 209.7 L1515.5 209.7 L1516.5 209.6 L1517.5 209.6 L1518.5 209.5 L1519.5 209.5 L1520.5 209.5 L1521.5 209.4 L1522.5 209.3 L1523.5 209.3 L1524.5 209.2 L1525.5 209.2 L1526.5 209.1 L1527.5 209 L1528.5 209 L1529.5 208.9 L1530.5 208.8 L1531.5 208.7 L1532.5 208.6 L1533.5 208.5 L1534.5 208.3 L1535.5 208.2 L1536.5 208.1 L1537.5 207.9 L1538.5 207.7 L1539.5 207.5 L1540.5 207.3 L1541.5 207 L1542.5 206.8 L1543.5 206.5 L1544.5 206.1 L1545.5 205.8 L1546.5 205.4 L1547.5 204.9 L1548.5 204.4 L1549.5 203.9 L1550.5 203.3 L1551.5 202.6 L1552.5 201.8 L1553.5 201 L1554.5 200.1 L1555.5 199.1 L1556.5 198 L1557.5 196.9 L1558.5 195.6 L1559.5 194.2 L1560.5 192.6 L1561.5 191 L1562.5 189.2 L1563.5 187.3 L1564.5 185.2 L1565.5 183 L1566.5 180.6 L1567.5 178 L1568.5 175.3 L1569.5 172.4 L1570.5 169.4 L1571.5 166.1 L1572.5 162.7 L1573.5 159.1 L1574.5 155.4 L1575.5 151.5 L1576.5 147.4 L1577.5 143.2 L1578.5 138.8 L1579.5 134.3 L1580.5 129.6 L1581.5 124.9 L1582.5 120.1 L1583.5 115.1 L1584.5 110.1 L1585.5 105.1 L1586.5 100.1 L1587.5 95 L1588.5 90 L1589.5 85 L1590.5 80.2 L1591.5 75.4 L1592.5 70.7 L1593.5 66.2 L1594.5 61.9 L1595.5 57.9 L1596.5 54 L1597.5 50.5 L1598.5 47.2 L1599.5 44.3 L1600.5 41.8 L1601.5 39.6 L1602.5 37.8 L1603.5 36.4 L1604.5 35.5 L1605.5 35 L1606.5 34.9 L1607.5 35.2 L1608.5 36 L1609.5 37.2 L1610.5 38.8 L1611.5 40.8 L1612.5 43.2 L1613.5 45.9 L1614.5 49 L1615.5 52.4 L1616.5 56 L1617.5 59.9 L1618.5 64 L1619.5 68.3 L1620.5 72.7 L1621.5 77.3 L1622.5 82 L1623.5 86.7 L1624.5 91.6 L1625.5 96.4 L1626.5 101.2 L1627.5 106 L1628.5 110.8 L1629.5 115.5 L1630.5 120.2 L1631.5 124.7 L1632.5 129.2 L1633.5 133.5 L1634.5 137.7 L1635.5 141.7 L1636.5 145.6 L1637.5 149.3 L1638.5 152.9 L1639.5 156.3 L1640.5 159.6 L1641.5 162.6 L1642.5 165.5 L1643.5 168.3 L1644.5 170.9 L1645.5 173.3 L1646.5 175.5 L1647.5 177.6 L1648.5 179.6 L1649.5 181.4 L1650.5 183.1 L1651.5 184.6 L1652.5 186.1 L1653.5 187.4 L1654.5 188.6 L1655.5 189.7 L1656.5 190.7 L1657.5 191.6 L1658.5 192.4 L1659.5 193.1 L1660.5 193.8 L1661.5 194.4 L1662.5 195 L1663.5 195.5 L1664.5 195.9 L1665.5 196.3 L1666.5 196.7 L1667.5 197 L1668.5 197.3 L1669.5 197.6 L1670.5 197.8 L1671.5 198 L1672.5 198.2 L1673.5 198.3 L1674.5 198.5 L1675.5 198.6 L1676.5 198.7 L1677.5 198.8 L1678.5 198.9 L1679.5 199 L1680.5 199 L1681.5 199.1 L1682.5 199.2 L1683.5 199.2 L1684.5 199.2 L1685.5 199.3 L1686.5 199.3 L1687.5 199.3 L1688.5 199.3 L1689.5 199.3 L1690.5 199.3 L1691.5 199.3 L1692.5 199.3 L1693.5 199.3 L1694.5 199.3 L1695.5 199.3 L1696.5 199.2 L1697.5 199.2 L1698.5 199.2 L1699.5 199.1 L1700.5 199 L1701.5 199 L1702.5 198.9 L1703.5 198.8 L1704.5 198.7 L1705.5 198.6 L1706.5 198.4 L1707.5 198.3 L1708.5 198.1 L1709.5 197.9 L1710.5 197.7 L1711.5 197.5 L1712.5 197.2 L1713.5 196.9 L1714.5 196.6 L1715.5 196.2 L1716.5 195.8 L1717.5 195.4 L1718.5 194.9 L1719.5 194.3 L1720.5 193.7 L1721.5 193.1 L1722.5 192.4 L1723.5 191.6 L1724.5 190.8 L1725.5 189.9 L1726.5 188.9 L1727.5 187.8 L1728.5 186.7 L1729.5 185.4 L1730.5 184.1 L1731.5 182.6 L1732.5 181.1 L1733.5 179.5 L1734.5 177.7 L1735.5 175.9 L1736.5 173.9 L1737.5 171.8 L1738.5 169.7 L1739.5 167.4 L1740.5 164.9 L1741.5 162.4 L1742.5 159.8 L1743.5 157 L1744.5 154.2 L1745.5 151.2 L1746.5 148.2 L1747.5 145 L1748.5 141.8 L1749.5 138.5 L1750.5 135.1 L1751.5 131.7 L1752.5 128.2 L1753.5 124.7 L1754.5 121.2 L1755.5 117.7 L1756.5 114.1 L1757.5 110.6 L1758.5 107.2 L1759.5 103.7 L1760.5 100.4 L1761.5 97.1 L1762.5 93.9 L1763.5 90.9 L1764.5 88 L1765.5 85.2 L1766.5 82.6 L1767.5 80.2 L1768.5 78 L1769.5 76.1 L1770.5 74.3 L1771.5 72.9 L1772.5 71.6 L1773.5 70.7 L1774.5 70 L1775.5 69.6 L1776.5 69.5 L1777.5 69.7 L1778.5 70.2 L1779.5 70.9 L1780.5 71.9 L1781.5 73.2 L1782.5 74.7 L1783.5 76.5 L1784.5 78.5 L1785.5 80.7 L1786.5 83.1 L1787.5 85.7 L1788.5 88.4 L1789.5 91.3 L1790.5 94.3 L1791.5 97.4 L1792.5 100.6 L1793.5 103.9 L1794.5 107.2 L1795.5 110.6 L1796.5 114 L1797.5 117.4 L1798.5 120.8 L1799.5 124.2 L1800.5 127.6 L1801.5 130.9 L1802.5 134.2 L1803.5 137.4 L1804.5 140.5 L1805.5 143.6 L1806.5 146.6 L1807.5 149.5 L1808.5 152.3 L1809.5 154.9 L1810.5 157.5 L1811.5 160 L1812.5 162.4 L1813.5 164.6 L1814.5 166.8 L1815.5 168.8 L1816.5 170.8 L1817.5 172.6 L1818.5 174.3 L1819.5 175.9 L1820.5 177.4 L1821.5 178.8 L1822.5 180.2 L1823.5 181.4 L1824.5 182.5 L1825.5 183.6 L1826.5 184.6 L1827.5 185.5 L1828.5 186.3 L1829.5 187.1 L1830.5 187.8 L1831.5 188.5 L1832.5 189.1 L1833.5 189.6 L1834.5 190.1 L1835.5 190.6 L1836.5 191 L1837.5 191.3 L1838.5 191.7 L1839.5 192 L1840.5 192.3 L1841.5 192.5 L1842.5 192.8 L1843.5 193 L1844.5 193.2 L1845.5 193.4 L1846.5 193.5 L1847.5 193.7 L1848.5 193.8 L1849.5 193.9 L1850.5 194 L1851.5 194.1 L1852.5 194.2 L1853.5 194.3 L1854.5 194.4 L1855.5 194.4 L1856.5 194.5 L1857.5 194.6 L1858.5 194.6 L1859.5 194.7 L1860.5 194.7 L1861.5 194.8 L1862.5 194.8 L1863.5 194.9 L1864.5 194.9 L1865.5 195 L1866.5 195 L1867.5 195 L1868.5 195.1 L1869.5 195.1 L1870.5 195.1 L1871.5 195.1 L1872.5 195.2 L1873.5 195.2 L1874.5 195.2 L1875.5 195.3 L1876.5 195.3 L1877.5 195.3 L1878.5 195.3 L1879.5 195.3 L1880.5 195.4 L1881.5 195.4 L1882.5 195.4 L1883.5 195.4 L1884.5 195.5 L1885.5 195.5 L1886.5 195.5 L1887.5 195.5 L1888.5 195.5 L1889.5 195.5 L1890.5 195.6 L1891.5 195.6 L1892.5 195.6 L1893.5 195.6 L1894.5 195.6 L1895.5 195.6 L1896.5 195.7 L1897.5 195.7 L1898.5 195.7 L1899.5 195.7 L1900.5 195.7 L1901.5 195.7 L1902.5 195.7 L1903.5 195.8 L1904.5 195.8 L1905.5 195.8 L1906.5 195.8 L1907.5 195.8 L1908.5 195.8 L1909.5 195.8 L1910.5 195.8 L1911.5 195.9 L1912.5 195.9 L1913.5 195.9 L1914.5 195.9 L1915.5 195.9 L1916.5 195.9 L1917.5 195.9 L1918.5 195.9 L1919.5 195.9 L1920.5 195.9 L1921.5 195.9 L1922.5 196 L1923.5 196 L1924.5 196 L1925.5 196 L1926.5 196 L1927.5 196 L1928.5 196 L1929.5 196 L1930.5 196 L1931.5 196 L1932.5 196 L1933.5 196 L1934.5 196.1 L1935.5 196.1 L1936.5 196.1 L1937.5 196.1 L1938.5 196.1 L1939.5 196.1 L1940.5 196.1 L1941.5 196.1 L1942.5 196.1 L1943.5 196.1 L1944.5 196.1 L1945.5 196.1 L1946.5 196.1 L1947.5 196.1 L1948.5 196.1 L1949.5 196.1 L1950.5 196.2 L1951.5 196.2 L1952.5 196.2 L1953.5 196.2 L1954.5 196.2 L1955.5 196.2 L1956.5 196.2 L1957.5 196.2 L1958.5 196.2 L1959.5 196.2 L1960.5 196.2 L1961.5 196.2 L1962.5 196.2 L1963.5 196.2 L1964.5 196.2 L1965.5 196.2 L1966.5 196.2 L1967.5 196.2 L1968.5 196.2 L1969.5 196.2 L1970.5 196.2 L1971.5 196.3 L1972.5 196.3 L1973.5 196.3 L1974.5 196.3 L1975.5 196.3 L1976.5 196.3 L1977.5 196.3 L1978.5 196.3 L1979.5 196.3 L1980.5 196.3 L1981.5 196.3 L1982.5 196.3 L1983.5 196.3 L1984.5 196.3 L1985.5 196.3 L1986.5 196.3 L1987.5 196.3" fill="none" stroke="#ff0000" stroke-width="1.1" stroke-linejoin="round" />
<path d="M1447.5 210.7 L1448.5 210.7 L1449.5 210.7 L1450.5 210.7 L1451.5 210.7 L1452.5 210.7 L1453.5 210.7 L1454.5 210.7 L1455.5 210.7 L1456.5 210.6 L1457.5 210.6 L1458.5 210.6 L1459.5 210.6 L1460.5 210.6 L1461.5 210.6 L1462.5 210.6 L1463.5 210.6 L1464.5 210.6 L1465.5 210.6 L1466.5 210.5 L1467.5 210.5 L1468.5 210.5 L1469.5 210.5 L1470.5 210.5 L1471.5 210.5 L1472.5 210.5 L1473.5 210.5 L1474.5 210.5 L1475.5 210.4 L1476.5 210.4 L1477.5 210.4 L1478.5 210.4 L1479.5 210.4 L1480.5 210.4 L1481.5 210.4 L1482.5 210.3 L1483.5 210.3 L1484.5 210.3 L1485.5 210.3 L1486.5 210.3 L1487.5 210.3 L1488.5 210.3 L1489.5 210.2 L1490.5 210.2 L1491.5 210.2 L1492.5 210.2 L1493.5 210.2 L1494.5 210.1 L1495.5 210.1 L1496.5 210.1 L1497.5 210.1 L1498.5 210.1 L1499.5 210 L1500.5 210 L1501.5 210 L1502.5 210 L1503.5 209.9 L1504.5 209.9 L1505.5 209.9 L1506.5 209.9 L1507.5 209.8 L1508.5 209.8 L1509.5 209.8 L1510.5 209.7 L1511.5 209.7 L1512.5 209.7 L1513.5 209.6 L1514.5 209.6 L1515.5 209.6 L1516.5 209.5 L1517.5 209.5 L1518.5 209.4 L1519.5 209.4 L1520.5 209.4 L1521.5 209.3 L1522.5 209.2 L1523.5 209.2 L1524.5 209.1 L1525.5 209.1 L1526.5 209 L1527.5 208.9 L1528.5 208.9 L1529.5 208.8 L1530.5 208.7 L1531.5 208.6 L1532.5 208.5 L1533.5 208.4 L1534.5 208.3 L1535.5 208.1 L1536.5 208 L1537.5 207.8 L1538.5 207.6 L1539.5 207.4 L1540.5 207.2 L1541.5 207 L1542.5 206.7 L1543.5 206.4 L1544.5 206.1 L1545.5 205.7 L1546.5 205.3 L1547.5 204.9 L1548.5 204.4 L1549.5 203.8 L1550.5 203.2 L1551.5 202.5 L1552.5 201.8 L1553.5 201 L1554.5 200.1 L1555.5 199.1 L1556.5 198 L1557.5 196.8 L1558.5 195.5 L1559.5 194.1 L1560.5 192.6 L1561.5 191 L1562.5 189.2 L1563.5 187.3 L1564.5 185.2 L1565.5 183 L1566.5 180.6 L1567.5 178 L1568.5 175.3 L1569.5 172.4 L1570.5 169.4 L1571.5 166.1 L1572.5 162.7 L1573.5 159.1 L1574.5 155.4 L1575.5 151.5 L1576.5 147.4 L1577.5 143.2 L1578.5 138.8 L1579.5 134.3 L1580.5 129.7 L1581.5 124.9 L1582.5 120.1 L1583.5 115.2 L1584.5 110.2 L1585.5 105.2 L1586.5 100.1 L1587.5 95.1 L1588.5 90.1 L1589.5 85.1 L1590.5 80.2 L1591.5 75.5 L1592.5 70.8 L1593.5 66.3 L1594.5 62 L1595.5 58 L1596.5 54.1 L1597.5 50.6 L1598.5 47.4 L1599.5 44.4 L1600.5 41.9 L1601.5 39.7 L1602.5 37.9 L1603.5 36.6 L1604.5 35.6 L1605.5 35.1 L1606.5 35 L1607.5 35.4 L1608.5 36.2 L1609.5 37.4 L1610.5 39 L1611.5 41 L1612.5 43.4 L1613.5 46.1 L1614.5 49.2 L1615.5 52.6 L1616.5 56.2 L1617.5 60.1 L1618.5 64.2 L1619.5 68.5 L1620.5 72.9 L1621.5 77.5 L1622.5 82.2 L1623.5 87 L1624.5 91.8 L1625.5 96.7 L1626.5 101.5 L1627.5 106.3 L1628.5 111.1 L1629.5 115.8 L1630.5 120.5 L1631.5 125 L1632.5 129.5 L1633.5 133.8 L1634.5 138 L1635.5 142.1 L1636.5 146 L1637.5 149.7 L1638.5 153.3 L1639.5 156.7 L1640.5 160 L1641.5 163 L1642.5 166 L1643.5 168.7 L1644.5 171.3 L1645.5 173.7 L1646.5 176 L1647.5 178.1 L1648.5 180.1 L1649.5 181.9 L1650.5 183.6 L1651.5 185.1 L1652.5 186.6 L1653.5 187.9 L1654.5 189.1 L1655.5 190.2 L1656.5 191.2 L1657.5 192.2 L1658.5 193 L1659.5 193.8 L1660.5 194.5 L1661.5 195.1 L1662.5 195.7 L1663.5 196.2 L1664.5 196.6 L1665.5 197.1 L1666.5 197.4 L1667.5 197.8 L1668.5 198.1 L1669.5 198.4 L1670.5 198.6 L1671.5 198.8 L1672.5 199 L1673.5 199.2 L1674.5 199.4 L1675.5 199.5 L1676.5 199.7 L1677.5 199.8 L1678.5 199.9 L1679.5 200 L1680.5 200.1 L1681.5 200.2 L1682.5 200.3 L1683.5 200.3 L1684.5 200.4 L1685.5 200.5 L1686.5 200.5 L1687.5 200.6 L1688.5 200.6 L1689.5 200.7 L1690.5 200.7 L1691.5 200.8 L1692.5 200.8 L1693.5 200.9 L1694.5 200.9 L1695.5 200.9 L1696.5 201 L1697.5 201 L1698.5 201.1 L1699.5 201.1 L1700.5 201.1 L1701.5 201.1 L1702.5 201.2 L1703.5 201.2 L1704.5 201.2 L1705.5 201.3 L1706.5 201.3 L1707.5 201.3 L1708.5 201.3 L1709.5 201.3 L1710.5 201.4 L1711.5 201.4 L1712.5 201.4 L1713.5 201.4 L1714.5 201.4 L1715.5 201.5 L1716.5 201.5 L1717.5 201.5 L1718.5 201.5 L1719.5 201.5 L1720.5 201.5 L1721.5 201.6 L1722.5 201.6 L1723.5 201.6 L1724.5 201.6 L1725.5 201.6 L1726.5 201.6 L1727.5 201.6 L1728.5 201.6 L1729.5 201.6 L1730.5 201.6 L1731.5 201.6 L1732.5 201.6 L1733.5 201.6 L1734.5 201.6 L1735.5 201.6 L1736.5 201.6 L1737.5 201.6 L1738.5 201.6 L1739.5 201.6 L1740.5 201.6 L1741.5 201.6 L1742.5 201.6 L1743.5 201.6 L1744.5 201.6 L1745.5 201.6 L1746.5 201.5 L1747.5 201.5 L1748.5 201.5 L1749.5 201.5 L1750.5 201.4 L1751.5 201.4 L1752.5 201.4 L1753.5 201.3 L1754.5 201.3 L1755.5 201.3 L1756.5 201.2 L1757.5 201.2 L1758.5 201.1 L1759.5 201.1 L1760.5 201 L1761.5 201 L1762.5 200.9 L1763.5 200.8 L1764.5 200.8 L1765.5 200.7 L1766.5 200.6 L1767.5 200.5 L1768.5 200.5 L1769.5 200.4 L1770.5 200.3 L1771.5 200.2 L1772.5 200.1 L1773.5 200 L1774.5 199.9 L1775.5 199.8 L1776.5 199.7 L1777.5 199.6 L1778.5 199.5 L1779.5 199.4 L1780.5 199.2 L1781.5 199.1 L1782.5 199 L1783.5 198.9 L1784.5 198.8 L1785.5 198.7 L1786.5 198.6 L1787.5 198.5 L1788.5 198.4 L1789.5 198.3 L1790.5 198.2 L1791.5 198.1 L1792.5 198 L1793.5 197.9 L1794.5 197.8 L1795.5 197.7 L1796.5 197.6 L1797.5 197.5 L1798.5 197.4 L1799.5 197.4 L1800.5 197.3 L1801.5 197.2 L1802.5 197.1 L1803.5 197.1 L1804.5 197 L1805.5 197 L1806.5 196.9 L1807.5 196.9 L1808.5 196.8 L1809.5 196.8 L1810.5 196.7 L1811.5 196.7 L1812.5 196.6 L1813.5 196.6 L1814.5 196.6 L1815.5 196.5 L1816.5 196.5 L1817.5 196.5 L1818.5 196.5 L1819.5 196.4 L1820.5 196.4 L1821.5 196.4 L1822.5 196.4 L1823.5 196.4 L1824.5 196.3 L1825.5 196.3 L1826.5 196.3 L1827.5 196.3 L1828.5 196.3 L1829.5 196.3 L1830.5 196.3 L1831.5 196.3 L1832.5 196.3 L1833.5 196.2 L1834.5 196.2 L1835.5 196.2 L1836.5 196.2 L1837.5 196.2 L1838.5 196.2 L1839.5 196.2 L1840.5 196.2 L1841.5 196.2 L1842.5 196.2 L1843.5 196.2 L1844.5 196.2 L1845.5 196.2 L1846.5 196.2 L1847.5 196.2 L1848.5 196.2 L1849.5 196.2 L1850.5 196.2 L1851.5 196.2 L1852.5 196.2 L1853.5 196.2 L1854.5 196.2 L1855.5 196.2 L1856.5 196.2 L1857.5 196.2 L1858.5 196.2 L1859.5 196.2 L1860.5 196.2 L1861.5 196.2 L1862.5 196.2 L1863.5 196.2 L1864.5 196.2 L1865.5 196.2 L1866.5 196.2 L1867.5 196.2 L1868.5 196.2 L1869.5 196.2 L1870.5 196.2 L1871.5 196.2 L1872.5 196.2 L1873.5 196.2 L1874.5 196.2 L1875.5 196.2 L1876.5 196.2 L1877.5 196.2 L1878.5 196.2 L1879.5 196.2 L1880.5 196.2 L1881.5 196.2 L1882.5 196.2 L1883.5 196.2 L1884.5 196.2 L1885.5 196.2 L1886.5 196.2 L1887.5 196.2 L1888.5 196.2 L1889.5 196.2 L1890.5 196.2 L1891.5 196.2 L1892.5 196.2 L1893.5 196.2 L1894.5 196.2 L1895.5 196.2 L1896.5 196.2 L1897.5 196.2 L1898.5 196.2 L1899.5 196.2 L1900.5 196.2 L1901.5 196.2 L1902.5 196.2 L1903.5 196.2 L1904.5 196.2 L1905.5 196.2 L1906.5 196.2 L1907.5 196.2 L1908.5 196.2 L1909.5 196.2 L1910.5 196.2 L1911.5 196.2 L1912.5 196.2 L1913.5 196.2 L1914.5 196.2 L1915.5 196.2 L1916.5 196.2 L1917.5 196.2 L1918.5 196.2 L1919.5 196.2 L1920.5 196.2 L1921.5 196.3 L1922.5 196.3 L1923.5 196.3 L1924.5 196.3 L1925.5 196.3 L1926.5 196.3 L1927.5 196.3 L1928.5 196.3 L1929.5 196.3 L1930.5 196.3 L1931.5 196.3 L1932.5 196.3 L1933.5 196.3 L1934.5 196.3 L1935.5 196.3 L1936.5 196.3 L1937.5 196.3 L1938.5 196.3 L1939.5 196.3 L1940.5 196.3 L1941.5 196.3 L1942.5 196.3 L1943.5 196.3 L1944.5 196.3 L1945.5 196.3 L1946.5 196.3 L1947.5 196.3 L1948.5 196.3 L1949.5 196.3 L1950.5 196.3 L1951.5 196.3 L1952.5 196.3 L1953.5 196.3 L1954.5 196.3 L1955.5 196.3 L1956.5 196.3 L1957.5 196.3 L1958.5 196.3 L1959.5 196.3 L1960.5 196.3 L1961.5 196.3 L1962.5 196.3 L1963.5 196.3 L1964.5 196.3 L1965.5 196.3 L1966.5 196.3 L1967.5 196.3 L1968.5 196.3 L1969.5 196.3 L1970.5 196.3 L1971.5 196.3 L1972.5 196.3 L1973.5 196.3 L1974.5 196.3 L1975.5 196.3 L1976.5 196.3 L1977.5 196.3 L1978.5 196.3 L1979.5 196.3 L1980.5 196.3 L1981.5 196.3 L1982.5 196.3 L1983.5 196.3 L1984.5 196.3 L1985.5 196.3 L1986.5 196.3 L1987.5 196.3" fill="none" stroke="#008000" stroke-width="1.2" stroke-linejoin="round" />
<path d="M1447.5 212.7 L1448.5 212.7 L1449.5 212.7 L1450.5 212.7 L1451.5 212.7 L1452.5 212.7 L1453.5 212.7 L1454.5 212.7 L1455.5 212.7 L1456.5 212.7 L1457.5 212.7 L1458.5 212.7 L1459.5 212.7 L1460.5 212.7 L1461.5 212.7 L1462.5 212.7 L1463.5 212.7 L1464.5 212.7 L1465.5 212.7 L1466.5 212.7 L1467.5 212.7 L1468.5 212.7 L1469.5 212.7 L1470.5 212.7 L1471.5 212.7 L1472.5 212.7 L1473.5 212.7 L1474.5 212.7 L1475.5 212.7 L1476.5 212.7 L1477.5 212.7 L1478.5 212.7 L1479.5 212.7 L1480.5 212.7 L1481.5 212.6 L1482.5 212.6 L1483.5 212.6 L1484.5 212.6 L1485.5 212.6 L1486.5 212.6 L1487.5 212.6 L1488.5 212.6 L1489.5 212.6 L1490.5 212.6 L1491.5 212.6 L1492.5 212.6 L1493.5 212.6 L1494.5 212.6 L1495.5 212.6 L1496.5 212.6 L1497.5 212.6 L1498.5 212.6 L1499.5 212.6 L1500.5 212.6 L1501.5 212.6 L1502.5 212.6 L1503.5 212.6 L1504.5 212.6 L1505.5 212.6 L1506.5 212.6 L1507.5 212.6 L1508.5 212.6 L1509.5 212.6 L1510.5 212.6 L1511.5 212.6 L1512.5 212.6 L1513.5 212.6 L1514.5 212.6 L1515.5 212.6 L1516.5 212.6 L1517.5 212.6 L1518.5 212.6 L1519.5 212.6 L1520.5 212.6 L1521.5 212.6 L1522.5 212.6 L1523.5 212.6 L1524.5 212.6 L1525.5 212.6 L1526.5 212.6 L1527.5 212.6 L1528.5 212.6 L1529.5 212.6 L1530.5 212.6 L1531.5 212.6 L1532.5 212.6 L1533.5 212.5 L1534.5 212.5 L1535.5 212.5 L1536.5 212.5 L1537.5 212.5 L1538.5 212.5 L1539.5 212.5 L1540.5 212.5 L1541.5 212.5 L1542.5 212.5 L1543.5 212.5 L1544.5 212.5 L1545.5 212.5 L1546.5 212.5 L1547.5 212.5 L1548.5 212.4 L1549.5 212.4 L1550.5 212.4 L1551.5 212.4 L1552.5 212.4 L1553.5 212.4 L1554.5 212.4 L1555.5 212.4 L1556.5 212.3 L1557.5 212.3 L1558.5 212.3 L1559.5 212.3 L1560.5 212.3 L1561.5 212.2 L1562.5 212.2 L1563.5 212.2 L1564.5 212.2 L1565.5 212.1 L1566.5 212.1 L1567.5 212.1 L1568.5 212 L1569.5 212 L1570.5 212 L1571.5 211.9 L1572.5 211.9 L1573.5 211.8 L1574.5 211.8 L1575.5 211.7 L1576.5 211.7 L1577.5 211.6 L1578.5 211.5 L1579.5 211.5 L1580.5 211.4 L1581.5 211.3 L1582.5 211.2 L1583.5 211.2 L1584.5 211.1 L1585.5 211 L1586.5 210.9 L1587.5 210.8 L1588.5 210.7 L1589.5 210.5 L1590.5 210.4 L1591.5 210.3 L1592.5 210.2 L1593.5 210 L1594.5 209.9 L1595.5 209.8 L1596.5 209.6 L1597.5 209.5 L1598.5 209.3 L1599.5 209.1 L1600.5 209 L1601.5 208.8 L1602.5 208.6 L1603.5 208.5 L1604.5 208.3 L1605.5 208.1 L1606.5 208 L1607.5 207.8 L1608.5 207.6 L1609.5 207.5 L1610.5 207.3 L1611.5 207.1 L1612.5 207 L1613.5 206.8 L1614.5 206.7 L1615.5 206.5 L1616.5 206.3 L1617.5 206.2 L1618.5 206.1 L1619.5 205.9 L1620.5 205.8 L1621.5 205.7 L1622.5 205.5 L1623.5 205.4 L1624.5 205.3 L1625.5 205.2 L1626.5 205.1 L1627.5 205 L1628.5 204.9 L1629.5 204.8 L1630.5 204.7 L1631.5 204.7 L1632.5 204.6 L1633.5 204.5 L1634.5 204.4 L1635.5 204.4 L1636.5 204.3 L1637.5 204.2 L1638.5 204.2 L1639.5 204.1 L1640.5 204.1 L1641.5 204 L1642.5 204 L1643.5 203.9 L1644.5 203.9 L1645.5 203.9 L1646.5 203.8 L1647.5 203.8 L1648.5 203.7 L1649.5 203.7 L1650.5 203.7 L1651.5 203.6 L1652.5 203.6 L1653.5 203.6 L1654.5 203.5 L1655.5 203.5 L1656.5 203.5 L1657.5 203.5 L1658.5 203.4 L1659.5 203.4 L1660.5 203.4 L1661.5 203.4 L1662.5 203.3 L1663.5 203.3 L1664.5 203.3 L1665.5 203.3 L1666.5 203.2 L1667.5 203.2 L1668.5 203.2 L1669.5 203.2 L1670.5 203.1 L1671.5 203.1 L1672.5 203.1 L1673.5 203.1 L1674.5 203 L1675.5 203 L1676.5 203 L1677.5 203 L1678.5 202.9 L1679.5 202.9 L1680.5 202.9 L1681.5 202.8 L1682.5 202.8 L1683.5 202.8 L1684.5 202.7 L1685.5 202.7 L1686.5 202.7 L1687.5 202.6 L1688.5 202.6 L1689.5 202.5 L1690.5 202.5 L1691.5 202.5 L1692.5 202.4 L1693.5 202.3 L1694.5 202.3 L1695.5 202.2 L1696.5 202.2 L1697.5 202.1 L1698.5 202 L1699.5 201.9 L1700.5 201.8 L1701.5 201.7 L1702.5 201.6 L1703.5 201.5 L1704.5 201.3 L1705.5 201.2 L1706.5 201 L1707.5 200.9 L1708.5 200.7 L1709.5 200.4 L1710.5 200.2 L1711.5 199.9 L1712.5 199.7 L1713.5 199.3 L1714.5 199 L1715.5 198.6 L1716.5 198.2 L1717.5 197.7 L1718.5 197.2 L1719.5 196.6 L1720.5 196 L1721.5 195.4 L1722.5 194.6 L1723.5 193.9 L1724.5 193 L1725.5 192.1 L1726.5 191.1 L1727.5 190 L1728.5 188.8 L1729.5 187.6 L1730.5 186.2 L1731.5 184.8 L1732.5 183.2 L1733.5 181.6 L1734.5 179.8 L1735.5 177.9 L1736.5 176 L1737.5 173.9 L1738.5 171.7 L1739.5 169.4 L1740.5 166.9 L1741.5 164.4 L1742.5 161.8 L1743.5 159 L1744.5 156.1 L1745.5 153.2 L1746.5 150.1 L1747.5 147 L1748.5 143.7 L1749.5 140.4 L1750.5 137 L1751.5 133.6 L1752.5 130.1 L1753.5 126.6 L1754.5 123.1 L1755.5 119.5 L1756.5 116 L1757.5 112.5 L1758.5 109 L1759.5 105.5 L1760.5 102.2 L1761.5 98.9 L1762.5 95.7 L1763.5 92.7 L1764.5 89.7 L1765.5 87 L1766.5 84.4 L1767.5 82 L1768.5 79.8 L1769.5 77.8 L1770.5 76.1 L1771.5 74.6 L1772.5 73.4 L1773.5 72.4 L1774.5 71.7 L1775.5 71.3 L1776.5 71.2 L1777.5 71.4 L1778.5 71.9 L1779.5 72.6 L1780.5 73.6 L1781.5 74.9 L1782.5 76.4 L1783.5 78.2 L1784.5 80.1 L1785.5 82.3 L1786.5 84.7 L1787.5 87.3 L1788.5 90 L1789.5 92.9 L1790.5 95.9 L1791.5 99 L1792.5 102.2 L1793.5 105.5 L1794.5 108.8 L1795.5 112.2 L1796.5 115.6 L1797.5 119 L1798.5 122.4 L1799.5 125.8 L1800.5 129.2 L1801.5 132.5 L1802.5 135.8 L1803.5 139 L1804.5 142.1 L1805.5 145.2 L1806.5 148.1 L1807.5 151 L1808.5 153.8 L1809.5 156.5 L1810.5 159.1 L1811.5 161.6 L1812.5 163.9 L1813.5 166.2 L1814.5 168.3 L1815.5 170.4 L1816.5 172.3 L1817.5 174.1 L1818.5 175.8 L1819.5 177.4 L1820.5 178.9 L1821.5 180.4 L1822.5 181.7 L1823.5 182.9 L1824.5 184 L1825.5 185.1 L1826.5 186.1 L1827.5 187 L1828.5 187.8 L1829.5 188.6 L1830.5 189.3 L1831.5 190 L1832.5 190.5 L1833.5 191.1 L1834.5 191.6 L1835.5 192 L1836.5 192.4 L1837.5 192.8 L1838.5 193.2 L1839.5 193.5 L1840.5 193.8 L1841.5 194 L1842.5 194.2 L1843.5 194.5 L1844.5 194.6 L1845.5 194.8 L1846.5 195 L1847.5 195.1 L1848.5 195.2 L1849.5 195.4 L1850.5 195.5 L1851.5 195.6 L1852.5 195.7 L1853.5 195.7 L1854.5 195.8 L1855.5 195.9 L1856.5 196 L1857.5 196 L1858.5 196.1 L1859.5 196.1 L1860.5 196.2 L1861.5 196.2 L1862.5 196.3 L1863.5 196.3 L1864.5 196.3 L1865.5 196.4 L1866.5 196.4 L1867.5 196.4 L1868.5 196.5 L1869.5 196.5 L1870.5 196.5 L1871.5 196.6 L1872.5 196.6 L1873.5 196.6 L1874.5 196.6 L1875.5 196.7 L1876.5 196.7 L1877.5 196.7 L1878.5 196.7 L1879.5 196.7 L1880.5 196.8 L1881.5 196.8 L1882.5 196.8 L1883.5 196.8 L1884.5 196.8 L1885.5 196.9 L1886.5 196.9 L1887.5 196.9 L1888.5 196.9 L1889.5 196.9 L1890.5 196.9 L1891.5 197 L1892.5 197 L1893.5 197 L1894.5 197 L1895.5 197 L1896.5 197 L1897.5 197.1 L1898.5 197.1 L1899.5 197.1 L1900.5 197.1 L1901.5 197.1 L1902.5 197.1 L1903.5 197.1 L1904.5 197.1 L1905.5 197.1 L1906.5 197.2 L1907.5 197.2 L1908.5 197.2 L1909.5 197.2 L1910.5 197.2 L1911.5 197.2 L1912.5 197.2 L1913.5 197.2 L1914.5 197.2 L1915.5 197.2 L1916.5 197.3 L1917.5 197.3 L1918.5 197.3 L1919.5 197.3 L1920.5 197.3 L1921.5 197.3 L1922.5 197.3 L1923.5 197.3 L1924.5 197.3 L1925.5 197.3 L1926.5 197.3 L1927.5 197.3 L1928.5 197.4 L1929.5 197.4 L1930.5 197.4 L1931.5 197.4 L1932.5 197.4 L1933.5 197.4 L1934.5 197.4 L1935.5 197.4 L1936.5 197.4 L1937.5 197.4 L1938.5 197.4 L1939.5 197.4 L1940.5 197.4 L1941.5 197.4 L1942.5 197.4 L1943.5 197.4 L1944.5 197.4 L1945.5 197.5 L1946.5 197.5 L1947.5 197.5 L1948.5 197.5 L1949.5 197.5 L1950.5 197.5 L1951.5 197.5 L1952.5 197.5 L1953.5 197.5 L1954.5 197.5 L1955.5 197.5 L1956.5 197.5 L1957.5 197.5 L1958.5 197.5 L1959.5 197.5 L1960.5 197.5 L1961.5 197.5 L1962.5 197.5 L1963.5 197.5 L1964.5 197.5 L1965.5 197.5 L1966.5 197.5 L1967.5 197.5 L1968.5 197.6 L1969.5 197.6 L1970.5 197.6 L1971.5 197.6 L1972.5 197.6 L1973.5 197.6 L1974.5 197.6 L1975.5 197.6 L1976.5 197.6 L1977.5 197.6 L1978.5 197.6 L1979.5 197.6 L1980.5 197.6 L1981.5 197.6 L1982.5 197.6 L1983.5 197.6 L1984.5 197.6 L1985.5 197.6 L1986.5 197.6 L1987.5 197.6" fill="none" stroke="#ff00ff" stroke-width="1.3" stroke-linejoin="round" />
<path d="M1447.5 269.4 L1451 271.6 L1454.5 271.6 L1458 270.4 L1461.5 269.7 L1465 271.7 L1468.4 270.5 L1471.9 271.2 L1475.4 270.9 L1478.9 270.9 L1482.4 270.9 L1485.9 271.8 L1489.4 272.5 L1492.9 270.4 L1496.4 271.8 L1499.9 272.8 L1503.3 273 L1506.8 273.8 L1510.3 270.4 L1513.8 272.5 L1517.3 270.5 L1520.8 269.4 L1524.3 271.2 L1527.8 272.7 L1531.3 272.7 L1534.8 272.1 L1538.2 272.1 L1541.7 270.2 L1545.2 270.5 L1548.7 274.3 L1552.2 269.8 L1555.7 269.3 L1559.2 270.9 L1562.7 270.1 L1566.2 270.5 L1569.7 271.2 L1573.1 271 L1576.6 270.9 L1580.1 269.8 L1583.6 271.2 L1587.1 270.8 L1590.6 269.4 L1594.1 273 L1597.6 271.9 L1601.1 270.2 L1604.6 268.5 L1608 270.4 L1611.5 270.2 L1615 269.7 L1618.5 271.7 L1622 272.3 L1625.5 270.7 L1629 271.4 L1632.5 272.1 L1636 271.3 L1639.5 270 L1642.9 271.2 L1646.4 269.7 L1649.9 270.7 L1653.4 271.5 L1656.9 269.7 L1660.4 269.1 L1663.9 273.6 L1667.4 270.4 L1670.9 270 L1674.4 270.9 L1677.8 271.6 L1681.3 272 L1684.8 272.6 L1688.3 272.8 L1691.8 271.7 L1695.3 269.5 L1698.8 270 L1702.3 271.7 L1705.8 272.2 L1709.3 273 L1712.7 271.8 L1716.2 269.7 L1719.7 269.8 L1723.2 271.2 L1726.7 272.6 L1730.2 273.1 L1733.7 272.8 L1737.2 270.2 L1740.7 269.9 L1744.2 271.6 L1747.6 272 L1751.1 272.5 L1754.6 270.3 L1758.1 271.2 L1761.6 268.2 L1765.1 268.8 L1768.6 271 L1772.1 270.8 L1775.6 272 L1779.1 271.5 L1782.5 271.1 L1786 272.1 L1789.5 270.6 L1793 272.4 L1796.5 271.4 L1800 271.5 L1803.5 271.9 L1807 270.8 L1810.5 271 L1814 271.6 L1817.4 270.8 L1820.9 273.6 L1824.4 271.4 L1827.9 270.5 L1831.4 272.6 L1834.9 272.6 L1838.4 272.8 L1841.9 270 L1845.4 269.9 L1848.9 271.1 L1852.3 272.8 L1855.8 271 L1859.3 270.6 L1862.8 273.5 L1866.3 272.9 L1869.8 272 L1873.3 271.4 L1876.8 272.6 L1880.3 269.7 L1883.8 269 L1887.2 270 L1890.7 271 L1894.2 271.3 L1897.7 268.6 L1901.2 269.9 L1904.7 270.2 L1908.2 274.1 L1911.7 272.7 L1915.2 272.3 L1918.7 271.2 L1922.1 270.5 L1925.6 270 L1929.1 271.7 L1932.6 273.4 L1936.1 270.5 L1939.6 271 L1943.1 272.5 L1946.6 273.4 L1950.1 271.5 L1953.6 272.8 L1957 270.9 L1960.5 270.9 L1964 271 L1967.5 270.8 L1971 272.6 L1974.5 272.9 L1978 275.4 L1981.5 273.3 L1985 270.5" fill="none" stroke="#000000" stroke-width="1.1" stroke-linejoin="round" />
<path d="M1447.5 384.2 L1451 383.4 L1454.5 382.9 L1458 382.3 L1461.5 381.8 L1465 384 L1468.4 385 L1471.9 382.5 L1475.4 383.5 L1478.9 385.3 L1482.4 387 L1485.9 386.7 L1489.4 385.1 L1492.9 383.8 L1496.4 385 L1499.9 386.6 L1503.3 386.5 L1506.8 385.2 L1510.3 385 L1513.8 383 L1517.3 384.1 L1520.8 386.4 L1524.3 385.1 L1527.8 384.4 L1531.3 385.9 L1534.8 385.1 L1538.2 386.3 L1541.7 385.8 L1545.2 385.8 L1548.7 384.5 L1552.2 384.7 L1555.7 386.7 L1559.2 383.8 L1562.7 385.2 L1566.2 382.7 L1569.7 382.8 L1573.1 385 L1576.6 384 L1580.1 384.3 L1583.6 386 L1587.1 385.5 L1590.6 382.1 L1594.1 384 L1597.6 386.1 L1601.1 385.1 L1604.6 384.4 L1608 384.3 L1611.5 382.3 L1615 382.8 L1618.5 386.1 L1622 386.7 L1625.5 385.8 L1629 384.2 L1632.5 383.6 L1636 384.8 L1639.5 384.8 L1642.9 384.4 L1646.4 383.7 L1649.9 384.6 L1653.4 383.8 L1656.9 383.5 L1660.4 385.2 L1663.9 382.6 L1667.4 383.6 L1670.9 383.3 L1674.4 380.5 L1677.8 381.1 L1681.3 382.1 L1684.8 384.7 L1688.3 386.1 L1691.8 387.7 L1695.3 385.3 L1698.8 383.6 L1702.3 383.9 L1705.8 386.1 L1709.3 386.2 L1712.7 384.8 L1716.2 383.3 L1719.7 386.2 L1723.2 383.6 L1726.7 382.9 L1730.2 383.9 L1733.7 385 L1737.2 383.1 L1740.7 385.1 L1744.2 385 L1747.6 383 L1751.1 382.8 L1754.6 383.8 L1758.1 383.6 L1761.6 385 L1765.1 383.7 L1768.6 384.2 L1772.1 387 L1775.6 386 L1779.1 385.7 L1782.5 386 L1786 382.6 L1789.5 384.6 L1793 385 L1796.5 385.2 L1800 386.2 L1803.5 385.6 L1807 384.9 L1810.5 382.9 L1814 384.4 L1817.4 384.9 L1820.9 384.9 L1824.4 385.8 L1827.9 383.6 L1831.4 384.8 L1834.9 386.6 L1838.4 384.7 L1841.9 381.9 L1845.4 385.7 L1848.9 386.5 L1852.3 385.3 L1855.8 384.6 L1859.3 383.6 L1862.8 383.1 L1866.3 384 L1869.8 384.5 L1873.3 383.9 L1876.8 383 L1880.3 383.9 L1883.8 383 L1887.2 381.5 L1890.7 381.5 L1894.2 381.3 L1897.7 383.9 L1901.2 383.7 L1904.7 384.7 L1908.2 385.2 L1911.7 386.6 L1915.2 386.3 L1918.7 385.7 L1922.1 384.1 L1925.6 381.7 L1929.1 383.8 L1932.6 386.1 L1936.1 384.5 L1939.6 383.3 L1943.1 383.4 L1946.6 383.1 L1950.1 385.2 L1953.6 384.8 L1957 385.1 L1960.5 385.2 L1964 383.4 L1967.5 386 L1971 385.3 L1974.5 383.2 L1978 385.5 L1981.5 386 L1985 384.3" fill="none" stroke="#000000" stroke-width="1.1" stroke-linejoin="round" />
<path d="M1447.5 337.2 L1448.5 337.2 L1449.5 337.2 L1450.5 337.2 L1451.5 337.2 L1452.5 337.2 L1453.5 337.2 L1454.5 337.2 L1455.5 337.2 L1456.5 337.2 L1457.5 337.2 L1458.5 337.2 L1459.5 337.2 L1460.5 337.2 L1461.5 337.2 L1462.5 337.2 L1463.5 337.2 L1464.5 337.2 L1465.5 337.2 L1466.5 337.2 L1467.5 337.2 L1468.5 337.2 L1469.5 337.2 L1470.5 337.2 L1471.5 337.2 L1472.5 337.2 L1473.5 337.2 L1474.5 337.2 L1475.5 337.2 L1476.5 337.2 L1477.5 337.2 L1478.5 337.2 L1479.5 337.2 L1480.5 337.2 L1481.5 337.2 L1482.5 337.2 L1483.5 337.2 L1484.5 337.2 L1485.5 337.2 L1486.5 337.2 L1487.5 337.2 L1488.5 337.2 L1489.5 337.2 L1490.5 337.2 L1491.5 337.2 L1492.5 337.2 L1493.5 337.2 L1494.5 337.2 L1495.5 337.2 L1496.5 337.2 L1497.5 337.2 L1498.5 337.2 L1499.5 337.2 L1500.5 337.2 L1501.5 337.2 L1502.5 337.2 L1503.5 337.2 L1504.5 337.2 L1505.5 337.2 L1506.5 337.2 L1507.5 337.2 L1508.5 337.2 L1509.5 337.2 L1510.5 337.2 L1511.5 337.2 L1512.5 337.2 L1513.5 337.2 L1514.5 337.2 L1515.5 337.2 L1516.5 337.2 L1517.5 337.2 L1518.5 337.2 L1519.5 337.2 L1520.5 337.2 L1521.5 337.2 L1522.5 337.2 L1523.5 337.2 L1524.5 337.2 L1525.5 337.2 L1526.5 337.2 L1527.5 337.2 L1528.5 337.2 L1529.5 337.2 L1530.5 337.2 L1531.5 337.2 L1532.5 337.2 L1533.5 337.2 L1534.5 337.2 L1535.5 337.2 L1536.5 337.2 L1537.5 337.2 L1538.5 337.2 L1539.5 337.2 L1540.5 337.2 L1541.5 337.2 L1542.5 337.2 L1543.5 337.2 L1544.5 337.2 L1545.5 337.2 L1546.5 337.2 L1547.5 337.2 L1548.5 337.2 L1549.5 337.2 L1550.5 337.2 L1551.5 337.2 L1552.5 337.2 L1553.5 337.2 L1554.5 337.2 L1555.5 337.2 L1556.5 337.2 L1557.5 337.2 L1558.5 337.2 L1559.5 337.2 L1560.5 337.2 L1561.5 337.2 L1562.5 337.2 L1563.5 337.2 L1564.5 337.2 L1565.5 337.2 L1566.5 337.2 L1567.5 337.2 L1568.5 337.2 L1569.5 337.2 L1570.5 337.2 L1571.5 337.2 L1572.5 337.2 L1573.5 337.2 L1574.5 337.2 L1575.5 337.2 L1576.5 337.2 L1577.5 337.2 L1578.5 337.2 L1579.5 337.2 L1580.5 337.2 L1581.5 337.2 L1582.5 337.2 L1583.5 337.2 L1584.5 337.2 L1585.5 337.2 L1586.5 337.2 L1587.5 337.2 L1588.5 337.2 L1589.5 337.2 L1590.5 337.2 L1591.5 337.2 L1592.5 337.2 L1593.5 337.2 L1594.5 337.2 L1595.5 337.2 L1596.5 337.2 L1597.5 337.2 L1598.5 337.2 L1599.5 337.2 L1600.5 337.2 L1601.5 337.2 L1602.5 337.2 L1603.5 337.2 L1604.5 337.2 L1605.5 337.2 L1606.5 337.2 L1607.5 337.2 L1608.5 337.2 L1609.5 337.2 L1610.5 337.2 L1611.5 337.2 L1612.5 337.2 L1613.5 337.2 L1614.5 337.2 L1615.5 337.2 L1616.5 337.2 L1617.5 337.2 L1618.5 337.2 L1619.5 337.2 L1620.5 337.2 L1621.5 337.2 L1622.5 337.2 L1623.5 337.2 L1624.5 337.2 L1625.5 337.2 L1626.5 337.2 L1627.5 337.2 L1628.5 337.2 L1629.5 337.2 L1630.5 337.2 L1631.5 337.2 L1632.5 337.2 L1633.5 337.2 L1634.5 337.2 L1635.5 337.2 L1636.5 337.2 L1637.5 337.2 L1638.5 337.2 L1639.5 337.2 L1640.5 337.2 L1641.5 337.2 L1642.5 337.2 L1643.5 337.2 L1644.5 337.2 L1645.5 337.2 L1646.5 337.2 L1647.5 337.2 L1648.5 337.2 L1649.5 337.2 L1650.5 337.2 L1651.5 337.2 L1652.5 337.2 L1653.5 337.2 L1654.5 337.2 L1655.5 337.2 L1656.5 337.2 L1657.5 337.2 L1658.5 337.2 L1659.5 337.2 L1660.5 337.2 L1661.5 337.2 L1662.5 337.2 L1663.5 337.2 L1664.5 337.2 L1665.5 337.2 L1666.5 337.2 L1667.5 337.2 L1668.5 337.2 L1669.5 337.2 L1670.5 337.2 L1671.5 337.2 L1672.5 337.2 L1673.5 337.2 L1674.5 337.2 L1675.5 337.2 L1676.5 337.2 L1677.5 337.2 L1678.5 337.2 L1679.5 337.2 L1680.5 337.2 L1681.5 337.2 L1682.5 337.2 L1683.5 337.2 L1684.5 337.2 L1685.5 337.2 L1686.5 337.2 L1687.5 337.2 L1688.5 337.2 L1689.5 337.2 L1690.5 337.2 L1691.5 337.2 L1692.5 337.2 L1693.5 337.2 L1694.5 337.2 L1695.5 337.2 L1696.5 337.2 L1697.5 337.2 L1698.5 337.2 L1699.5 337.2 L1700.5 337.2 L1701.5 337.2 L1702.5 337.2 L1703.5 337.2 L1704.5 337.2 L1705.5 337.2 L1706.5 337.2 L1707.5 337.2 L1708.5 337.2 L1709.5 337.2 L1710.5 337.2 L1711.5 337.2 L1712.5 337.2 L1713.5 337.2 L1714.5 337.2 L1715.5 337.2 L1716.5 337.2 L1717.5 337.2 L1718.5 337.2 L1719.5 337.2 L1720.5 337.2 L1721.5 337.2 L1722.5 337.2 L1723.5 337.2 L1724.5 337.2 L1725.5 337.2 L1726.5 337.2 L1727.5 337.2 L1728.5 337.2 L1729.5 337.2 L1730.5 337.2 L1731.5 337.2 L1732.5 337.2 L1733.5 337.2 L1734.5 337.2 L1735.5 337.2 L1736.5 337.2 L1737.5 337.2 L1738.5 337.2 L1739.5 337.2 L1740.5 337.2 L1741.5 337.2 L1742.5 337.2 L1743.5 337.2 L1744.5 337.2 L1745.5 337.2 L1746.5 337.2 L1747.5 337.2 L1748.5 337.2 L1749.5 337.2 L1750.5 337.2 L1751.5 337.2 L1752.5 337.2 L1753.5 337.2 L1754.5 337.2 L1755.5 337.2 L1756.5 337.2 L1757.5 337.2 L1758.5 337.2 L1759.5 337.2 L1760.5 337.2 L1761.5 337.2 L1762.5 337.2 L1763.5 337.2 L1764.5 337.2 L1765.5 337.2 L1766.5 337.2 L1767.5 337.2 L1768.5 337.2 L1769.5 337.2 L1770.5 337.2 L1771.5 337.2 L1772.5 337.2 L1773.5 337.2 L1774.5 337.2 L1775.5 337.2 L1776.5 337.2 L1777.5 337.2 L1778.5 337.2 L1779.5 337.2 L1780.5 337.2 L1781.5 337.2 L1782.5 337.2 L1783.5 337.2 L1784.5 337.2 L1785.5 337.2 L1786.5 337.2 L1787.5 337.2 L1788.5 337.2 L1789.5 337.2 L1790.5 337.2 L1791.5 337.2 L1792.5 337.2 L1793.5 337.2 L1794.5 337.2 L1795.5 337.2 L1796.5 337.2 L1797.5 337.2 L1798.5 337.2 L1799.5 337.2 L1800.5 337.2 L1801.5 337.2 L1802.5 337.2 L1803.5 337.2 L1804.5 337.2 L1805.5 337.2 L1806.5 337.2 L1807.5 337.2 L1808.5 337.2 L1809.5 337.2 L1810.5 337.2 L1811.5 337.2 L1812.5 337.2 L1813.5 337.2 L1814.5 337.2 L1815.5 337.2 L1816.5 337.2 L1817.5 337.2 L1818.5 337.2 L1819.5 337.2 L1820.5 337.2 L1821.5 337.2 L1822.5 337.2 L1823.5 337.2 L1824.5 337.2 L1825.5 337.2 L1826.5 337.2 L1827.5 337.2 L1828.5 337.2 L1829.5 337.2 L1830.5 337.2 L1831.5 337.2 L1832.5 337.2 L1833.5 337.2 L1834.5 337.2 L1835.5 337.2 L1836.5 337.2 L1837.5 337.2 L1838.5 337.2 L1839.5 337.2 L1840.5 337.2 L1841.5 337.2 L1842.5 337.2 L1843.5 337.2 L1844.5 337.2 L1845.5 337.2 L1846.5 337.2 L1847.5 337.2 L1848.5 337.2 L1849.5 337.2 L1850.5 337.2 L1851.5 337.2 L1852.5 337.2 L1853.5 337.2 L1854.5 337.2 L1855.5 337.2 L1856.5 337.2 L1857.5 337.2 L1858.5 337.2 L1859.5 337.2 L1860.5 337.2 L1861.5 337.2 L1862.5 337.2 L1863.5 337.2 L1864.5 337.2 L1865.5 337.2 L1866.5 337.2 L1867.5 337.2 L1868.5 337.2 L1869.5 337.2 L1870.5 337.2 L1871.5 337.2 L1872.5 337.2 L1873.5 337.2 L1874.5 337.2 L1875.5 337.2 L1876.5 337.2 L1877.5 337.2 L1878.5 337.2 L1879.5 337.2 L1880.5 337.2 L1881.5 337.2 L1882.5 337.2 L1883.5 337.2 L1884.5 337.2 L1885.5 337.2 L1886.5 337.2 L1887.5 337.2 L1888.5 337.2 L1889.5 337.2 L1890.5 337.2 L1891.5 337.2 L1892.5 337.2 L1893.5 337.2 L1894.5 337.2 L1895.5 337.2 L1896.5 337.2 L1897.5 337.2 L1898.5 337.2 L1899.5 337.2 L1900.5 337.2 L1901.5 337.2 L1902.5 337.2 L1903.5 337.2 L1904.5 337.2 L1905.5 337.2 L1906.5 337.2 L1907.5 337.2 L1908.5 337.2 L1909.5 337.2 L1910.5 337.2 L1911.5 337.2 L1912.5 337.2 L1913.5 337.2 L1914.5 337.2 L1915.5 337.2 L1916.5 337.2 L1917.5 337.2 L1918.5 337.2 L1919.5 337.2 L1920.5 337.2 L1921.5 337.2 L1922.5 337.2 L1923.5 337.2 L1924.5 337.2 L1925.5 337.2 L1926.5 337.2 L1927.5 337.2 L1928.5 337.2 L1929.5 337.2 L1930.5 337.2 L1931.5 337.2 L1932.5 337.2 L1933.5 337.2 L1934.5 337.2 L1935.5 337.2 L1936.5 337.2 L1937.5 337.2 L1938.5 337.2 L1939.5 337.2 L1940.5 337.2 L1941.5 337.2 L1942.5 337.2 L1943.5 337.2 L1944.5 337.2 L1945.5 337.2 L1946.5 337.2 L1947.5 337.2 L1948.5 337.2 L1949.5 337.2 L1950.5 337.2 L1951.5 337.2 L1952.5 337.2 L1953.5 337.2 L1954.5 337.2 L1955.5 337.2 L1956.5 337.2 L1957.5 337.2 L1958.5 337.2 L1959.5 337.2 L1960.5 337.2 L1961.5 337.2 L1962.5 337.2 L1963.5 337.2 L1964.5 337.2 L1965.5 337.2 L1966.5 337.2 L1967.5 337.2 L1968.5 337.2 L1969.5 337.2 L1970.5 337.2 L1971.5 337.2 L1972.5 337.2 L1973.5 337.2 L1974.5 337.2 L1975.5 337.2 L1976.5 337.2 L1977.5 337.2 L1978.5 337.2 L1979.5 337.2 L1980.5 337.2 L1981.5 337.2 L1982.5 337.2 L1983.5 337.2 L1984.5 337.2 L1985.5 337.2 L1986.5 337.2 L1987.5 337.2" fill="none" stroke="#0000ff" stroke-width="1.3" stroke-linejoin="round" />
<path d="M1447.5 335 L1451 333.6 L1454.5 335.1 L1458 335.9 L1461.5 333.7 L1465 333.4 L1468.4 332.9 L1471.9 332.2 L1475.4 335.7 L1478.9 335.2 L1482.4 335.1 L1485.9 335.3 L1489.4 334.7 L1492.9 333.3 L1496.4 332.6 L1499.9 334.3 L1503.3 336 L1506.8 333 L1510.3 332.2 L1513.8 333.6 L1517.3 335.5 L1520.8 335.7 L1524.3 335.6 L1527.8 335.1 L1531.3 333.3 L1534.8 333.4 L1538.2 335.5 L1541.7 335 L1545.2 332.5 L1548.7 334.6 L1552.2 334.9 L1555.7 334.3 L1559.2 335.6 L1562.7 333.1 L1566.2 330.9 L1569.7 328.1 L1573.1 329.5 L1576.6 331 L1580.1 329.8 L1583.6 328.6 L1587.1 328.9 L1590.6 328 L1594.1 326.9 L1597.6 325.5 L1601.1 324.5 L1604.6 325.2 L1608 324.1 L1611.5 322.7 L1615 322.2 L1618.5 322.6 L1622 323.5 L1625.5 324.5 L1629 324.8 L1632.5 324.7 L1636 323.6 L1639.5 326.3 L1642.9 326.6 L1646.4 327.4 L1649.9 330.3 L1653.4 330.9 L1656.9 329.7 L1660.4 331.5 L1663.9 331.9 L1667.4 331.5 L1670.9 333.8 L1674.4 334.6 L1677.8 337.4 L1681.3 334.3 L1684.8 333 L1688.3 334.4 L1691.8 335.8 L1695.3 334.6 L1698.8 335.8 L1702.3 335.3 L1705.8 333.4 L1709.3 333.5 L1712.7 333.9 L1716.2 333.8 L1719.7 333.2 L1723.2 333.2 L1726.7 334.6 L1730.2 335.1 L1733.7 335.9 L1737.2 333 L1740.7 330.7 L1744.2 333.8 L1747.6 333.2 L1751.1 331.6 L1754.6 329.5 L1758.1 329.5 L1761.6 329.2 L1765.1 328.3 L1768.6 329 L1772.1 326.9 L1775.6 326.3 L1779.1 324.3 L1782.5 325.5 L1786 325.1 L1789.5 327.6 L1793 326.1 L1796.5 328 L1800 327.5 L1803.5 325.7 L1807 328 L1810.5 329.8 L1814 329.1 L1817.4 328.6 L1820.9 327.7 L1824.4 329.9 L1827.9 332.5 L1831.4 330.6 L1834.9 332 L1838.4 335.4 L1841.9 332.6 L1845.4 333.4 L1848.9 335 L1852.3 333.7 L1855.8 334.2 L1859.3 333.2 L1862.8 334.2 L1866.3 336.5 L1869.8 335 L1873.3 333.5 L1876.8 331.7 L1880.3 335.4 L1883.8 337.8 L1887.2 335.1 L1890.7 334.3 L1894.2 334.4 L1897.7 336 L1901.2 333.5 L1904.7 334.3 L1908.2 332.3 L1911.7 333.9 L1915.2 334.1 L1918.7 335.6 L1922.1 336 L1925.6 334.2 L1929.1 333.3 L1932.6 332.7 L1936.1 335.7 L1939.6 336.8 L1943.1 334.5 L1946.6 332.6 L1950.1 334.3 L1953.6 334.9 L1957 334 L1960.5 334.4 L1964 335.4 L1967.5 334.9 L1971 335.3 L1974.5 334.9 L1978 334.9 L1981.5 334.1 L1985 335.1" fill="none" stroke="#000000" stroke-width="1.1" stroke-linejoin="round" />
<path d="M1447.5 336.5 L1448.5 336.5 L1449.5 336.5 L1450.5 336.5 L1451.5 336.5 L1452.5 336.5 L1453.5 336.5 L1454.5 336.5 L1455.5 336.5 L1456.5 336.5 L1457.5 336.5 L1458.5 336.5 L1459.5 336.5 L1460.5 336.5 L1461.5 336.5 L1462.5 336.5 L1463.5 336.5 L1464.5 336.5 L1465.5 336.5 L1466.5 336.5 L1467.5 336.5 L1468.5 336.5 L1469.5 336.5 L1470.5 336.5 L1471.5 336.5 L1472.5 336.5 L1473.5 336.5 L1474.5 336.5 L1475.5 336.5 L1476.5 336.5 L1477.5 336.5 L1478.5 336.5 L1479.5 336.5 L1480.5 336.5 L1481.5 336.5 L1482.5 336.5 L1483.5 336.5 L1484.5 336.5 L1485.5 336.5 L1486.5 336.5 L1487.5 336.5 L1488.5 336.5 L1489.5 336.5 L1490.5 336.5 L1491.5 336.5 L1492.5 336.5 L1493.5 336.5 L1494.5 336.5 L1495.5 336.5 L1496.5 336.5 L1497.5 336.5 L1498.5 336.5 L1499.5 336.5 L1500.5 336.5 L1501.5 336.5 L1502.5 336.4 L1503.5 336.4 L1504.5 336.4 L1505.5 336.4 L1506.5 336.4 L1507.5 336.4 L1508.5 336.4 L1509.5 336.4 L1510.5 336.4 L1511.5 336.4 L1512.5 336.4 L1513.5 336.4 L1514.5 336.4 L1515.5 336.4 L1516.5 336.4 L1517.5 336.4 L1518.5 336.4 L1519.5 336.4 L1520.5 336.4 L1521.5 336.4 L1522.5 336.4 L1523.5 336.3 L1524.5 336.3 L1525.5 336.3 L1526.5 336.3 L1527.5 336.3 L1528.5 336.3 L1529.5 336.3 L1530.5 336.3 L1531.5 336.2 L1532.5 336.2 L1533.5 336.2 L1534.5 336.2 L1535.5 336.2 L1536.5 336.1 L1537.5 336.1 L1538.5 336.1 L1539.5 336.1 L1540.5 336 L1541.5 336 L1542.5 336 L1543.5 335.9 L1544.5 335.9 L1545.5 335.9 L1546.5 335.8 L1547.5 335.8 L1548.5 335.7 L1549.5 335.6 L1550.5 335.6 L1551.5 335.5 L1552.5 335.5 L1553.5 335.4 L1554.5 335.3 L1555.5 335.2 L1556.5 335.1 L1557.5 335 L1558.5 334.9 L1559.5 334.8 L1560.5 334.7 L1561.5 334.6 L1562.5 334.5 L1563.5 334.4 L1564.5 334.2 L1565.5 334.1 L1566.5 334 L1567.5 333.8 L1568.5 333.7 L1569.5 333.5 L1570.5 333.3 L1571.5 333.2 L1572.5 333 L1573.5 332.8 L1574.5 332.6 L1575.5 332.4 L1576.5 332.2 L1577.5 332 L1578.5 331.8 L1579.5 331.6 L1580.5 331.4 L1581.5 331.1 L1582.5 330.9 L1583.5 330.7 L1584.5 330.4 L1585.5 330.2 L1586.5 330 L1587.5 329.7 L1588.5 329.5 L1589.5 329.2 L1590.5 329 L1591.5 328.7 L1592.5 328.5 L1593.5 328.3 L1594.5 328 L1595.5 327.8 L1596.5 327.6 L1597.5 327.4 L1598.5 327.1 L1599.5 326.9 L1600.5 326.7 L1601.5 326.5 L1602.5 326.3 L1603.5 326.2 L1604.5 326 L1605.5 325.9 L1606.5 325.7 L1607.5 325.6 L1608.5 325.5 L1609.5 325.4 L1610.5 325.3 L1611.5 325.2 L1612.5 325.1 L1613.5 325.1 L1614.5 325.1 L1615.5 325.1 L1616.5 325.1 L1617.5 325.1 L1618.5 325.1 L1619.5 325.2 L1620.5 325.2 L1621.5 325.3 L1622.5 325.4 L1623.5 325.5 L1624.5 325.6 L1625.5 325.8 L1626.5 325.9 L1627.5 326.1 L1628.5 326.2 L1629.5 326.4 L1630.5 326.6 L1631.5 326.8 L1632.5 327 L1633.5 327.2 L1634.5 327.4 L1635.5 327.6 L1636.5 327.9 L1637.5 328.1 L1638.5 328.3 L1639.5 328.6 L1640.5 328.8 L1641.5 329.1 L1642.5 329.3 L1643.5 329.5 L1644.5 329.8 L1645.5 330 L1646.5 330.3 L1647.5 330.5 L1648.5 330.7 L1649.5 331 L1650.5 331.2 L1651.5 331.4 L1652.5 331.6 L1653.5 331.8 L1654.5 332 L1655.5 332.3 L1656.5 332.4 L1657.5 332.6 L1658.5 332.8 L1659.5 333 L1660.5 333.2 L1661.5 333.4 L1662.5 333.5 L1663.5 333.7 L1664.5 333.8 L1665.5 334 L1666.5 334.1 L1667.5 334.2 L1668.5 334.4 L1669.5 334.5 L1670.5 334.6 L1671.5 334.7 L1672.5 334.8 L1673.5 334.9 L1674.5 335 L1675.5 335.1 L1676.5 335.2 L1677.5 335.3 L1678.5 335.3 L1679.5 335.4 L1680.5 335.5 L1681.5 335.5 L1682.5 335.6 L1683.5 335.6 L1684.5 335.7 L1685.5 335.7 L1686.5 335.8 L1687.5 335.8 L1688.5 335.8 L1689.5 335.9 L1690.5 335.9 L1691.5 335.9 L1692.5 336 L1693.5 336 L1694.5 336 L1695.5 336 L1696.5 336 L1697.5 336.1 L1698.5 336.1 L1699.5 336.1 L1700.5 336.1 L1701.5 336.1 L1702.5 336.1 L1703.5 336.1 L1704.5 336.1 L1705.5 336.1 L1706.5 336.1 L1707.5 336.1 L1708.5 336.1 L1709.5 336.1 L1710.5 336.1 L1711.5 336.1 L1712.5 336 L1713.5 336 L1714.5 336 L1715.5 336 L1716.5 336 L1717.5 335.9 L1718.5 335.9 L1719.5 335.9 L1720.5 335.9 L1721.5 335.8 L1722.5 335.8 L1723.5 335.7 L1724.5 335.7 L1725.5 335.6 L1726.5 335.6 L1727.5 335.5 L1728.5 335.5 L1729.5 335.4 L1730.5 335.3 L1731.5 335.3 L1732.5 335.2 L1733.5 335.1 L1734.5 335 L1735.5 334.9 L1736.5 334.8 L1737.5 334.7 L1738.5 334.6 L1739.5 334.5 L1740.5 334.4 L1741.5 334.2 L1742.5 334.1 L1743.5 334 L1744.5 333.8 L1745.5 333.7 L1746.5 333.5 L1747.5 333.4 L1748.5 333.2 L1749.5 333.1 L1750.5 332.9 L1751.5 332.7 L1752.5 332.5 L1753.5 332.4 L1754.5 332.2 L1755.5 332 L1756.5 331.8 L1757.5 331.6 L1758.5 331.4 L1759.5 331.2 L1760.5 331 L1761.5 330.9 L1762.5 330.7 L1763.5 330.5 L1764.5 330.3 L1765.5 330.1 L1766.5 329.9 L1767.5 329.7 L1768.5 329.6 L1769.5 329.4 L1770.5 329.3 L1771.5 329.1 L1772.5 329 L1773.5 328.8 L1774.5 328.7 L1775.5 328.6 L1776.5 328.5 L1777.5 328.4 L1778.5 328.3 L1779.5 328.2 L1780.5 328.2 L1781.5 328.1 L1782.5 328.1 L1783.5 328 L1784.5 328 L1785.5 328 L1786.5 328.1 L1787.5 328.1 L1788.5 328.1 L1789.5 328.2 L1790.5 328.3 L1791.5 328.3 L1792.5 328.4 L1793.5 328.5 L1794.5 328.7 L1795.5 328.8 L1796.5 328.9 L1797.5 329.1 L1798.5 329.2 L1799.5 329.4 L1800.5 329.5 L1801.5 329.7 L1802.5 329.9 L1803.5 330.1 L1804.5 330.2 L1805.5 330.4 L1806.5 330.6 L1807.5 330.8 L1808.5 331 L1809.5 331.2 L1810.5 331.4 L1811.5 331.6 L1812.5 331.8 L1813.5 332 L1814.5 332.2 L1815.5 332.3 L1816.5 332.5 L1817.5 332.7 L1818.5 332.9 L1819.5 333 L1820.5 333.2 L1821.5 333.4 L1822.5 333.5 L1823.5 333.7 L1824.5 333.8 L1825.5 334 L1826.5 334.1 L1827.5 334.3 L1828.5 334.4 L1829.5 334.5 L1830.5 334.6 L1831.5 334.7 L1832.5 334.9 L1833.5 335 L1834.5 335.1 L1835.5 335.2 L1836.5 335.2 L1837.5 335.3 L1838.5 335.4 L1839.5 335.5 L1840.5 335.5 L1841.5 335.6 L1842.5 335.7 L1843.5 335.7 L1844.5 335.8 L1845.5 335.8 L1846.5 335.9 L1847.5 335.9 L1848.5 336 L1849.5 336 L1850.5 336 L1851.5 336.1 L1852.5 336.1 L1853.5 336.1 L1854.5 336.2 L1855.5 336.2 L1856.5 336.2 L1857.5 336.2 L1858.5 336.3 L1859.5 336.3 L1860.5 336.3 L1861.5 336.3 L1862.5 336.3 L1863.5 336.3 L1864.5 336.3 L1865.5 336.4 L1866.5 336.4 L1867.5 336.4 L1868.5 336.4 L1869.5 336.4 L1870.5 336.4 L1871.5 336.4 L1872.5 336.4 L1873.5 336.4 L1874.5 336.4 L1875.5 336.4 L1876.5 336.4 L1877.5 336.4 L1878.5 336.4 L1879.5 336.4 L1880.5 336.4 L1881.5 336.5 L1882.5 336.5 L1883.5 336.5 L1884.5 336.5 L1885.5 336.5 L1886.5 336.5 L1887.5 336.5 L1888.5 336.5 L1889.5 336.5 L1890.5 336.5 L1891.5 336.5 L1892.5 336.5 L1893.5 336.5 L1894.5 336.5 L1895.5 336.5 L1896.5 336.5 L1897.5 336.5 L1898.5 336.5 L1899.5 336.5 L1900.5 336.5 L1901.5 336.5 L1902.5 336.5 L1903.5 336.5 L1904.5 336.5 L1905.5 336.5 L1906.5 336.5 L1907.5 336.5 L1908.5 336.5 L1909.5 336.5 L1910.5 336.5 L1911.5 336.5 L1912.5 336.5 L1913.5 336.5 L1914.5 336.5 L1915.5 336.5 L1916.5 336.5 L1917.5 336.5 L1918.5 336.5 L1919.5 336.5 L1920.5 336.5 L1921.5 336.5 L1922.5 336.5 L1923.5 336.5 L1924.5 336.5 L1925.5 336.5 L1926.5 336.5 L1927.5 336.5 L1928.5 336.5 L1929.5 336.5 L1930.5 336.5 L1931.5 336.5 L1932.5 336.5 L1933.5 336.5 L1934.5 336.5 L1935.5 336.5 L1936.5 336.5 L1937.5 336.5 L1938.5 336.5 L1939.5 336.5 L1940.5 336.5 L1941.5 336.5 L1942.5 336.5 L1943.5 336.5 L1944.5 336.5 L1945.5 336.5 L1946.5 336.5 L1947.5 336.5 L1948.5 336.5 L1949.5 336.5 L1950.5 336.5 L1951.5 336.5 L1952.5 336.5 L1953.5 336.5 L1954.5 336.5 L1955.5 336.5 L1956.5 336.5 L1957.5 336.5 L1958.5 336.5 L1959.5 336.5 L1960.5 336.5 L1961.5 336.5 L1962.5 336.5 L1963.5 336.5 L1964.5 336.5 L1965.5 336.5 L1966.5 336.5 L1967.5 336.6 L1968.5 336.6 L1969.5 336.6 L1970.5 336.6 L1971.5 336.6 L1972.5 336.6 L1973.5 336.6 L1974.5 336.6 L1975.5 336.6 L1976.5 336.6 L1977.5 336.6 L1978.5 336.6 L1979.5 336.6 L1980.5 336.6 L1981.5 336.6 L1982.5 336.6 L1983.5 336.6 L1984.5 336.6 L1985.5 336.6 L1986.5 336.6 L1987.5 336.6" fill="none" stroke="#ff0000" stroke-width="1.1" stroke-linejoin="round" />
<path d="M1447.5 336.5 L1448.5 336.5 L1449.5 336.5 L1450.5 336.5 L1451.5 336.5 L1452.5 336.5 L1453.5 336.5 L1454.5 336.5 L1455.5 336.5 L1456.5 336.5 L1457.5 336.5 L1458.5 336.5 L1459.5 336.5 L1460.5 336.5 L1461.5 336.5 L1462.5 336.5 L1463.5 336.5 L1464.5 336.5 L1465.5 336.5 L1466.5 336.5 L1467.5 336.5 L1468.5 336.5 L1469.5 336.5 L1470.5 336.5 L1471.5 336.5 L1472.5 336.5 L1473.5 336.5 L1474.5 336.5 L1475.5 336.5 L1476.5 336.5 L1477.5 336.5 L1478.5 336.5 L1479.5 336.5 L1480.5 336.5 L1481.5 336.5 L1482.5 336.5 L1483.5 336.5 L1484.5 336.5 L1485.5 336.5 L1486.5 336.5 L1487.5 336.5 L1488.5 336.5 L1489.5 336.5 L1490.5 336.5 L1491.5 336.5 L1492.5 336.5 L1493.5 336.5 L1494.5 336.5 L1495.5 336.5 L1496.5 336.5 L1497.5 336.5 L1498.5 336.5 L1499.5 336.5 L1500.5 336.5 L1501.5 336.5 L1502.5 336.5 L1503.5 336.5 L1504.5 336.5 L1505.5 336.5 L1506.5 336.5 L1507.5 336.4 L1508.5 336.4 L1509.5 336.4 L1510.5 336.4 L1511.5 336.4 L1512.5 336.4 L1513.5 336.4 L1514.5 336.4 L1515.5 336.4 L1516.5 336.4 L1517.5 336.4 L1518.5 336.4 L1519.5 336.4 L1520.5 336.4 L1521.5 336.4 L1522.5 336.4 L1523.5 336.4 L1524.5 336.4 L1525.5 336.3 L1526.5 336.3 L1527.5 336.3 L1528.5 336.3 L1529.5 336.3 L1530.5 336.3 L1531.5 336.3 L1532.5 336.2 L1533.5 336.2 L1534.5 336.2 L1535.5 336.2 L1536.5 336.2 L1537.5 336.1 L1538.5 336.1 L1539.5 336.1 L1540.5 336.1 L1541.5 336 L1542.5 336 L1543.5 336 L1544.5 335.9 L1545.5 335.9 L1546.5 335.8 L1547.5 335.8 L1548.5 335.7 L1549.5 335.7 L1550.5 335.6 L1551.5 335.5 L1552.5 335.5 L1553.5 335.4 L1554.5 335.3 L1555.5 335.2 L1556.5 335.2 L1557.5 335.1 L1558.5 335 L1559.5 334.9 L1560.5 334.8 L1561.5 334.6 L1562.5 334.5 L1563.5 334.4 L1564.5 334.3 L1565.5 334.1 L1566.5 334 L1567.5 333.8 L1568.5 333.7 L1569.5 333.5 L1570.5 333.4 L1571.5 333.2 L1572.5 333 L1573.5 332.8 L1574.5 332.6 L1575.5 332.4 L1576.5 332.2 L1577.5 332 L1578.5 331.8 L1579.5 331.6 L1580.5 331.4 L1581.5 331.2 L1582.5 330.9 L1583.5 330.7 L1584.5 330.5 L1585.5 330.2 L1586.5 330 L1587.5 329.7 L1588.5 329.5 L1589.5 329.3 L1590.5 329 L1591.5 328.8 L1592.5 328.5 L1593.5 328.3 L1594.5 328.1 L1595.5 327.8 L1596.5 327.6 L1597.5 327.4 L1598.5 327.2 L1599.5 327 L1600.5 326.8 L1601.5 326.6 L1602.5 326.4 L1603.5 326.2 L1604.5 326 L1605.5 325.9 L1606.5 325.8 L1607.5 325.6 L1608.5 325.5 L1609.5 325.4 L1610.5 325.3 L1611.5 325.2 L1612.5 325.2 L1613.5 325.1 L1614.5 325.1 L1615.5 325.1 L1616.5 325.1 L1617.5 325.1 L1618.5 325.2 L1619.5 325.2 L1620.5 325.3 L1621.5 325.4 L1622.5 325.4 L1623.5 325.6 L1624.5 325.7 L1625.5 325.8 L1626.5 326 L1627.5 326.1 L1628.5 326.3 L1629.5 326.5 L1630.5 326.6 L1631.5 326.8 L1632.5 327 L1633.5 327.3 L1634.5 327.5 L1635.5 327.7 L1636.5 327.9 L1637.5 328.2 L1638.5 328.4 L1639.5 328.6 L1640.5 328.9 L1641.5 329.1 L1642.5 329.4 L1643.5 329.6 L1644.5 329.8 L1645.5 330.1 L1646.5 330.3 L1647.5 330.6 L1648.5 330.8 L1649.5 331 L1650.5 331.2 L1651.5 331.5 L1652.5 331.7 L1653.5 331.9 L1654.5 332.1 L1655.5 332.3 L1656.5 332.5 L1657.5 332.7 L1658.5 332.9 L1659.5 333.1 L1660.5 333.3 L1661.5 333.4 L1662.5 333.6 L1663.5 333.8 L1664.5 333.9 L1665.5 334.1 L1666.5 334.2 L1667.5 334.3 L1668.5 334.5 L1669.5 334.6 L1670.5 334.7 L1671.5 334.8 L1672.5 334.9 L1673.5 335 L1674.5 335.1 L1675.5 335.2 L1676.5 335.3 L1677.5 335.4 L1678.5 335.4 L1679.5 335.5 L1680.5 335.6 L1681.5 335.6 L1682.5 335.7 L1683.5 335.7 L1684.5 335.8 L1685.5 335.8 L1686.5 335.9 L1687.5 335.9 L1688.5 336 L1689.5 336 L1690.5 336 L1691.5 336.1 L1692.5 336.1 L1693.5 336.1 L1694.5 336.2 L1695.5 336.2 L1696.5 336.2 L1697.5 336.2 L1698.5 336.2 L1699.5 336.3 L1700.5 336.3 L1701.5 336.3 L1702.5 336.3 L1703.5 336.3 L1704.5 336.3 L1705.5 336.3 L1706.5 336.3 L1707.5 336.4 L1708.5 336.4 L1709.5 336.4 L1710.5 336.4 L1711.5 336.4 L1712.5 336.4 L1713.5 336.4 L1714.5 336.4 L1715.5 336.4 L1716.5 336.4 L1717.5 336.4 L1718.5 336.4 L1719.5 336.4 L1720.5 336.4 L1721.5 336.4 L1722.5 336.4 L1723.5 336.4 L1724.5 336.4 L1725.5 336.5 L1726.5 336.5 L1727.5 336.5 L1728.5 336.5 L1729.5 336.5 L1730.5 336.5 L1731.5 336.5 L1732.5 336.5 L1733.5 336.5 L1734.5 336.5 L1735.5 336.5 L1736.5 336.5 L1737.5 336.5 L1738.5 336.5 L1739.5 336.5 L1740.5 336.5 L1741.5 336.5 L1742.5 336.5 L1743.5 336.5 L1744.5 336.5 L1745.5 336.5 L1746.5 336.5 L1747.5 336.5 L1748.5 336.5 L1749.5 336.5 L1750.5 336.5 L1751.5 336.5 L1752.5 336.5 L1753.5 336.5 L1754.5 336.5 L1755.5 336.5 L1756.5 336.5 L1757.5 336.5 L1758.5 336.5 L1759.5 336.5 L1760.5 336.5 L1761.5 336.5 L1762.5 336.5 L1763.5 336.5 L1764.5 336.5 L1765.5 336.5 L1766.5 336.5 L1767.5 336.5 L1768.5 336.5 L1769.5 336.5 L1770.5 336.5 L1771.5 336.5 L1772.5 336.5 L1773.5 336.5 L1774.5 336.5 L1775.5 336.5 L1776.5 336.5 L1777.5 336.5 L1778.5 336.5 L1779.5 336.5 L1780.5 336.5 L1781.5 336.5 L1782.5 336.5 L1783.5 336.5 L1784.5 336.5 L1785.5 336.5 L1786.5 336.5 L1787.5 336.5 L1788.5 336.5 L1789.5 336.5 L1790.5 336.5 L1791.5 336.5 L1792.5 336.5 L1793.5 336.5 L1794.5 336.5 L1795.5 336.5 L1796.5 336.5 L1797.5 336.5 L1798.5 336.5 L1799.5 336.5 L1800.5 336.5 L1801.5 336.5 L1802.5 336.5 L1803.5 336.5 L1804.5 336.5 L1805.5 336.5 L1806.5 336.5 L1807.5 336.6 L1808.5 336.6 L1809.5 336.6 L1810.5 336.6 L1811.5 336.6 L1812.5 336.6 L1813.5 336.6 L1814.5 336.6 L1815.5 336.6 L1816.5 336.6 L1817.5 336.6 L1818.5 336.6 L1819.5 336.6 L1820.5 336.6 L1821.5 336.6 L1822.5 336.6 L1823.5 336.6 L1824.5 336.6 L1825.5 336.6 L1826.5 336.6 L1827.5 336.6 L1828.5 336.6 L1829.5 336.6 L1830.5 336.6 L1831.5 336.6 L1832.5 336.6 L1833.5 336.6 L1834.5 336.6 L1835.5 336.6 L1836.5 336.6 L1837.5 336.6 L1838.5 336.6 L1839.5 336.6 L1840.5 336.6 L1841.5 336.6 L1842.5 336.6 L1843.5 336.6 L1844.5 336.6 L1845.5 336.6 L1846.5 336.6 L1847.5 336.6 L1848.5 336.6 L1849.5 336.6 L1850.5 336.6 L1851.5 336.6 L1852.5 336.6 L1853.5 336.6 L1854.5 336.6 L1855.5 336.6 L1856.5 336.6 L1857.5 336.6 L1858.5 336.6 L1859.5 336.6 L1860.5 336.6 L1861.5 336.6 L1862.5 336.6 L1863.5 336.6 L1864.5 336.6 L1865.5 336.6 L1866.5 336.6 L1867.5 336.6 L1868.5 336.6 L1869.5 336.6 L1870.5 336.6 L1871.5 336.6 L1872.5 336.6 L1873.5 336.6 L1874.5 336.6 L1875.5 336.6 L1876.5 336.6 L1877.5 336.6 L1878.5 336.6 L1879.5 336.6 L1880.5 336.6 L1881.5 336.6 L1882.5 336.6 L1883.5 336.6 L1884.5 336.6 L1885.5 336.6 L1886.5 336.6 L1887.5 336.6 L1888.5 336.6 L1889.5 336.6 L1890.5 336.6 L1891.5 336.6 L1892.5 336.6 L1893.5 336.6 L1894.5 336.6 L1895.5 336.6 L1896.5 336.6 L1897.5 336.6 L1898.5 336.6 L1899.5 336.6 L1900.5 336.6 L1901.5 336.6 L1902.5 336.6 L1903.5 336.6 L1904.5 336.6 L1905.5 336.6 L1906.5 336.6 L1907.5 336.6 L1908.5 336.6 L1909.5 336.6 L1910.5 336.6 L1911.5 336.6 L1912.5 336.6 L1913.5 336.6 L1914.5 336.6 L1915.5 336.6 L1916.5 336.6 L1917.5 336.6 L1918.5 336.6 L1919.5 336.6 L1920.5 336.6 L1921.5 336.6 L1922.5 336.6 L1923.5 336.6 L1924.5 336.6 L1925.5 336.6 L1926.5 336.6 L1927.5 336.6 L1928.5 336.6 L1929.5 336.6 L1930.5 336.6 L1931.5 336.6 L1932.5 336.6 L1933.5 336.6 L1934.5 336.6 L1935.5 336.6 L1936.5 336.6 L1937.5 336.6 L1938.5 336.6 L1939.5 336.6 L1940.5 336.6 L1941.5 336.6 L1942.5 336.6 L1943.5 336.6 L1944.5 336.6 L1945.5 336.6 L1946.5 336.6 L1947.5 336.6 L1948.5 336.6 L1949.5 336.6 L1950.5 336.6 L1951.5 336.6 L1952.5 336.6 L1953.5 336.6 L1954.5 336.6 L1955.5 336.6 L1956.5 336.6 L1957.5 336.6 L1958.5 336.6 L1959.5 336.6 L1960.5 336.6 L1961.5 336.6 L1962.5 336.6 L1963.5 336.6 L1964.5 336.6 L1965.5 336.6 L1966.5 336.6 L1967.5 336.6 L1968.5 336.6 L1969.5 336.6 L1970.5 336.6 L1971.5 336.6 L1972.5 336.6 L1973.5 336.6 L1974.5 336.6 L1975.5 336.6 L1976.5 336.6 L1977.5 336.6 L1978.5 336.6 L1979.5 336.6 L1980.5 336.6 L1981.5 336.6 L1982.5 336.6 L1983.5 336.6 L1984.5 336.6 L1985.5 336.6 L1986.5 336.6 L1987.5 336.6" fill="none" stroke="#008000" stroke-width="1.2" stroke-linejoin="round" />
<path d="M1447.5 336.6 L1448.5 336.6 L1449.5 336.6 L1450.5 336.6 L1451.5 336.6 L1452.5 336.6 L1453.5 336.6 L1454.5 336.6 L1455.5 336.6 L1456.5 336.6 L1457.5 336.6 L1458.5 336.6 L1459.5 336.6 L1460.5 336.6 L1461.5 336.6 L1462.5 336.6 L1463.5 336.6 L1464.5 336.6 L1465.5 336.6 L1466.5 336.6 L1467.5 336.6 L1468.5 336.6 L1469.5 336.6 L1470.5 336.6 L1471.5 336.6 L1472.5 336.6 L1473.5 336.6 L1474.5 336.6 L1475.5 336.6 L1476.5 336.6 L1477.5 336.6 L1478.5 336.6 L1479.5 336.6 L1480.5 336.6 L1481.5 336.6 L1482.5 336.6 L1483.5 336.6 L1484.5 336.6 L1485.5 336.6 L1486.5 336.6 L1487.5 336.6 L1488.5 336.6 L1489.5 336.6 L1490.5 336.6 L1491.5 336.6 L1492.5 336.6 L1493.5 336.6 L1494.5 336.6 L1495.5 336.6 L1496.5 336.6 L1497.5 336.6 L1498.5 336.6 L1499.5 336.6 L1500.5 336.6 L1501.5 336.6 L1502.5 336.6 L1503.5 336.6 L1504.5 336.6 L1505.5 336.6 L1506.5 336.6 L1507.5 336.6 L1508.5 336.6 L1509.5 336.6 L1510.5 336.6 L1511.5 336.6 L1512.5 336.6 L1513.5 336.6 L1514.5 336.6 L1515.5 336.6 L1516.5 336.6 L1517.5 336.6 L1518.5 336.6 L1519.5 336.6 L1520.5 336.6 L1521.5 336.6 L1522.5 336.6 L1523.5 336.6 L1524.5 336.6 L1525.5 336.6 L1526.5 336.6 L1527.5 336.6 L1528.5 336.6 L1529.5 336.6 L1530.5 336.6 L1531.5 336.6 L1532.5 336.6 L1533.5 336.6 L1534.5 336.6 L1535.5 336.6 L1536.5 336.6 L1537.5 336.6 L1538.5 336.6 L1539.5 336.6 L1540.5 336.6 L1541.5 336.6 L1542.5 336.6 L1543.5 336.6 L1544.5 336.6 L1545.5 336.6 L1546.5 336.6 L1547.5 336.6 L1548.5 336.6 L1549.5 336.6 L1550.5 336.6 L1551.5 336.6 L1552.5 336.6 L1553.5 336.6 L1554.5 336.6 L1555.5 336.6 L1556.5 336.6 L1557.5 336.6 L1558.5 336.6 L1559.5 336.6 L1560.5 336.6 L1561.5 336.6 L1562.5 336.6 L1563.5 336.6 L1564.5 336.6 L1565.5 336.6 L1566.5 336.6 L1567.5 336.6 L1568.5 336.6 L1569.5 336.6 L1570.5 336.6 L1571.5 336.6 L1572.5 336.6 L1573.5 336.6 L1574.5 336.6 L1575.5 336.6 L1576.5 336.6 L1577.5 336.6 L1578.5 336.6 L1579.5 336.6 L1580.5 336.6 L1581.5 336.6 L1582.5 336.6 L1583.5 336.6 L1584.5 336.6 L1585.5 336.6 L1586.5 336.6 L1587.5 336.6 L1588.5 336.6 L1589.5 336.6 L1590.5 336.6 L1591.5 336.6 L1592.5 336.6 L1593.5 336.6 L1594.5 336.6 L1595.5 336.6 L1596.5 336.6 L1597.5 336.6 L1598.5 336.6 L1599.5 336.6 L1600.5 336.6 L1601.5 336.6 L1602.5 336.6 L1603.5 336.6 L1604.5 336.6 L1605.5 336.6 L1606.5 336.6 L1607.5 336.6 L1608.5 336.6 L1609.5 336.6 L1610.5 336.6 L1611.5 336.6 L1612.5 336.6 L1613.5 336.6 L1614.5 336.6 L1615.5 336.6 L1616.5 336.6 L1617.5 336.6 L1618.5 336.6 L1619.5 336.6 L1620.5 336.6 L1621.5 336.6 L1622.5 336.6 L1623.5 336.6 L1624.5 336.6 L1625.5 336.6 L1626.5 336.6 L1627.5 336.6 L1628.5 336.6 L1629.5 336.6 L1630.5 336.6 L1631.5 336.6 L1632.5 336.6 L1633.5 336.5 L1634.5 336.5 L1635.5 336.5 L1636.5 336.5 L1637.5 336.5 L1638.5 336.5 L1639.5 336.5 L1640.5 336.5 L1641.5 336.5 L1642.5 336.5 L1643.5 336.5 L1644.5 336.5 L1645.5 336.5 L1646.5 336.5 L1647.5 336.5 L1648.5 336.5 L1649.5 336.5 L1650.5 336.5 L1651.5 336.5 L1652.5 336.5 L1653.5 336.5 L1654.5 336.5 L1655.5 336.5 L1656.5 336.5 L1657.5 336.5 L1658.5 336.5 L1659.5 336.5 L1660.5 336.5 L1661.5 336.5 L1662.5 336.5 L1663.5 336.5 L1664.5 336.5 L1665.5 336.5 L1666.5 336.5 L1667.5 336.5 L1668.5 336.5 L1669.5 336.5 L1670.5 336.5 L1671.5 336.5 L1672.5 336.5 L1673.5 336.5 L1674.5 336.5 L1675.5 336.5 L1676.5 336.5 L1677.5 336.5 L1678.5 336.5 L1679.5 336.5 L1680.5 336.5 L1681.5 336.5 L1682.5 336.5 L1683.5 336.5 L1684.5 336.5 L1685.5 336.5 L1686.5 336.5 L1687.5 336.5 L1688.5 336.5 L1689.5 336.5 L1690.5 336.5 L1691.5 336.5 L1692.5 336.5 L1693.5 336.5 L1694.5 336.5 L1695.5 336.4 L1696.5 336.4 L1697.5 336.4 L1698.5 336.4 L1699.5 336.4 L1700.5 336.4 L1701.5 336.4 L1702.5 336.4 L1703.5 336.4 L1704.5 336.4 L1705.5 336.4 L1706.5 336.4 L1707.5 336.3 L1708.5 336.3 L1709.5 336.3 L1710.5 336.3 L1711.5 336.3 L1712.5 336.3 L1713.5 336.2 L1714.5 336.2 L1715.5 336.2 L1716.5 336.2 L1717.5 336.1 L1718.5 336.1 L1719.5 336.1 L1720.5 336 L1721.5 336 L1722.5 335.9 L1723.5 335.9 L1724.5 335.8 L1725.5 335.8 L1726.5 335.7 L1727.5 335.7 L1728.5 335.6 L1729.5 335.5 L1730.5 335.5 L1731.5 335.4 L1732.5 335.3 L1733.5 335.2 L1734.5 335.1 L1735.5 335 L1736.5 334.9 L1737.5 334.8 L1738.5 334.7 L1739.5 334.6 L1740.5 334.5 L1741.5 334.4 L1742.5 334.2 L1743.5 334.1 L1744.5 333.9 L1745.5 333.8 L1746.5 333.6 L1747.5 333.5 L1748.5 333.3 L1749.5 333.2 L1750.5 333 L1751.5 332.8 L1752.5 332.6 L1753.5 332.5 L1754.5 332.3 L1755.5 332.1 L1756.5 331.9 L1757.5 331.7 L1758.5 331.5 L1759.5 331.3 L1760.5 331.1 L1761.5 330.9 L1762.5 330.7 L1763.5 330.6 L1764.5 330.4 L1765.5 330.2 L1766.5 330 L1767.5 329.8 L1768.5 329.7 L1769.5 329.5 L1770.5 329.3 L1771.5 329.2 L1772.5 329 L1773.5 328.9 L1774.5 328.8 L1775.5 328.6 L1776.5 328.5 L1777.5 328.4 L1778.5 328.4 L1779.5 328.3 L1780.5 328.2 L1781.5 328.2 L1782.5 328.1 L1783.5 328.1 L1784.5 328.1 L1785.5 328.1 L1786.5 328.1 L1787.5 328.2 L1788.5 328.2 L1789.5 328.3 L1790.5 328.3 L1791.5 328.4 L1792.5 328.5 L1793.5 328.6 L1794.5 328.7 L1795.5 328.8 L1796.5 329 L1797.5 329.1 L1798.5 329.3 L1799.5 329.4 L1800.5 329.6 L1801.5 329.8 L1802.5 329.9 L1803.5 330.1 L1804.5 330.3 L1805.5 330.5 L1806.5 330.7 L1807.5 330.9 L1808.5 331.1 L1809.5 331.2 L1810.5 331.4 L1811.5 331.6 L1812.5 331.8 L1813.5 332 L1814.5 332.2 L1815.5 332.4 L1816.5 332.6 L1817.5 332.7 L1818.5 332.9 L1819.5 333.1 L1820.5 333.3 L1821.5 333.4 L1822.5 333.6 L1823.5 333.7 L1824.5 333.9 L1825.5 334 L1826.5 334.2 L1827.5 334.3 L1828.5 334.4 L1829.5 334.6 L1830.5 334.7 L1831.5 334.8 L1832.5 334.9 L1833.5 335 L1834.5 335.1 L1835.5 335.2 L1836.5 335.3 L1837.5 335.4 L1838.5 335.4 L1839.5 335.5 L1840.5 335.6 L1841.5 335.6 L1842.5 335.7 L1843.5 335.8 L1844.5 335.8 L1845.5 335.9 L1846.5 335.9 L1847.5 336 L1848.5 336 L1849.5 336 L1850.5 336.1 L1851.5 336.1 L1852.5 336.1 L1853.5 336.2 L1854.5 336.2 L1855.5 336.2 L1856.5 336.2 L1857.5 336.3 L1858.5 336.3 L1859.5 336.3 L1860.5 336.3 L1861.5 336.3 L1862.5 336.3 L1863.5 336.4 L1864.5 336.4 L1865.5 336.4 L1866.5 336.4 L1867.5 336.4 L1868.5 336.4 L1869.5 336.4 L1870.5 336.4 L1871.5 336.4 L1872.5 336.4 L1873.5 336.4 L1874.5 336.4 L1875.5 336.5 L1876.5 336.5 L1877.5 336.5 L1878.5 336.5 L1879.5 336.5 L1880.5 336.5 L1881.5 336.5 L1882.5 336.5 L1883.5 336.5 L1884.5 336.5 L1885.5 336.5 L1886.5 336.5 L1887.5 336.5 L1888.5 336.5 L1889.5 336.5 L1890.5 336.5 L1891.5 336.5 L1892.5 336.5 L1893.5 336.5 L1894.5 336.5 L1895.5 336.5 L1896.5 336.5 L1897.5 336.5 L1898.5 336.5 L1899.5 336.5 L1900.5 336.5 L1901.5 336.5 L1902.5 336.5 L1903.5 336.5 L1904.5 336.5 L1905.5 336.5 L1906.5 336.5 L1907.5 336.5 L1908.5 336.5 L1909.5 336.5 L1910.5 336.5 L1911.5 336.5 L1912.5 336.5 L1913.5 336.5 L1914.5 336.5 L1915.5 336.5 L1916.5 336.5 L1917.5 336.5 L1918.5 336.5 L1919.5 336.5 L1920.5 336.5 L1921.5 336.5 L1922.5 336.5 L1923.5 336.5 L1924.5 336.5 L1925.5 336.5 L1926.5 336.5 L1927.5 336.5 L1928.5 336.5 L1929.5 336.5 L1930.5 336.5 L1931.5 336.5 L1932.5 336.5 L1933.5 336.5 L1934.5 336.5 L1935.5 336.5 L1936.5 336.6 L1937.5 336.6 L1938.5 336.6 L1939.5 336.6 L1940.5 336.6 L1941.5 336.6 L1942.5 336.6 L1943.5 336.6 L1944.5 336.6 L1945.5 336.6 L1946.5 336.6 L1947.5 336.6 L1948.5 336.6 L1949.5 336.6 L1950.5 336.6 L1951.5 336.6 L1952.5 336.6 L1953.5 336.6 L1954.5 336.6 L1955.5 336.6 L1956.5 336.6 L1957.5 336.6 L1958.5 336.6 L1959.5 336.6 L1960.5 336.6 L1961.5 336.6 L1962.5 336.6 L1963.5 336.6 L1964.5 336.6 L1965.5 336.6 L1966.5 336.6 L1967.5 336.6 L1968.5 336.6 L1969.5 336.6 L1970.5 336.6 L1971.5 336.6 L1972.5 336.6 L1973.5 336.6 L1974.5 336.6 L1975.5 336.6 L1976.5 336.6 L1977.5 336.6 L1978.5 336.6 L1979.5 336.6 L1980.5 336.6 L1981.5 336.6 L1982.5 336.6 L1983.5 336.6 L1984.5 336.6 L1985.5 336.6 L1986.5 336.6 L1987.5 336.6" fill="none" stroke="#ff00ff" stroke-width="1.3" stroke-linejoin="round" />
<rect x="1446.7" y="8.2" width="541.6" height="402.4" fill="none" stroke="#000" stroke-width="1.7"/>
<line x1="1499.1" y1="410.6" x2="1499.1" y2="418.6" stroke="#000" stroke-width="1.6"/>
<line x1="1603.9" y1="410.6" x2="1603.9" y2="418.6" stroke="#000" stroke-width="1.6"/>
<line x1="1708.8" y1="410.6" x2="1708.8" y2="418.6" stroke="#000" stroke-width="1.6"/>
<line x1="1813.6" y1="410.6" x2="1813.6" y2="418.6" stroke="#000" stroke-width="1.6"/>
<line x1="1918.4" y1="410.6" x2="1918.4" y2="418.6" stroke="#000" stroke-width="1.6"/>
<line x1="1446.7" y1="410.6" x2="1446.7" y2="414.8" stroke="#000" stroke-width="1.6"/>
<line x1="1551.5" y1="410.6" x2="1551.5" y2="414.8" stroke="#000" stroke-width="1.6"/>
<line x1="1656.4" y1="410.6" x2="1656.4" y2="414.8" stroke="#000" stroke-width="1.6"/>
<line x1="1761.2" y1="410.6" x2="1761.2" y2="414.8" stroke="#000" stroke-width="1.6"/>
<line x1="1866" y1="410.6" x2="1866" y2="414.8" stroke="#000" stroke-width="1.6"/>
<line x1="1970.8" y1="410.6" x2="1970.8" y2="414.8" stroke="#000" stroke-width="1.6"/>
<text x="1499.1" y="441.6" font-size="22" font-weight="bold" text-anchor="middle" >135</text>
<text x="1603.9" y="441.6" font-size="22" font-weight="bold" text-anchor="middle" >138</text>
<text x="1708.8" y="441.6" font-size="22" font-weight="bold" text-anchor="middle" >141</text>
<text x="1813.6" y="441.6" font-size="22" font-weight="bold" text-anchor="middle" >144</text>
<text x="1918.4" y="441.6" font-size="22" font-weight="bold" text-anchor="middle" >147</text>
<text x="1453.5" y="40.5" font-size="42" font-weight="normal" text-anchor="start" >c</text>
<text x="1980.5" y="35.5" font-size="25.5" font-weight="bold" text-anchor="end" >Pb 4f</text>
<text x="1509" y="96.2" font-size="25.2" font-weight="normal" text-anchor="start" >Pb 4f<tspan font-size="12.5" dx="2.3">7/2</tspan></text>
<text x="1679.5" y="98.5" font-size="25.2" font-weight="normal" text-anchor="start" >Pb 4f<tspan font-size="12.5" dx="1.5">5/2</tspan></text>
<text x="1984" y="180.5" font-size="20.8" font-weight="normal" text-anchor="end" >PSMPs-HA-Pb<tspan font-size="13.4" dy="-10.3">2+</tspan></text>
<text x="1983.2" y="258.2" font-size="20.8" font-weight="normal" text-anchor="end" >PSMPs-HA</text>
<text x="1984" y="322.5" font-size="20.8" font-weight="normal" text-anchor="end" >PSMPs-Pb<tspan font-size="13.4" dy="-10.3">2+</tspan></text>
<text x="1983.2" y="371.2" font-size="20.8" font-weight="normal" text-anchor="end" >PSMPs</text>
<text x="1717.5" y="485.6" font-size="29.3" font-weight="bold" text-anchor="middle" >Binding Energy (eV)</text>
<text x="0" y="0" font-size="29" font-weight="bold" text-anchor="middle" transform="translate(1403.8 228.5) rotate(-90)">Intensity (a.u.)</text>
</svg>
</body></html>
